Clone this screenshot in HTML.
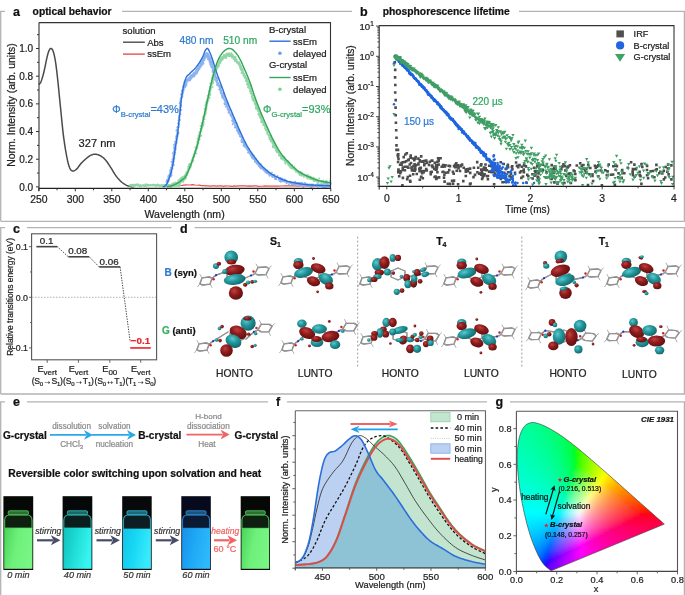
<!DOCTYPE html>
<html><head><meta charset="utf-8"><title>figure</title>
<style>html,body{margin:0;padding:0;background:#fff;overflow:hidden}svg{display:block;will-change:transform;filter:blur(0.35px)}text{font-family:"Liberation Sans",sans-serif}</style>
</head><body>
<svg width="685" height="595" viewBox="0 0 685 595" font-family="Liberation Sans, sans-serif" fill="#222">
<rect width="685" height="595" fill="#fff"/>
<path d="M0.7,221.3 L0.7,11.3 L5,11.3 M122,11.3 L352,11.3 M519,11.3 L684.4,11.3 L684.4,221.3 L0.7,221.3" stroke="#b3b3b3" stroke-width="1.3" fill="none"/>
<path d="M0.7,394 L0.7,227.6 L5,227.6 M27,227.6 L171.5,227.6 M194.5,227.6 L684.4,227.6 L684.4,394 L0.7,394" stroke="#b3b3b3" stroke-width="1.3" fill="none"/>
<path d="M0.7,600 L0.7,401.9 L5,401.9 M27,401.9 L268,401.9 M287,401.9 L487,401.9 M510,401.9 L684.4,401.9 L684.4,600" stroke="#b3b3b3" stroke-width="1.3" fill="none"/>
<text x="13.00" y="15.80" font-size="12.5" font-weight="bold" fill="#111" stroke="#111" stroke-width="0.22">a</text>
<text x="32.60" y="15.40" font-size="10.3" font-weight="bold" fill="#111" stroke="#111" stroke-width="0.22">optical behavior</text>
<path d="M38.80,84.48 L38.96,84.32 L39.18,84.15 L39.43,83.95 L39.71,83.71 L40.02,83.38 L40.34,82.96 L40.67,82.41 L40.99,81.72 L41.32,80.86 L41.67,79.88 L42.03,78.77 L42.40,77.56 L42.78,76.27 L43.16,74.90 L43.54,73.48 L43.91,72.03 L44.28,70.45 L44.66,68.71 L45.04,66.87 L45.42,64.98 L45.79,63.10 L46.15,61.31 L46.50,59.65 L46.83,58.19 L47.14,56.90 L47.43,55.72 L47.70,54.63 L47.97,53.65 L48.23,52.75 L48.49,51.94 L48.75,51.22 L49.02,50.58 L49.29,50.01 L49.57,49.54 L49.84,49.15 L50.11,48.85 L50.39,48.63 L50.66,48.50 L50.94,48.46 L51.21,48.50 L51.48,48.62 L51.76,48.81 L52.03,49.09 L52.30,49.45 L52.58,49.91 L52.85,50.48 L53.13,51.16 L53.40,51.96 L53.67,52.87 L53.95,53.89 L54.22,55.01 L54.49,56.24 L54.77,57.59 L55.04,59.05 L55.32,60.63 L55.59,62.34 L55.86,64.15 L56.12,66.04 L56.38,68.04 L56.64,70.17 L56.91,72.44 L57.18,74.88 L57.47,77.50 L57.78,80.33 L58.11,83.44 L58.46,86.85 L58.82,90.48 L59.19,94.26 L59.57,98.11 L59.95,101.97 L60.33,105.75 L60.70,109.40 L61.06,112.96 L61.41,116.54 L61.76,120.12 L62.11,123.67 L62.47,127.16 L62.84,130.58 L63.22,133.89 L63.62,137.08 L64.05,140.19 L64.50,143.29 L64.97,146.33 L65.44,149.27 L65.92,152.07 L66.39,154.69 L66.84,157.09 L67.27,159.22 L67.67,161.08 L68.05,162.70 L68.42,164.10 L68.78,165.32 L69.13,166.38 L69.48,167.31 L69.83,168.15 L70.19,168.91 L70.55,169.56 L70.90,170.06 L71.25,170.43 L71.60,170.68 L71.96,170.84 L72.33,170.94 L72.71,170.98 L73.11,170.98 L73.53,170.95 L73.95,170.84 L74.39,170.66 L74.84,170.42 L75.31,170.12 L75.78,169.77 L76.26,169.36 L76.76,168.91 L77.27,168.38 L77.79,167.75 L78.32,167.06 L78.86,166.31 L79.41,165.55 L79.98,164.79 L80.55,164.05 L81.14,163.37 L81.75,162.72 L82.38,162.07 L83.03,161.43 L83.69,160.80 L84.36,160.19 L85.01,159.61 L85.64,159.05 L86.25,158.53 L86.83,158.04 L87.40,157.57 L87.95,157.12 L88.49,156.70 L89.02,156.31 L89.55,155.96 L90.09,155.63 L90.63,155.34 L91.17,155.09 L91.71,154.86 L92.24,154.67 L92.77,154.51 L93.31,154.38 L93.86,154.29 L94.43,154.24 L95.01,154.24 L95.61,154.27 L96.24,154.35 L96.87,154.46 L97.52,154.61 L98.17,154.80 L98.83,155.03 L99.48,155.31 L100.12,155.62 L100.76,155.98 L101.40,156.37 L102.04,156.79 L102.67,157.27 L103.31,157.78 L103.95,158.35 L104.59,158.96 L105.23,159.64 L105.87,160.37 L106.51,161.18 L107.15,162.05 L107.78,162.97 L108.42,163.91 L109.06,164.88 L109.70,165.86 L110.34,166.83 L110.98,167.83 L111.62,168.89 L112.26,169.97 L112.89,171.06 L113.53,172.15 L114.17,173.20 L114.81,174.20 L115.45,175.14 L116.09,176.01 L116.73,176.84 L117.37,177.64 L118.00,178.40 L118.64,179.12 L119.28,179.81 L119.92,180.47 L120.56,181.09 L121.20,181.67 L121.84,182.22 L122.48,182.74 L123.11,183.22 L123.75,183.66 L124.39,184.08 L125.03,184.46 L125.67,184.82 L126.32,185.15 L127.00,185.45 L127.68,185.71 L128.36,185.94 L129.02,186.15 L129.66,186.33 L130.25,186.48 L130.78,186.62 L131.27,186.73 L131.73,186.81 L132.16,186.85 L132.56,186.87 L132.92,186.88 L133.23,186.89 L133.49,186.89 L133.70,186.90" fill="none" stroke="#4a4a4a" stroke-width="1.5"/>
<path d="M177.50,185.89 L179.69,185.54 L181.88,185.41 L184.07,185.05 L186.26,184.82 L188.45,184.98 L190.64,184.96 L192.83,184.55 L195.02,185.02 L197.21,185.25 L199.40,185.07 L201.59,185.58 L203.78,185.56 L205.97,185.89 L208.16,185.89 L210.35,186.21 L212.54,185.97 L214.73,185.85 L216.92,186.05 L219.11,185.93 L221.30,185.97 L223.49,186.31 L225.68,185.93 L227.87,186.02 L230.06,186.18 L232.25,186.33 L234.44,185.87 L236.63,186.08 L238.82,185.95 L241.01,185.86 L243.20,185.95 L245.39,185.84 L247.58,186.13 L249.77,185.90 L251.96,186.10 L254.15,185.83 L256.34,185.86 L258.53,186.29 L260.72,186.27 L262.91,186.23 L265.10,185.81 L267.29,186.10 L269.48,186.00 L271.67,186.18 L273.86,186.07 L276.05,186.13 L278.24,186.15 L280.43,186.02 L282.62,186.02 L284.81,185.85 L287.00,185.97 L289.19,185.83 L291.38,185.87 L293.57,185.80 L295.76,185.97 L297.95,186.26 L300.14,185.87 L302.33,185.81 L304.52,185.85 L306.71,186.03 L308.90,185.95 L311.09,186.23 L313.28,185.89 L315.47,186.03 L317.66,186.19 L319.85,186.31 L322.04,185.87 L324.23,185.80 L326.42,186.30 L328.61,185.90 L330.80,186.12" fill="none" stroke="#e8504a" stroke-width="1.2"/>
<path d="M129.32,185.86 L130.05,185.66 L130.78,185.01 L131.51,184.86 L132.24,186.01 L132.97,185.22 L133.70,186.01 L134.43,185.08 L135.16,185.61 L135.89,184.85 L136.62,184.71 L137.35,185.37 L138.08,184.69 L138.81,185.64 L139.54,185.96 L140.27,185.24 L141.00,186.03 L141.73,185.80 L142.46,185.51 L143.19,185.22 L143.92,185.85 L144.65,186.01 L145.38,184.87 L146.11,185.64 L146.84,184.74 L147.57,184.83 L148.30,185.55 L149.03,185.43 L149.76,185.35 L150.49,185.18 L151.22,185.25 L151.95,185.30 L152.68,185.21 L153.41,184.77 L154.14,185.37 L154.87,185.47 L155.60,185.07 L156.33,185.74 L157.06,185.65 L157.79,184.72 L158.52,185.35 L159.25,185.31 L159.98,186.05 L160.71,185.49 L161.44,185.27 L162.17,186.04 L162.90,185.22 L163.63,185.19 L164.36,185.99 L165.09,185.20 L165.82,185.42 L166.55,185.13 L167.28,185.58 L168.01,185.09 L168.74,185.05 L169.47,186.04 L170.20,185.99 L170.93,185.13 L171.66,184.74 L172.39,185.72 L173.12,185.44 L173.85,185.25 L174.58,185.63 L175.31,185.57 L176.04,185.64 L176.77,185.56 L177.50,185.25 L178.23,185.65 L178.96,185.55 L179.69,185.00 L180.42,186.03" fill="none" stroke="#8fd4a4" stroke-width="2.2"/>
<path d="M169.3,185.4h0.01 M170.1,186.6h0.01 M170.6,185.3h0.01 M170.7,186.9h0.01 M170.7,185.5h0.01 M170.5,186.6h0.01 M171.4,185.0h0.01 M171.3,185.4h0.01 M170.9,186.9h0.01 M171.8,185.1h0.01 M171.6,186.1h0.01 M171.2,185.6h0.01 M172.2,184.0h0.01 M172.0,186.2h0.01 M172.4,184.3h0.01 M172.2,184.7h0.01 M172.6,185.9h0.01 M172.4,184.7h0.01 M172.2,186.1h0.01 M172.0,185.8h0.01 M173.1,185.0h0.01 M174.2,185.3h0.01 M174.3,183.3h0.01 M171.7,186.0h0.01 M173.7,184.7h0.01 M173.3,183.3h0.01 M173.2,184.0h0.01 M173.4,185.7h0.01 M173.9,185.1h0.01 M173.4,184.4h0.01 M174.2,184.4h0.01 M174.9,183.9h0.01 M175.5,183.7h0.01 M175.0,183.9h0.01 M175.6,184.6h0.01 M174.8,185.1h0.01 M174.5,183.4h0.01 M173.6,185.4h0.01 M174.7,183.7h0.01 M175.1,186.0h0.01 M174.3,184.3h0.01 M175.1,184.6h0.01 M174.5,183.6h0.01 M176.1,185.4h0.01 M176.8,183.1h0.01 M175.9,183.8h0.01 M175.3,182.4h0.01 M176.6,184.0h0.01 M176.3,184.7h0.01 M175.7,184.1h0.01 M176.6,183.5h0.01 M176.9,183.7h0.01 M177.0,183.6h0.01 M178.0,183.1h0.01 M177.6,183.8h0.01 M176.8,184.0h0.01 M176.7,184.2h0.01 M176.8,182.7h0.01 M177.6,183.8h0.01 M178.0,183.9h0.01 M177.5,182.1h0.01 M178.0,183.2h0.01 M177.3,183.7h0.01 M178.0,182.0h0.01 M178.3,181.5h0.01 M177.5,183.1h0.01 M177.3,182.6h0.01 M177.4,183.3h0.01 M177.9,182.7h0.01 M177.5,182.2h0.01 M179.1,182.8h0.01 M177.4,183.2h0.01 M179.2,182.0h0.01 M179.6,181.4h0.01 M178.8,183.2h0.01 M179.6,183.4h0.01 M178.4,180.5h0.01 M179.2,180.8h0.01 M179.1,180.8h0.01 M179.8,182.7h0.01 M179.6,181.9h0.01 M179.3,181.6h0.01 M179.7,182.0h0.01 M179.7,181.4h0.01 M180.7,181.9h0.01 M180.4,182.9h0.01 M179.2,180.1h0.01 M180.5,181.2h0.01 M179.9,181.3h0.01 M179.9,180.4h0.01 M179.9,181.0h0.01 M180.0,179.3h0.01 M180.6,181.6h0.01 M179.1,180.6h0.01 M180.3,181.7h0.01 M180.3,182.4h0.01 M180.4,180.1h0.01 M180.0,181.7h0.01 M180.2,181.7h0.01 M181.2,181.5h0.01 M181.3,180.7h0.01 M180.7,180.3h0.01 M180.5,179.3h0.01 M180.5,179.7h0.01 M180.1,180.7h0.01 M181.3,180.3h0.01 M182.0,181.3h0.01 M181.8,179.9h0.01 M180.4,180.8h0.01 M181.5,180.9h0.01 M181.7,181.3h0.01 M181.3,180.8h0.01 M181.1,178.0h0.01 M181.4,181.4h0.01 M180.8,180.8h0.01 M181.4,179.6h0.01 M182.0,180.0h0.01 M181.4,179.9h0.01 M182.4,180.4h0.01 M181.6,181.1h0.01 M183.4,181.8h0.01 M181.5,179.7h0.01 M181.3,179.8h0.01 M182.7,178.4h0.01 M181.6,179.5h0.01 M183.0,178.6h0.01 M182.6,177.0h0.01 M182.3,179.4h0.01 M183.0,180.6h0.01 M182.2,177.1h0.01 M183.3,178.5h0.01 M183.2,179.7h0.01 M183.6,180.2h0.01 M184.0,177.4h0.01 M183.4,180.6h0.01 M183.2,179.6h0.01 M183.5,178.2h0.01 M184.5,179.5h0.01 M183.6,179.3h0.01 M182.9,177.8h0.01 M184.4,178.3h0.01 M183.3,178.7h0.01 M184.3,179.3h0.01 M184.7,177.9h0.01 M184.0,177.8h0.01 M184.1,179.2h0.01 M185.4,178.9h0.01 M184.7,177.5h0.01 M185.2,177.1h0.01 M184.8,176.0h0.01 M184.6,178.5h0.01 M184.2,175.9h0.01 M184.9,178.4h0.01 M185.9,176.6h0.01 M184.9,176.5h0.01 M184.6,176.7h0.01 M185.2,175.0h0.01 M185.0,176.1h0.01 M185.1,175.0h0.01 M186.1,177.7h0.01 M185.6,175.2h0.01 M186.1,175.4h0.01 M185.5,176.5h0.01 M185.4,174.6h0.01 M185.8,174.1h0.01 M186.1,175.4h0.01 M187.3,175.1h0.01 M186.4,173.3h0.01 M186.6,173.2h0.01 M186.6,174.9h0.01 M187.0,173.4h0.01 M186.4,173.6h0.01 M187.1,172.3h0.01 M186.8,173.9h0.01 M186.3,172.3h0.01 M186.6,174.1h0.01 M187.9,172.7h0.01 M187.8,172.5h0.01 M187.9,170.3h0.01 M187.9,172.2h0.01 M187.1,171.9h0.01 M188.4,169.8h0.01 M187.9,170.4h0.01 M187.9,171.0h0.01 M187.7,170.0h0.01 M188.6,170.8h0.01 M188.7,169.4h0.01 M189.1,167.8h0.01 M189.5,168.8h0.01 M188.2,168.7h0.01 M188.0,166.7h0.01 M188.9,167.8h0.01 M189.8,167.2h0.01 M188.6,167.1h0.01 M190.6,167.4h0.01 M189.2,166.5h0.01 M189.2,166.7h0.01 M190.1,167.8h0.01 M190.8,166.5h0.01 M189.7,165.5h0.01 M188.9,164.7h0.01 M190.6,165.3h0.01 M190.8,163.8h0.01 M191.1,165.3h0.01 M190.8,164.8h0.01 M189.4,163.9h0.01 M190.5,165.4h0.01 M190.9,163.4h0.01 M191.8,162.2h0.01 M192.1,162.5h0.01 M191.5,161.7h0.01 M192.0,160.6h0.01 M192.2,161.1h0.01 M191.8,160.8h0.01 M192.1,161.3h0.01 M192.4,161.4h0.01 M192.6,161.3h0.01 M192.0,159.4h0.01 M191.8,160.3h0.01 M192.3,160.7h0.01 M192.8,158.1h0.01 M193.3,160.7h0.01 M192.9,157.4h0.01 M192.5,159.1h0.01 M192.9,157.1h0.01 M193.7,157.5h0.01 M193.6,156.3h0.01 M193.2,156.9h0.01 M193.9,156.5h0.01 M193.5,156.3h0.01 M194.4,155.3h0.01 M194.4,156.2h0.01 M194.4,154.6h0.01 M193.7,154.8h0.01 M194.5,153.5h0.01 M194.1,154.2h0.01 M196.4,153.4h0.01 M194.9,153.4h0.01 M194.7,152.3h0.01 M194.7,151.6h0.01 M195.4,151.7h0.01 M195.2,150.8h0.01 M195.7,149.8h0.01 M196.0,150.4h0.01 M195.8,150.7h0.01 M196.1,148.9h0.01 M195.8,149.6h0.01 M195.3,147.1h0.01 M196.2,148.6h0.01 M196.5,148.7h0.01 M196.5,148.1h0.01 M197.2,148.4h0.01 M197.0,146.9h0.01 M197.3,147.1h0.01 M197.3,144.7h0.01 M197.0,146.5h0.01 M196.7,147.1h0.01 M197.2,145.8h0.01 M196.9,147.0h0.01 M197.6,145.9h0.01 M196.9,145.9h0.01 M197.7,144.5h0.01 M197.4,142.7h0.01 M197.9,143.2h0.01 M198.2,143.2h0.01 M197.3,143.9h0.01 M197.9,142.0h0.01 M197.8,143.5h0.01 M197.8,141.2h0.01 M197.8,141.5h0.01 M197.8,141.9h0.01 M198.1,141.6h0.01 M197.3,141.6h0.01 M198.1,140.9h0.01 M198.5,142.4h0.01 M197.6,139.3h0.01 M199.0,139.4h0.01 M199.3,139.3h0.01 M198.4,140.3h0.01 M199.2,140.0h0.01 M199.1,138.9h0.01 M198.5,138.8h0.01 M199.7,139.1h0.01 M198.9,138.7h0.01 M199.6,138.9h0.01 M199.0,137.8h0.01 M199.4,139.6h0.01 M199.3,138.4h0.01 M198.4,137.4h0.01 M198.5,135.7h0.01 M199.1,135.9h0.01 M199.6,136.4h0.01 M199.8,135.0h0.01 M201.2,135.8h0.01 M200.2,136.6h0.01 M200.4,135.3h0.01 M200.1,135.8h0.01 M199.3,133.2h0.01 M200.2,131.6h0.01 M199.6,134.4h0.01 M200.0,132.9h0.01 M200.7,131.7h0.01 M200.6,131.4h0.01 M199.8,131.7h0.01 M200.6,130.9h0.01 M200.2,132.1h0.01 M201.5,131.0h0.01 M200.8,129.5h0.01 M200.5,128.7h0.01 M201.1,130.5h0.01 M201.7,128.9h0.01 M201.0,129.1h0.01 M201.5,128.6h0.01 M202.3,127.5h0.01 M202.8,125.4h0.01 M200.5,125.9h0.01 M201.2,126.2h0.01 M203.0,125.8h0.01 M202.6,125.3h0.01 M202.1,124.7h0.01 M203.5,124.7h0.01 M201.8,126.8h0.01 M202.5,124.3h0.01 M202.3,123.2h0.01 M201.7,122.9h0.01 M203.5,123.4h0.01 M202.7,123.1h0.01 M202.2,123.4h0.01 M203.0,120.6h0.01 M203.4,121.8h0.01 M203.0,120.6h0.01 M203.8,121.7h0.01 M202.9,117.2h0.01 M204.6,119.4h0.01 M203.3,119.1h0.01 M203.3,119.7h0.01 M203.1,117.7h0.01 M203.1,119.2h0.01 M203.8,118.0h0.01 M204.8,116.0h0.01 M204.1,116.8h0.01 M204.2,116.1h0.01 M204.9,116.1h0.01 M204.0,115.2h0.01 M205.0,114.7h0.01 M204.7,113.5h0.01 M205.8,113.5h0.01 M204.9,113.7h0.01 M205.0,113.0h0.01 M204.5,113.2h0.01 M205.8,112.4h0.01 M205.6,112.5h0.01 M205.3,112.9h0.01 M204.9,111.6h0.01 M206.1,110.7h0.01 M204.9,109.5h0.01 M206.6,108.8h0.01 M205.7,110.2h0.01 M205.9,107.3h0.01 M204.7,108.8h0.01 M205.5,107.9h0.01 M206.1,108.2h0.01 M205.4,105.8h0.01 M206.7,106.7h0.01 M205.7,104.7h0.01 M206.7,105.4h0.01 M205.9,106.3h0.01 M206.7,106.2h0.01 M205.9,102.4h0.01 M206.1,104.7h0.01 M206.5,105.0h0.01 M207.1,103.2h0.01 M207.4,103.3h0.01 M206.7,104.4h0.01 M206.2,103.5h0.01 M207.8,100.8h0.01 M207.2,101.7h0.01 M206.7,101.3h0.01 M207.0,101.1h0.01 M207.2,99.1h0.01 M208.4,101.1h0.01 M207.2,101.1h0.01 M209.1,98.2h0.01 M207.6,99.1h0.01 M208.4,98.5h0.01 M207.2,99.9h0.01 M208.0,98.7h0.01 M209.6,97.4h0.01 M208.1,98.1h0.01 M208.3,97.8h0.01 M208.5,99.1h0.01 M208.9,96.9h0.01 M208.8,96.2h0.01 M207.7,95.6h0.01 M209.3,94.0h0.01 M208.9,95.0h0.01 M208.7,96.6h0.01 M209.5,94.7h0.01 M208.7,93.7h0.01 M209.0,93.6h0.01 M209.5,95.2h0.01 M210.2,94.5h0.01 M210.4,94.8h0.01 M209.2,91.1h0.01 M209.9,91.8h0.01 M209.8,91.0h0.01 M210.3,92.4h0.01 M210.0,90.6h0.01 M210.8,89.9h0.01 M209.9,90.4h0.01 M208.9,91.1h0.01 M210.2,89.9h0.01 M210.6,89.1h0.01 M209.6,90.3h0.01 M211.0,88.3h0.01 M212.5,86.9h0.01 M211.2,87.3h0.01 M209.9,89.1h0.01 M210.0,86.8h0.01 M210.9,86.9h0.01 M210.6,87.3h0.01 M211.3,84.9h0.01 M210.6,85.6h0.01 M210.6,85.8h0.01 M211.7,84.2h0.01 M210.3,83.5h0.01 M211.9,83.6h0.01 M212.8,83.7h0.01 M212.1,84.0h0.01 M211.9,83.7h0.01 M212.6,82.7h0.01 M212.2,82.5h0.01 M213.4,82.3h0.01 M212.7,79.5h0.01 M212.1,80.5h0.01 M212.4,81.1h0.01 M211.9,80.7h0.01 M213.0,81.9h0.01 M212.4,81.3h0.01 M212.3,80.9h0.01 M212.3,80.6h0.01 M214.3,79.4h0.01 M213.8,77.8h0.01 M212.7,81.5h0.01 M213.2,79.0h0.01 M212.2,78.5h0.01 M212.9,79.0h0.01 M213.0,80.2h0.01 M212.9,77.7h0.01 M212.3,77.0h0.01 M214.4,76.7h0.01 M212.9,77.3h0.01 M214.4,76.7h0.01 M214.5,75.0h0.01 M215.1,76.3h0.01 M212.8,77.4h0.01 M213.9,75.6h0.01 M213.0,74.6h0.01 M213.2,75.4h0.01 M214.2,73.8h0.01 M214.3,75.1h0.01 M214.0,74.6h0.01 M213.9,72.1h0.01 M214.4,73.3h0.01 M214.9,73.9h0.01 M214.6,72.7h0.01 M215.4,72.9h0.01 M214.9,72.8h0.01 M213.8,71.5h0.01 M214.2,71.7h0.01 M215.8,70.0h0.01 M215.8,71.0h0.01 M215.3,70.6h0.01 M215.9,70.5h0.01 M214.3,70.9h0.01 M215.5,71.1h0.01 M216.1,69.0h0.01 M215.9,70.2h0.01 M215.9,69.7h0.01 M216.1,69.1h0.01 M216.0,70.1h0.01 M215.4,69.1h0.01 M215.6,67.8h0.01 M216.0,68.9h0.01 M217.3,68.1h0.01 M217.0,68.8h0.01 M216.6,65.1h0.01 M216.6,67.9h0.01 M216.1,67.6h0.01 M217.6,66.4h0.01 M216.6,67.8h0.01 M215.8,66.1h0.01 M217.2,67.5h0.01 M217.8,67.3h0.01 M218.6,66.6h0.01 M216.5,66.1h0.01 M217.8,66.2h0.01 M216.3,66.2h0.01 M217.1,65.3h0.01 M218.5,65.3h0.01 M217.4,65.0h0.01 M217.4,66.9h0.01 M218.5,65.6h0.01 M217.5,64.2h0.01 M218.3,62.4h0.01 M218.8,63.2h0.01 M218.4,64.3h0.01 M217.9,64.4h0.01 M218.9,65.4h0.01 M218.8,65.3h0.01 M219.0,63.2h0.01 M219.2,62.9h0.01 M219.0,63.6h0.01 M219.6,63.3h0.01 M218.2,63.9h0.01 M219.2,62.5h0.01 M218.8,63.0h0.01 M219.5,63.1h0.01 M219.4,63.5h0.01 M219.3,62.5h0.01 M219.8,62.8h0.01 M219.2,61.6h0.01 M219.7,61.0h0.01 M219.4,60.5h0.01 M220.5,62.7h0.01 M219.4,62.0h0.01 M219.5,60.3h0.01 M220.0,61.2h0.01 M220.7,59.0h0.01 M219.6,60.9h0.01 M220.4,62.4h0.01 M220.4,59.9h0.01 M221.5,57.9h0.01 M219.6,62.7h0.01 M220.6,60.1h0.01 M220.8,59.2h0.01 M221.0,58.6h0.01 M221.7,60.5h0.01 M221.7,58.8h0.01 M220.1,59.1h0.01 M220.8,59.7h0.01 M220.5,58.5h0.01 M221.7,59.5h0.01 M221.7,58.0h0.01 M221.4,60.7h0.01 M222.3,58.2h0.01 M223.1,58.6h0.01 M221.9,58.0h0.01 M223.0,58.6h0.01 M222.0,57.7h0.01 M221.5,58.5h0.01 M222.3,59.8h0.01 M221.9,57.9h0.01 M223.0,58.9h0.01 M222.2,59.3h0.01 M222.9,58.8h0.01 M222.9,58.8h0.01 M222.5,57.7h0.01 M223.5,58.1h0.01 M223.1,58.8h0.01 M223.2,58.0h0.01 M221.7,57.1h0.01 M223.7,56.7h0.01 M223.0,57.7h0.01 M223.3,58.1h0.01 M223.6,57.2h0.01 M224.1,56.9h0.01 M223.1,57.5h0.01 M224.0,57.0h0.01 M223.0,56.6h0.01 M223.9,57.6h0.01 M224.8,56.8h0.01 M223.8,54.9h0.01 M224.7,57.7h0.01 M224.1,56.1h0.01 M222.5,57.4h0.01 M223.8,58.0h0.01 M224.7,57.8h0.01 M224.3,57.6h0.01 M223.5,57.8h0.01 M224.5,55.4h0.01 M224.3,55.6h0.01 M224.8,55.7h0.01 M223.9,56.0h0.01 M224.7,56.4h0.01 M225.2,57.4h0.01 M225.2,57.6h0.01 M223.5,56.1h0.01 M225.7,54.9h0.01 M225.0,56.2h0.01 M224.3,55.4h0.01 M225.6,55.7h0.01 M226.3,58.0h0.01 M225.3,54.8h0.01 M225.5,55.3h0.01 M224.7,55.4h0.01 M225.4,55.4h0.01 M226.2,56.6h0.01 M226.0,55.3h0.01 M226.0,55.6h0.01 M226.1,54.6h0.01 M224.1,56.3h0.01 M225.7,55.0h0.01 M226.0,55.4h0.01 M226.0,56.7h0.01 M226.3,55.6h0.01 M225.8,55.2h0.01 M226.6,55.2h0.01 M226.6,54.4h0.01 M226.7,54.3h0.01 M226.3,54.5h0.01 M226.7,56.1h0.01 M226.9,54.3h0.01 M226.8,56.0h0.01 M227.3,55.5h0.01 M226.2,54.5h0.01 M226.6,54.6h0.01 M227.1,55.0h0.01 M226.9,55.4h0.01 M226.7,54.6h0.01 M227.3,53.7h0.01 M226.7,53.6h0.01 M226.8,54.7h0.01 M227.3,55.2h0.01 M227.7,53.8h0.01 M228.6,56.0h0.01 M226.9,54.2h0.01 M227.4,55.0h0.01 M228.2,54.8h0.01 M226.3,57.3h0.01 M228.4,55.5h0.01 M227.5,54.8h0.01 M228.6,54.3h0.01 M228.8,54.8h0.01 M229.2,54.8h0.01 M229.1,53.3h0.01 M229.2,55.1h0.01 M228.2,55.7h0.01 M228.4,55.5h0.01 M229.1,55.7h0.01 M230.0,56.0h0.01 M230.2,55.4h0.01 M228.9,55.1h0.01 M228.8,53.6h0.01 M229.1,53.7h0.01 M228.8,54.5h0.01 M228.8,53.8h0.01 M229.2,54.7h0.01 M230.1,55.3h0.01 M229.9,54.3h0.01 M229.3,53.6h0.01 M228.9,55.4h0.01 M229.5,54.6h0.01 M229.3,56.2h0.01 M229.7,55.8h0.01 M229.7,55.6h0.01 M229.3,53.6h0.01 M230.6,54.5h0.01 M230.2,55.6h0.01 M230.5,55.1h0.01 M229.5,54.3h0.01 M230.3,55.5h0.01 M230.7,55.3h0.01 M229.9,54.9h0.01 M231.1,54.2h0.01 M230.2,55.8h0.01 M231.7,55.4h0.01 M230.7,54.2h0.01 M230.8,54.4h0.01 M231.0,55.8h0.01 M231.3,56.4h0.01 M230.5,54.1h0.01 M232.1,56.2h0.01 M230.7,55.4h0.01 M230.8,55.4h0.01 M231.6,56.2h0.01 M231.0,54.4h0.01 M232.0,55.2h0.01 M232.6,54.6h0.01 M231.4,53.2h0.01 M232.7,56.9h0.01 M232.2,55.5h0.01 M231.0,54.7h0.01 M231.9,57.6h0.01 M232.9,55.5h0.01 M232.7,56.5h0.01 M232.9,55.4h0.01 M232.3,57.1h0.01 M233.2,56.1h0.01 M234.3,56.7h0.01 M232.8,57.4h0.01 M233.5,56.5h0.01 M234.3,57.8h0.01 M233.3,57.4h0.01 M233.9,56.8h0.01 M233.9,56.5h0.01 M233.6,57.8h0.01 M233.0,56.9h0.01 M233.4,58.1h0.01 M233.6,59.1h0.01 M235.1,57.1h0.01 M234.3,57.4h0.01 M234.4,58.6h0.01 M235.3,59.9h0.01 M235.8,57.1h0.01 M234.4,58.1h0.01 M234.7,58.6h0.01 M235.3,58.1h0.01 M234.8,60.9h0.01 M235.6,60.7h0.01 M235.1,60.3h0.01 M236.4,60.3h0.01 M235.2,59.8h0.01 M235.2,58.4h0.01 M235.9,60.1h0.01 M235.8,59.6h0.01 M236.5,59.4h0.01 M236.4,60.7h0.01 M236.8,60.8h0.01 M235.8,60.0h0.01 M236.4,61.2h0.01 M235.6,60.7h0.01 M236.0,61.5h0.01 M236.6,61.0h0.01 M237.7,62.8h0.01 M236.6,61.4h0.01 M236.2,61.4h0.01 M237.0,62.2h0.01 M237.6,62.1h0.01 M237.0,61.7h0.01 M237.2,62.3h0.01 M236.9,62.5h0.01 M238.8,65.0h0.01 M239.0,63.8h0.01 M238.8,64.4h0.01 M238.3,63.4h0.01 M237.4,63.0h0.01 M239.2,61.9h0.01 M239.0,63.7h0.01 M238.6,64.1h0.01 M239.0,63.2h0.01 M238.9,62.6h0.01 M240.1,64.5h0.01 M239.7,63.8h0.01 M240.5,65.9h0.01 M239.6,65.2h0.01 M239.9,64.7h0.01 M239.6,65.2h0.01 M240.1,67.2h0.01 M240.6,66.0h0.01 M240.5,66.0h0.01 M239.8,64.8h0.01 M239.5,65.6h0.01 M240.2,66.5h0.01 M240.8,68.1h0.01 M240.9,67.0h0.01 M240.4,67.3h0.01 M241.1,66.7h0.01 M240.0,67.8h0.01 M241.6,69.1h0.01 M241.5,66.7h0.01 M241.1,69.1h0.01 M242.0,70.6h0.01 M240.8,69.2h0.01 M240.6,69.2h0.01 M241.3,70.1h0.01 M241.9,68.3h0.01 M241.7,70.2h0.01 M242.9,69.7h0.01 M241.5,69.8h0.01 M242.8,70.5h0.01 M242.3,71.2h0.01 M242.0,72.3h0.01 M241.5,72.9h0.01 M242.3,71.0h0.01 M242.2,70.7h0.01 M242.4,71.5h0.01 M242.2,72.1h0.01 M243.3,72.2h0.01 M243.2,72.0h0.01 M243.5,72.9h0.01 M242.7,73.3h0.01 M243.5,73.1h0.01 M243.6,74.2h0.01 M243.1,73.8h0.01 M244.2,74.2h0.01 M244.5,76.9h0.01 M243.3,75.1h0.01 M244.1,76.5h0.01 M244.6,74.0h0.01 M245.2,75.8h0.01 M244.4,75.8h0.01 M244.9,75.6h0.01 M244.6,77.5h0.01 M244.4,76.3h0.01 M245.5,76.0h0.01 M245.2,77.7h0.01 M244.7,77.1h0.01 M245.0,77.7h0.01 M245.7,77.9h0.01 M245.9,78.8h0.01 M246.2,77.5h0.01 M246.1,80.5h0.01 M245.9,78.8h0.01 M246.3,78.9h0.01 M246.6,79.6h0.01 M246.4,80.8h0.01 M247.2,78.9h0.01 M246.5,80.5h0.01 M245.9,81.3h0.01 M248.3,82.0h0.01 M247.8,79.5h0.01 M247.0,80.7h0.01 M247.7,81.7h0.01 M247.4,82.9h0.01 M248.0,83.9h0.01 M248.6,83.8h0.01 M246.8,84.1h0.01 M248.1,82.2h0.01 M248.1,83.3h0.01 M248.2,85.0h0.01 M247.4,84.7h0.01 M249.2,83.7h0.01 M249.3,84.1h0.01 M248.3,86.1h0.01 M248.7,83.6h0.01 M248.6,86.5h0.01 M248.6,85.4h0.01 M249.2,86.4h0.01 M248.8,85.6h0.01 M249.7,88.1h0.01 M247.9,87.4h0.01 M250.2,86.8h0.01 M250.5,86.3h0.01 M250.4,89.7h0.01 M250.8,85.8h0.01 M250.1,87.9h0.01 M250.3,90.1h0.01 M250.5,90.9h0.01 M249.3,88.6h0.01 M250.2,90.6h0.01 M251.2,89.2h0.01 M250.2,91.4h0.01 M249.9,91.1h0.01 M250.4,91.1h0.01 M252.2,91.0h0.01 M251.2,91.1h0.01 M251.5,93.2h0.01 M251.7,91.2h0.01 M251.5,93.8h0.01 M251.0,92.9h0.01 M251.0,92.5h0.01 M251.1,92.4h0.01 M252.0,93.6h0.01 M250.6,93.3h0.01 M251.5,93.3h0.01 M252.2,94.7h0.01 M252.4,93.7h0.01 M251.9,95.1h0.01 M252.1,95.2h0.01 M252.1,96.0h0.01 M253.6,95.4h0.01 M251.8,97.0h0.01 M252.2,97.4h0.01 M253.6,98.8h0.01 M253.1,95.8h0.01 M254.2,98.8h0.01 M254.0,98.0h0.01 M253.2,98.6h0.01 M252.3,99.4h0.01 M253.3,98.6h0.01 M253.8,98.4h0.01 M254.3,99.2h0.01 M255.3,100.9h0.01 M254.5,100.7h0.01 M254.1,99.9h0.01 M253.2,100.5h0.01 M253.8,100.5h0.01 M254.6,99.9h0.01 M253.8,101.0h0.01 M254.5,103.0h0.01 M256.4,102.1h0.01 M255.4,102.8h0.01 M255.2,104.4h0.01 M255.3,103.9h0.01 M255.3,102.9h0.01 M256.1,103.9h0.01 M256.3,103.0h0.01 M256.0,106.1h0.01 M255.3,104.9h0.01 M256.8,105.6h0.01 M255.5,104.9h0.01 M256.4,105.3h0.01 M255.9,106.0h0.01 M255.7,108.0h0.01 M256.1,106.4h0.01 M256.7,108.3h0.01 M256.4,108.9h0.01 M258.0,108.3h0.01 M256.1,106.5h0.01 M257.0,108.5h0.01 M257.5,109.4h0.01 M257.7,108.9h0.01 M257.6,107.1h0.01 M258.3,108.1h0.01 M256.5,108.8h0.01 M257.6,109.0h0.01 M257.7,110.2h0.01 M258.5,111.0h0.01 M257.8,110.8h0.01 M259.1,111.1h0.01 M258.3,109.4h0.01 M258.8,113.7h0.01 M259.1,111.7h0.01 M259.6,113.6h0.01 M259.7,111.5h0.01 M258.4,113.8h0.01 M259.4,113.5h0.01 M258.5,114.4h0.01 M260.5,114.8h0.01 M261.2,114.8h0.01 M259.7,116.0h0.01 M260.5,112.9h0.01 M259.0,115.2h0.01 M259.8,117.2h0.01 M261.1,116.7h0.01 M260.2,116.0h0.01 M260.9,115.9h0.01 M261.1,117.0h0.01 M261.1,116.9h0.01 M260.5,114.7h0.01 M260.1,116.0h0.01 M261.6,116.7h0.01 M260.8,118.4h0.01 M261.9,119.5h0.01 M261.7,120.0h0.01 M261.4,120.2h0.01 M260.9,118.8h0.01 M262.2,120.3h0.01 M261.8,119.2h0.01 M261.5,118.3h0.01 M261.1,121.8h0.01 M261.4,119.6h0.01 M261.5,120.7h0.01 M262.6,121.0h0.01 M262.0,121.5h0.01 M262.2,122.5h0.01 M264.0,121.3h0.01 M263.5,122.3h0.01 M263.1,121.6h0.01 M263.6,123.4h0.01 M264.4,125.6h0.01 M263.2,125.0h0.01 M263.4,123.5h0.01 M263.4,125.0h0.01 M264.9,124.5h0.01 M264.6,124.5h0.01 M264.2,124.0h0.01 M264.7,124.0h0.01 M266.1,127.0h0.01 M264.6,126.0h0.01 M264.7,126.5h0.01 M265.4,128.7h0.01 M265.0,125.3h0.01 M265.7,128.0h0.01 M265.1,128.4h0.01 M265.7,127.5h0.01 M265.8,127.1h0.01 M265.9,130.4h0.01 M266.8,129.4h0.01 M266.5,129.7h0.01 M265.7,129.6h0.01 M266.3,129.5h0.01 M267.7,129.4h0.01 M267.0,130.7h0.01 M267.6,130.4h0.01 M267.6,131.6h0.01 M267.2,130.8h0.01 M267.0,132.9h0.01 M267.1,133.0h0.01 M268.9,132.0h0.01 M267.3,131.6h0.01 M267.9,134.4h0.01 M267.7,132.2h0.01 M267.5,133.9h0.01 M268.8,135.2h0.01 M269.0,134.4h0.01 M268.8,137.1h0.01 M270.1,135.9h0.01 M268.9,134.9h0.01 M269.4,135.6h0.01 M269.7,135.1h0.01 M270.9,135.4h0.01 M270.1,137.0h0.01 M270.6,138.2h0.01 M270.2,137.2h0.01 M271.2,138.8h0.01 M270.4,138.4h0.01 M270.0,138.6h0.01 M269.4,139.3h0.01 M270.6,139.7h0.01 M271.3,138.3h0.01 M271.8,141.0h0.01 M270.8,141.2h0.01 M271.9,139.3h0.01 M271.5,140.4h0.01 M272.4,140.0h0.01 M271.7,141.1h0.01 M272.4,143.1h0.01 M272.7,142.1h0.01 M272.0,141.1h0.01 M271.9,141.8h0.01 M273.2,144.0h0.01 M273.4,141.7h0.01 M273.1,145.0h0.01 M273.2,143.5h0.01 M272.6,142.3h0.01 M273.2,143.3h0.01 M274.1,144.0h0.01 M272.7,146.3h0.01 M274.3,143.1h0.01 M275.0,145.4h0.01 M274.2,145.2h0.01 M274.6,143.1h0.01 M275.2,145.9h0.01 M275.0,145.2h0.01 M274.5,147.6h0.01 M272.9,147.3h0.01 M275.9,145.2h0.01 M275.0,146.1h0.01 M275.1,146.0h0.01 M274.6,147.2h0.01 M275.5,148.2h0.01 M276.2,147.1h0.01 M277.2,149.6h0.01 M275.1,148.0h0.01 M276.0,149.0h0.01 M275.7,150.0h0.01 M276.3,150.9h0.01 M276.1,150.8h0.01 M277.0,150.3h0.01 M277.0,149.8h0.01 M276.5,149.7h0.01 M276.6,149.7h0.01 M277.1,151.0h0.01 M277.5,150.1h0.01 M276.5,151.6h0.01 M277.1,150.4h0.01 M278.1,151.2h0.01 M277.9,151.3h0.01 M277.0,152.2h0.01 M278.0,152.3h0.01 M278.4,151.7h0.01 M279.2,152.1h0.01 M279.3,153.0h0.01 M279.1,153.4h0.01 M279.3,152.0h0.01 M278.8,154.1h0.01 M279.1,152.9h0.01 M279.2,154.1h0.01 M279.0,153.6h0.01 M279.2,153.0h0.01 M280.2,153.5h0.01 M279.8,154.4h0.01 M280.3,154.9h0.01 M280.5,153.8h0.01 M278.9,155.6h0.01 M281.3,154.5h0.01 M280.6,156.0h0.01 M280.1,155.2h0.01 M280.6,156.1h0.01 M280.9,157.1h0.01 M280.6,155.3h0.01 M280.3,156.1h0.01 M281.4,156.1h0.01 M281.8,155.5h0.01 M280.9,158.5h0.01 M281.7,155.8h0.01 M282.6,157.1h0.01 M281.5,157.3h0.01 M282.9,158.0h0.01 M282.3,158.9h0.01 M282.1,157.5h0.01 M282.9,156.8h0.01 M283.3,158.4h0.01 M283.5,158.3h0.01 M284.4,157.2h0.01 M283.0,157.9h0.01 M283.5,159.2h0.01 M282.9,159.6h0.01 M284.4,159.1h0.01 M283.0,159.6h0.01 M284.3,158.5h0.01 M283.7,158.8h0.01 M283.5,159.9h0.01 M285.0,159.9h0.01 M284.3,159.9h0.01 M284.7,161.6h0.01 M284.7,160.7h0.01 M284.8,161.3h0.01 M284.8,161.0h0.01 M285.1,161.1h0.01 M284.8,160.8h0.01 M286.2,161.5h0.01 M285.3,163.5h0.01 M286.2,161.0h0.01 M286.0,160.7h0.01 M287.1,162.6h0.01 M287.4,160.9h0.01 M285.4,159.9h0.01 M286.0,161.6h0.01 M286.2,160.6h0.01 M287.5,161.8h0.01 M287.4,163.5h0.01 M287.1,162.3h0.01 M288.3,161.4h0.01 M287.6,162.1h0.01 M287.7,162.6h0.01 M288.3,163.0h0.01 M288.9,162.7h0.01 M288.5,164.4h0.01 M288.0,163.2h0.01 M288.9,163.8h0.01 M289.4,163.5h0.01 M288.4,165.1h0.01 M288.8,163.9h0.01 M289.5,165.9h0.01 M290.2,165.0h0.01 M290.2,164.9h0.01 M291.1,166.2h0.01 M289.9,166.5h0.01 M289.6,164.9h0.01 M290.4,167.4h0.01 M292.0,166.1h0.01 M290.9,167.6h0.01 M290.9,167.8h0.01 M291.1,167.7h0.01 M291.2,168.3h0.01 M292.1,166.6h0.01 M292.1,165.0h0.01 M292.5,168.2h0.01 M293.8,166.6h0.01 M293.6,169.1h0.01 M293.3,167.6h0.01 M293.3,167.6h0.01 M293.4,167.3h0.01 M293.4,168.8h0.01 M293.1,167.5h0.01 M294.0,169.3h0.01 M294.5,169.4h0.01 M295.5,169.4h0.01 M295.3,168.5h0.01 M295.3,170.4h0.01 M296.0,169.2h0.01 M296.4,170.0h0.01 M295.1,168.6h0.01 M296.3,170.0h0.01 M296.2,170.6h0.01 M296.6,170.8h0.01 M295.7,170.4h0.01 M296.5,171.5h0.01 M296.1,171.9h0.01 M295.7,170.2h0.01 M297.4,171.7h0.01 M298.6,172.7h0.01 M296.8,170.7h0.01 M297.8,171.9h0.01 M298.2,171.5h0.01 M297.8,171.6h0.01 M298.2,171.5h0.01 M298.5,173.2h0.01 M298.5,171.5h0.01 M299.3,173.5h0.01 M298.5,172.4h0.01 M298.5,172.1h0.01 M298.7,171.8h0.01 M299.5,175.0h0.01 M300.5,172.9h0.01 M300.5,173.6h0.01 M300.3,171.7h0.01 M300.6,172.7h0.01 M300.4,173.6h0.01 M298.9,171.6h0.01 M301.3,175.2h0.01 M302.0,173.2h0.01 M301.3,174.7h0.01 M301.8,172.4h0.01 M302.4,173.8h0.01 M302.3,173.0h0.01 M301.7,175.7h0.01 M302.5,175.2h0.01 M303.8,174.8h0.01 M303.2,174.8h0.01 M303.7,175.3h0.01 M303.9,176.7h0.01 M304.0,176.4h0.01 M303.6,175.2h0.01 M304.5,174.7h0.01 M303.6,175.5h0.01 M304.2,176.0h0.01 M305.9,175.4h0.01 M304.3,175.5h0.01 M305.0,175.5h0.01 M306.1,176.5h0.01 M306.1,176.0h0.01 M306.4,176.1h0.01 M307.3,176.4h0.01 M306.2,177.0h0.01 M308.0,175.0h0.01 M307.0,175.5h0.01 M306.1,176.4h0.01 M307.6,175.3h0.01 M307.3,178.6h0.01 M308.3,176.6h0.01 M308.4,177.2h0.01 M307.7,176.4h0.01 M309.2,176.7h0.01 M308.4,176.9h0.01 M308.0,177.3h0.01 M310.0,176.6h0.01 M309.3,178.8h0.01 M309.6,177.7h0.01 M310.2,178.2h0.01 M309.7,177.1h0.01 M310.0,176.5h0.01 M310.3,177.9h0.01 M310.3,176.8h0.01 M310.4,176.6h0.01 M311.5,177.3h0.01 M311.7,177.6h0.01 M312.0,179.1h0.01 M312.1,178.3h0.01 M310.9,179.2h0.01 M311.6,177.4h0.01 M311.8,179.2h0.01 M312.9,179.3h0.01 M313.4,180.1h0.01 M312.7,179.1h0.01 M313.2,179.0h0.01 M313.3,179.5h0.01 M313.6,179.6h0.01 M314.4,179.2h0.01 M314.7,178.8h0.01 M313.8,181.2h0.01 M314.7,180.9h0.01 M313.6,177.6h0.01 M315.2,179.7h0.01 M313.8,180.6h0.01 M316.1,179.4h0.01 M316.1,180.6h0.01 M316.2,179.7h0.01 M316.6,179.8h0.01 M316.3,179.1h0.01 M316.7,181.5h0.01 M316.8,180.0h0.01 M316.3,180.3h0.01 M318.1,180.5h0.01 M317.9,181.6h0.01 M317.5,180.2h0.01 M318.4,180.5h0.01 M317.9,180.9h0.01 M318.7,181.9h0.01 M318.5,181.3h0.01 M319.3,178.5h0.01 M319.9,181.1h0.01 M318.5,182.8h0.01 M320.3,181.5h0.01 M321.4,182.2h0.01 M319.9,181.4h0.01 M321.6,182.5h0.01 M322.0,181.5h0.01 M321.8,180.9h0.01 M321.5,182.2h0.01 M321.6,182.1h0.01 M322.1,181.9h0.01 M323.5,182.2h0.01 M323.4,180.5h0.01 M322.4,182.6h0.01 M322.4,181.5h0.01 M323.1,182.9h0.01 M322.8,181.5h0.01 M323.9,182.1h0.01 M323.5,183.2h0.01 M324.9,183.2h0.01 M325.4,182.7h0.01 M324.9,181.9h0.01 M324.8,182.6h0.01 M324.8,183.2h0.01 M326.4,181.8h0.01 M326.2,180.8h0.01 M326.0,181.7h0.01 M325.8,181.8h0.01 M327.0,181.8h0.01 M326.6,181.3h0.01 M326.4,183.0h0.01 M327.3,183.6h0.01 M327.4,182.1h0.01 M328.5,183.8h0.01 M329.1,183.4h0.01 M327.7,183.1h0.01 M330.0,180.7h0.01 M329.1,184.7h0.01 M328.6,183.0h0.01 M330.5,183.2h0.01 M329.7,183.6h0.01 M329.5,183.5h0.01 M329.8,183.6h0.01 M329.4,182.7h0.01 M330.3,180.8h0.01 M330.7,182.6h0.01" stroke="#93d6a6" stroke-width="1.9" stroke-linecap="round" fill="none"/>
<path d="M166.4,181.4h0.01 M166.7,181.9h0.01 M167.3,183.7h0.01 M166.7,181.6h0.01 M167.1,181.6h0.01 M167.4,180.0h0.01 M167.7,181.3h0.01 M167.0,179.9h0.01 M168.1,181.9h0.01 M167.8,181.5h0.01 M168.3,180.6h0.01 M168.3,179.5h0.01 M168.5,177.6h0.01 M168.7,181.3h0.01 M169.0,178.6h0.01 M168.1,179.8h0.01 M168.0,179.1h0.01 M168.5,180.1h0.01 M168.4,177.7h0.01 M169.1,179.2h0.01 M168.8,176.4h0.01 M168.2,176.2h0.01 M169.2,176.1h0.01 M169.2,175.7h0.01 M169.2,176.9h0.01 M168.7,177.4h0.01 M169.7,175.0h0.01 M169.4,175.7h0.01 M169.3,174.6h0.01 M170.0,173.4h0.01 M171.6,175.2h0.01 M170.8,176.5h0.01 M170.7,173.8h0.01 M170.2,174.3h0.01 M171.4,172.3h0.01 M171.6,172.8h0.01 M170.0,173.6h0.01 M170.4,173.1h0.01 M170.1,172.4h0.01 M170.6,172.8h0.01 M170.1,170.4h0.01 M170.5,171.2h0.01 M170.6,170.0h0.01 M171.2,169.9h0.01 M171.5,169.8h0.01 M170.4,170.5h0.01 M170.9,168.0h0.01 M172.6,168.1h0.01 M171.7,168.6h0.01 M171.4,167.8h0.01 M171.7,166.9h0.01 M171.2,168.0h0.01 M172.1,166.8h0.01 M172.1,165.7h0.01 M172.9,164.7h0.01 M172.8,164.7h0.01 M172.0,164.5h0.01 M173.8,165.3h0.01 M172.6,163.9h0.01 M173.3,163.1h0.01 M171.6,161.7h0.01 M172.7,162.0h0.01 M172.7,163.0h0.01 M172.7,161.1h0.01 M173.0,161.9h0.01 M174.0,161.4h0.01 M173.0,159.4h0.01 M172.5,159.3h0.01 M173.9,159.4h0.01 M173.5,158.0h0.01 M173.4,157.3h0.01 M174.4,158.0h0.01 M173.5,157.0h0.01 M173.6,157.1h0.01 M173.4,156.3h0.01 M173.8,156.9h0.01 M174.2,155.8h0.01 M173.6,155.2h0.01 M172.7,153.4h0.01 M173.8,152.1h0.01 M174.9,154.2h0.01 M174.3,155.5h0.01 M173.4,152.5h0.01 M174.4,152.0h0.01 M175.3,152.6h0.01 M174.7,150.7h0.01 M174.7,150.8h0.01 M174.9,149.4h0.01 M174.1,150.9h0.01 M174.8,149.8h0.01 M174.8,146.6h0.01 M175.7,147.7h0.01 M174.2,148.8h0.01 M175.8,149.3h0.01 M174.8,146.8h0.01 M175.5,147.7h0.01 M174.1,148.0h0.01 M174.1,147.1h0.01 M175.5,146.7h0.01 M175.4,146.8h0.01 M175.7,144.6h0.01 M175.1,146.6h0.01 M174.4,145.3h0.01 M175.2,143.1h0.01 M175.2,144.4h0.01 M174.0,144.8h0.01 M176.6,142.9h0.01 M175.6,143.4h0.01 M176.5,141.7h0.01 M175.6,142.9h0.01 M175.1,142.2h0.01 M176.0,142.7h0.01 M175.5,141.2h0.01 M176.4,141.3h0.01 M175.6,141.6h0.01 M176.2,140.7h0.01 M176.4,140.5h0.01 M176.5,139.3h0.01 M177.0,139.1h0.01 M176.6,139.3h0.01 M175.9,138.5h0.01 M176.8,137.1h0.01 M176.6,137.6h0.01 M177.2,137.4h0.01 M176.9,137.4h0.01 M176.1,136.2h0.01 M176.8,136.7h0.01 M177.8,136.1h0.01 M177.1,134.8h0.01 M177.2,136.7h0.01 M177.2,133.8h0.01 M178.2,134.2h0.01 M177.3,132.6h0.01 M178.0,133.2h0.01 M176.4,130.5h0.01 M177.7,131.9h0.01 M177.9,131.8h0.01 M178.6,132.7h0.01 M177.1,130.0h0.01 M177.3,131.1h0.01 M177.0,129.7h0.01 M176.9,130.1h0.01 M178.8,126.5h0.01 M178.1,127.4h0.01 M177.2,127.5h0.01 M177.7,127.6h0.01 M178.6,127.0h0.01 M178.1,126.1h0.01 M178.6,123.7h0.01 M179.1,124.1h0.01 M178.4,122.8h0.01 M177.9,123.6h0.01 M179.8,119.8h0.01 M178.9,120.9h0.01 M178.5,120.5h0.01 M180.0,120.0h0.01 M178.9,119.8h0.01 M178.9,117.7h0.01 M178.9,117.7h0.01 M179.3,117.0h0.01 M179.0,115.7h0.01 M179.4,116.9h0.01 M179.6,113.0h0.01 M180.6,114.1h0.01 M179.7,112.8h0.01 M179.8,110.5h0.01 M179.9,112.1h0.01 M180.4,110.3h0.01 M179.8,110.0h0.01 M181.3,109.9h0.01 M180.4,107.6h0.01 M180.0,107.7h0.01 M180.4,105.9h0.01 M180.1,105.7h0.01 M181.2,106.0h0.01 M180.4,105.2h0.01 M181.1,104.4h0.01 M180.4,101.8h0.01 M179.7,103.5h0.01 M180.7,102.3h0.01 M179.9,102.4h0.01 M180.3,101.9h0.01 M181.1,100.2h0.01 M180.4,101.0h0.01 M180.5,99.1h0.01 M181.2,100.7h0.01 M181.2,98.8h0.01 M181.8,96.5h0.01 M181.0,97.4h0.01 M181.1,98.5h0.01 M181.4,97.4h0.01 M182.3,96.6h0.01 M182.1,97.3h0.01 M182.5,96.0h0.01 M181.0,94.5h0.01 M182.0,95.4h0.01 M182.3,94.3h0.01 M181.6,94.9h0.01 M182.9,93.5h0.01 M182.4,94.3h0.01 M182.2,93.2h0.01 M183.1,92.2h0.01 M182.6,91.4h0.01 M182.0,90.4h0.01 M183.0,93.6h0.01 M182.6,92.8h0.01 M183.6,90.4h0.01 M183.5,90.4h0.01 M181.8,90.9h0.01 M182.9,89.9h0.01 M183.7,90.4h0.01 M183.1,89.7h0.01 M183.6,88.1h0.01 M183.8,88.4h0.01 M183.8,89.1h0.01 M184.1,86.6h0.01 M183.3,87.5h0.01 M183.2,87.6h0.01 M183.8,87.3h0.01 M185.2,87.4h0.01 M184.0,86.0h0.01 M183.9,86.5h0.01 M184.5,85.1h0.01 M184.0,85.2h0.01 M183.3,86.3h0.01 M184.2,86.0h0.01 M185.5,86.5h0.01 M184.4,85.5h0.01 M184.3,84.5h0.01 M183.7,85.4h0.01 M184.8,85.2h0.01 M185.9,83.5h0.01 M185.1,83.6h0.01 M185.7,83.6h0.01 M186.1,85.5h0.01 M186.4,85.2h0.01 M185.5,83.1h0.01 M184.5,83.2h0.01 M184.5,81.8h0.01 M186.2,83.5h0.01 M185.0,84.3h0.01 M185.0,81.3h0.01 M186.7,83.5h0.01 M185.7,82.6h0.01 M185.1,82.5h0.01 M185.7,82.6h0.01 M185.8,81.0h0.01 M186.6,82.1h0.01 M186.1,79.9h0.01 M186.6,82.5h0.01 M187.0,79.8h0.01 M186.6,81.2h0.01 M187.7,80.7h0.01 M186.6,82.3h0.01 M186.2,80.0h0.01 M186.3,81.6h0.01 M186.7,81.0h0.01 M186.6,81.7h0.01 M187.6,79.7h0.01 M187.7,80.6h0.01 M187.5,79.2h0.01 M188.6,80.2h0.01 M187.4,80.1h0.01 M187.6,78.9h0.01 M188.5,78.4h0.01 M188.4,78.1h0.01 M187.2,80.7h0.01 M187.2,79.7h0.01 M188.4,80.7h0.01 M189.3,80.3h0.01 M188.7,80.4h0.01 M189.0,77.9h0.01 M189.0,78.5h0.01 M190.2,80.3h0.01 M188.4,80.7h0.01 M188.2,79.6h0.01 M188.2,78.6h0.01 M189.1,77.7h0.01 M189.5,79.7h0.01 M190.1,79.7h0.01 M189.6,79.3h0.01 M188.9,78.1h0.01 M190.3,77.3h0.01 M189.2,79.2h0.01 M189.6,77.1h0.01 M189.3,77.5h0.01 M189.1,77.5h0.01 M190.3,77.5h0.01 M190.2,77.2h0.01 M189.9,78.4h0.01 M190.5,77.5h0.01 M190.1,78.6h0.01 M190.2,76.2h0.01 M190.9,78.1h0.01 M190.5,76.8h0.01 M191.4,78.5h0.01 M191.0,77.1h0.01 M191.2,78.7h0.01 M190.6,77.8h0.01 M189.7,76.5h0.01 M191.5,77.0h0.01 M190.4,77.6h0.01 M191.8,77.4h0.01 M191.1,76.5h0.01 M191.4,76.8h0.01 M191.6,76.5h0.01 M192.1,77.4h0.01 M191.8,77.6h0.01 M190.9,78.5h0.01 M191.4,75.9h0.01 M192.4,77.0h0.01 M192.2,74.7h0.01 M192.0,74.9h0.01 M192.8,75.6h0.01 M191.0,75.1h0.01 M192.6,74.8h0.01 M192.9,74.1h0.01 M192.4,76.5h0.01 M192.8,74.6h0.01 M192.4,76.3h0.01 M193.4,75.6h0.01 M193.4,75.2h0.01 M193.2,75.0h0.01 M192.9,76.1h0.01 M192.8,76.9h0.01 M193.8,74.7h0.01 M194.4,76.3h0.01 M193.7,73.7h0.01 M193.8,74.6h0.01 M193.4,73.3h0.01 M193.4,74.5h0.01 M193.8,75.2h0.01 M193.4,74.8h0.01 M193.6,74.6h0.01 M194.4,75.3h0.01 M194.6,73.7h0.01 M194.6,72.5h0.01 M194.5,74.2h0.01 M194.8,73.1h0.01 M194.8,73.8h0.01 M195.0,72.5h0.01 M195.3,73.4h0.01 M194.3,73.0h0.01 M195.7,74.5h0.01 M195.0,72.3h0.01 M195.0,73.6h0.01 M196.2,72.9h0.01 M195.2,74.0h0.01 M195.8,71.8h0.01 M195.4,73.3h0.01 M195.6,72.3h0.01 M195.3,72.8h0.01 M196.8,73.2h0.01 M195.7,71.1h0.01 M197.0,72.5h0.01 M195.2,73.1h0.01 M196.0,71.1h0.01 M196.3,70.4h0.01 M195.8,72.7h0.01 M196.3,71.8h0.01 M197.4,71.5h0.01 M196.6,71.7h0.01 M197.8,71.4h0.01 M196.6,72.7h0.01 M197.9,69.7h0.01 M197.2,72.8h0.01 M196.4,69.3h0.01 M197.6,70.0h0.01 M196.5,71.6h0.01 M197.3,70.6h0.01 M198.3,70.3h0.01 M197.0,72.0h0.01 M198.3,69.8h0.01 M197.5,68.6h0.01 M198.3,68.4h0.01 M199.0,67.8h0.01 M198.6,68.3h0.01 M197.5,69.9h0.01 M198.3,69.7h0.01 M197.6,68.9h0.01 M198.2,69.0h0.01 M199.0,68.7h0.01 M198.1,68.6h0.01 M197.6,68.0h0.01 M199.5,67.8h0.01 M199.3,67.9h0.01 M198.4,68.1h0.01 M199.3,67.9h0.01 M199.3,69.2h0.01 M199.2,68.0h0.01 M198.9,68.2h0.01 M198.9,67.6h0.01 M199.2,67.7h0.01 M199.8,68.1h0.01 M199.7,67.4h0.01 M200.8,66.0h0.01 M199.3,67.3h0.01 M200.0,66.7h0.01 M198.6,66.1h0.01 M200.6,66.8h0.01 M200.2,65.9h0.01 M199.8,65.6h0.01 M200.4,64.0h0.01 M201.2,64.7h0.01 M201.3,66.1h0.01 M200.1,65.2h0.01 M200.9,66.1h0.01 M200.2,65.6h0.01 M201.3,64.7h0.01 M201.1,64.5h0.01 M200.8,63.7h0.01 M200.5,65.2h0.01 M201.5,64.8h0.01 M200.9,64.6h0.01 M201.9,62.9h0.01 M200.7,63.0h0.01 M201.6,63.8h0.01 M202.6,64.6h0.01 M200.1,63.7h0.01 M201.4,64.3h0.01 M201.1,61.8h0.01 M201.2,63.6h0.01 M201.7,63.4h0.01 M203.0,61.8h0.01 M201.8,62.8h0.01 M202.6,61.9h0.01 M202.2,61.5h0.01 M203.1,63.1h0.01 M203.5,63.4h0.01 M202.6,62.8h0.01 M202.9,61.9h0.01 M202.3,61.5h0.01 M202.8,61.8h0.01 M203.3,61.7h0.01 M202.9,62.8h0.01 M202.4,60.3h0.01 M204.3,60.0h0.01 M202.5,62.5h0.01 M202.8,60.2h0.01 M203.0,60.5h0.01 M202.5,58.7h0.01 M202.5,59.3h0.01 M202.8,59.4h0.01 M203.6,60.8h0.01 M202.9,61.5h0.01 M204.4,58.3h0.01 M202.8,61.3h0.01 M203.5,59.6h0.01 M203.2,59.3h0.01 M204.1,59.9h0.01 M203.5,58.6h0.01 M203.3,60.1h0.01 M203.4,58.7h0.01 M203.7,59.0h0.01 M203.0,61.0h0.01 M204.2,60.0h0.01 M203.2,56.9h0.01 M204.0,58.1h0.01 M203.4,59.6h0.01 M203.3,56.7h0.01 M205.2,58.2h0.01 M203.2,58.9h0.01 M203.7,57.3h0.01 M204.0,57.6h0.01 M205.4,56.7h0.01 M203.8,56.4h0.01 M204.3,56.3h0.01 M204.4,58.6h0.01 M205.7,56.9h0.01 M204.6,56.5h0.01 M204.4,57.6h0.01 M203.4,56.1h0.01 M204.1,55.9h0.01 M204.3,57.0h0.01 M204.6,59.1h0.01 M205.5,55.8h0.01 M204.7,55.8h0.01 M205.0,56.4h0.01 M205.3,56.3h0.01 M205.7,56.1h0.01 M205.1,56.5h0.01 M205.1,56.1h0.01 M205.5,56.6h0.01 M205.4,56.5h0.01 M205.0,55.5h0.01 M205.9,57.0h0.01 M205.2,56.9h0.01 M205.1,57.0h0.01 M205.9,55.6h0.01 M205.7,55.0h0.01 M205.2,55.0h0.01 M206.0,56.0h0.01 M205.4,55.4h0.01 M205.0,55.2h0.01 M205.0,56.4h0.01 M206.2,54.6h0.01 M205.4,56.6h0.01 M205.8,54.1h0.01 M205.4,54.5h0.01 M205.7,53.9h0.01 M206.3,54.4h0.01 M207.1,55.7h0.01 M205.1,54.1h0.01 M206.0,53.4h0.01 M205.4,56.2h0.01 M205.7,54.2h0.01 M206.4,55.2h0.01 M206.3,55.6h0.01 M205.9,55.9h0.01 M207.1,54.5h0.01 M206.4,54.6h0.01 M206.1,53.7h0.01 M206.6,53.9h0.01 M206.0,53.9h0.01 M206.7,53.8h0.01 M207.1,53.1h0.01 M206.0,54.5h0.01 M206.5,53.6h0.01 M208.1,54.3h0.01 M205.8,54.7h0.01 M207.9,55.9h0.01 M206.7,54.6h0.01 M208.1,54.9h0.01 M207.1,53.5h0.01 M206.7,55.2h0.01 M205.7,55.0h0.01 M207.0,54.7h0.01 M207.2,55.2h0.01 M208.0,53.6h0.01 M207.8,54.5h0.01 M207.2,55.3h0.01 M207.3,55.8h0.01 M207.0,55.6h0.01 M207.2,53.3h0.01 M206.7,56.3h0.01 M207.3,55.9h0.01 M207.6,54.9h0.01 M209.2,56.6h0.01 M207.0,55.6h0.01 M207.8,53.5h0.01 M207.0,56.7h0.01 M208.6,56.9h0.01 M207.3,56.1h0.01 M208.0,55.7h0.01 M207.7,56.1h0.01 M206.8,53.2h0.01 M207.7,57.4h0.01 M207.3,55.3h0.01 M208.2,55.1h0.01 M208.2,55.6h0.01 M207.9,55.3h0.01 M208.3,56.9h0.01 M209.1,56.0h0.01 M207.5,56.5h0.01 M208.8,55.6h0.01 M208.6,58.7h0.01 M209.0,55.5h0.01 M208.2,55.5h0.01 M207.8,59.2h0.01 M208.4,56.5h0.01 M208.9,56.3h0.01 M209.8,57.9h0.01 M208.8,58.3h0.01 M209.3,58.0h0.01 M207.7,57.2h0.01 M210.0,57.1h0.01 M208.6,57.0h0.01 M209.3,57.6h0.01 M208.7,59.1h0.01 M208.5,58.9h0.01 M209.5,58.7h0.01 M209.8,58.4h0.01 M209.3,60.1h0.01 M209.2,59.1h0.01 M209.3,58.1h0.01 M209.7,57.8h0.01 M210.0,60.0h0.01 M210.0,58.9h0.01 M208.9,58.8h0.01 M211.3,58.4h0.01 M210.2,59.8h0.01 M209.9,58.6h0.01 M209.0,59.6h0.01 M210.0,59.7h0.01 M210.4,59.4h0.01 M209.2,60.3h0.01 M210.0,58.3h0.01 M210.7,60.8h0.01 M210.9,60.5h0.01 M210.4,59.5h0.01 M209.4,62.1h0.01 M209.8,58.9h0.01 M209.9,60.8h0.01 M210.1,60.1h0.01 M210.8,61.3h0.01 M211.3,61.0h0.01 M211.6,62.0h0.01 M210.6,61.4h0.01 M211.1,61.9h0.01 M209.8,61.9h0.01 M210.3,62.4h0.01 M210.0,62.5h0.01 M212.2,62.1h0.01 M212.1,62.5h0.01 M210.6,63.1h0.01 M212.2,61.9h0.01 M210.9,64.8h0.01 M211.1,63.6h0.01 M210.1,64.0h0.01 M210.3,63.4h0.01 M212.1,62.7h0.01 M211.1,66.0h0.01 M212.3,65.0h0.01 M212.2,64.9h0.01 M212.6,63.8h0.01 M212.6,64.8h0.01 M211.6,65.2h0.01 M210.7,65.5h0.01 M211.5,67.2h0.01 M211.8,67.3h0.01 M212.8,68.4h0.01 M212.4,66.4h0.01 M211.5,66.0h0.01 M212.3,65.8h0.01 M212.5,66.6h0.01 M212.4,67.8h0.01 M212.8,67.9h0.01 M212.9,68.8h0.01 M212.5,67.7h0.01 M212.5,67.7h0.01 M213.1,68.6h0.01 M213.3,66.8h0.01 M212.5,68.7h0.01 M213.6,69.2h0.01 M214.0,70.4h0.01 M213.3,68.7h0.01 M213.0,70.5h0.01 M212.5,70.8h0.01 M214.6,71.5h0.01 M214.8,71.9h0.01 M213.9,73.1h0.01 M213.6,72.7h0.01 M212.7,72.0h0.01 M213.5,72.3h0.01 M213.9,72.7h0.01 M214.9,72.4h0.01 M214.8,73.8h0.01 M214.3,71.4h0.01 M213.5,72.7h0.01 M215.0,75.7h0.01 M215.0,73.9h0.01 M215.5,75.0h0.01 M214.5,75.6h0.01 M215.1,74.4h0.01 M215.3,76.5h0.01 M215.7,76.5h0.01 M215.2,75.8h0.01 M216.2,77.3h0.01 M216.8,77.7h0.01 M215.4,76.4h0.01 M217.1,77.5h0.01 M216.9,77.6h0.01 M215.2,77.7h0.01 M216.4,79.4h0.01 M216.3,79.7h0.01 M217.1,78.3h0.01 M216.8,79.6h0.01 M215.6,80.0h0.01 M216.9,78.8h0.01 M216.3,79.2h0.01 M216.4,80.2h0.01 M217.5,79.9h0.01 M216.8,81.9h0.01 M217.2,81.2h0.01 M216.3,81.8h0.01 M217.0,81.8h0.01 M217.4,83.0h0.01 M217.5,82.9h0.01 M217.6,82.4h0.01 M217.3,83.9h0.01 M218.2,84.4h0.01 M218.6,83.4h0.01 M217.4,84.1h0.01 M218.5,83.5h0.01 M217.3,85.2h0.01 M217.2,84.0h0.01 M216.9,84.1h0.01 M219.7,85.4h0.01 M218.8,85.8h0.01 M218.2,85.0h0.01 M220.5,85.6h0.01 M219.0,85.0h0.01 M219.3,87.2h0.01 M219.1,86.8h0.01 M219.6,87.5h0.01 M219.4,87.2h0.01 M219.2,89.4h0.01 M220.1,86.3h0.01 M221.3,87.3h0.01 M220.1,88.0h0.01 M219.8,89.4h0.01 M220.3,88.4h0.01 M220.0,87.5h0.01 M220.3,90.5h0.01 M220.8,89.2h0.01 M220.2,88.7h0.01 M220.8,89.6h0.01 M220.8,90.0h0.01 M221.6,90.8h0.01 M220.7,91.4h0.01 M221.7,94.0h0.01 M220.6,91.7h0.01 M220.7,93.2h0.01 M222.1,93.5h0.01 M222.1,94.0h0.01 M220.9,92.8h0.01 M222.0,94.5h0.01 M222.1,94.4h0.01 M221.4,91.8h0.01 M223.2,93.3h0.01 M222.8,95.4h0.01 M223.2,94.9h0.01 M222.8,94.3h0.01 M223.6,94.9h0.01 M222.2,96.1h0.01 M223.3,93.1h0.01 M221.8,95.4h0.01 M223.8,94.8h0.01 M222.2,97.6h0.01 M222.0,97.1h0.01 M222.8,97.4h0.01 M223.6,96.8h0.01 M224.1,96.8h0.01 M223.5,96.2h0.01 M223.6,96.7h0.01 M224.1,98.4h0.01 M223.7,98.0h0.01 M224.2,98.2h0.01 M223.0,98.2h0.01 M224.1,98.4h0.01 M225.1,100.3h0.01 M224.1,99.7h0.01 M225.2,100.9h0.01 M225.1,100.1h0.01 M225.2,100.3h0.01 M224.9,100.4h0.01 M225.1,101.4h0.01 M224.9,99.9h0.01 M225.3,100.0h0.01 M225.2,101.2h0.01 M225.3,102.3h0.01 M225.6,101.4h0.01 M224.4,103.2h0.01 M226.5,102.7h0.01 M225.0,104.5h0.01 M226.1,102.8h0.01 M224.7,104.5h0.01 M227.4,103.7h0.01 M226.0,104.4h0.01 M226.6,104.0h0.01 M226.1,104.4h0.01 M226.9,104.2h0.01 M225.9,106.7h0.01 M226.5,102.3h0.01 M227.2,106.4h0.01 M226.7,105.1h0.01 M227.8,106.0h0.01 M227.9,106.9h0.01 M227.5,108.8h0.01 M227.9,105.5h0.01 M228.3,108.4h0.01 M228.2,110.0h0.01 M228.5,109.3h0.01 M227.9,107.6h0.01 M227.9,108.5h0.01 M228.6,109.0h0.01 M229.0,109.8h0.01 M227.8,107.5h0.01 M228.6,110.9h0.01 M228.5,109.1h0.01 M228.7,111.2h0.01 M229.2,109.7h0.01 M229.2,110.4h0.01 M229.0,111.6h0.01 M229.4,112.0h0.01 M228.5,112.5h0.01 M228.6,109.6h0.01 M229.4,112.7h0.01 M229.9,113.6h0.01 M230.6,113.7h0.01 M230.0,113.2h0.01 M229.5,113.1h0.01 M230.5,114.4h0.01 M229.3,110.8h0.01 M230.2,113.8h0.01 M231.1,114.4h0.01 M230.9,115.7h0.01 M230.4,115.0h0.01 M231.8,117.1h0.01 M232.0,114.9h0.01 M232.1,115.4h0.01 M231.3,114.9h0.01 M231.0,115.0h0.01 M231.3,114.9h0.01 M231.5,116.5h0.01 M232.3,115.2h0.01 M232.2,118.1h0.01 M232.6,117.6h0.01 M232.6,118.7h0.01 M232.7,118.8h0.01 M233.4,120.8h0.01 M232.7,118.8h0.01 M233.4,118.9h0.01 M232.9,118.5h0.01 M233.3,119.9h0.01 M233.3,119.8h0.01 M233.0,120.8h0.01 M233.1,119.8h0.01 M233.9,120.5h0.01 M232.1,120.5h0.01 M232.5,121.3h0.01 M235.1,122.3h0.01 M232.7,124.3h0.01 M234.1,121.7h0.01 M234.5,122.4h0.01 M233.5,122.7h0.01 M234.9,123.8h0.01 M235.0,123.0h0.01 M235.1,123.1h0.01 M235.5,125.8h0.01 M235.0,125.3h0.01 M236.8,123.1h0.01 M234.8,127.5h0.01 M236.4,126.4h0.01 M235.5,125.6h0.01 M235.4,126.4h0.01 M235.9,125.7h0.01 M235.3,127.2h0.01 M236.3,127.5h0.01 M235.2,127.3h0.01 M236.7,128.5h0.01 M237.0,127.5h0.01 M237.5,128.2h0.01 M237.2,129.8h0.01 M237.8,128.4h0.01 M237.2,129.5h0.01 M238.5,129.7h0.01 M237.5,128.9h0.01 M236.8,130.5h0.01 M237.5,129.0h0.01 M238.5,130.6h0.01 M238.9,130.7h0.01 M238.0,132.7h0.01 M238.2,132.4h0.01 M239.2,130.6h0.01 M237.8,131.2h0.01 M239.4,132.0h0.01 M240.2,133.7h0.01 M239.9,133.7h0.01 M239.9,134.0h0.01 M239.6,133.7h0.01 M238.9,134.0h0.01 M239.2,132.9h0.01 M239.7,134.3h0.01 M239.7,136.0h0.01 M240.8,136.7h0.01 M240.1,136.5h0.01 M240.6,136.9h0.01 M240.8,136.0h0.01 M240.2,136.4h0.01 M241.6,137.4h0.01 M240.5,136.1h0.01 M242.3,137.7h0.01 M242.2,137.1h0.01 M241.1,136.6h0.01 M242.3,137.2h0.01 M241.7,139.6h0.01 M242.0,138.8h0.01 M241.4,140.7h0.01 M242.1,140.6h0.01 M242.1,141.3h0.01 M242.7,139.9h0.01 M241.9,141.8h0.01 M241.5,142.1h0.01 M243.1,142.5h0.01 M243.7,143.1h0.01 M242.4,142.3h0.01 M243.3,141.4h0.01 M243.9,142.4h0.01 M244.7,142.0h0.01 M244.1,144.5h0.01 M243.7,144.1h0.01 M245.0,143.6h0.01 M244.3,143.8h0.01 M245.4,144.8h0.01 M243.5,145.5h0.01 M243.9,144.2h0.01 M243.8,144.1h0.01 M245.3,145.8h0.01 M245.4,144.3h0.01 M245.8,146.8h0.01 M244.4,146.5h0.01 M245.7,145.9h0.01 M245.5,146.4h0.01 M246.0,147.6h0.01 M246.2,147.1h0.01 M246.3,147.7h0.01 M247.2,149.0h0.01 M247.3,147.5h0.01 M247.8,147.9h0.01 M246.4,148.5h0.01 M247.5,148.8h0.01 M247.5,148.4h0.01 M247.9,149.1h0.01 M247.7,150.4h0.01 M248.5,149.3h0.01 M248.1,150.6h0.01 M248.0,150.2h0.01 M248.6,150.3h0.01 M248.5,148.9h0.01 M248.5,152.3h0.01 M248.5,150.2h0.01 M248.0,152.6h0.01 M249.0,152.8h0.01 M250.1,152.1h0.01 M249.9,151.9h0.01 M249.6,151.7h0.01 M249.2,153.1h0.01 M250.4,152.4h0.01 M250.7,153.3h0.01 M249.6,152.8h0.01 M249.8,153.5h0.01 M250.5,153.1h0.01 M250.5,154.4h0.01 M251.3,154.4h0.01 M250.6,153.4h0.01 M250.8,154.8h0.01 M251.1,156.0h0.01 M251.8,154.9h0.01 M250.9,152.9h0.01 M250.6,154.9h0.01 M252.2,156.9h0.01 M252.4,156.3h0.01 M252.1,155.9h0.01 M252.4,155.4h0.01 M251.8,157.4h0.01 M252.7,158.4h0.01 M253.3,158.9h0.01 M253.5,156.3h0.01 M254.0,156.4h0.01 M253.8,157.2h0.01 M252.8,157.8h0.01 M252.8,158.2h0.01 M253.9,157.2h0.01 M253.4,158.0h0.01 M253.7,158.3h0.01 M253.3,158.3h0.01 M253.1,157.6h0.01 M253.9,158.9h0.01 M255.0,158.7h0.01 M254.9,160.3h0.01 M254.6,158.6h0.01 M255.0,160.1h0.01 M254.4,159.4h0.01 M255.4,159.5h0.01 M255.0,159.7h0.01 M255.6,160.8h0.01 M254.9,159.2h0.01 M254.8,161.4h0.01 M256.2,159.0h0.01 M255.7,160.3h0.01 M255.2,161.9h0.01 M256.2,162.1h0.01 M257.8,161.4h0.01 M256.0,160.3h0.01 M257.6,162.3h0.01 M256.5,161.7h0.01 M256.7,163.4h0.01 M258.0,161.6h0.01 M257.9,162.7h0.01 M257.2,163.3h0.01 M258.2,163.1h0.01 M257.6,163.8h0.01 M256.4,163.0h0.01 M257.8,164.5h0.01 M257.4,162.2h0.01 M258.5,163.1h0.01 M258.4,163.4h0.01 M257.6,164.3h0.01 M259.0,163.5h0.01 M258.4,163.0h0.01 M259.7,164.7h0.01 M259.2,164.2h0.01 M258.8,165.4h0.01 M260.7,164.0h0.01 M259.6,165.7h0.01 M259.7,165.4h0.01 M259.9,167.2h0.01 M260.2,165.1h0.01 M259.3,164.6h0.01 M259.0,166.3h0.01 M260.5,166.1h0.01 M261.4,167.3h0.01 M260.6,165.1h0.01 M261.7,167.3h0.01 M260.9,164.5h0.01 M261.8,166.1h0.01 M259.9,166.7h0.01 M262.0,168.2h0.01 M261.0,167.8h0.01 M261.5,167.1h0.01 M260.9,168.6h0.01 M260.7,168.5h0.01 M261.7,166.8h0.01 M261.5,167.7h0.01 M261.5,166.5h0.01 M262.1,167.9h0.01 M262.5,167.5h0.01 M261.8,166.9h0.01 M262.4,168.3h0.01 M262.6,168.3h0.01 M263.0,169.0h0.01 M263.5,169.7h0.01 M263.1,167.7h0.01 M263.6,168.8h0.01 M263.1,169.6h0.01 M262.8,168.9h0.01 M263.5,170.1h0.01 M263.5,170.0h0.01 M264.9,169.9h0.01 M264.8,169.8h0.01 M264.3,170.6h0.01 M264.2,168.3h0.01 M265.0,169.0h0.01 M264.7,170.2h0.01 M265.5,171.6h0.01 M264.6,171.0h0.01 M264.7,171.0h0.01 M265.5,171.3h0.01 M264.6,170.8h0.01 M265.8,171.0h0.01 M266.2,171.0h0.01 M265.1,169.6h0.01 M265.2,171.8h0.01 M266.3,170.2h0.01 M265.8,171.1h0.01 M266.0,170.2h0.01 M266.1,172.7h0.01 M266.8,172.1h0.01 M266.3,172.7h0.01 M266.6,172.4h0.01 M267.9,171.6h0.01 M267.2,172.5h0.01 M267.0,170.1h0.01 M267.4,171.0h0.01 M268.5,172.1h0.01 M268.3,173.3h0.01 M267.2,173.3h0.01 M268.6,173.8h0.01 M268.0,172.1h0.01 M268.0,172.4h0.01 M268.0,172.0h0.01 M269.3,172.9h0.01 M268.8,173.2h0.01 M268.8,173.0h0.01 M269.0,172.3h0.01 M268.8,174.3h0.01 M269.6,172.6h0.01 M268.8,174.2h0.01 M268.9,173.2h0.01 M269.6,173.0h0.01 M269.6,174.3h0.01 M269.6,174.2h0.01 M270.1,174.6h0.01 M269.5,175.8h0.01 M269.8,174.2h0.01 M269.9,174.6h0.01 M271.6,175.0h0.01 M269.0,174.5h0.01 M270.6,174.1h0.01 M271.5,174.8h0.01 M271.3,175.2h0.01 M271.7,175.4h0.01 M271.8,174.7h0.01 M271.5,175.2h0.01 M271.7,175.5h0.01 M271.8,175.9h0.01 M271.9,172.6h0.01 M272.7,176.5h0.01 M271.2,173.8h0.01 M273.6,176.3h0.01 M272.3,176.3h0.01 M272.9,174.6h0.01 M272.4,177.0h0.01 M273.2,175.8h0.01 M273.7,176.7h0.01 M274.5,174.7h0.01 M274.4,177.4h0.01 M274.6,176.7h0.01 M274.1,175.5h0.01 M274.3,177.1h0.01 M274.3,177.0h0.01 M275.0,179.0h0.01 M276.0,177.5h0.01 M276.0,177.9h0.01 M276.1,177.3h0.01 M276.1,177.2h0.01 M275.5,178.0h0.01 M276.4,177.4h0.01 M276.2,178.0h0.01 M277.6,176.1h0.01 M276.3,177.0h0.01 M276.2,179.3h0.01 M277.4,176.2h0.01 M278.6,179.5h0.01 M277.7,177.1h0.01 M279.0,178.1h0.01 M279.2,179.3h0.01 M279.5,181.1h0.01 M279.8,178.2h0.01 M280.0,177.8h0.01 M280.4,178.4h0.01 M280.8,181.8h0.01 M280.2,179.6h0.01 M280.9,178.1h0.01 M281.1,178.9h0.01 M282.3,178.8h0.01 M281.3,179.5h0.01 M281.9,179.0h0.01 M282.2,180.4h0.01 M282.9,179.8h0.01 M281.2,180.5h0.01 M282.8,179.4h0.01 M282.6,181.2h0.01 M282.6,180.1h0.01 M283.3,180.0h0.01 M284.9,179.5h0.01 M283.8,180.6h0.01 M283.5,181.3h0.01 M284.6,181.6h0.01 M284.9,179.6h0.01 M285.6,180.2h0.01 M285.8,180.5h0.01 M286.7,181.6h0.01 M286.5,183.2h0.01 M286.2,182.1h0.01 M287.1,181.3h0.01 M287.5,181.4h0.01 M288.1,181.9h0.01 M287.9,182.2h0.01 M287.4,181.8h0.01 M289.0,184.8h0.01 M289.0,182.3h0.01 M288.8,182.0h0.01 M289.7,181.8h0.01 M290.3,182.3h0.01 M289.9,182.7h0.01 M289.7,182.4h0.01 M291.3,182.9h0.01 M290.8,183.2h0.01 M289.5,182.7h0.01 M290.8,181.8h0.01 M291.8,183.6h0.01 M291.9,184.4h0.01 M293.7,182.1h0.01 M291.9,183.6h0.01 M293.0,184.5h0.01 M293.7,182.8h0.01 M295.6,184.5h0.01 M293.0,182.4h0.01 M295.3,181.8h0.01 M295.0,183.6h0.01 M294.5,184.6h0.01 M295.3,182.7h0.01 M296.7,184.6h0.01 M296.1,183.3h0.01 M296.5,183.9h0.01 M296.5,183.6h0.01 M297.0,184.0h0.01 M298.8,184.4h0.01 M298.7,185.4h0.01 M297.9,182.9h0.01 M298.2,184.4h0.01 M298.5,185.0h0.01 M299.8,184.8h0.01 M298.9,183.9h0.01 M300.4,183.8h0.01 M299.2,183.0h0.01 M300.5,182.9h0.01 M299.9,184.3h0.01 M301.1,183.8h0.01 M300.1,183.5h0.01 M301.1,184.6h0.01 M301.4,182.8h0.01 M302.0,185.4h0.01 M302.7,183.2h0.01 M303.4,187.3h0.01 M302.5,185.5h0.01 M304.4,184.9h0.01 M302.3,183.8h0.01 M304.1,184.7h0.01 M303.8,185.4h0.01 M304.5,183.9h0.01 M304.9,182.9h0.01 M307.0,185.2h0.01 M305.7,184.9h0.01 M306.8,185.5h0.01 M306.3,184.5h0.01 M305.0,183.8h0.01 M306.5,184.1h0.01 M305.7,185.3h0.01 M307.5,184.1h0.01 M307.4,184.7h0.01 M306.7,185.8h0.01 M308.5,185.0h0.01 M308.1,184.8h0.01 M309.2,186.3h0.01 M309.0,185.9h0.01 M310.0,184.5h0.01 M309.2,184.7h0.01 M309.1,184.8h0.01 M309.2,185.1h0.01 M311.2,185.5h0.01 M309.9,186.2h0.01 M310.9,187.1h0.01 M309.9,185.5h0.01 M311.1,185.0h0.01 M311.1,185.4h0.01 M311.6,185.0h0.01 M311.9,188.3h0.01 M313.4,185.0h0.01 M311.7,184.5h0.01 M312.9,184.5h0.01 M312.2,185.2h0.01 M314.4,185.6h0.01 M314.5,185.8h0.01 M315.1,185.4h0.01 M314.8,185.9h0.01 M315.5,185.2h0.01 M314.3,186.4h0.01 M315.7,185.9h0.01 M314.9,185.9h0.01 M316.3,186.0h0.01 M316.7,185.6h0.01 M316.2,186.1h0.01 M316.6,186.4h0.01 M317.6,184.7h0.01 M317.3,183.9h0.01 M319.1,184.8h0.01 M317.6,184.5h0.01 M317.9,186.8h0.01 M319.1,186.3h0.01 M320.1,186.3h0.01 M320.3,184.8h0.01 M321.5,185.7h0.01 M320.6,185.7h0.01 M320.8,185.6h0.01 M321.2,184.2h0.01 M322.5,185.3h0.01 M321.3,185.9h0.01 M322.0,186.8h0.01 M322.6,185.1h0.01 M322.2,185.4h0.01 M323.2,187.0h0.01 M323.7,186.5h0.01 M324.2,187.8h0.01 M325.0,185.9h0.01 M323.9,185.0h0.01 M325.3,186.7h0.01 M324.4,185.9h0.01 M325.4,185.9h0.01 M325.6,184.9h0.01 M326.6,185.0h0.01 M326.7,185.2h0.01 M326.0,183.8h0.01 M326.7,187.3h0.01 M327.5,185.7h0.01 M327.1,185.3h0.01 M329.1,186.5h0.01 M327.7,183.8h0.01 M329.0,186.4h0.01 M328.1,185.4h0.01 M329.5,186.4h0.01 M328.4,186.2h0.01 M328.9,186.2h0.01 M328.6,185.8h0.01 M329.9,186.9h0.01 M330.5,184.5h0.01 M330.5,183.8h0.01 M329.1,186.0h0.01" stroke="#8db3ee" stroke-width="1.9" stroke-linecap="round" fill="none"/>
<path d="M162.90,186.90 L163.17,186.76 L163.52,186.66 L163.94,186.55 L164.41,186.38 L164.91,186.10 L165.45,185.67 L166.00,185.03 L166.55,184.13 L167.13,182.99 L167.76,181.65 L168.42,180.12 L169.11,178.42 L169.79,176.58 L170.45,174.60 L171.08,172.50 L171.66,170.29 L172.19,167.90 L172.69,165.28 L173.17,162.47 L173.62,159.57 L174.06,156.61 L174.48,153.68 L174.90,150.84 L175.31,148.15 L175.70,145.69 L176.07,143.43 L176.43,141.29 L176.77,139.15 L177.11,136.93 L177.47,134.52 L177.84,131.84 L178.23,128.77 L178.65,125.17 L179.09,121.05 L179.55,116.60 L180.01,111.99 L180.48,107.40 L180.95,103.02 L181.42,99.01 L181.88,95.56 L182.33,92.61 L182.78,89.98 L183.22,87.63 L183.66,85.52 L184.11,83.64 L184.57,81.93 L185.04,80.38 L185.53,78.95 L186.04,77.72 L186.57,76.75 L187.12,76.00 L187.67,75.40 L188.24,74.90 L188.80,74.44 L189.36,73.96 L189.91,73.41 L190.46,72.84 L191.00,72.31 L191.55,71.81 L192.10,71.34 L192.65,70.86 L193.20,70.36 L193.74,69.84 L194.29,69.26 L194.84,68.64 L195.39,68.01 L195.95,67.35 L196.50,66.67 L197.05,65.96 L197.60,65.24 L198.14,64.49 L198.67,63.72 L199.20,62.92 L199.73,62.08 L200.27,61.20 L200.79,60.31 L201.30,59.41 L201.79,58.52 L202.26,57.65 L202.69,56.80 L203.08,55.96 L203.43,55.10 L203.77,54.24 L204.08,53.39 L204.37,52.58 L204.66,51.82 L204.95,51.15 L205.24,50.58 L205.53,50.08 L205.81,49.64 L206.09,49.25 L206.36,48.93 L206.62,48.69 L206.89,48.53 L207.16,48.47 L207.43,48.50 L207.70,48.64 L207.96,48.88 L208.22,49.21 L208.48,49.62 L208.75,50.12 L209.02,50.67 L209.31,51.29 L209.62,51.96 L209.94,52.67 L210.26,53.43 L210.60,54.24 L210.94,55.12 L211.31,56.08 L211.69,57.13 L212.10,58.29 L212.54,59.57 L213.01,61.00 L213.52,62.59 L214.04,64.31 L214.59,66.10 L215.16,67.95 L215.74,69.81 L216.33,71.64 L216.92,73.41 L217.52,75.14 L218.15,76.87 L218.78,78.60 L219.43,80.33 L220.08,82.06 L220.74,83.79 L221.39,85.52 L222.03,87.25 L222.66,88.98 L223.29,90.71 L223.91,92.44 L224.54,94.17 L225.17,95.90 L225.81,97.63 L226.47,99.36 L227.14,101.09 L227.83,102.81 L228.53,104.52 L229.24,106.22 L229.97,107.93 L230.70,109.64 L231.45,111.37 L232.21,113.14 L232.98,114.93 L233.76,116.77 L234.55,118.64 L235.36,120.54 L236.17,122.46 L237.00,124.39 L237.84,126.32 L238.69,128.24 L239.55,130.16 L240.43,132.09 L241.32,134.06 L242.23,136.05 L243.15,138.03 L244.08,139.98 L245.01,141.87 L245.93,143.68 L246.85,145.38 L247.77,146.98 L248.69,148.50 L249.62,149.96 L250.55,151.35 L251.47,152.69 L252.38,153.98 L253.27,155.23 L254.15,156.45 L255.01,157.64 L255.84,158.77 L256.67,159.86 L257.48,160.91 L258.29,161.92 L259.09,162.89 L259.90,163.84 L260.72,164.76 L261.54,165.64 L262.35,166.49 L263.15,167.30 L263.96,168.09 L264.77,168.84 L265.60,169.57 L266.43,170.29 L267.29,170.98 L268.13,171.65 L268.94,172.28 L269.75,172.88 L270.57,173.47 L271.45,174.04 L272.39,174.62 L273.43,175.21 L274.59,175.83 L275.88,176.48 L277.26,177.17 L278.74,177.87 L280.29,178.57 L281.91,179.26 L283.57,179.92 L285.27,180.53 L287.00,181.09 L288.79,181.59 L290.66,182.05 L292.60,182.48 L294.57,182.87 L296.56,183.23 L298.53,183.56 L300.46,183.86 L302.33,184.13 L304.13,184.37 L305.88,184.56 L307.61,184.71 L309.31,184.84 L311.01,184.95 L312.72,185.05 L314.44,185.14 L316.20,185.24 L318.09,185.34 L320.14,185.43 L322.26,185.51 L324.37,185.59 L326.36,185.65 L328.16,185.71 L329.67,185.75 L330.80,185.79" fill="none" stroke="#2b6fdc" stroke-width="1.4"/>
<path d="M166.55,186.90 L167.00,186.80 L167.60,186.68 L168.31,186.54 L169.10,186.38 L169.94,186.20 L170.79,185.99 L171.62,185.76 L172.39,185.52 L173.13,185.24 L173.90,184.92 L174.68,184.58 L175.45,184.22 L176.20,183.85 L176.92,183.47 L177.60,183.10 L178.23,182.75 L178.79,182.41 L179.29,182.09 L179.74,181.77 L180.16,181.45 L180.58,181.12 L180.99,180.77 L181.42,180.39 L181.88,179.98 L182.36,179.58 L182.84,179.23 L183.32,178.89 L183.81,178.51 L184.32,178.05 L184.84,177.48 L185.39,176.75 L185.97,175.83 L186.58,174.71 L187.22,173.43 L187.88,172.01 L188.56,170.47 L189.25,168.81 L189.96,167.07 L190.66,165.25 L191.37,163.37 L192.09,161.37 L192.85,159.20 L193.62,156.91 L194.40,154.55 L195.16,152.17 L195.89,149.81 L196.58,147.53 L197.21,145.38 L197.76,143.38 L198.25,141.51 L198.69,139.71 L199.11,137.94 L199.51,136.15 L199.93,134.29 L200.37,132.30 L200.86,130.16 L201.40,127.82 L201.97,125.32 L202.56,122.72 L203.17,120.04 L203.78,117.32 L204.38,114.62 L204.97,111.96 L205.53,109.40 L206.07,106.89 L206.59,104.39 L207.10,101.91 L207.61,99.45 L208.11,97.02 L208.61,94.64 L209.11,92.30 L209.62,90.02 L210.14,87.78 L210.66,85.58 L211.19,83.41 L211.71,81.28 L212.24,79.21 L212.76,77.21 L213.27,75.27 L213.78,73.41 L214.28,71.62 L214.76,69.89 L215.23,68.22 L215.70,66.62 L216.17,65.09 L216.65,63.63 L217.14,62.25 L217.65,60.96 L218.18,59.74 L218.73,58.62 L219.29,57.56 L219.85,56.59 L220.42,55.68 L220.97,54.84 L221.51,54.06 L222.03,53.34 L222.52,52.70 L223.00,52.14 L223.47,51.65 L223.92,51.22 L224.37,50.85 L224.81,50.51 L225.25,50.19 L225.68,49.88 L226.10,49.59 L226.51,49.33 L226.91,49.09 L227.30,48.89 L227.70,48.73 L228.10,48.60 L228.52,48.53 L228.96,48.50 L229.42,48.50 L229.88,48.52 L230.34,48.57 L230.82,48.67 L231.32,48.84 L231.84,49.08 L232.39,49.43 L232.98,49.88 L233.61,50.46 L234.30,51.13 L235.01,51.89 L235.75,52.74 L236.50,53.66 L237.24,54.65 L237.97,55.70 L238.67,56.80 L239.35,57.97 L240.01,59.22 L240.65,60.53 L241.29,61.91 L241.94,63.34 L242.59,64.82 L243.25,66.33 L243.93,67.88 L244.64,69.46 L245.37,71.11 L246.11,72.80 L246.86,74.54 L247.61,76.30 L248.35,78.09 L249.07,79.90 L249.77,81.72 L250.44,83.55 L251.08,85.42 L251.71,87.32 L252.33,89.24 L252.94,91.17 L253.57,93.10 L254.21,95.03 L254.88,96.94 L255.57,98.84 L256.27,100.75 L256.98,102.65 L257.71,104.55 L258.44,106.45 L259.19,108.36 L259.95,110.26 L260.72,112.16 L261.50,114.07 L262.29,115.97 L263.10,117.87 L263.91,119.78 L264.74,121.68 L265.58,123.58 L266.43,125.48 L267.29,127.39 L268.17,129.32 L269.08,131.29 L270.01,133.28 L270.94,135.26 L271.87,137.21 L272.80,139.10 L273.71,140.91 L274.59,142.61 L275.44,144.21 L276.27,145.74 L277.08,147.19 L277.88,148.58 L278.67,149.92 L279.48,151.21 L280.31,152.46 L281.16,153.68 L282.02,154.85 L282.88,155.94 L283.75,156.97 L284.63,157.97 L285.53,158.94 L286.46,159.93 L287.44,160.94 L288.46,161.99 L289.54,163.10 L290.66,164.27 L291.83,165.46 L293.02,166.66 L294.24,167.83 L295.47,168.96 L296.71,170.02 L297.95,170.98 L299.19,171.85 L300.44,172.64 L301.70,173.37 L302.97,174.05 L304.25,174.70 L305.55,175.31 L306.85,175.92 L308.17,176.52 L309.50,177.12 L310.84,177.70 L312.19,178.27 L313.55,178.81 L314.93,179.33 L316.31,179.81 L317.71,180.26 L319.12,180.67 L320.62,181.05 L322.26,181.39 L323.96,181.69 L325.64,181.97 L327.24,182.21 L328.68,182.42 L329.89,182.60 L330.80,182.75" fill="none" stroke="#33a55a" stroke-width="1.4"/>
<path d="M39,22.6 L330.5,22.6 L330.5,188.3 M39,22.6 L39,191" fill="none" stroke="#333" stroke-width="1.1"/>
<path d="M38.5,188.3 L331,188.3" stroke="#222" stroke-width="1.2"/>
<path d="M38.80,188.3 L38.80,191.3 M75.30,188.3 L75.30,191.3 M111.80,188.3 L111.80,191.3 M148.30,188.3 L148.30,191.3 M184.80,188.3 L184.80,191.3 M221.30,188.3 L221.30,191.3 M257.80,188.3 L257.80,191.3 M294.30,188.3 L294.30,191.3 M330.80,188.3 L330.80,191.3 M57.05,188.3 L57.05,190.3 M93.55,188.3 L93.55,190.3 M130.05,188.3 L130.05,190.3 M166.55,188.3 L166.55,190.3 M203.05,188.3 L203.05,190.3 M239.55,188.3 L239.55,190.3 M276.05,188.3 L276.05,190.3 M312.55,188.3 L312.55,190.3 M39,186.90 L36,186.90 M39,173.06 L37,173.06 M39,159.22 L36,159.22 M39,145.38 L37,145.38 M39,131.54 L36,131.54 M39,117.70 L37,117.70 M39,103.86 L36,103.86 M39,90.02 L37,90.02 M39,76.18 L36,76.18 M39,62.34 L37,62.34 M39,48.50 L36,48.50 M39,34.66 L37,34.66" stroke="#333" stroke-width="1"/>
<text x="38.80" y="202.60" font-size="10.4" text-anchor="middle" stroke="#222" stroke-width="0.22">250</text>
<text x="75.30" y="202.60" font-size="10.4" text-anchor="middle" stroke="#222" stroke-width="0.22">300</text>
<text x="111.80" y="202.60" font-size="10.4" text-anchor="middle" stroke="#222" stroke-width="0.22">350</text>
<text x="148.30" y="202.60" font-size="10.4" text-anchor="middle" stroke="#222" stroke-width="0.22">400</text>
<text x="184.80" y="202.60" font-size="10.4" text-anchor="middle" stroke="#222" stroke-width="0.22">450</text>
<text x="221.30" y="202.60" font-size="10.4" text-anchor="middle" stroke="#222" stroke-width="0.22">500</text>
<text x="257.80" y="202.60" font-size="10.4" text-anchor="middle" stroke="#222" stroke-width="0.22">550</text>
<text x="294.30" y="202.60" font-size="10.4" text-anchor="middle" stroke="#222" stroke-width="0.22">600</text>
<text x="330.80" y="202.60" font-size="10.4" text-anchor="middle" stroke="#222" stroke-width="0.22">650</text>
<text x="33.20" y="190.50" font-size="10.0" text-anchor="end" stroke="#222" stroke-width="0.22">0.0</text>
<text x="33.20" y="162.82" font-size="10.0" text-anchor="end" stroke="#222" stroke-width="0.22">0.2</text>
<text x="33.20" y="135.14" font-size="10.0" text-anchor="end" stroke="#222" stroke-width="0.22">0.4</text>
<text x="33.20" y="107.46" font-size="10.0" text-anchor="end" stroke="#222" stroke-width="0.22">0.6</text>
<text x="33.20" y="79.78" font-size="10.0" text-anchor="end" stroke="#222" stroke-width="0.22">0.8</text>
<text x="33.20" y="52.10" font-size="10.0" text-anchor="end" stroke="#222" stroke-width="0.22">1.0</text>
<text x="184.60" y="218.40" font-size="10.6" text-anchor="middle" stroke="#222" stroke-width="0.22">Wavelength (nm)</text>
<text transform="translate(14.5,105.0) rotate(-90)" font-size="10.5" text-anchor="middle" fill="#222" stroke="#222" stroke-width="0.22">Norm. Intensity (arb. units)</text>
<text x="122.60" y="33.80" font-size="9.55" stroke="#222" stroke-width="0.22">solution</text>
<path d="M123,42.2 L144.8,42.2" stroke="#4a4a4a" stroke-width="1.4"/>
<text x="147.20" y="45.50" font-size="9.55" stroke="#222" stroke-width="0.22">Abs</text>
<path d="M123,54.1 L144.8,54.1" stroke="#e8504a" stroke-width="1.4"/>
<text x="147.20" y="57.40" font-size="9.55" stroke="#222" stroke-width="0.22">ssEm</text>
<text x="268.90" y="32.80" font-size="9.55" stroke="#222" stroke-width="0.22">B-crystal</text>
<path d="M269.4,41.2 L290.6,41.2" stroke="#2b6fdc" stroke-width="1.4"/>
<text x="293.10" y="44.90" font-size="9.55" stroke="#222" stroke-width="0.22">ssEm</text>
<circle cx="279.9" cy="53.3" r="1.8" fill="#6f9ff0"/>
<text x="293.10" y="56.60" font-size="9.55" stroke="#222" stroke-width="0.22">delayed</text>
<text x="268.90" y="68.40" font-size="9.55" stroke="#222" stroke-width="0.22">G-crystal</text>
<path d="M269.4,77.5 L290.6,77.5" stroke="#33a55a" stroke-width="1.4"/>
<text x="293.10" y="81.00" font-size="9.55" stroke="#222" stroke-width="0.22">ssEm</text>
<circle cx="279.9" cy="89.2" r="1.8" fill="#7fcf97"/>
<text x="293.10" y="92.60" font-size="9.55" stroke="#222" stroke-width="0.22">delayed</text>
<text x="179.50" y="43.80" font-size="10.2" fill="#2f7bd0" stroke="#2f7bd0" stroke-width="0.22">480 nm</text>
<text x="223.20" y="43.80" font-size="10.2" fill="#2ea860" stroke="#2ea860" stroke-width="0.22">510 nm</text>
<text x="78.60" y="147.10" font-size="11.1" stroke="#222" stroke-width="0.22">327 nm</text>
<text x="112.30" y="113.40" font-size="10.5" fill="#2f7bd0" stroke="#2f7bd0" stroke-width="0.22">Φ<tspan font-size="7.65" dy="3.3">B-crystal</tspan><tspan dy="-3.3" font-size="11">=43%</tspan></text>
<text x="263.00" y="113.40" font-size="10.5" fill="#2ea860" stroke="#2ea860" stroke-width="0.22">Φ<tspan font-size="7.65" dy="3.3">G-crystal</tspan><tspan dy="-3.3" font-size="11">=93%</tspan></text>
<text x="360.00" y="15.60" font-size="12.5" font-weight="bold" fill="#111" stroke="#111" stroke-width="0.22">b</text>
<text x="382.70" y="15.40" font-size="10.3" font-weight="bold" fill="#111" stroke="#111" stroke-width="0.22">phosphorescence lifetime</text>
<path d="M393.7,55.0h2.6v2.6h-2.6z M393.5,61.0h2.6v2.6h-2.6z M393.9,68.6h2.6v2.6h-2.6z M393.8,76.1h2.6v2.6h-2.6z M394.0,83.7h2.6v2.6h-2.6z M393.9,91.2h2.6v2.6h-2.6z M394.4,98.8h2.6v2.6h-2.6z M394.3,106.3h2.6v2.6h-2.6z M394.4,113.9h2.6v2.6h-2.6z M394.6,121.4h2.6v2.6h-2.6z M394.9,129.0h2.6v2.6h-2.6z M395.2,136.5h2.6v2.6h-2.6z M395.2,144.1h2.6v2.6h-2.6z M395.2,148.6h2.6v2.6h-2.6z M396.7,148.6h2.6v2.6h-2.6z M397.0,153.1h2.6v2.6h-2.6z M397.2,157.7h2.6v2.6h-2.6z M396.8,160.7h2.6v2.6h-2.6z M455.0,162.1h2.6v2.6h-2.6z M420.3,160.3h2.6v2.6h-2.6z M649.4,169.9h2.6v2.6h-2.6z M633.1,167.8h2.6v2.6h-2.6z M491.5,170.6h2.6v2.6h-2.6z M418.3,169.8h2.6v2.6h-2.6z M506.8,170.9h2.6v2.6h-2.6z M536.6,176.1h2.6v2.6h-2.6z M488.3,170.3h2.6v2.6h-2.6z M645.8,164.6h2.6v2.6h-2.6z M498.2,166.3h2.6v2.6h-2.6z M518.2,163.8h2.6v2.6h-2.6z M415.5,172.7h2.6v2.6h-2.6z M586.9,163.5h2.6v2.6h-2.6z M411.3,169.2h2.6v2.6h-2.6z M425.5,169.2h2.6v2.6h-2.6z M434.6,165.9h2.6v2.6h-2.6z M468.8,167.3h2.6v2.6h-2.6z M568.6,164.0h2.6v2.6h-2.6z M545.2,171.1h2.6v2.6h-2.6z M435.3,168.1h2.6v2.6h-2.6z M434.5,168.3h2.6v2.6h-2.6z M563.8,164.8h2.6v2.6h-2.6z M537.2,172.1h2.6v2.6h-2.6z M629.8,161.0h2.6v2.6h-2.6z M473.7,173.6h2.6v2.6h-2.6z M534.2,172.1h2.6v2.6h-2.6z M435.8,165.8h2.6v2.6h-2.6z M401.1,184.1h2.6v2.6h-2.6z M519.8,170.0h2.6v2.6h-2.6z M468.7,182.8h2.6v2.6h-2.6z M434.1,167.6h2.6v2.6h-2.6z M613.6,183.6h2.6v2.6h-2.6z M486.6,178.0h2.6v2.6h-2.6z M516.9,166.0h2.6v2.6h-2.6z M397.1,169.2h2.6v2.6h-2.6z M495.5,168.1h2.6v2.6h-2.6z M638.5,174.0h2.6v2.6h-2.6z M514.8,161.2h2.6v2.6h-2.6z M538.7,168.4h2.6v2.6h-2.6z M437.3,163.3h2.6v2.6h-2.6z M490.1,165.0h2.6v2.6h-2.6z M405.5,152.0h2.6v2.6h-2.6z M615.6,164.8h2.6v2.6h-2.6z M436.1,160.5h2.6v2.6h-2.6z M518.7,171.2h2.6v2.6h-2.6z M433.0,167.4h2.6v2.6h-2.6z M399.0,171.8h2.6v2.6h-2.6z M442.7,176.3h2.6v2.6h-2.6z M617.2,172.0h2.6v2.6h-2.6z M497.4,171.3h2.6v2.6h-2.6z M583.8,169.1h2.6v2.6h-2.6z M411.7,157.2h2.6v2.6h-2.6z M476.1,171.0h2.6v2.6h-2.6z M487.9,164.5h2.6v2.6h-2.6z M614.3,168.4h2.6v2.6h-2.6z M503.7,180.7h2.6v2.6h-2.6z M480.9,171.9h2.6v2.6h-2.6z M499.4,161.0h2.6v2.6h-2.6z M459.6,164.8h2.6v2.6h-2.6z M497.1,169.6h2.6v2.6h-2.6z M487.9,170.5h2.6v2.6h-2.6z M569.6,181.7h2.6v2.6h-2.6z M607.4,163.3h2.6v2.6h-2.6z M597.0,164.1h2.6v2.6h-2.6z M535.9,164.4h2.6v2.6h-2.6z M420.8,171.3h2.6v2.6h-2.6z M515.7,164.6h2.6v2.6h-2.6z M417.1,157.3h2.6v2.6h-2.6z M609.9,173.4h2.6v2.6h-2.6z M457.3,166.9h2.6v2.6h-2.6z M563.1,181.7h2.6v2.6h-2.6z M494.0,172.3h2.6v2.6h-2.6z M552.4,171.6h2.6v2.6h-2.6z M585.0,167.4h2.6v2.6h-2.6z M399.6,170.1h2.6v2.6h-2.6z M446.5,182.4h2.6v2.6h-2.6z M588.1,172.9h2.6v2.6h-2.6z M405.9,178.0h2.6v2.6h-2.6z M666.5,167.1h2.6v2.6h-2.6z M522.7,164.1h2.6v2.6h-2.6z M435.6,176.8h2.6v2.6h-2.6z M521.7,175.2h2.6v2.6h-2.6z M484.2,163.2h2.6v2.6h-2.6z M408.7,174.5h2.6v2.6h-2.6z M538.1,163.4h2.6v2.6h-2.6z M664.3,165.7h2.6v2.6h-2.6z M513.7,171.5h2.6v2.6h-2.6z M495.6,169.2h2.6v2.6h-2.6z M483.3,173.0h2.6v2.6h-2.6z M447.9,168.7h2.6v2.6h-2.6z M568.5,172.1h2.6v2.6h-2.6z M425.0,159.2h2.6v2.6h-2.6z M483.6,166.5h2.6v2.6h-2.6z M418.0,167.4h2.6v2.6h-2.6z M638.3,170.5h2.6v2.6h-2.6z M486.7,174.7h2.6v2.6h-2.6z M585.0,171.5h2.6v2.6h-2.6z M418.8,166.8h2.6v2.6h-2.6z M653.1,175.9h2.6v2.6h-2.6z M582.1,163.7h2.6v2.6h-2.6z M430.4,159.3h2.6v2.6h-2.6z M434.8,163.7h2.6v2.6h-2.6z M462.0,179.8h2.6v2.6h-2.6z M464.5,170.5h2.6v2.6h-2.6z M605.5,174.0h2.6v2.6h-2.6z M422.4,171.0h2.6v2.6h-2.6z M552.0,168.1h2.6v2.6h-2.6z M450.8,179.4h2.6v2.6h-2.6z M480.7,170.7h2.6v2.6h-2.6z M597.1,174.9h2.6v2.6h-2.6z M439.3,157.0h2.6v2.6h-2.6z M481.8,174.9h2.6v2.6h-2.6z M431.1,164.2h2.6v2.6h-2.6z M476.9,166.5h2.6v2.6h-2.6z M434.3,175.3h2.6v2.6h-2.6z M431.0,159.3h2.6v2.6h-2.6z M593.6,164.4h2.6v2.6h-2.6z M453.8,163.6h2.6v2.6h-2.6z M511.3,177.5h2.6v2.6h-2.6z M414.1,157.3h2.6v2.6h-2.6z M666.8,163.3h2.6v2.6h-2.6z M566.4,166.2h2.6v2.6h-2.6z M406.8,159.0h2.6v2.6h-2.6z M419.9,155.1h2.6v2.6h-2.6z M661.0,172.2h2.6v2.6h-2.6z M631.6,173.9h2.6v2.6h-2.6z M436.8,156.9h2.6v2.6h-2.6z M414.4,155.7h2.6v2.6h-2.6z M662.6,178.1h2.6v2.6h-2.6z M429.4,172.8h2.6v2.6h-2.6z M499.6,177.6h2.6v2.6h-2.6z M425.6,161.6h2.6v2.6h-2.6z M561.1,165.2h2.6v2.6h-2.6z M638.4,173.6h2.6v2.6h-2.6z M460.8,163.3h2.6v2.6h-2.6z M400.3,163.3h2.6v2.6h-2.6z M511.1,168.0h2.6v2.6h-2.6z M599.4,169.2h2.6v2.6h-2.6z M420.1,175.6h2.6v2.6h-2.6z M670.1,164.1h2.6v2.6h-2.6z M419.5,166.6h2.6v2.6h-2.6z M510.5,165.7h2.6v2.6h-2.6z M422.1,160.1h2.6v2.6h-2.6z M509.6,175.8h2.6v2.6h-2.6z M469.3,182.2h2.6v2.6h-2.6z M396.4,153.8h2.6v2.6h-2.6z M591.8,179.7h2.6v2.6h-2.6z M413.3,163.1h2.6v2.6h-2.6z M522.9,163.2h2.6v2.6h-2.6z M612.0,165.0h2.6v2.6h-2.6z M651.6,169.7h2.6v2.6h-2.6z M397.9,175.0h2.6v2.6h-2.6z M430.4,170.6h2.6v2.6h-2.6z M479.3,171.7h2.6v2.6h-2.6z M527.0,175.0h2.6v2.6h-2.6z M550.3,177.7h2.6v2.6h-2.6z M448.7,182.6h2.6v2.6h-2.6z M480.0,168.3h2.6v2.6h-2.6z M409.1,180.5h2.6v2.6h-2.6z M424.9,167.8h2.6v2.6h-2.6z M520.1,176.6h2.6v2.6h-2.6z M494.7,168.6h2.6v2.6h-2.6z M468.9,171.6h2.6v2.6h-2.6z M443.3,180.3h2.6v2.6h-2.6z M633.1,163.3h2.6v2.6h-2.6z M506.6,163.4h2.6v2.6h-2.6z M564.0,169.2h2.6v2.6h-2.6z M446.8,171.1h2.6v2.6h-2.6z M462.5,166.4h2.6v2.6h-2.6z M631.4,171.3h2.6v2.6h-2.6z M410.6,168.9h2.6v2.6h-2.6z M447.3,164.5h2.6v2.6h-2.6z M434.8,176.2h2.6v2.6h-2.6z M620.4,176.6h2.6v2.6h-2.6z M640.1,182.6h2.6v2.6h-2.6z M541.7,163.4h2.6v2.6h-2.6z M611.8,173.2h2.6v2.6h-2.6z M433.3,175.7h2.6v2.6h-2.6z M467.0,167.7h2.6v2.6h-2.6z M502.4,162.7h2.6v2.6h-2.6z M481.4,175.8h2.6v2.6h-2.6z M423.5,159.5h2.6v2.6h-2.6z M574.0,172.7h2.6v2.6h-2.6z M499.2,175.4h2.6v2.6h-2.6z M401.4,168.7h2.6v2.6h-2.6z M421.5,176.9h2.6v2.6h-2.6z M537.3,170.2h2.6v2.6h-2.6z M484.6,169.0h2.6v2.6h-2.6z M572.4,169.2h2.6v2.6h-2.6z M401.5,166.3h2.6v2.6h-2.6z M556.2,182.4h2.6v2.6h-2.6z M480.8,177.7h2.6v2.6h-2.6z M666.0,170.5h2.6v2.6h-2.6z M442.0,170.5h2.6v2.6h-2.6z M482.6,166.2h2.6v2.6h-2.6z M410.2,166.9h2.6v2.6h-2.6z M397.0,170.9h2.6v2.6h-2.6z M407.4,158.3h2.6v2.6h-2.6z M560.1,167.8h2.6v2.6h-2.6z M455.4,169.5h2.6v2.6h-2.6z M549.3,174.1h2.6v2.6h-2.6z M493.6,163.1h2.6v2.6h-2.6z M492.8,183.0h2.6v2.6h-2.6z M533.1,173.1h2.6v2.6h-2.6z M413.0,159.0h2.6v2.6h-2.6z M409.7,161.7h2.6v2.6h-2.6z M504.4,167.6h2.6v2.6h-2.6z M508.2,174.8h2.6v2.6h-2.6z M492.2,170.6h2.6v2.6h-2.6z M454.5,165.9h2.6v2.6h-2.6z M472.6,166.5h2.6v2.6h-2.6z M423.0,163.9h2.6v2.6h-2.6z M428.6,160.4h2.6v2.6h-2.6z M413.9,166.5h2.6v2.6h-2.6z M458.7,169.7h2.6v2.6h-2.6z M404.9,159.9h2.6v2.6h-2.6z M640.2,162.7h2.6v2.6h-2.6z M423.1,162.8h2.6v2.6h-2.6z M436.1,171.0h2.6v2.6h-2.6z M536.3,175.6h2.6v2.6h-2.6z M522.4,168.3h2.6v2.6h-2.6z M427.8,163.6h2.6v2.6h-2.6z M574.1,178.8h2.6v2.6h-2.6z M589.0,166.7h2.6v2.6h-2.6z M537.3,178.8h2.6v2.6h-2.6z M441.3,170.7h2.6v2.6h-2.6z M453.9,165.9h2.6v2.6h-2.6z M403.4,160.7h2.6v2.6h-2.6z M531.4,177.2h2.6v2.6h-2.6z M621.3,171.8h2.6v2.6h-2.6z M475.9,160.8h2.6v2.6h-2.6z M414.7,163.8h2.6v2.6h-2.6z M411.9,173.0h2.6v2.6h-2.6z M444.2,164.0h2.6v2.6h-2.6z M481.7,174.4h2.6v2.6h-2.6z M533.6,169.7h2.6v2.6h-2.6z M509.7,172.6h2.6v2.6h-2.6z M541.4,168.4h2.6v2.6h-2.6z M575.5,164.2h2.6v2.6h-2.6z M466.6,169.8h2.6v2.6h-2.6z M480.1,162.9h2.6v2.6h-2.6z M401.6,176.6h2.6v2.6h-2.6z M616.9,176.0h2.6v2.6h-2.6z M537.6,177.5h2.6v2.6h-2.6z M484.4,167.1h2.6v2.6h-2.6z M465.6,168.0h2.6v2.6h-2.6z M520.6,165.5h2.6v2.6h-2.6z M533.3,174.5h2.6v2.6h-2.6z M586.7,183.7h2.6v2.6h-2.6z M418.5,178.4h2.6v2.6h-2.6z M418.5,159.1h2.6v2.6h-2.6z M633.3,175.5h2.6v2.6h-2.6z M531.2,172.9h2.6v2.6h-2.6z M552.8,166.6h2.6v2.6h-2.6z M659.0,170.4h2.6v2.6h-2.6z M594.2,170.3h2.6v2.6h-2.6z M594.4,166.7h2.6v2.6h-2.6z M511.0,165.0h2.6v2.6h-2.6z M452.4,172.4h2.6v2.6h-2.6z M397.2,168.3h2.6v2.6h-2.6z M464.5,174.7h2.6v2.6h-2.6z M422.7,169.7h2.6v2.6h-2.6z M406.1,165.6h2.6v2.6h-2.6z M421.5,170.0h2.6v2.6h-2.6z M456.4,163.9h2.6v2.6h-2.6z M578.9,161.9h2.6v2.6h-2.6z M567.1,165.2h2.6v2.6h-2.6z M412.2,164.7h2.6v2.6h-2.6z M580.5,164.4h2.6v2.6h-2.6z M419.7,170.0h2.6v2.6h-2.6z M441.7,165.5h2.6v2.6h-2.6z M437.8,176.1h2.6v2.6h-2.6z M464.4,168.4h2.6v2.6h-2.6z M662.5,169.6h2.6v2.6h-2.6z M620.9,168.8h2.6v2.6h-2.6z M408.5,163.2h2.6v2.6h-2.6z M420.9,171.8h2.6v2.6h-2.6z M443.1,173.4h2.6v2.6h-2.6z M409.4,154.2h2.6v2.6h-2.6z M456.8,183.0h2.6v2.6h-2.6z M472.2,175.8h2.6v2.6h-2.6z M444.4,171.5h2.6v2.6h-2.6z M482.7,174.2h2.6v2.6h-2.6z M457.2,166.6h2.6v2.6h-2.6z M459.4,164.3h2.6v2.6h-2.6z M536.8,175.8h2.6v2.6h-2.6z M430.8,164.9h2.6v2.6h-2.6z M409.2,156.2h2.6v2.6h-2.6z M658.0,172.0h2.6v2.6h-2.6z M655.1,163.6h2.6v2.6h-2.6z M550.4,163.8h2.6v2.6h-2.6z M663.9,176.2h2.6v2.6h-2.6z M413.2,167.4h2.6v2.6h-2.6z M403.6,168.9h2.6v2.6h-2.6z M482.4,168.4h2.6v2.6h-2.6z M553.1,181.1h2.6v2.6h-2.6z M402.4,155.8h2.6v2.6h-2.6z M417.1,163.2h2.6v2.6h-2.6z M502.4,176.5h2.6v2.6h-2.6z M535.2,169.9h2.6v2.6h-2.6z M419.8,175.7h2.6v2.6h-2.6z M414.1,168.2h2.6v2.6h-2.6z M433.5,167.7h2.6v2.6h-2.6z M639.2,174.8h2.6v2.6h-2.6z M631.3,170.6h2.6v2.6h-2.6z M525.1,181.2h2.6v2.6h-2.6z M451.6,170.6h2.6v2.6h-2.6z M434.9,177.7h2.6v2.6h-2.6z M565.0,174.7h2.6v2.6h-2.6z M448.7,164.8h2.6v2.6h-2.6z M456.7,164.2h2.6v2.6h-2.6z M417.2,162.3h2.6v2.6h-2.6z M545.1,176.2h2.6v2.6h-2.6z M441.8,163.7h2.6v2.6h-2.6z M410.4,165.9h2.6v2.6h-2.6z M526.0,173.6h2.6v2.6h-2.6z M437.4,159.6h2.6v2.6h-2.6z M412.6,169.4h2.6v2.6h-2.6z M554.2,167.9h2.6v2.6h-2.6z M670.1,178.1h2.6v2.6h-2.6z M401.4,160.9h2.6v2.6h-2.6z M497.3,173.1h2.6v2.6h-2.6z M477.8,172.5h2.6v2.6h-2.6z M435.6,165.4h2.6v2.6h-2.6z M396.8,155.1h2.6v2.6h-2.6z M641.0,165.6h2.6v2.6h-2.6z M455.2,164.2h2.6v2.6h-2.6z M631.6,167.8h2.6v2.6h-2.6z M646.8,177.0h2.6v2.6h-2.6z M425.0,168.8h2.6v2.6h-2.6z M667.3,173.1h2.6v2.6h-2.6z M433.5,161.5h2.6v2.6h-2.6z M490.3,170.9h2.6v2.6h-2.6z M403.5,165.5h2.6v2.6h-2.6z M654.4,168.7h2.6v2.6h-2.6z M604.0,169.0h2.6v2.6h-2.6z M581.6,167.3h2.6v2.6h-2.6z M429.4,171.1h2.6v2.6h-2.6z M400.2,161.7h2.6v2.6h-2.6z M503.1,171.4h2.6v2.6h-2.6z M413.4,169.3h2.6v2.6h-2.6z M600.6,184.0h2.6v2.6h-2.6z M401.9,160.9h2.6v2.6h-2.6z M485.6,169.0h2.6v2.6h-2.6z M404.1,153.2h2.6v2.6h-2.6z M406.5,175.7h2.6v2.6h-2.6z M440.4,165.4h2.6v2.6h-2.6z M505.9,165.3h2.6v2.6h-2.6z M562.2,163.0h2.6v2.6h-2.6z M479.5,164.1h2.6v2.6h-2.6z M534.1,172.8h2.6v2.6h-2.6z M493.5,172.4h2.6v2.6h-2.6z M398.8,163.5h2.6v2.6h-2.6z M532.8,166.5h2.6v2.6h-2.6z M573.3,169.9h2.6v2.6h-2.6z M614.3,164.3h2.6v2.6h-2.6z M456.4,164.9h2.6v2.6h-2.6z M479.9,173.3h2.6v2.6h-2.6z M501.3,180.9h2.6v2.6h-2.6z M491.8,161.5h2.6v2.6h-2.6z M591.2,174.6h2.6v2.6h-2.6z M443.6,165.2h2.6v2.6h-2.6z M626.5,166.5h2.6v2.6h-2.6z M409.4,156.3h2.6v2.6h-2.6z M623.0,171.9h2.6v2.6h-2.6z M522.6,170.9h2.6v2.6h-2.6z M418.5,159.6h2.6v2.6h-2.6z M634.7,167.8h2.6v2.6h-2.6z M645.8,173.9h2.6v2.6h-2.6z M550.6,167.9h2.6v2.6h-2.6z M452.7,179.3h2.6v2.6h-2.6z M591.1,173.1h2.6v2.6h-2.6z M506.8,165.9h2.6v2.6h-2.6z M553.7,165.1h2.6v2.6h-2.6z M431.5,165.9h2.6v2.6h-2.6z M451.8,182.3h2.6v2.6h-2.6z M567.3,172.5h2.6v2.6h-2.6z M485.7,174.8h2.6v2.6h-2.6z M595.8,165.3h2.6v2.6h-2.6z M655.5,168.0h2.6v2.6h-2.6z M408.8,179.6h2.6v2.6h-2.6z M419.5,169.7h2.6v2.6h-2.6z M452.8,164.8h2.6v2.6h-2.6z M524.6,165.1h2.6v2.6h-2.6z M645.7,168.7h2.6v2.6h-2.6z M606.3,170.1h2.6v2.6h-2.6z M407.1,166.4h2.6v2.6h-2.6z" fill="#4d4d4d"/>
<g fill="#1f66e0"><circle cx="394.0" cy="63.2" r="1.25"/><circle cx="394.0" cy="104.3" r="1.25"/><circle cx="395.3" cy="56.4" r="1.25"/><circle cx="394.9" cy="56.6" r="1.25"/><circle cx="395.8" cy="56.5" r="1.25"/><circle cx="395.9" cy="56.8" r="1.25"/><circle cx="396.2" cy="57.7" r="1.25"/><circle cx="396.5" cy="57.4" r="1.25"/><circle cx="396.9" cy="59.5" r="1.25"/><circle cx="396.8" cy="58.4" r="1.25"/><circle cx="397.4" cy="59.1" r="1.25"/><circle cx="397.5" cy="58.8" r="1.25"/><circle cx="398.3" cy="59.2" r="1.25"/><circle cx="398.1" cy="59.5" r="1.25"/><circle cx="398.7" cy="61.0" r="1.25"/><circle cx="398.8" cy="61.5" r="1.25"/><circle cx="399.3" cy="61.7" r="1.25"/><circle cx="399.3" cy="61.0" r="1.25"/><circle cx="400.2" cy="63.8" r="1.25"/><circle cx="399.8" cy="61.9" r="1.25"/><circle cx="400.5" cy="62.4" r="1.25"/><circle cx="400.5" cy="62.4" r="1.25"/><circle cx="401.1" cy="62.8" r="1.25"/><circle cx="401.4" cy="63.5" r="1.25"/><circle cx="401.7" cy="64.6" r="1.25"/><circle cx="401.8" cy="63.0" r="1.25"/><circle cx="402.4" cy="65.5" r="1.25"/><circle cx="402.3" cy="65.3" r="1.25"/><circle cx="403.2" cy="65.1" r="1.25"/><circle cx="403.2" cy="64.8" r="1.25"/><circle cx="403.9" cy="65.8" r="1.25"/><circle cx="403.7" cy="66.5" r="1.25"/><circle cx="404.3" cy="66.8" r="1.25"/><circle cx="404.3" cy="66.2" r="1.25"/><circle cx="404.8" cy="67.7" r="1.25"/><circle cx="404.8" cy="67.3" r="1.25"/><circle cx="405.7" cy="67.3" r="1.25"/><circle cx="405.5" cy="68.1" r="1.25"/><circle cx="406.2" cy="67.9" r="1.25"/><circle cx="406.1" cy="69.0" r="1.25"/><circle cx="406.8" cy="68.4" r="1.25"/><circle cx="406.8" cy="69.2" r="1.25"/><circle cx="407.2" cy="70.5" r="1.25"/><circle cx="407.4" cy="69.1" r="1.25"/><circle cx="408.1" cy="69.9" r="1.25"/><circle cx="408.0" cy="69.8" r="1.25"/><circle cx="408.5" cy="70.6" r="1.25"/><circle cx="408.4" cy="70.6" r="1.25"/><circle cx="409.0" cy="72.1" r="1.25"/><circle cx="409.1" cy="72.9" r="1.25"/><circle cx="409.6" cy="73.7" r="1.25"/><circle cx="409.9" cy="72.4" r="1.25"/><circle cx="410.2" cy="73.0" r="1.25"/><circle cx="410.5" cy="73.2" r="1.25"/><circle cx="410.9" cy="74.9" r="1.25"/><circle cx="411.1" cy="74.5" r="1.25"/><circle cx="411.6" cy="74.5" r="1.25"/><circle cx="411.8" cy="74.5" r="1.25"/><circle cx="412.1" cy="74.8" r="1.25"/><circle cx="412.3" cy="74.5" r="1.25"/><circle cx="412.9" cy="75.8" r="1.25"/><circle cx="412.8" cy="75.4" r="1.25"/><circle cx="413.5" cy="76.4" r="1.25"/><circle cx="413.5" cy="76.6" r="1.25"/><circle cx="414.3" cy="77.9" r="1.25"/><circle cx="413.8" cy="77.8" r="1.25"/><circle cx="414.5" cy="78.2" r="1.25"/><circle cx="414.7" cy="78.2" r="1.25"/><circle cx="415.4" cy="79.0" r="1.25"/><circle cx="415.3" cy="78.7" r="1.25"/><circle cx="415.9" cy="78.8" r="1.25"/><circle cx="416.0" cy="78.9" r="1.25"/><circle cx="416.5" cy="79.9" r="1.25"/><circle cx="416.7" cy="80.6" r="1.25"/><circle cx="417.1" cy="80.9" r="1.25"/><circle cx="417.1" cy="80.7" r="1.25"/><circle cx="417.5" cy="81.0" r="1.25"/><circle cx="417.9" cy="81.3" r="1.25"/><circle cx="418.4" cy="81.3" r="1.25"/><circle cx="418.2" cy="82.0" r="1.25"/><circle cx="418.9" cy="82.5" r="1.25"/><circle cx="418.8" cy="83.1" r="1.25"/><circle cx="419.3" cy="84.8" r="1.25"/><circle cx="419.7" cy="83.4" r="1.25"/><circle cx="420.2" cy="84.4" r="1.25"/><circle cx="420.1" cy="84.2" r="1.25"/><circle cx="421.0" cy="84.2" r="1.25"/><circle cx="420.7" cy="85.1" r="1.25"/><circle cx="421.5" cy="85.3" r="1.25"/><circle cx="421.3" cy="85.5" r="1.25"/><circle cx="422.1" cy="85.7" r="1.25"/><circle cx="421.8" cy="86.7" r="1.25"/><circle cx="422.5" cy="86.2" r="1.25"/><circle cx="422.7" cy="86.5" r="1.25"/><circle cx="423.4" cy="87.6" r="1.25"/><circle cx="423.2" cy="87.2" r="1.25"/><circle cx="423.6" cy="88.4" r="1.25"/><circle cx="424.0" cy="87.9" r="1.25"/><circle cx="424.3" cy="87.6" r="1.25"/><circle cx="424.6" cy="88.6" r="1.25"/><circle cx="425.2" cy="89.8" r="1.25"/><circle cx="425.1" cy="89.4" r="1.25"/><circle cx="425.7" cy="90.6" r="1.25"/><circle cx="425.6" cy="90.0" r="1.25"/><circle cx="426.5" cy="90.4" r="1.25"/><circle cx="426.2" cy="90.3" r="1.25"/><circle cx="426.8" cy="91.7" r="1.25"/><circle cx="426.9" cy="91.9" r="1.25"/><circle cx="427.4" cy="92.7" r="1.25"/><circle cx="427.5" cy="91.9" r="1.25"/><circle cx="428.3" cy="92.5" r="1.25"/><circle cx="428.0" cy="94.4" r="1.25"/><circle cx="428.6" cy="93.9" r="1.25"/><circle cx="428.5" cy="94.2" r="1.25"/><circle cx="429.4" cy="94.9" r="1.25"/><circle cx="429.5" cy="95.1" r="1.25"/><circle cx="430.0" cy="95.3" r="1.25"/><circle cx="429.7" cy="94.6" r="1.25"/><circle cx="430.4" cy="95.7" r="1.25"/><circle cx="430.4" cy="94.9" r="1.25"/><circle cx="431.2" cy="97.6" r="1.25"/><circle cx="431.0" cy="96.0" r="1.25"/><circle cx="431.6" cy="96.8" r="1.25"/><circle cx="431.6" cy="96.3" r="1.25"/><circle cx="432.2" cy="97.9" r="1.25"/><circle cx="432.6" cy="97.8" r="1.25"/><circle cx="432.8" cy="98.1" r="1.25"/><circle cx="432.9" cy="99.0" r="1.25"/><circle cx="433.6" cy="99.7" r="1.25"/><circle cx="433.8" cy="99.4" r="1.25"/><circle cx="434.2" cy="100.9" r="1.25"/><circle cx="434.1" cy="99.3" r="1.25"/><circle cx="434.6" cy="99.4" r="1.25"/><circle cx="434.7" cy="100.8" r="1.25"/><circle cx="435.5" cy="100.7" r="1.25"/><circle cx="435.4" cy="100.6" r="1.25"/><circle cx="435.8" cy="101.4" r="1.25"/><circle cx="436.0" cy="101.3" r="1.25"/><circle cx="436.6" cy="102.1" r="1.25"/><circle cx="436.4" cy="102.1" r="1.25"/><circle cx="437.2" cy="102.5" r="1.25"/><circle cx="437.3" cy="103.9" r="1.25"/><circle cx="437.7" cy="103.6" r="1.25"/><circle cx="437.9" cy="102.5" r="1.25"/><circle cx="438.3" cy="103.7" r="1.25"/><circle cx="438.3" cy="103.7" r="1.25"/><circle cx="438.9" cy="105.3" r="1.25"/><circle cx="438.9" cy="104.6" r="1.25"/><circle cx="439.6" cy="105.1" r="1.25"/><circle cx="439.7" cy="104.8" r="1.25"/><circle cx="440.2" cy="107.0" r="1.25"/><circle cx="440.3" cy="106.9" r="1.25"/><circle cx="441.0" cy="108.3" r="1.25"/><circle cx="441.1" cy="106.3" r="1.25"/><circle cx="441.5" cy="108.2" r="1.25"/><circle cx="441.7" cy="107.5" r="1.25"/><circle cx="442.2" cy="109.0" r="1.25"/><circle cx="442.3" cy="109.0" r="1.25"/><circle cx="442.6" cy="109.4" r="1.25"/><circle cx="442.8" cy="109.2" r="1.25"/><circle cx="443.2" cy="109.4" r="1.25"/><circle cx="443.5" cy="109.7" r="1.25"/><circle cx="443.9" cy="110.9" r="1.25"/><circle cx="443.9" cy="110.7" r="1.25"/><circle cx="444.4" cy="111.3" r="1.25"/><circle cx="444.7" cy="111.0" r="1.25"/><circle cx="445.2" cy="111.9" r="1.25"/><circle cx="445.2" cy="112.5" r="1.25"/><circle cx="445.6" cy="111.6" r="1.25"/><circle cx="445.9" cy="112.7" r="1.25"/><circle cx="446.5" cy="112.3" r="1.25"/><circle cx="446.6" cy="113.3" r="1.25"/><circle cx="446.8" cy="114.4" r="1.25"/><circle cx="447.1" cy="113.5" r="1.25"/><circle cx="447.6" cy="115.2" r="1.25"/><circle cx="447.6" cy="115.0" r="1.25"/><circle cx="448.3" cy="114.0" r="1.25"/><circle cx="448.1" cy="114.9" r="1.25"/><circle cx="448.8" cy="115.8" r="1.25"/><circle cx="448.9" cy="115.8" r="1.25"/><circle cx="449.4" cy="117.5" r="1.25"/><circle cx="449.4" cy="116.5" r="1.25"/><circle cx="449.9" cy="118.3" r="1.25"/><circle cx="450.3" cy="117.7" r="1.25"/><circle cx="450.5" cy="117.7" r="1.25"/><circle cx="450.7" cy="119.0" r="1.25"/><circle cx="451.1" cy="119.5" r="1.25"/><circle cx="451.3" cy="118.6" r="1.25"/><circle cx="452.0" cy="119.8" r="1.25"/><circle cx="452.1" cy="118.8" r="1.25"/><circle cx="452.7" cy="119.2" r="1.25"/><circle cx="452.5" cy="120.1" r="1.25"/><circle cx="453.2" cy="121.1" r="1.25"/><circle cx="453.0" cy="119.3" r="1.25"/><circle cx="453.8" cy="121.3" r="1.25"/><circle cx="453.9" cy="121.0" r="1.25"/><circle cx="454.5" cy="121.4" r="1.25"/><circle cx="454.3" cy="122.6" r="1.25"/><circle cx="455.1" cy="123.5" r="1.25"/><circle cx="455.1" cy="122.3" r="1.25"/><circle cx="455.6" cy="123.1" r="1.25"/><circle cx="455.6" cy="123.9" r="1.25"/><circle cx="456.3" cy="125.2" r="1.25"/><circle cx="456.2" cy="124.4" r="1.25"/><circle cx="456.8" cy="124.3" r="1.25"/><circle cx="456.7" cy="124.9" r="1.25"/><circle cx="457.4" cy="125.7" r="1.25"/><circle cx="457.3" cy="125.4" r="1.25"/><circle cx="457.8" cy="127.1" r="1.25"/><circle cx="458.1" cy="125.4" r="1.25"/><circle cx="458.6" cy="129.0" r="1.25"/><circle cx="458.7" cy="126.8" r="1.25"/><circle cx="459.1" cy="127.1" r="1.25"/><circle cx="459.4" cy="127.3" r="1.25"/><circle cx="459.8" cy="128.5" r="1.25"/><circle cx="459.7" cy="127.9" r="1.25"/><circle cx="460.4" cy="128.0" r="1.25"/><circle cx="460.6" cy="128.7" r="1.25"/><circle cx="461.1" cy="129.5" r="1.25"/><circle cx="461.1" cy="130.1" r="1.25"/><circle cx="461.8" cy="129.3" r="1.25"/><circle cx="461.9" cy="129.9" r="1.25"/><circle cx="462.1" cy="130.8" r="1.25"/><circle cx="462.1" cy="132.4" r="1.25"/><circle cx="463.1" cy="132.3" r="1.25"/><circle cx="463.1" cy="131.3" r="1.25"/><circle cx="463.5" cy="132.1" r="1.25"/><circle cx="463.6" cy="131.4" r="1.25"/><circle cx="464.2" cy="133.8" r="1.25"/><circle cx="464.1" cy="132.1" r="1.25"/><circle cx="464.7" cy="133.8" r="1.25"/><circle cx="464.7" cy="133.8" r="1.25"/><circle cx="465.5" cy="134.1" r="1.25"/><circle cx="465.4" cy="134.3" r="1.25"/><circle cx="465.7" cy="134.2" r="1.25"/><circle cx="465.9" cy="134.6" r="1.25"/><circle cx="466.5" cy="135.7" r="1.25"/><circle cx="466.4" cy="135.6" r="1.25"/><circle cx="467.2" cy="136.5" r="1.25"/><circle cx="467.2" cy="136.7" r="1.25"/><circle cx="467.9" cy="136.0" r="1.25"/><circle cx="467.6" cy="137.5" r="1.25"/><circle cx="468.5" cy="138.5" r="1.25"/><circle cx="468.5" cy="137.3" r="1.25"/><circle cx="469.1" cy="138.6" r="1.25"/><circle cx="468.9" cy="138.7" r="1.25"/><circle cx="469.5" cy="138.0" r="1.25"/><circle cx="469.7" cy="139.9" r="1.25"/><circle cx="470.0" cy="140.6" r="1.25"/><circle cx="470.4" cy="139.7" r="1.25"/><circle cx="470.8" cy="140.5" r="1.25"/><circle cx="470.7" cy="140.2" r="1.25"/><circle cx="471.6" cy="140.6" r="1.25"/><circle cx="471.4" cy="140.9" r="1.25"/><circle cx="472.1" cy="141.7" r="1.25"/><circle cx="472.2" cy="142.9" r="1.25"/><circle cx="472.5" cy="142.0" r="1.25"/><circle cx="472.5" cy="141.6" r="1.25"/><circle cx="473.4" cy="143.1" r="1.25"/><circle cx="473.4" cy="142.3" r="1.25"/><circle cx="473.8" cy="144.3" r="1.25"/><circle cx="473.7" cy="144.1" r="1.25"/><circle cx="474.4" cy="143.0" r="1.25"/><circle cx="474.5" cy="145.0" r="1.25"/><circle cx="475.3" cy="144.7" r="1.25"/><circle cx="475.3" cy="142.9" r="1.25"/><circle cx="475.7" cy="144.9" r="1.25"/><circle cx="475.7" cy="146.5" r="1.25"/><circle cx="476.3" cy="146.0" r="1.25"/><circle cx="476.3" cy="147.7" r="1.25"/><circle cx="477.0" cy="146.6" r="1.25"/><circle cx="477.1" cy="147.3" r="1.25"/><circle cx="477.6" cy="147.3" r="1.25"/><circle cx="477.6" cy="147.3" r="1.25"/><circle cx="478.3" cy="147.4" r="1.25"/><circle cx="478.0" cy="147.0" r="1.25"/><circle cx="478.8" cy="149.0" r="1.25"/><circle cx="478.9" cy="149.7" r="1.25"/><circle cx="479.5" cy="150.1" r="1.25"/><circle cx="479.6" cy="148.6" r="1.25"/><circle cx="480.1" cy="150.6" r="1.25"/><circle cx="479.8" cy="150.3" r="1.25"/><circle cx="480.4" cy="150.0" r="1.25"/><circle cx="480.7" cy="152.2" r="1.25"/><circle cx="481.4" cy="151.6" r="1.25"/><circle cx="481.2" cy="153.0" r="1.25"/><circle cx="481.7" cy="151.7" r="1.25"/><circle cx="481.9" cy="151.5" r="1.25"/><circle cx="482.3" cy="152.4" r="1.25"/><circle cx="482.5" cy="152.3" r="1.25"/><circle cx="483.1" cy="153.8" r="1.25"/><circle cx="483.0" cy="153.0" r="1.25"/><circle cx="483.8" cy="152.5" r="1.25"/><circle cx="483.4" cy="155.5" r="1.25"/><circle cx="484.4" cy="155.6" r="1.25"/><circle cx="484.2" cy="153.7" r="1.25"/><circle cx="484.7" cy="156.5" r="1.25"/><circle cx="485.0" cy="155.1" r="1.25"/><circle cx="485.6" cy="155.3" r="1.25"/><circle cx="485.7" cy="155.7" r="1.25"/><circle cx="486.1" cy="156.7" r="1.25"/><circle cx="485.9" cy="154.2" r="1.25"/><circle cx="486.5" cy="158.3" r="1.25"/><circle cx="486.6" cy="159.8" r="1.25"/><circle cx="487.1" cy="158.7" r="1.25"/><circle cx="487.4" cy="159.9" r="1.25"/><circle cx="488.0" cy="159.2" r="1.25"/><circle cx="487.8" cy="160.0" r="1.25"/><circle cx="488.7" cy="160.0" r="1.25"/><circle cx="488.4" cy="159.1" r="1.25"/><circle cx="489.1" cy="158.9" r="1.25"/><circle cx="489.3" cy="159.9" r="1.25"/><circle cx="489.7" cy="159.7" r="1.25"/><circle cx="489.6" cy="161.7" r="1.25"/><circle cx="490.5" cy="162.0" r="1.25"/><circle cx="490.4" cy="161.2" r="1.25"/><circle cx="491.0" cy="161.6" r="1.25"/><circle cx="491.0" cy="161.8" r="1.25"/><circle cx="491.8" cy="162.3" r="1.25"/><circle cx="491.7" cy="163.8" r="1.25"/><circle cx="492.1" cy="163.6" r="1.25"/><circle cx="492.3" cy="163.4" r="1.25"/><circle cx="492.6" cy="164.2" r="1.25"/><circle cx="492.7" cy="163.2" r="1.25"/><circle cx="493.3" cy="166.0" r="1.25"/><circle cx="493.2" cy="164.1" r="1.25"/><circle cx="494.0" cy="166.2" r="1.25"/><circle cx="493.9" cy="168.3" r="1.25"/><circle cx="500.2" cy="172.6" r="1.25"/><circle cx="502.9" cy="177.6" r="1.25"/><circle cx="512.6" cy="182.2" r="1.25"/><circle cx="507.2" cy="181.3" r="1.25"/><circle cx="497.4" cy="177.8" r="1.25"/><circle cx="505.4" cy="174.3" r="1.25"/><circle cx="501.0" cy="178.0" r="1.25"/><circle cx="513.2" cy="185.2" r="1.25"/><circle cx="501.8" cy="172.4" r="1.25"/><circle cx="498.4" cy="173.2" r="1.25"/><circle cx="502.5" cy="173.4" r="1.25"/><circle cx="506.6" cy="181.2" r="1.25"/><circle cx="515.5" cy="182.5" r="1.25"/><circle cx="499.3" cy="169.2" r="1.25"/><circle cx="499.6" cy="171.7" r="1.25"/><circle cx="499.4" cy="171.0" r="1.25"/><circle cx="502.4" cy="172.3" r="1.25"/><circle cx="499.1" cy="175.6" r="1.25"/><circle cx="497.1" cy="171.5" r="1.25"/><circle cx="507.3" cy="179.3" r="1.25"/><circle cx="498.2" cy="177.4" r="1.25"/><circle cx="494.9" cy="163.1" r="1.25"/><circle cx="494.7" cy="159.4" r="1.25"/><circle cx="506.8" cy="174.2" r="1.25"/><circle cx="501.8" cy="168.8" r="1.25"/><circle cx="493.3" cy="167.8" r="1.25"/><circle cx="512.0" cy="179.0" r="1.25"/><circle cx="499.5" cy="174.5" r="1.25"/><circle cx="495.1" cy="167.5" r="1.25"/><circle cx="502.0" cy="177.8" r="1.25"/><circle cx="493.9" cy="170.4" r="1.25"/><circle cx="502.7" cy="163.7" r="1.25"/><circle cx="493.7" cy="168.0" r="1.25"/><circle cx="504.0" cy="175.7" r="1.25"/><circle cx="508.5" cy="181.1" r="1.25"/><circle cx="496.6" cy="169.1" r="1.25"/><circle cx="515.7" cy="185.2" r="1.25"/><circle cx="493.6" cy="174.9" r="1.25"/><circle cx="497.2" cy="166.9" r="1.25"/><circle cx="492.5" cy="167.8" r="1.25"/><circle cx="506.4" cy="180.4" r="1.25"/><circle cx="499.8" cy="178.1" r="1.25"/><circle cx="496.3" cy="175.4" r="1.25"/><circle cx="493.5" cy="156.5" r="1.25"/><circle cx="493.6" cy="159.9" r="1.25"/><circle cx="492.4" cy="170.8" r="1.25"/><circle cx="505.2" cy="178.7" r="1.25"/><circle cx="501.4" cy="175.6" r="1.25"/><circle cx="505.5" cy="178.4" r="1.25"/><circle cx="490.9" cy="163.7" r="1.25"/><circle cx="491.7" cy="170.3" r="1.25"/><circle cx="507.0" cy="167.8" r="1.25"/><circle cx="506.1" cy="176.7" r="1.25"/><circle cx="509.6" cy="180.0" r="1.25"/><circle cx="511.5" cy="170.2" r="1.25"/><circle cx="506.1" cy="176.9" r="1.25"/><circle cx="497.8" cy="164.8" r="1.25"/><circle cx="508.6" cy="182.2" r="1.25"/><circle cx="506.3" cy="182.6" r="1.25"/><circle cx="510.1" cy="172.1" r="1.25"/><circle cx="494.2" cy="176.1" r="1.25"/><circle cx="510.1" cy="179.7" r="1.25"/><circle cx="513.0" cy="181.0" r="1.25"/><circle cx="493.3" cy="170.5" r="1.25"/><circle cx="499.6" cy="165.7" r="1.25"/><circle cx="497.5" cy="162.9" r="1.25"/><circle cx="500.7" cy="177.6" r="1.25"/><circle cx="501.0" cy="171.8" r="1.25"/><circle cx="493.9" cy="155.3" r="1.25"/><circle cx="514.8" cy="183.2" r="1.25"/><circle cx="496.7" cy="175.5" r="1.25"/><circle cx="497.7" cy="166.9" r="1.25"/><circle cx="506.7" cy="168.9" r="1.25"/><circle cx="512.7" cy="178.4" r="1.25"/><circle cx="498.9" cy="172.7" r="1.25"/><circle cx="515.1" cy="174.2" r="1.25"/><circle cx="494.3" cy="165.4" r="1.25"/><circle cx="505.6" cy="175.4" r="1.25"/><circle cx="512.3" cy="178.6" r="1.25"/><circle cx="491.4" cy="165.0" r="1.25"/><circle cx="502.0" cy="175.6" r="1.25"/><circle cx="493.5" cy="169.5" r="1.25"/><circle cx="498.7" cy="168.0" r="1.25"/><circle cx="497.8" cy="170.8" r="1.25"/><circle cx="496.1" cy="166.2" r="1.25"/><circle cx="497.1" cy="171.2" r="1.25"/><circle cx="502.7" cy="167.2" r="1.25"/><circle cx="510.8" cy="172.2" r="1.25"/><circle cx="499.8" cy="176.6" r="1.25"/><circle cx="512.1" cy="182.4" r="1.25"/><circle cx="500.5" cy="177.1" r="1.25"/><circle cx="497.5" cy="177.4" r="1.25"/><circle cx="501.1" cy="171.8" r="1.25"/><circle cx="492.5" cy="168.9" r="1.25"/><circle cx="491.0" cy="162.5" r="1.25"/><circle cx="507.7" cy="179.7" r="1.25"/><circle cx="511.7" cy="178.5" r="1.25"/><circle cx="505.5" cy="178.8" r="1.25"/><circle cx="498.4" cy="167.7" r="1.25"/><circle cx="499.2" cy="174.0" r="1.25"/><circle cx="512.8" cy="175.9" r="1.25"/><circle cx="496.6" cy="176.2" r="1.25"/><circle cx="500.3" cy="171.3" r="1.25"/><circle cx="502.6" cy="175.3" r="1.25"/><circle cx="517.5" cy="183.1" r="1.25"/><circle cx="523.2" cy="183.1" r="1.25"/><circle cx="526.8" cy="183.1" r="1.25"/><circle cx="534.0" cy="183.1" r="1.25"/></g>
<g fill="#3f9e64"><path d="M385.8,181.9h3.4l-1.7,2.9z M386.5,177.4h3.4l-1.7,2.9z M387.3,166.8h3.4l-1.7,2.9z M388.3,165.3h3.4l-1.7,2.9z M389.4,180.4h3.4l-1.7,2.9z M390.5,175.9h3.4l-1.7,2.9z M392.3,64.2h3.4l-1.7,2.9z M392.3,113.1h3.4l-1.7,2.9z M393.3,56.9h3.4l-1.7,2.9z M393.3,55.9h3.4l-1.7,2.9z M393.4,55.7h3.4l-1.7,2.9z M394.1,54.2h3.4l-1.7,2.9z M394.6,57.5h3.4l-1.7,2.9z M394.2,58.3h3.4l-1.7,2.9z M395.1,56.4h3.4l-1.7,2.9z M395.0,54.9h3.4l-1.7,2.9z M395.0,55.5h3.4l-1.7,2.9z M396.3,58.5h3.4l-1.7,2.9z M396.2,57.1h3.4l-1.7,2.9z M396.3,56.4h3.4l-1.7,2.9z M396.8,57.5h3.4l-1.7,2.9z M397.2,56.2h3.4l-1.7,2.9z M396.9,57.2h3.4l-1.7,2.9z M397.8,56.1h3.4l-1.7,2.9z M398.0,58.1h3.4l-1.7,2.9z M397.7,58.6h3.4l-1.7,2.9z M398.8,58.3h3.4l-1.7,2.9z M398.8,56.5h3.4l-1.7,2.9z M399.1,59.4h3.4l-1.7,2.9z M399.6,60.5h3.4l-1.7,2.9z M399.7,61.9h3.4l-1.7,2.9z M399.6,59.2h3.4l-1.7,2.9z M400.5,61.2h3.4l-1.7,2.9z M400.7,59.1h3.4l-1.7,2.9z M400.7,60.0h3.4l-1.7,2.9z M401.5,60.0h3.4l-1.7,2.9z M401.7,61.6h3.4l-1.7,2.9z M401.7,60.5h3.4l-1.7,2.9z M402.1,60.4h3.4l-1.7,2.9z M402.6,62.6h3.4l-1.7,2.9z M402.4,62.0h3.4l-1.7,2.9z M403.4,61.7h3.4l-1.7,2.9z M403.1,60.8h3.4l-1.7,2.9z M403.2,63.3h3.4l-1.7,2.9z M404.4,62.0h3.4l-1.7,2.9z M404.5,64.6h3.4l-1.7,2.9z M403.9,62.3h3.4l-1.7,2.9z M405.4,65.4h3.4l-1.7,2.9z M405.2,63.3h3.4l-1.7,2.9z M405.1,62.7h3.4l-1.7,2.9z M405.8,63.7h3.4l-1.7,2.9z M406.1,63.1h3.4l-1.7,2.9z M405.8,65.2h3.4l-1.7,2.9z M407.2,64.8h3.4l-1.7,2.9z M407.0,65.3h3.4l-1.7,2.9z M407.1,64.5h3.4l-1.7,2.9z M407.8,66.9h3.4l-1.7,2.9z M407.6,66.3h3.4l-1.7,2.9z M407.5,66.5h3.4l-1.7,2.9z M408.9,66.6h3.4l-1.7,2.9z M408.7,67.8h3.4l-1.7,2.9z M408.8,64.9h3.4l-1.7,2.9z M409.8,67.1h3.4l-1.7,2.9z M409.8,68.6h3.4l-1.7,2.9z M409.5,67.9h3.4l-1.7,2.9z M410.7,68.0h3.4l-1.7,2.9z M410.4,68.9h3.4l-1.7,2.9z M410.2,67.0h3.4l-1.7,2.9z M411.1,68.1h3.4l-1.7,2.9z M411.4,68.9h3.4l-1.7,2.9z M411.3,69.2h3.4l-1.7,2.9z M412.4,69.1h3.4l-1.7,2.9z M412.0,69.1h3.4l-1.7,2.9z M412.4,67.6h3.4l-1.7,2.9z M413.2,69.9h3.4l-1.7,2.9z M413.0,69.8h3.4l-1.7,2.9z M413.4,69.0h3.4l-1.7,2.9z M414.2,70.7h3.4l-1.7,2.9z M414.0,70.1h3.4l-1.7,2.9z M414.3,71.4h3.4l-1.7,2.9z M414.7,71.0h3.4l-1.7,2.9z M415.2,72.1h3.4l-1.7,2.9z M414.8,70.4h3.4l-1.7,2.9z M415.9,71.0h3.4l-1.7,2.9z M415.7,71.4h3.4l-1.7,2.9z M416.0,71.2h3.4l-1.7,2.9z M416.8,72.8h3.4l-1.7,2.9z M416.8,73.1h3.4l-1.7,2.9z M416.5,72.3h3.4l-1.7,2.9z M417.4,73.2h3.4l-1.7,2.9z M417.9,72.2h3.4l-1.7,2.9z M417.6,73.7h3.4l-1.7,2.9z M418.5,73.7h3.4l-1.7,2.9z M418.5,75.1h3.4l-1.7,2.9z M418.6,76.1h3.4l-1.7,2.9z M419.3,74.9h3.4l-1.7,2.9z M419.6,72.7h3.4l-1.7,2.9z M419.6,73.8h3.4l-1.7,2.9z M420.6,74.6h3.4l-1.7,2.9z M420.2,74.0h3.4l-1.7,2.9z M420.3,75.6h3.4l-1.7,2.9z M421.5,76.8h3.4l-1.7,2.9z M421.0,76.3h3.4l-1.7,2.9z M421.5,75.6h3.4l-1.7,2.9z M422.2,77.3h3.4l-1.7,2.9z M422.0,77.4h3.4l-1.7,2.9z M421.9,77.3h3.4l-1.7,2.9z M423.0,76.8h3.4l-1.7,2.9z M423.1,77.2h3.4l-1.7,2.9z M422.8,76.7h3.4l-1.7,2.9z M424.1,77.4h3.4l-1.7,2.9z M423.8,78.0h3.4l-1.7,2.9z M423.8,78.8h3.4l-1.7,2.9z M425.1,77.9h3.4l-1.7,2.9z M424.7,79.0h3.4l-1.7,2.9z M424.6,76.7h3.4l-1.7,2.9z M426.0,77.7h3.4l-1.7,2.9z M425.6,79.7h3.4l-1.7,2.9z M425.8,79.1h3.4l-1.7,2.9z M426.5,81.0h3.4l-1.7,2.9z M426.7,80.0h3.4l-1.7,2.9z M426.5,81.3h3.4l-1.7,2.9z M427.3,81.2h3.4l-1.7,2.9z M427.5,79.3h3.4l-1.7,2.9z M427.8,80.9h3.4l-1.7,2.9z M428.2,79.6h3.4l-1.7,2.9z M428.3,80.0h3.4l-1.7,2.9z M428.7,80.8h3.4l-1.7,2.9z M429.2,82.1h3.4l-1.7,2.9z M429.2,81.5h3.4l-1.7,2.9z M429.2,81.2h3.4l-1.7,2.9z M430.2,81.7h3.4l-1.7,2.9z M430.0,82.9h3.4l-1.7,2.9z M430.2,83.6h3.4l-1.7,2.9z M431.3,83.9h3.4l-1.7,2.9z M430.9,81.8h3.4l-1.7,2.9z M431.4,81.8h3.4l-1.7,2.9z M432.3,82.9h3.4l-1.7,2.9z M431.9,85.2h3.4l-1.7,2.9z M432.2,84.6h3.4l-1.7,2.9z M432.8,85.0h3.4l-1.7,2.9z M432.6,85.6h3.4l-1.7,2.9z M433.0,83.8h3.4l-1.7,2.9z M433.8,85.9h3.4l-1.7,2.9z M433.8,84.1h3.4l-1.7,2.9z M434.0,85.6h3.4l-1.7,2.9z M434.9,84.7h3.4l-1.7,2.9z M435.0,85.8h3.4l-1.7,2.9z M434.8,85.7h3.4l-1.7,2.9z M435.9,85.5h3.4l-1.7,2.9z M435.6,87.0h3.4l-1.7,2.9z M435.7,84.5h3.4l-1.7,2.9z M436.4,87.6h3.4l-1.7,2.9z M436.3,87.2h3.4l-1.7,2.9z M436.7,87.2h3.4l-1.7,2.9z M437.7,89.4h3.4l-1.7,2.9z M437.3,86.7h3.4l-1.7,2.9z M437.1,88.4h3.4l-1.7,2.9z M438.3,88.7h3.4l-1.7,2.9z M438.2,89.8h3.4l-1.7,2.9z M438.6,89.5h3.4l-1.7,2.9z M439.2,89.1h3.4l-1.7,2.9z M439.1,90.1h3.4l-1.7,2.9z M438.9,88.2h3.4l-1.7,2.9z M439.9,89.7h3.4l-1.7,2.9z M440.1,89.3h3.4l-1.7,2.9z M439.9,89.7h3.4l-1.7,2.9z M440.8,91.0h3.4l-1.7,2.9z M441.1,91.1h3.4l-1.7,2.9z M441.0,90.2h3.4l-1.7,2.9z M441.6,91.3h3.4l-1.7,2.9z M442.2,90.3h3.4l-1.7,2.9z M441.8,91.5h3.4l-1.7,2.9z M442.5,93.3h3.4l-1.7,2.9z M442.9,91.4h3.4l-1.7,2.9z M442.8,94.0h3.4l-1.7,2.9z M443.7,93.9h3.4l-1.7,2.9z M443.9,94.1h3.4l-1.7,2.9z M443.9,91.8h3.4l-1.7,2.9z M444.8,93.5h3.4l-1.7,2.9z M444.7,92.1h3.4l-1.7,2.9z M444.7,94.0h3.4l-1.7,2.9z M445.6,95.5h3.4l-1.7,2.9z M445.7,93.9h3.4l-1.7,2.9z M445.3,95.0h3.4l-1.7,2.9z M446.5,95.5h3.4l-1.7,2.9z M446.6,95.0h3.4l-1.7,2.9z M446.3,94.5h3.4l-1.7,2.9z M447.5,95.3h3.4l-1.7,2.9z M447.3,97.7h3.4l-1.7,2.9z M447.5,96.3h3.4l-1.7,2.9z M448.3,95.3h3.4l-1.7,2.9z M448.1,95.8h3.4l-1.7,2.9z M448.2,95.7h3.4l-1.7,2.9z M448.9,98.2h3.4l-1.7,2.9z M449.2,95.6h3.4l-1.7,2.9z M448.8,97.8h3.4l-1.7,2.9z M449.8,97.8h3.4l-1.7,2.9z M449.8,96.5h3.4l-1.7,2.9z M450.2,96.2h3.4l-1.7,2.9z M450.8,97.5h3.4l-1.7,2.9z M450.6,98.8h3.4l-1.7,2.9z M451.1,98.8h3.4l-1.7,2.9z M451.7,98.2h3.4l-1.7,2.9z M452.0,98.6h3.4l-1.7,2.9z M451.8,98.4h3.4l-1.7,2.9z M452.8,98.2h3.4l-1.7,2.9z M452.9,99.3h3.4l-1.7,2.9z M452.7,99.0h3.4l-1.7,2.9z M453.7,99.2h3.4l-1.7,2.9z M453.5,101.0h3.4l-1.7,2.9z M453.8,100.3h3.4l-1.7,2.9z M454.5,100.9h3.4l-1.7,2.9z M454.5,101.8h3.4l-1.7,2.9z M454.2,102.0h3.4l-1.7,2.9z M455.2,102.1h3.4l-1.7,2.9z M455.2,102.6h3.4l-1.7,2.9z M455.6,103.0h3.4l-1.7,2.9z M456.4,100.9h3.4l-1.7,2.9z M456.0,102.4h3.4l-1.7,2.9z M456.3,103.0h3.4l-1.7,2.9z M457.2,101.2h3.4l-1.7,2.9z M457.4,100.6h3.4l-1.7,2.9z M457.1,102.9h3.4l-1.7,2.9z M458.0,103.4h3.4l-1.7,2.9z M458.0,102.6h3.4l-1.7,2.9z M458.2,105.1h3.4l-1.7,2.9z M458.9,103.7h3.4l-1.7,2.9z M458.9,102.9h3.4l-1.7,2.9z M458.7,104.9h3.4l-1.7,2.9z M459.9,105.4h3.4l-1.7,2.9z M459.9,105.1h3.4l-1.7,2.9z M460.0,105.0h3.4l-1.7,2.9z M460.8,104.0h3.4l-1.7,2.9z M460.8,104.5h3.4l-1.7,2.9z M460.7,106.2h3.4l-1.7,2.9z M461.5,104.6h3.4l-1.7,2.9z M461.8,106.2h3.4l-1.7,2.9z M461.7,103.2h3.4l-1.7,2.9z M462.4,104.8h3.4l-1.7,2.9z M462.3,105.6h3.4l-1.7,2.9z M462.3,107.4h3.4l-1.7,2.9z M463.2,108.8h3.4l-1.7,2.9z M463.4,110.0h3.4l-1.7,2.9z M463.4,108.1h3.4l-1.7,2.9z M464.1,104.3h3.4l-1.7,2.9z M464.1,106.1h3.4l-1.7,2.9z M464.5,111.3h3.4l-1.7,2.9z M465.5,107.4h3.4l-1.7,2.9z M465.0,109.8h3.4l-1.7,2.9z M465.3,106.9h3.4l-1.7,2.9z M465.9,108.8h3.4l-1.7,2.9z M466.3,106.1h3.4l-1.7,2.9z M466.4,108.8h3.4l-1.7,2.9z M466.8,111.0h3.4l-1.7,2.9z M466.9,110.1h3.4l-1.7,2.9z M466.8,111.2h3.4l-1.7,2.9z M467.9,110.3h3.4l-1.7,2.9z M468.1,116.4h3.4l-1.7,2.9z M468.1,112.8h3.4l-1.7,2.9z M469.1,112.8h3.4l-1.7,2.9z M469.0,108.4h3.4l-1.7,2.9z M469.1,110.0h3.4l-1.7,2.9z M470.0,113.7h3.4l-1.7,2.9z M469.7,111.8h3.4l-1.7,2.9z M469.8,112.8h3.4l-1.7,2.9z M470.7,109.6h3.4l-1.7,2.9z M470.5,114.2h3.4l-1.7,2.9z M470.6,113.7h3.4l-1.7,2.9z M471.4,114.4h3.4l-1.7,2.9z M471.8,113.2h3.4l-1.7,2.9z M471.3,109.9h3.4l-1.7,2.9z M472.3,112.2h3.4l-1.7,2.9z M472.2,113.0h3.4l-1.7,2.9z M472.1,112.2h3.4l-1.7,2.9z M473.1,115.7h3.4l-1.7,2.9z M473.1,113.6h3.4l-1.7,2.9z M473.3,113.2h3.4l-1.7,2.9z M474.0,116.5h3.4l-1.7,2.9z M474.3,116.5h3.4l-1.7,2.9z M474.0,118.7h3.4l-1.7,2.9z M474.9,118.4h3.4l-1.7,2.9z M475.3,117.6h3.4l-1.7,2.9z M475.0,118.0h3.4l-1.7,2.9z M476.0,112.4h3.4l-1.7,2.9z M475.7,117.1h3.4l-1.7,2.9z M476.2,121.5h3.4l-1.7,2.9z M476.7,118.7h3.4l-1.7,2.9z M476.8,112.5h3.4l-1.7,2.9z M477.0,118.9h3.4l-1.7,2.9z M477.8,118.2h3.4l-1.7,2.9z M477.8,115.7h3.4l-1.7,2.9z M477.8,122.3h3.4l-1.7,2.9z M478.9,118.7h3.4l-1.7,2.9z M478.8,118.4h3.4l-1.7,2.9z M478.7,120.3h3.4l-1.7,2.9z M479.5,118.0h3.4l-1.7,2.9z M479.8,118.0h3.4l-1.7,2.9z M479.9,120.7h3.4l-1.7,2.9z M480.5,119.8h3.4l-1.7,2.9z M480.3,121.5h3.4l-1.7,2.9z M480.5,119.7h3.4l-1.7,2.9z M481.3,121.6h3.4l-1.7,2.9z M481.2,119.0h3.4l-1.7,2.9z M481.5,119.7h3.4l-1.7,2.9z M482.1,123.2h3.4l-1.7,2.9z M482.3,122.1h3.4l-1.7,2.9z M482.4,120.2h3.4l-1.7,2.9z M483.2,127.1h3.4l-1.7,2.9z M483.2,117.6h3.4l-1.7,2.9z M483.2,127.4h3.4l-1.7,2.9z M484.3,124.4h3.4l-1.7,2.9z M483.9,127.6h3.4l-1.7,2.9z M484.3,123.9h3.4l-1.7,2.9z M485.2,122.0h3.4l-1.7,2.9z M485.2,123.1h3.4l-1.7,2.9z M484.9,120.5h3.4l-1.7,2.9z M485.9,126.5h3.4l-1.7,2.9z M485.8,121.1h3.4l-1.7,2.9z M485.9,123.6h3.4l-1.7,2.9z M486.6,125.0h3.4l-1.7,2.9z M486.8,120.8h3.4l-1.7,2.9z M486.8,121.3h3.4l-1.7,2.9z M487.6,121.2h3.4l-1.7,2.9z M487.9,125.0h3.4l-1.7,2.9z M487.9,124.8h3.4l-1.7,2.9z M488.8,126.5h3.4l-1.7,2.9z M488.6,122.8h3.4l-1.7,2.9z M488.6,131.8h3.4l-1.7,2.9z M489.7,135.6h3.4l-1.7,2.9z M489.2,123.5h3.4l-1.7,2.9z M489.4,124.7h3.4l-1.7,2.9z M490.2,130.9h3.4l-1.7,2.9z M490.6,128.3h3.4l-1.7,2.9z M490.6,124.7h3.4l-1.7,2.9z M491.5,130.1h3.4l-1.7,2.9z M491.3,122.9h3.4l-1.7,2.9z M491.4,127.3h3.4l-1.7,2.9z M492.0,132.6h3.4l-1.7,2.9z M492.0,134.0h3.4l-1.7,2.9z M492.1,124.7h3.4l-1.7,2.9z M492.9,137.0h3.4l-1.7,2.9z M493.0,133.1h3.4l-1.7,2.9z M494.1,124.1h3.4l-1.7,2.9z M493.8,134.0h3.4l-1.7,2.9z M494.8,131.6h3.4l-1.7,2.9z M495.0,129.0h3.4l-1.7,2.9z M495.9,130.0h3.4l-1.7,2.9z M495.7,134.4h3.4l-1.7,2.9z M496.6,131.6h3.4l-1.7,2.9z M496.6,126.2h3.4l-1.7,2.9z M497.7,138.0h3.4l-1.7,2.9z M497.6,135.6h3.4l-1.7,2.9z M498.7,138.4h3.4l-1.7,2.9z M498.6,130.3h3.4l-1.7,2.9z M499.4,140.3h3.4l-1.7,2.9z M499.3,142.8h3.4l-1.7,2.9z M500.4,132.2h3.4l-1.7,2.9z M500.0,133.2h3.4l-1.7,2.9z M501.1,136.7h3.4l-1.7,2.9z M500.9,131.2h3.4l-1.7,2.9z M502.2,135.7h3.4l-1.7,2.9z M501.9,132.2h3.4l-1.7,2.9z M503.1,130.8h3.4l-1.7,2.9z M503.2,135.5h3.4l-1.7,2.9z M503.7,140.7h3.4l-1.7,2.9z M503.7,137.5h3.4l-1.7,2.9z M504.7,147.7h3.4l-1.7,2.9z M505.0,137.2h3.4l-1.7,2.9z M505.8,142.8h3.4l-1.7,2.9z M505.5,134.2h3.4l-1.7,2.9z M506.6,144.0h3.4l-1.7,2.9z M506.6,144.3h3.4l-1.7,2.9z M507.6,136.0h3.4l-1.7,2.9z M507.2,141.8h3.4l-1.7,2.9z M508.3,148.0h3.4l-1.7,2.9z M508.2,144.0h3.4l-1.7,2.9z M509.5,139.3h3.4l-1.7,2.9z M509.0,137.3h3.4l-1.7,2.9z M510.3,136.9h3.4l-1.7,2.9z M509.8,145.9h3.4l-1.7,2.9z M511.3,133.9h3.4l-1.7,2.9z M511.1,148.5h3.4l-1.7,2.9z M512.1,143.0h3.4l-1.7,2.9z M512.2,151.0h3.4l-1.7,2.9z M513.0,146.0h3.4l-1.7,2.9z M513.0,145.9h3.4l-1.7,2.9z M514.0,144.7h3.4l-1.7,2.9z M513.7,147.9h3.4l-1.7,2.9z M514.4,152.2h3.4l-1.7,2.9z M514.3,157.1h3.4l-1.7,2.9z M515.5,145.3h3.4l-1.7,2.9z M515.7,149.6h3.4l-1.7,2.9z M516.6,141.5h3.4l-1.7,2.9z M516.3,156.2h3.4l-1.7,2.9z M517.1,140.6h3.4l-1.7,2.9z M517.1,151.9h3.4l-1.7,2.9z M518.3,146.5h3.4l-1.7,2.9z M518.1,150.5h3.4l-1.7,2.9z M519.2,152.1h3.4l-1.7,2.9z M519.3,150.5h3.4l-1.7,2.9z M520.2,143.7h3.4l-1.7,2.9z M519.7,146.8h3.4l-1.7,2.9z M520.8,147.2h3.4l-1.7,2.9z M520.8,146.0h3.4l-1.7,2.9z M521.5,150.9h3.4l-1.7,2.9z M521.7,153.5h3.4l-1.7,2.9z M522.7,146.7h3.4l-1.7,2.9z M522.4,152.6h3.4l-1.7,2.9z M523.3,160.1h3.4l-1.7,2.9z M523.6,139.5h3.4l-1.7,2.9z M524.7,157.3h3.4l-1.7,2.9z M524.3,150.1h3.4l-1.7,2.9z M525.5,160.2h3.4l-1.7,2.9z M525.5,152.8h3.4l-1.7,2.9z M526.1,160.9h3.4l-1.7,2.9z M526.4,150.2h3.4l-1.7,2.9z M527.3,153.2h3.4l-1.7,2.9z M527.1,169.1h3.4l-1.7,2.9z M528.2,152.9h3.4l-1.7,2.9z M528.1,156.6h3.4l-1.7,2.9z M529.0,161.7h3.4l-1.7,2.9z M529.2,153.4h3.4l-1.7,2.9z M529.9,152.3h3.4l-1.7,2.9z M529.7,146.8h3.4l-1.7,2.9z M530.5,163.0h3.4l-1.7,2.9z M530.7,159.0h3.4l-1.7,2.9z M531.8,158.6h3.4l-1.7,2.9z M531.6,157.8h3.4l-1.7,2.9z M532.3,154.0h3.4l-1.7,2.9z M532.6,152.5h3.4l-1.7,2.9z M533.2,160.6h3.4l-1.7,2.9z M533.6,157.7h3.4l-1.7,2.9z M534.4,167.0h3.4l-1.7,2.9z M534.2,154.2h3.4l-1.7,2.9z M535.1,179.2h3.4l-1.7,2.9z M535.2,162.8h3.4l-1.7,2.9z M535.9,159.1h3.4l-1.7,2.9z M536.0,153.7h3.4l-1.7,2.9z M536.9,162.1h3.4l-1.7,2.9z M537.0,152.4h3.4l-1.7,2.9z M537.8,168.1h3.4l-1.7,2.9z M537.7,163.9h3.4l-1.7,2.9z M538.8,164.7h3.4l-1.7,2.9z M538.6,170.0h3.4l-1.7,2.9z M539.7,168.8h3.4l-1.7,2.9z M539.8,168.4h3.4l-1.7,2.9z M540.5,160.3h3.4l-1.7,2.9z M540.4,163.4h3.4l-1.7,2.9z M541.5,161.4h3.4l-1.7,2.9z M541.2,158.0h3.4l-1.7,2.9z M542.7,175.9h3.4l-1.7,2.9z M542.6,156.1h3.4l-1.7,2.9z M543.5,166.0h3.4l-1.7,2.9z M543.5,164.7h3.4l-1.7,2.9z M544.3,183.1h3.4l-1.7,2.9z M544.1,176.7h3.4l-1.7,2.9z M545.2,163.5h3.4l-1.7,2.9z M545.2,162.8h3.4l-1.7,2.9z M546.2,166.7h3.4l-1.7,2.9z M546.1,176.5h3.4l-1.7,2.9z M546.7,165.8h3.4l-1.7,2.9z M547.0,169.2h3.4l-1.7,2.9z M547.7,176.1h3.4l-1.7,2.9z M547.7,170.6h3.4l-1.7,2.9z M548.9,172.9h3.4l-1.7,2.9z M549.0,167.7h3.4l-1.7,2.9z M549.5,181.5h3.4l-1.7,2.9z M549.8,168.5h3.4l-1.7,2.9z M550.6,172.4h3.4l-1.7,2.9z M550.3,172.4h3.4l-1.7,2.9z M551.5,170.3h3.4l-1.7,2.9z M551.6,175.4h3.4l-1.7,2.9z M552.4,174.8h3.4l-1.7,2.9z M552.4,176.7h3.4l-1.7,2.9z M553.1,171.0h3.4l-1.7,2.9z M553.1,164.9h3.4l-1.7,2.9z M554.2,159.7h3.4l-1.7,2.9z M554.1,177.1h3.4l-1.7,2.9z M555.0,172.7h3.4l-1.7,2.9z M554.9,176.1h3.4l-1.7,2.9z M555.8,181.0h3.4l-1.7,2.9z M555.9,182.1h3.4l-1.7,2.9z M556.7,181.2h3.4l-1.7,2.9z M556.9,181.3h3.4l-1.7,2.9z M557.5,174.9h3.4l-1.7,2.9z M558.6,179.2h3.4l-1.7,2.9z M558.3,165.7h3.4l-1.7,2.9z M559.5,176.5h3.4l-1.7,2.9z M559.4,178.7h3.4l-1.7,2.9z M560.3,181.8h3.4l-1.7,2.9z M560.6,176.5h3.4l-1.7,2.9z M561.5,183.3h3.4l-1.7,2.9z M562.3,179.1h3.4l-1.7,2.9z M562.2,173.0h3.4l-1.7,2.9z M564.6,173.4h3.4l-1.7,2.9z M566.0,180.5h3.4l-1.7,2.9z M565.8,177.4h3.4l-1.7,2.9z M566.9,175.4h3.4l-1.7,2.9z M567.8,179.0h3.4l-1.7,2.9z M568.3,181.8h3.4l-1.7,2.9z M568.2,174.7h3.4l-1.7,2.9z M570.5,176.8h3.4l-1.7,2.9z M570.4,175.7h3.4l-1.7,2.9z M549.7,174.4h3.4l-1.7,2.9z M557.5,161.9h3.4l-1.7,2.9z M537.3,182.7h3.4l-1.7,2.9z M549.9,176.1h3.4l-1.7,2.9z M650.5,176.1h3.4l-1.7,2.9z M612.1,161.1h3.4l-1.7,2.9z M562.4,173.4h3.4l-1.7,2.9z M571.7,177.9h3.4l-1.7,2.9z M636.2,171.8h3.4l-1.7,2.9z M618.2,180.5h3.4l-1.7,2.9z M644.4,163.6h3.4l-1.7,2.9z M558.4,168.5h3.4l-1.7,2.9z M671.1,175.7h3.4l-1.7,2.9z M548.0,174.4h3.4l-1.7,2.9z M553.6,178.3h3.4l-1.7,2.9z M580.3,167.5h3.4l-1.7,2.9z M655.8,174.3h3.4l-1.7,2.9z M551.8,176.4h3.4l-1.7,2.9z M578.2,171.3h3.4l-1.7,2.9z M537.5,177.9h3.4l-1.7,2.9z M543.9,169.5h3.4l-1.7,2.9z M661.9,166.3h3.4l-1.7,2.9z M605.0,177.2h3.4l-1.7,2.9z M618.4,159.2h3.4l-1.7,2.9z M548.4,177.9h3.4l-1.7,2.9z M653.2,179.6h3.4l-1.7,2.9z M588.8,175.2h3.4l-1.7,2.9z M650.7,174.9h3.4l-1.7,2.9z M559.1,172.7h3.4l-1.7,2.9z M563.7,161.3h3.4l-1.7,2.9z M538.8,173.7h3.4l-1.7,2.9z M586.2,166.7h3.4l-1.7,2.9z M596.6,169.4h3.4l-1.7,2.9z M553.9,165.5h3.4l-1.7,2.9z M606.5,165.2h3.4l-1.7,2.9z M579.9,171.5h3.4l-1.7,2.9z M599.7,166.7h3.4l-1.7,2.9z M544.0,154.4h3.4l-1.7,2.9z M589.5,172.9h3.4l-1.7,2.9z M554.9,153.7h3.4l-1.7,2.9z M606.5,174.6h3.4l-1.7,2.9z M567.5,177.3h3.4l-1.7,2.9z M585.0,158.0h3.4l-1.7,2.9z M533.2,173.0h3.4l-1.7,2.9z M532.3,174.1h3.4l-1.7,2.9z M647.6,172.0h3.4l-1.7,2.9z M564.8,170.3h3.4l-1.7,2.9z M540.8,171.1h3.4l-1.7,2.9z M536.7,166.7h3.4l-1.7,2.9z M594.3,171.9h3.4l-1.7,2.9z M587.0,165.2h3.4l-1.7,2.9z M620.4,171.5h3.4l-1.7,2.9z M619.1,177.3h3.4l-1.7,2.9z M553.5,157.2h3.4l-1.7,2.9z M565.2,168.1h3.4l-1.7,2.9z M531.0,183.6h3.4l-1.7,2.9z M631.3,178.5h3.4l-1.7,2.9z M616.7,176.8h3.4l-1.7,2.9z M536.6,180.2h3.4l-1.7,2.9z M529.7,167.7h3.4l-1.7,2.9z M628.6,173.2h3.4l-1.7,2.9z M667.5,176.1h3.4l-1.7,2.9z M667.3,167.8h3.4l-1.7,2.9z M585.2,170.5h3.4l-1.7,2.9z M659.2,179.9h3.4l-1.7,2.9z M626.6,167.6h3.4l-1.7,2.9z M667.0,166.9h3.4l-1.7,2.9z M659.8,172.3h3.4l-1.7,2.9z M612.9,180.8h3.4l-1.7,2.9z M613.4,176.9h3.4l-1.7,2.9z M627.0,163.0h3.4l-1.7,2.9z M600.2,171.4h3.4l-1.7,2.9z M537.8,165.6h3.4l-1.7,2.9z M524.9,158.5h3.4l-1.7,2.9z M570.8,178.6h3.4l-1.7,2.9z M619.3,162.2h3.4l-1.7,2.9z M581.7,175.3h3.4l-1.7,2.9z M621.4,180.9h3.4l-1.7,2.9z M637.9,165.3h3.4l-1.7,2.9z M618.3,173.9h3.4l-1.7,2.9z M580.4,174.3h3.4l-1.7,2.9z M642.0,176.8h3.4l-1.7,2.9z M598.1,177.8h3.4l-1.7,2.9z M570.7,179.0h3.4l-1.7,2.9z M582.1,167.1h3.4l-1.7,2.9z M582.7,172.5h3.4l-1.7,2.9z M595.1,169.9h3.4l-1.7,2.9z M590.3,182.6h3.4l-1.7,2.9z M600.1,169.8h3.4l-1.7,2.9z M549.1,174.7h3.4l-1.7,2.9z M611.7,181.7h3.4l-1.7,2.9z M583.7,167.7h3.4l-1.7,2.9z M606.2,173.5h3.4l-1.7,2.9z M586.5,161.3h3.4l-1.7,2.9z M598.6,165.5h3.4l-1.7,2.9z M570.7,173.7h3.4l-1.7,2.9z M634.6,174.0h3.4l-1.7,2.9z M577.5,166.6h3.4l-1.7,2.9z M659.8,182.1h3.4l-1.7,2.9z M556.5,171.0h3.4l-1.7,2.9z M666.1,170.8h3.4l-1.7,2.9z M559.7,175.5h3.4l-1.7,2.9z M522.4,162.1h3.4l-1.7,2.9z M526.6,167.0h3.4l-1.7,2.9z M536.0,170.6h3.4l-1.7,2.9z M646.3,172.0h3.4l-1.7,2.9z M547.7,158.2h3.4l-1.7,2.9z M670.4,160.8h3.4l-1.7,2.9z M596.8,161.0h3.4l-1.7,2.9z M560.0,178.2h3.4l-1.7,2.9z M558.8,170.5h3.4l-1.7,2.9z M554.1,166.7h3.4l-1.7,2.9z M666.6,163.6h3.4l-1.7,2.9z M569.5,172.3h3.4l-1.7,2.9z M618.1,177.4h3.4l-1.7,2.9z M620.0,170.7h3.4l-1.7,2.9z M556.7,172.3h3.4l-1.7,2.9z M580.2,168.6h3.4l-1.7,2.9z M555.4,169.8h3.4l-1.7,2.9z M642.7,162.4h3.4l-1.7,2.9z M580.3,170.7h3.4l-1.7,2.9z M580.9,184.1h3.4l-1.7,2.9z M548.3,172.2h3.4l-1.7,2.9z M614.6,169.4h3.4l-1.7,2.9z M529.6,176.9h3.4l-1.7,2.9z M544.6,172.2h3.4l-1.7,2.9z M641.9,169.5h3.4l-1.7,2.9z M533.2,173.1h3.4l-1.7,2.9z M622.0,179.3h3.4l-1.7,2.9z M584.6,176.7h3.4l-1.7,2.9z M585.3,172.4h3.4l-1.7,2.9z M658.1,166.4h3.4l-1.7,2.9z M659.9,171.0h3.4l-1.7,2.9z M613.6,163.3h3.4l-1.7,2.9z M579.2,167.8h3.4l-1.7,2.9z M596.0,175.4h3.4l-1.7,2.9z M601.6,171.6h3.4l-1.7,2.9z M670.8,182.9h3.4l-1.7,2.9z M646.7,173.6h3.4l-1.7,2.9z M654.6,170.0h3.4l-1.7,2.9z M638.8,178.8h3.4l-1.7,2.9z M526.7,178.2h3.4l-1.7,2.9z M635.1,166.7h3.4l-1.7,2.9z M550.3,171.3h3.4l-1.7,2.9z M537.8,181.4h3.4l-1.7,2.9z M632.9,176.0h3.4l-1.7,2.9z M573.7,176.8h3.4l-1.7,2.9z M598.1,163.6h3.4l-1.7,2.9z M614.9,154.8h3.4l-1.7,2.9z"/></g>
<path d="M379.2,25.6 L674,25.6 L674,186.4 M379.2,25.6 L379.2,189.4" fill="none" stroke="#333" stroke-width="1.1"/>
<path d="M378.7,186.4 L674.5,186.4" stroke="#222" stroke-width="1.2"/>
<path d="M386.80,186.4 L386.80,189.4 M458.60,186.4 L458.60,189.4 M530.40,186.4 L530.40,189.4 M602.20,186.4 L602.20,189.4 M674.00,186.4 L674.00,189.4 M422.70,186.4 L422.70,188.4 M494.50,186.4 L494.50,188.4 M566.30,186.4 L566.30,188.4 M638.10,186.4 L638.10,188.4 M379.2,26.10 L376,26.10 M379.2,56.30 L376,56.30 M379.2,86.50 L376,86.50 M379.2,116.70 L376,116.70 M379.2,146.90 L376,146.90 M379.2,177.10 L376,177.10 M379.2,47.21 L377.4,47.21 M379.2,41.89 L377.4,41.89 M379.2,38.12 L377.4,38.12 M379.2,35.19 L377.4,35.19 M379.2,32.80 L377.4,32.80 M379.2,30.78 L377.4,30.78 M379.2,29.03 L377.4,29.03 M379.2,27.48 L377.4,27.48 M379.2,77.41 L377.4,77.41 M379.2,72.09 L377.4,72.09 M379.2,68.32 L377.4,68.32 M379.2,65.39 L377.4,65.39 M379.2,63.00 L377.4,63.00 M379.2,60.98 L377.4,60.98 M379.2,59.23 L377.4,59.23 M379.2,57.68 L377.4,57.68 M379.2,107.61 L377.4,107.61 M379.2,102.29 L377.4,102.29 M379.2,98.52 L377.4,98.52 M379.2,95.59 L377.4,95.59 M379.2,93.20 L377.4,93.20 M379.2,91.18 L377.4,91.18 M379.2,89.43 L377.4,89.43 M379.2,87.88 L377.4,87.88 M379.2,137.81 L377.4,137.81 M379.2,132.49 L377.4,132.49 M379.2,128.72 L377.4,128.72 M379.2,125.79 L377.4,125.79 M379.2,123.40 L377.4,123.40 M379.2,121.38 L377.4,121.38 M379.2,119.63 L377.4,119.63 M379.2,118.08 L377.4,118.08 M379.2,168.01 L377.4,168.01 M379.2,162.69 L377.4,162.69 M379.2,158.92 L377.4,158.92 M379.2,155.99 L377.4,155.99 M379.2,153.60 L377.4,153.60 M379.2,151.58 L377.4,151.58 M379.2,149.83 L377.4,149.83 M379.2,148.28 L377.4,148.28 M379.2,186.19 L377.4,186.19 M379.2,183.80 L377.4,183.80 M379.2,181.78 L377.4,181.78 M379.2,180.03 L377.4,180.03 M379.2,178.48 L377.4,178.48" stroke="#333" stroke-width="0.9"/>
<text x="386.80" y="201.60" font-size="10.4" text-anchor="middle" stroke="#222" stroke-width="0.22">0</text>
<text x="458.60" y="201.60" font-size="10.4" text-anchor="middle" stroke="#222" stroke-width="0.22">1</text>
<text x="530.40" y="201.60" font-size="10.4" text-anchor="middle" stroke="#222" stroke-width="0.22">2</text>
<text x="602.20" y="201.60" font-size="10.4" text-anchor="middle" stroke="#222" stroke-width="0.22">3</text>
<text x="674.00" y="201.60" font-size="10.4" text-anchor="middle" stroke="#222" stroke-width="0.22">4</text>
<text x="373.8" y="29.60" font-size="9.6" text-anchor="end" fill="#222" stroke="#222" stroke-width="0.22">10<tspan font-size="6.5" dy="-3.6">1</tspan></text>
<text x="373.8" y="59.80" font-size="9.6" text-anchor="end" fill="#222" stroke="#222" stroke-width="0.22">10<tspan font-size="6.5" dy="-3.6">0</tspan></text>
<text x="373.8" y="90.00" font-size="9.6" text-anchor="end" fill="#222" stroke="#222" stroke-width="0.22">10<tspan font-size="6.5" dy="-3.6">-1</tspan></text>
<text x="373.8" y="120.20" font-size="9.6" text-anchor="end" fill="#222" stroke="#222" stroke-width="0.22">10<tspan font-size="6.5" dy="-3.6">-2</tspan></text>
<text x="373.8" y="150.40" font-size="9.6" text-anchor="end" fill="#222" stroke="#222" stroke-width="0.22">10<tspan font-size="6.5" dy="-3.6">-3</tspan></text>
<text x="373.8" y="180.60" font-size="9.6" text-anchor="end" fill="#222" stroke="#222" stroke-width="0.22">10<tspan font-size="6.5" dy="-3.6">-4</tspan></text>
<text x="527.50" y="212.60" font-size="10" text-anchor="middle" stroke="#222" stroke-width="0.22">Time (ms)</text>
<text transform="translate(354.2,105.6) rotate(-90)" font-size="10.25" text-anchor="middle" fill="#222" stroke="#222" stroke-width="0.22">Norm. Intensity (arb. units)</text>
<text x="472.50" y="105.10" font-size="10" fill="#2ea860" stroke="#2ea860" stroke-width="0.22">220 µs</text>
<text x="403.90" y="125.30" font-size="10" fill="#2f7bd0" stroke="#2f7bd0" stroke-width="0.22">150 µs</text>
<rect x="616.4" y="30.4" width="7.5" height="7" fill="#505050"/>
<text x="633.60" y="37.20" font-size="9.2" stroke="#222" stroke-width="0.22">IRF</text>
<circle cx="620.1" cy="45.4" r="4.1" fill="#1f66e0"/>
<text x="633.60" y="48.70" font-size="9.2" stroke="#222" stroke-width="0.22">B-crystal</text>
<path d="M615,54.1 L625.1,54.1 L620.05,61.7 Z" fill="#3aa565"/>
<text x="633.60" y="60.20" font-size="9.2" stroke="#222" stroke-width="0.22">G-crystal</text>
<text x="13.00" y="233.10" font-size="12.5" font-weight="bold" fill="#111" stroke="#111" stroke-width="0.22">c</text>
<rect x="31.6" y="233.8" width="125" height="126" fill="none" stroke="#555" stroke-width="1.1"/>
<path d="M32,297.30 L156,297.30" stroke="#aaa" stroke-width="0.9" stroke-dasharray="1.5,1.5"/>
<path d="M36.4,246.65 L57.3,246.65" stroke="#444" stroke-width="1.6"/>
<path d="M68.3,256.78 L89.2,256.78" stroke="#444" stroke-width="1.6"/>
<path d="M99.2,266.91 L120.1,266.91" stroke="#444" stroke-width="1.6"/>
<path d="M57.3,246.65 L68.3,256.78 M89.2,256.78 L99.2,266.91 M120.1,266.91 L130.2,341.87" stroke="#333" stroke-width="0.9" stroke-dasharray="1.4,1.2" fill="none"/>
<path d="M130.2,347.95 L150.8,347.95" stroke="#e8232a" stroke-width="1.6"/>
<text x="39.80" y="244.20" font-size="9.8" stroke="#222" stroke-width="0.22">0.1</text>
<text x="68.20" y="254.40" font-size="9.8" stroke="#222" stroke-width="0.22">0.08</text>
<text x="99.60" y="264.60" font-size="9.8" stroke="#222" stroke-width="0.22">0.06</text>
<text x="130.80" y="344.20" font-size="9.8" font-weight="bold" fill="#e8232a" stroke="#e8232a" stroke-width="0.22">−0.1</text>
<path d="M31.6,246.65 L29,246.65 M31.6,297.30 L29,297.30 M31.6,347.95 L29,347.95 M31.6,271.98 L30,271.98 M31.6,322.62 L30,322.62 M47.2,359.8 L47.2,362.8 M78.4,359.8 L78.4,362.8 M109.8,359.8 L109.8,362.8 M140.7,359.8 L140.7,362.8" stroke="#555" stroke-width="0.9"/>
<text x="28.00" y="249.85" font-size="8.8" text-anchor="end" stroke="#222" stroke-width="0.22">0.1</text>
<text x="28.00" y="300.50" font-size="8.8" text-anchor="end" stroke="#222" stroke-width="0.22">0.0</text>
<text x="28.00" y="351.15" font-size="8.8" text-anchor="end" stroke="#222" stroke-width="0.22">-0.1</text>
<text transform="translate(13.0,296.9) rotate(-90)" font-size="8.45" text-anchor="middle" fill="#222" stroke="#222" stroke-width="0.22">Relative transitions energy (eV)</text>
<text x="47.2" y="372.4" font-size="9.2" text-anchor="middle" fill="#222" stroke="#222" stroke-width="0.22">E<tspan font-size="8" dy="2.5">vert</tspan></text>
<text x="78.4" y="372.4" font-size="9.2" text-anchor="middle" fill="#222" stroke="#222" stroke-width="0.22">E<tspan font-size="8" dy="2.5">vert</tspan></text>
<text x="109.8" y="372.4" font-size="9.2" text-anchor="middle" fill="#222" stroke="#222" stroke-width="0.22">E<tspan font-size="8" dy="2.5">00</tspan></text>
<text x="140.7" y="372.4" font-size="9.2" text-anchor="middle" fill="#222" stroke="#222" stroke-width="0.22">E<tspan font-size="8" dy="2.5">vert</tspan></text>
<text x="47.2" y="383.9" font-size="8.6" text-anchor="middle" fill="#222" letter-spacing="-0.2" stroke="#222" stroke-width="0.22">(S<tspan font-size="6" dy="2">0</tspan><tspan dy="-2">→S</tspan><tspan font-size="6" dy="2">1</tspan><tspan dy="-2">)</tspan></text>
<text x="78.4" y="383.9" font-size="8.6" text-anchor="middle" fill="#222" letter-spacing="-0.2" stroke="#222" stroke-width="0.22">(S<tspan font-size="6" dy="2">0</tspan><tspan dy="-2">→T</tspan><tspan font-size="6" dy="2">1</tspan><tspan dy="-2">)</tspan></text>
<text x="109.8" y="383.9" font-size="8.6" text-anchor="middle" fill="#222" letter-spacing="-0.2" stroke="#222" stroke-width="0.22">(S<tspan font-size="6" dy="2">0</tspan><tspan dy="-2">↔T</tspan><tspan font-size="6" dy="2">1</tspan><tspan dy="-2">)</tspan></text>
<text x="140.7" y="383.9" font-size="8.6" text-anchor="middle" fill="#222" letter-spacing="-0.2" stroke="#222" stroke-width="0.22">(T<tspan font-size="6" dy="2">1</tspan><tspan dy="-2">→S</tspan><tspan font-size="6" dy="2">0</tspan><tspan dy="-2">)</tspan></text>
<defs><radialGradient id="gr" cx="0.38" cy="0.35" r="0.7"><stop offset="0" stop-color="#c04040"/><stop offset="0.45" stop-color="#8e1c1c"/><stop offset="1" stop-color="#5e0e0e"/></radialGradient><radialGradient id="gt" cx="0.38" cy="0.35" r="0.7"><stop offset="0" stop-color="#5cc8cc"/><stop offset="0.45" stop-color="#23979c"/><stop offset="1" stop-color="#136468"/></radialGradient></defs>
<text x="180.00" y="232.60" font-size="12.5" font-weight="bold" fill="#111" stroke="#111" stroke-width="0.22">d</text>
<text x="270" y="244.6" font-size="10.5" font-weight="bold" fill="#111" stroke="#111" stroke-width="0.22">S<tspan font-size="7" dy="2">1</tspan></text>
<text x="436.2" y="244.6" font-size="10.5" font-weight="bold" fill="#111" stroke="#111" stroke-width="0.22">T<tspan font-size="7" dy="2">4</tspan></text>
<text x="598.7" y="244.6" font-size="10.5" font-weight="bold" fill="#111" stroke="#111" stroke-width="0.22">T<tspan font-size="7" dy="2">1</tspan></text>
<text x="164.4" y="275.8" font-size="9.5" font-weight="bold" fill="#111" stroke="#111" stroke-width="0.22"><tspan fill="#2f7bd0" font-size="10" stroke="#2f7bd0" stroke-width="0.22">B</tspan> (syn)</text>
<text x="162" y="333.8" font-size="9.5" font-weight="bold" fill="#111" stroke="#111" stroke-width="0.22"><tspan fill="#33b060" font-size="10" stroke="#33b060" stroke-width="0.22">G</tspan> (anti)</text>
<text x="234.60" y="377.00" font-size="10.3" text-anchor="middle" stroke="#222" stroke-width="0.22">HONTO</text>
<text x="315.05" y="377.00" font-size="10.3" text-anchor="middle" stroke="#222" stroke-width="0.22">LUNTO</text>
<text x="400.25" y="377.00" font-size="10.3" text-anchor="middle" stroke="#222" stroke-width="0.22">HONTO</text>
<text x="481.30" y="377.00" font-size="10.3" text-anchor="middle" stroke="#222" stroke-width="0.22">LUNTO</text>
<text x="567.95" y="377.00" font-size="10.3" text-anchor="middle" stroke="#222" stroke-width="0.22">HONTO</text>
<text x="639.35" y="377.80" font-size="10.3" text-anchor="middle" stroke="#222" stroke-width="0.22">LUNTO</text>
<path d="M357.7,236.6 L357.7,368 M521.8,236.6 L521.8,368" stroke="#888" stroke-width="0.8" stroke-dasharray="2,2"/>
<path d="M212.1,278.2 L210.0,284.1 M210.0,284.1 L203.0,285.0 M203.0,285.0 L199.9,283.8 M199.9,283.8 L202.0,277.9 M202.0,277.9 L209.0,277.0 M209.0,277.0 L212.1,278.2 M269.0,268.5 L266.0,274.5 M266.0,274.5 L258.3,275.0 M258.3,275.0 L255.0,273.5 M255.0,273.5 L258.0,267.5 M258.0,267.5 L265.7,267.0 M265.7,267.0 L269.0,268.5 M212.1,278.2 L216.1,275.2 M216.1,275.2 L225.0,272.0 M243.0,279.0 L251.0,275.5 M251.0,275.5 L255.0,273.5 M240.9,279.0 L234.0,282.0 M234.0,282.0 L227.1,279.0 M227.1,279.0 L227.1,273.0 M227.1,273.0 L234.0,270.0 M234.0,270.0 L240.9,273.0 M240.9,273.0 L240.9,279.0" stroke="#666" stroke-width="1.35" fill="none" stroke-linecap="round"/><path d="M212.1,278.2 L210.0,284.1 M210.0,284.1 L203.0,285.0 M203.0,285.0 L199.9,283.8 M199.9,283.8 L202.0,277.9 M202.0,277.9 L209.0,277.0 M209.0,277.0 L212.1,278.2 M269.0,268.5 L266.0,274.5 M266.0,274.5 L258.3,275.0 M258.3,275.0 L255.0,273.5 M255.0,273.5 L258.0,267.5 M258.0,267.5 L265.7,267.0 M265.7,267.0 L269.0,268.5 M212.1,278.2 L216.1,275.2 M216.1,275.2 L225.0,272.0 M243.0,279.0 L251.0,275.5 M251.0,275.5 L255.0,273.5 M240.9,279.0 L234.0,282.0 M234.0,282.0 L227.1,279.0 M227.1,279.0 L227.1,273.0 M227.1,273.0 L234.0,270.0 M234.0,270.0 L240.9,273.0 M240.9,273.0 L240.9,279.0" stroke="#d8d8d8" stroke-width="0.45" fill="none"/><path d="M212.1,278.2 L214.6,275.0 M210.0,284.1 L212.2,287.8 M203.0,285.0 L201.4,285.2 M199.9,283.8 L197.4,287.0 M202.0,277.9 L199.8,274.2 M209.0,277.0 L210.6,276.8 M269.0,268.5 L271.6,265.6 M266.0,274.5 L268.1,278.3 M258.3,275.0 L256.4,275.1 M255.0,273.5 L252.4,276.4 M258.0,267.5 L255.9,263.7 M265.7,267.0 L267.6,266.9" stroke="#999" stroke-width="0.8" fill="none"/><circle cx="216.1" cy="275.2" r="1.1" fill="#2233cc"/><circle cx="251.0" cy="275.5" r="1.1" fill="#2233cc"/><circle cx="213.6" cy="279.2" r="1.2" fill="#d02020"/><circle cx="253.5" cy="271.5" r="1.2" fill="#d02020"/>
<path d="M293.1,277.2 L291.0,283.1 M291.0,283.1 L284.0,284.0 M284.0,284.0 L280.9,282.8 M280.9,282.8 L283.0,276.9 M283.0,276.9 L290.0,276.0 M290.0,276.0 L293.1,277.2 M350.0,267.5 L347.0,273.5 M347.0,273.5 L339.3,274.0 M339.3,274.0 L336.0,272.5 M336.0,272.5 L339.0,266.5 M339.0,266.5 L346.7,266.0 M346.7,266.0 L350.0,267.5 M293.1,277.2 L297.1,274.2 M297.1,274.2 L303.0,270.0 M321.0,277.0 L332.0,274.5 M332.0,274.5 L336.0,272.5 M318.9,277.0 L312.0,280.0 M312.0,280.0 L305.1,277.0 M305.1,277.0 L305.1,271.0 M305.1,271.0 L312.0,268.0 M312.0,268.0 L318.9,271.0 M318.9,271.0 L318.9,277.0" stroke="#666" stroke-width="1.35" fill="none" stroke-linecap="round"/><path d="M293.1,277.2 L291.0,283.1 M291.0,283.1 L284.0,284.0 M284.0,284.0 L280.9,282.8 M280.9,282.8 L283.0,276.9 M283.0,276.9 L290.0,276.0 M290.0,276.0 L293.1,277.2 M350.0,267.5 L347.0,273.5 M347.0,273.5 L339.3,274.0 M339.3,274.0 L336.0,272.5 M336.0,272.5 L339.0,266.5 M339.0,266.5 L346.7,266.0 M346.7,266.0 L350.0,267.5 M293.1,277.2 L297.1,274.2 M297.1,274.2 L303.0,270.0 M321.0,277.0 L332.0,274.5 M332.0,274.5 L336.0,272.5 M318.9,277.0 L312.0,280.0 M312.0,280.0 L305.1,277.0 M305.1,277.0 L305.1,271.0 M305.1,271.0 L312.0,268.0 M312.0,268.0 L318.9,271.0 M318.9,271.0 L318.9,277.0" stroke="#d8d8d8" stroke-width="0.45" fill="none"/><path d="M293.1,277.2 L295.6,274.0 M291.0,283.1 L293.2,286.8 M284.0,284.0 L282.4,284.2 M280.9,282.8 L278.4,286.0 M283.0,276.9 L280.8,273.2 M290.0,276.0 L291.6,275.8 M350.0,267.5 L352.6,264.6 M347.0,273.5 L349.1,277.3 M339.3,274.0 L337.4,274.1 M336.0,272.5 L333.4,275.4 M339.0,266.5 L336.9,262.7 M346.7,266.0 L348.6,265.9" stroke="#999" stroke-width="0.8" fill="none"/><circle cx="297.1" cy="274.2" r="1.1" fill="#2233cc"/><circle cx="332.0" cy="274.5" r="1.1" fill="#2233cc"/><circle cx="294.6" cy="278.2" r="1.2" fill="#d02020"/><circle cx="334.5" cy="270.5" r="1.2" fill="#d02020"/>
<path d="M372.1,278.2 L370.0,284.1 M370.0,284.1 L363.0,285.0 M363.0,285.0 L359.9,283.8 M359.9,283.8 L362.0,277.9 M362.0,277.9 L369.0,277.0 M369.0,277.0 L372.1,278.2 M438.0,267.5 L435.0,273.5 M435.0,273.5 L427.3,274.0 M427.3,274.0 L424.0,272.5 M424.0,272.5 L427.0,266.5 M427.0,266.5 L434.7,266.0 M434.7,266.0 L438.0,267.5 M372.1,278.2 L376.1,275.2 M376.1,275.2 L389.0,270.0 M407.0,277.0 L420.0,274.5 M420.0,274.5 L424.0,272.5 M404.9,277.0 L398.0,280.0 M398.0,280.0 L391.1,277.0 M391.1,277.0 L391.1,271.0 M391.1,271.0 L398.0,268.0 M398.0,268.0 L404.9,271.0 M404.9,271.0 L404.9,277.0" stroke="#666" stroke-width="1.35" fill="none" stroke-linecap="round"/><path d="M372.1,278.2 L370.0,284.1 M370.0,284.1 L363.0,285.0 M363.0,285.0 L359.9,283.8 M359.9,283.8 L362.0,277.9 M362.0,277.9 L369.0,277.0 M369.0,277.0 L372.1,278.2 M438.0,267.5 L435.0,273.5 M435.0,273.5 L427.3,274.0 M427.3,274.0 L424.0,272.5 M424.0,272.5 L427.0,266.5 M427.0,266.5 L434.7,266.0 M434.7,266.0 L438.0,267.5 M372.1,278.2 L376.1,275.2 M376.1,275.2 L389.0,270.0 M407.0,277.0 L420.0,274.5 M420.0,274.5 L424.0,272.5 M404.9,277.0 L398.0,280.0 M398.0,280.0 L391.1,277.0 M391.1,277.0 L391.1,271.0 M391.1,271.0 L398.0,268.0 M398.0,268.0 L404.9,271.0 M404.9,271.0 L404.9,277.0" stroke="#d8d8d8" stroke-width="0.45" fill="none"/><path d="M372.1,278.2 L374.6,275.0 M370.0,284.1 L372.2,287.8 M363.0,285.0 L361.4,285.2 M359.9,283.8 L357.4,287.0 M362.0,277.9 L359.8,274.2 M369.0,277.0 L370.6,276.8 M438.0,267.5 L440.6,264.6 M435.0,273.5 L437.1,277.3 M427.3,274.0 L425.4,274.1 M424.0,272.5 L421.4,275.4 M427.0,266.5 L424.9,262.7 M434.7,266.0 L436.6,265.9" stroke="#999" stroke-width="0.8" fill="none"/><circle cx="376.1" cy="275.2" r="1.1" fill="#2233cc"/><circle cx="420.0" cy="274.5" r="1.1" fill="#2233cc"/><circle cx="373.6" cy="279.2" r="1.2" fill="#d02020"/><circle cx="422.5" cy="270.5" r="1.2" fill="#d02020"/>
<path d="M456.1,278.2 L454.0,284.1 M454.0,284.1 L447.0,285.0 M447.0,285.0 L443.9,283.8 M443.9,283.8 L446.0,277.9 M446.0,277.9 L453.0,277.0 M453.0,277.0 L456.1,278.2 M515.0,268.5 L512.0,274.5 M512.0,274.5 L504.3,275.0 M504.3,275.0 L501.0,273.5 M501.0,273.5 L504.0,267.5 M504.0,267.5 L511.7,267.0 M511.7,267.0 L515.0,268.5 M456.1,278.2 L460.1,275.2 M460.1,275.2 L466.0,270.0 M484.0,277.0 L497.0,275.5 M497.0,275.5 L501.0,273.5 M481.9,277.0 L475.0,280.0 M475.0,280.0 L468.1,277.0 M468.1,277.0 L468.1,271.0 M468.1,271.0 L475.0,268.0 M475.0,268.0 L481.9,271.0 M481.9,271.0 L481.9,277.0" stroke="#666" stroke-width="1.35" fill="none" stroke-linecap="round"/><path d="M456.1,278.2 L454.0,284.1 M454.0,284.1 L447.0,285.0 M447.0,285.0 L443.9,283.8 M443.9,283.8 L446.0,277.9 M446.0,277.9 L453.0,277.0 M453.0,277.0 L456.1,278.2 M515.0,268.5 L512.0,274.5 M512.0,274.5 L504.3,275.0 M504.3,275.0 L501.0,273.5 M501.0,273.5 L504.0,267.5 M504.0,267.5 L511.7,267.0 M511.7,267.0 L515.0,268.5 M456.1,278.2 L460.1,275.2 M460.1,275.2 L466.0,270.0 M484.0,277.0 L497.0,275.5 M497.0,275.5 L501.0,273.5 M481.9,277.0 L475.0,280.0 M475.0,280.0 L468.1,277.0 M468.1,277.0 L468.1,271.0 M468.1,271.0 L475.0,268.0 M475.0,268.0 L481.9,271.0 M481.9,271.0 L481.9,277.0" stroke="#d8d8d8" stroke-width="0.45" fill="none"/><path d="M456.1,278.2 L458.6,275.0 M454.0,284.1 L456.2,287.8 M447.0,285.0 L445.4,285.2 M443.9,283.8 L441.4,287.0 M446.0,277.9 L443.8,274.2 M453.0,277.0 L454.6,276.8 M515.0,268.5 L517.6,265.6 M512.0,274.5 L514.1,278.3 M504.3,275.0 L502.4,275.1 M501.0,273.5 L498.4,276.4 M504.0,267.5 L501.9,263.7 M511.7,267.0 L513.6,266.9" stroke="#999" stroke-width="0.8" fill="none"/><circle cx="460.1" cy="275.2" r="1.1" fill="#2233cc"/><circle cx="497.0" cy="275.5" r="1.1" fill="#2233cc"/><circle cx="457.6" cy="279.2" r="1.2" fill="#d02020"/><circle cx="499.5" cy="271.5" r="1.2" fill="#d02020"/>
<path d="M540.1,281.2 L538.0,287.1 M538.0,287.1 L531.0,288.0 M531.0,288.0 L527.9,286.8 M527.9,286.8 L530.0,280.9 M530.0,280.9 L537.0,280.0 M537.0,280.0 L540.1,281.2 M601.0,270.5 L598.0,276.5 M598.0,276.5 L590.3,277.0 M590.3,277.0 L587.0,275.5 M587.0,275.5 L590.0,269.5 M590.0,269.5 L597.7,269.0 M597.7,269.0 L601.0,270.5 M540.1,281.2 L544.1,278.2 M544.1,278.2 L554.0,273.0 M572.0,280.0 L583.0,277.5 M583.0,277.5 L587.0,275.5 M569.9,280.0 L563.0,283.0 M563.0,283.0 L556.1,280.0 M556.1,280.0 L556.1,274.0 M556.1,274.0 L563.0,271.0 M563.0,271.0 L569.9,274.0 M569.9,274.0 L569.9,280.0" stroke="#666" stroke-width="1.35" fill="none" stroke-linecap="round"/><path d="M540.1,281.2 L538.0,287.1 M538.0,287.1 L531.0,288.0 M531.0,288.0 L527.9,286.8 M527.9,286.8 L530.0,280.9 M530.0,280.9 L537.0,280.0 M537.0,280.0 L540.1,281.2 M601.0,270.5 L598.0,276.5 M598.0,276.5 L590.3,277.0 M590.3,277.0 L587.0,275.5 M587.0,275.5 L590.0,269.5 M590.0,269.5 L597.7,269.0 M597.7,269.0 L601.0,270.5 M540.1,281.2 L544.1,278.2 M544.1,278.2 L554.0,273.0 M572.0,280.0 L583.0,277.5 M583.0,277.5 L587.0,275.5 M569.9,280.0 L563.0,283.0 M563.0,283.0 L556.1,280.0 M556.1,280.0 L556.1,274.0 M556.1,274.0 L563.0,271.0 M563.0,271.0 L569.9,274.0 M569.9,274.0 L569.9,280.0" stroke="#d8d8d8" stroke-width="0.45" fill="none"/><path d="M540.1,281.2 L542.6,278.0 M538.0,287.1 L540.2,290.8 M531.0,288.0 L529.4,288.2 M527.9,286.8 L525.4,290.0 M530.0,280.9 L527.8,277.2 M537.0,280.0 L538.6,279.8 M601.0,270.5 L603.6,267.6 M598.0,276.5 L600.1,280.3 M590.3,277.0 L588.4,277.1 M587.0,275.5 L584.4,278.4 M590.0,269.5 L587.9,265.7 M597.7,269.0 L599.6,268.9" stroke="#999" stroke-width="0.8" fill="none"/><circle cx="544.1" cy="278.2" r="1.1" fill="#2233cc"/><circle cx="583.0" cy="277.5" r="1.1" fill="#2233cc"/><circle cx="541.6" cy="282.2" r="1.2" fill="#d02020"/><circle cx="585.5" cy="273.5" r="1.2" fill="#d02020"/>
<path d="M619.1,278.2 L617.0,284.1 M617.0,284.1 L610.0,285.0 M610.0,285.0 L606.9,283.8 M606.9,283.8 L609.0,277.9 M609.0,277.9 L616.0,277.0 M616.0,277.0 L619.1,278.2 M679.0,267.5 L676.0,273.5 M676.0,273.5 L668.3,274.0 M668.3,274.0 L665.0,272.5 M665.0,272.5 L668.0,266.5 M668.0,266.5 L675.7,266.0 M675.7,266.0 L679.0,267.5 M619.1,278.2 L623.1,275.2 M623.1,275.2 L631.0,270.0 M649.0,277.0 L661.0,274.5 M661.0,274.5 L665.0,272.5 M646.9,277.0 L640.0,280.0 M640.0,280.0 L633.1,277.0 M633.1,277.0 L633.1,271.0 M633.1,271.0 L640.0,268.0 M640.0,268.0 L646.9,271.0 M646.9,271.0 L646.9,277.0" stroke="#666" stroke-width="1.35" fill="none" stroke-linecap="round"/><path d="M619.1,278.2 L617.0,284.1 M617.0,284.1 L610.0,285.0 M610.0,285.0 L606.9,283.8 M606.9,283.8 L609.0,277.9 M609.0,277.9 L616.0,277.0 M616.0,277.0 L619.1,278.2 M679.0,267.5 L676.0,273.5 M676.0,273.5 L668.3,274.0 M668.3,274.0 L665.0,272.5 M665.0,272.5 L668.0,266.5 M668.0,266.5 L675.7,266.0 M675.7,266.0 L679.0,267.5 M619.1,278.2 L623.1,275.2 M623.1,275.2 L631.0,270.0 M649.0,277.0 L661.0,274.5 M661.0,274.5 L665.0,272.5 M646.9,277.0 L640.0,280.0 M640.0,280.0 L633.1,277.0 M633.1,277.0 L633.1,271.0 M633.1,271.0 L640.0,268.0 M640.0,268.0 L646.9,271.0 M646.9,271.0 L646.9,277.0" stroke="#d8d8d8" stroke-width="0.45" fill="none"/><path d="M619.1,278.2 L621.6,275.0 M617.0,284.1 L619.2,287.8 M610.0,285.0 L608.4,285.2 M606.9,283.8 L604.4,287.0 M609.0,277.9 L606.8,274.2 M616.0,277.0 L617.6,276.8 M679.0,267.5 L681.6,264.6 M676.0,273.5 L678.1,277.3 M668.3,274.0 L666.4,274.1 M665.0,272.5 L662.4,275.4 M668.0,266.5 L665.9,262.7 M675.7,266.0 L677.6,265.9" stroke="#999" stroke-width="0.8" fill="none"/><circle cx="623.1" cy="275.2" r="1.1" fill="#2233cc"/><circle cx="661.0" cy="274.5" r="1.1" fill="#2233cc"/><circle cx="620.6" cy="279.2" r="1.2" fill="#d02020"/><circle cx="663.5" cy="270.5" r="1.2" fill="#d02020"/>
<path d="M209.1,344.2 L207.0,350.1 M207.0,350.1 L200.0,351.0 M200.0,351.0 L196.9,349.8 M196.9,349.8 L199.0,343.9 M199.0,343.9 L206.0,343.0 M206.0,343.0 L209.1,344.2 M272.1,326.1 L268.7,331.8 M268.7,331.8 L261.0,331.7 M261.0,331.7 L257.9,329.9 M257.9,329.9 L261.3,324.2 M261.3,324.2 L269.0,324.3 M269.0,324.3 L272.1,326.1 M209.1,344.2 L213.1,341.2 M213.1,341.2 L228.0,332.0 M246.0,339.0 L253.9,331.9 M253.9,331.9 L257.9,329.9 M243.9,339.0 L237.0,342.0 M237.0,342.0 L230.1,339.0 M230.1,339.0 L230.1,333.0 M230.1,333.0 L237.0,330.0 M237.0,330.0 L243.9,333.0 M243.9,333.0 L243.9,339.0" stroke="#666" stroke-width="1.35" fill="none" stroke-linecap="round"/><path d="M209.1,344.2 L207.0,350.1 M207.0,350.1 L200.0,351.0 M200.0,351.0 L196.9,349.8 M196.9,349.8 L199.0,343.9 M199.0,343.9 L206.0,343.0 M206.0,343.0 L209.1,344.2 M272.1,326.1 L268.7,331.8 M268.7,331.8 L261.0,331.7 M261.0,331.7 L257.9,329.9 M257.9,329.9 L261.3,324.2 M261.3,324.2 L269.0,324.3 M269.0,324.3 L272.1,326.1 M209.1,344.2 L213.1,341.2 M213.1,341.2 L228.0,332.0 M246.0,339.0 L253.9,331.9 M253.9,331.9 L257.9,329.9 M243.9,339.0 L237.0,342.0 M237.0,342.0 L230.1,339.0 M230.1,339.0 L230.1,333.0 M230.1,333.0 L237.0,330.0 M237.0,330.0 L243.9,333.0 M243.9,333.0 L243.9,339.0" stroke="#d8d8d8" stroke-width="0.45" fill="none"/><path d="M209.1,344.2 L211.6,341.0 M207.0,350.1 L209.2,353.8 M200.0,351.0 L198.4,351.2 M196.9,349.8 L194.4,353.0 M199.0,343.9 L196.8,340.2 M206.0,343.0 L207.6,342.8 M272.1,326.1 L274.8,323.4 M268.7,331.8 L270.6,335.8 M261.0,331.7 L258.9,331.6 M257.9,329.9 L255.2,332.6 M261.3,324.2 L259.4,320.2 M269.0,324.3 L271.1,324.4" stroke="#999" stroke-width="0.8" fill="none"/><circle cx="213.1" cy="341.2" r="1.1" fill="#2233cc"/><circle cx="253.9" cy="331.9" r="1.1" fill="#2233cc"/><circle cx="210.6" cy="345.2" r="1.2" fill="#d02020"/><circle cx="256.4" cy="327.9" r="1.2" fill="#d02020"/>
<path d="M294.1,344.2 L292.0,350.1 M292.0,350.1 L285.0,351.0 M285.0,351.0 L281.9,349.8 M281.9,349.8 L284.0,343.9 M284.0,343.9 L291.0,343.0 M291.0,343.0 L294.1,344.2 M357.1,325.1 L353.7,330.8 M353.7,330.8 L346.0,330.7 M346.0,330.7 L342.9,328.9 M342.9,328.9 L346.3,323.2 M346.3,323.2 L354.0,323.3 M354.0,323.3 L357.1,325.1 M294.1,344.2 L298.1,341.2 M298.1,341.2 L309.0,331.0 M327.0,338.0 L338.9,330.9 M338.9,330.9 L342.9,328.9 M324.9,338.0 L318.0,341.0 M318.0,341.0 L311.1,338.0 M311.1,338.0 L311.1,332.0 M311.1,332.0 L318.0,329.0 M318.0,329.0 L324.9,332.0 M324.9,332.0 L324.9,338.0" stroke="#666" stroke-width="1.35" fill="none" stroke-linecap="round"/><path d="M294.1,344.2 L292.0,350.1 M292.0,350.1 L285.0,351.0 M285.0,351.0 L281.9,349.8 M281.9,349.8 L284.0,343.9 M284.0,343.9 L291.0,343.0 M291.0,343.0 L294.1,344.2 M357.1,325.1 L353.7,330.8 M353.7,330.8 L346.0,330.7 M346.0,330.7 L342.9,328.9 M342.9,328.9 L346.3,323.2 M346.3,323.2 L354.0,323.3 M354.0,323.3 L357.1,325.1 M294.1,344.2 L298.1,341.2 M298.1,341.2 L309.0,331.0 M327.0,338.0 L338.9,330.9 M338.9,330.9 L342.9,328.9 M324.9,338.0 L318.0,341.0 M318.0,341.0 L311.1,338.0 M311.1,338.0 L311.1,332.0 M311.1,332.0 L318.0,329.0 M318.0,329.0 L324.9,332.0 M324.9,332.0 L324.9,338.0" stroke="#d8d8d8" stroke-width="0.45" fill="none"/><path d="M294.1,344.2 L296.6,341.0 M292.0,350.1 L294.2,353.8 M285.0,351.0 L283.4,351.2 M281.9,349.8 L279.4,353.0 M284.0,343.9 L281.8,340.2 M291.0,343.0 L292.6,342.8 M357.1,325.1 L359.8,322.4 M353.7,330.8 L355.6,334.8 M346.0,330.7 L343.9,330.6 M342.9,328.9 L340.2,331.6 M346.3,323.2 L344.4,319.2 M354.0,323.3 L356.1,323.4" stroke="#999" stroke-width="0.8" fill="none"/><circle cx="298.1" cy="341.2" r="1.1" fill="#2233cc"/><circle cx="338.9" cy="330.9" r="1.1" fill="#2233cc"/><circle cx="295.6" cy="345.2" r="1.2" fill="#d02020"/><circle cx="341.4" cy="326.9" r="1.2" fill="#d02020"/>
<path d="M373.1,337.2 L371.0,343.1 M371.0,343.1 L364.0,344.0 M364.0,344.0 L360.9,342.8 M360.9,342.8 L363.0,336.9 M363.0,336.9 L370.0,336.0 M370.0,336.0 L373.1,337.2 M439.1,335.1 L435.7,340.8 M435.7,340.8 L428.0,340.7 M428.0,340.7 L424.9,338.9 M424.9,338.9 L428.3,333.2 M428.3,333.2 L436.0,333.3 M436.0,333.3 L439.1,335.1 M373.1,337.2 L377.1,334.2 M377.1,334.2 L391.0,332.0 M409.0,339.0 L420.9,340.9 M420.9,340.9 L424.9,338.9 M406.9,339.0 L400.0,342.0 M400.0,342.0 L393.1,339.0 M393.1,339.0 L393.1,333.0 M393.1,333.0 L400.0,330.0 M400.0,330.0 L406.9,333.0 M406.9,333.0 L406.9,339.0" stroke="#666" stroke-width="1.35" fill="none" stroke-linecap="round"/><path d="M373.1,337.2 L371.0,343.1 M371.0,343.1 L364.0,344.0 M364.0,344.0 L360.9,342.8 M360.9,342.8 L363.0,336.9 M363.0,336.9 L370.0,336.0 M370.0,336.0 L373.1,337.2 M439.1,335.1 L435.7,340.8 M435.7,340.8 L428.0,340.7 M428.0,340.7 L424.9,338.9 M424.9,338.9 L428.3,333.2 M428.3,333.2 L436.0,333.3 M436.0,333.3 L439.1,335.1 M373.1,337.2 L377.1,334.2 M377.1,334.2 L391.0,332.0 M409.0,339.0 L420.9,340.9 M420.9,340.9 L424.9,338.9 M406.9,339.0 L400.0,342.0 M400.0,342.0 L393.1,339.0 M393.1,339.0 L393.1,333.0 M393.1,333.0 L400.0,330.0 M400.0,330.0 L406.9,333.0 M406.9,333.0 L406.9,339.0" stroke="#d8d8d8" stroke-width="0.45" fill="none"/><path d="M373.1,337.2 L375.6,334.0 M371.0,343.1 L373.2,346.8 M364.0,344.0 L362.4,344.2 M360.9,342.8 L358.4,346.0 M363.0,336.9 L360.8,333.2 M370.0,336.0 L371.6,335.8 M439.1,335.1 L441.8,332.4 M435.7,340.8 L437.6,344.8 M428.0,340.7 L425.9,340.6 M424.9,338.9 L422.2,341.6 M428.3,333.2 L426.4,329.2 M436.0,333.3 L438.1,333.4" stroke="#999" stroke-width="0.8" fill="none"/><circle cx="377.1" cy="334.2" r="1.1" fill="#2233cc"/><circle cx="420.9" cy="340.9" r="1.1" fill="#2233cc"/><circle cx="374.6" cy="338.2" r="1.2" fill="#d02020"/><circle cx="423.4" cy="336.9" r="1.2" fill="#d02020"/>
<path d="M456.1,338.2 L454.0,344.1 M454.0,344.1 L447.0,345.0 M447.0,345.0 L443.9,343.8 M443.9,343.8 L446.0,337.9 M446.0,337.9 L453.0,337.0 M453.0,337.0 L456.1,338.2 M515.0,329.5 L512.0,335.5 M512.0,335.5 L504.3,336.0 M504.3,336.0 L501.0,334.5 M501.0,334.5 L504.0,328.5 M504.0,328.5 L511.7,328.0 M511.7,328.0 L515.0,329.5 M456.1,338.2 L460.1,335.2 M460.1,335.2 L466.0,331.0 M484.0,338.0 L497.0,336.5 M497.0,336.5 L501.0,334.5 M481.9,338.0 L475.0,341.0 M475.0,341.0 L468.1,338.0 M468.1,338.0 L468.1,332.0 M468.1,332.0 L475.0,329.0 M475.0,329.0 L481.9,332.0 M481.9,332.0 L481.9,338.0" stroke="#666" stroke-width="1.35" fill="none" stroke-linecap="round"/><path d="M456.1,338.2 L454.0,344.1 M454.0,344.1 L447.0,345.0 M447.0,345.0 L443.9,343.8 M443.9,343.8 L446.0,337.9 M446.0,337.9 L453.0,337.0 M453.0,337.0 L456.1,338.2 M515.0,329.5 L512.0,335.5 M512.0,335.5 L504.3,336.0 M504.3,336.0 L501.0,334.5 M501.0,334.5 L504.0,328.5 M504.0,328.5 L511.7,328.0 M511.7,328.0 L515.0,329.5 M456.1,338.2 L460.1,335.2 M460.1,335.2 L466.0,331.0 M484.0,338.0 L497.0,336.5 M497.0,336.5 L501.0,334.5 M481.9,338.0 L475.0,341.0 M475.0,341.0 L468.1,338.0 M468.1,338.0 L468.1,332.0 M468.1,332.0 L475.0,329.0 M475.0,329.0 L481.9,332.0 M481.9,332.0 L481.9,338.0" stroke="#d8d8d8" stroke-width="0.45" fill="none"/><path d="M456.1,338.2 L458.6,335.0 M454.0,344.1 L456.2,347.8 M447.0,345.0 L445.4,345.2 M443.9,343.8 L441.4,347.0 M446.0,337.9 L443.8,334.2 M453.0,337.0 L454.6,336.8 M515.0,329.5 L517.6,326.6 M512.0,335.5 L514.1,339.3 M504.3,336.0 L502.4,336.1 M501.0,334.5 L498.4,337.4 M504.0,328.5 L501.9,324.7 M511.7,328.0 L513.6,327.9" stroke="#999" stroke-width="0.8" fill="none"/><circle cx="460.1" cy="335.2" r="1.1" fill="#2233cc"/><circle cx="497.0" cy="336.5" r="1.1" fill="#2233cc"/><circle cx="457.6" cy="339.2" r="1.2" fill="#d02020"/><circle cx="499.5" cy="332.5" r="1.2" fill="#d02020"/>
<path d="M541.3,333.7 L538.7,339.4 M538.7,339.4 L531.7,339.7 M531.7,339.7 L528.7,338.3 M528.7,338.3 L531.3,332.6 M531.3,332.6 L538.3,332.3 M538.3,332.3 L541.3,333.7 M596.3,335.7 L592.3,341.1 M592.3,341.1 L584.7,340.3 M584.7,340.3 L581.7,338.3 M581.7,338.3 L585.7,332.9 M585.7,332.9 L593.3,333.7 M593.3,333.7 L596.3,335.7 M541.3,333.7 L545.3,330.7 M545.3,330.7 L555.0,332.0 M573.0,339.0 L577.7,340.3 M577.7,340.3 L581.7,338.3 M570.9,339.0 L564.0,342.0 M564.0,342.0 L557.1,339.0 M557.1,339.0 L557.1,333.0 M557.1,333.0 L564.0,330.0 M564.0,330.0 L570.9,333.0 M570.9,333.0 L570.9,339.0" stroke="#666" stroke-width="1.35" fill="none" stroke-linecap="round"/><path d="M541.3,333.7 L538.7,339.4 M538.7,339.4 L531.7,339.7 M531.7,339.7 L528.7,338.3 M528.7,338.3 L531.3,332.6 M531.3,332.6 L538.3,332.3 M538.3,332.3 L541.3,333.7 M596.3,335.7 L592.3,341.1 M592.3,341.1 L584.7,340.3 M584.7,340.3 L581.7,338.3 M581.7,338.3 L585.7,332.9 M585.7,332.9 L593.3,333.7 M593.3,333.7 L596.3,335.7 M541.3,333.7 L545.3,330.7 M545.3,330.7 L555.0,332.0 M573.0,339.0 L577.7,340.3 M577.7,340.3 L581.7,338.3 M570.9,339.0 L564.0,342.0 M564.0,342.0 L557.1,339.0 M557.1,339.0 L557.1,333.0 M557.1,333.0 L564.0,330.0 M564.0,330.0 L570.9,333.0 M570.9,333.0 L570.9,339.0" stroke="#d8d8d8" stroke-width="0.45" fill="none"/><path d="M541.3,333.7 L543.9,330.7 M538.7,339.4 L540.8,343.3 M531.7,339.7 L529.8,339.8 M528.7,338.3 L526.1,341.3 M531.3,332.6 L529.2,328.7 M538.3,332.3 L540.2,332.2 M596.3,335.7 L599.0,333.3 M592.3,341.1 L594.1,345.3 M584.7,340.3 L582.5,340.0 M581.7,338.3 L579.0,340.7 M585.7,332.9 L583.9,328.7 M593.3,333.7 L595.5,334.0" stroke="#999" stroke-width="0.8" fill="none"/><circle cx="545.3" cy="330.7" r="1.1" fill="#2233cc"/><circle cx="577.7" cy="340.3" r="1.1" fill="#2233cc"/><circle cx="542.8" cy="334.7" r="1.2" fill="#d02020"/><circle cx="580.2" cy="336.3" r="1.2" fill="#d02020"/>
<path d="M619.3,334.7 L616.7,340.4 M616.7,340.4 L609.7,340.7 M609.7,340.7 L606.7,339.3 M606.7,339.3 L609.3,333.6 M609.3,333.6 L616.3,333.3 M616.3,333.3 L619.3,334.7 M679.3,332.7 L675.3,338.1 M675.3,338.1 L667.7,337.3 M667.7,337.3 L664.7,335.3 M664.7,335.3 L668.7,329.9 M668.7,329.9 L676.3,330.7 M676.3,330.7 L679.3,332.7 M619.3,334.7 L623.3,331.7 M623.3,331.7 L636.0,332.0 M654.0,339.0 L660.7,337.3 M660.7,337.3 L664.7,335.3 M651.9,339.0 L645.0,342.0 M645.0,342.0 L638.1,339.0 M638.1,339.0 L638.1,333.0 M638.1,333.0 L645.0,330.0 M645.0,330.0 L651.9,333.0 M651.9,333.0 L651.9,339.0" stroke="#666" stroke-width="1.35" fill="none" stroke-linecap="round"/><path d="M619.3,334.7 L616.7,340.4 M616.7,340.4 L609.7,340.7 M609.7,340.7 L606.7,339.3 M606.7,339.3 L609.3,333.6 M609.3,333.6 L616.3,333.3 M616.3,333.3 L619.3,334.7 M679.3,332.7 L675.3,338.1 M675.3,338.1 L667.7,337.3 M667.7,337.3 L664.7,335.3 M664.7,335.3 L668.7,329.9 M668.7,329.9 L676.3,330.7 M676.3,330.7 L679.3,332.7 M619.3,334.7 L623.3,331.7 M623.3,331.7 L636.0,332.0 M654.0,339.0 L660.7,337.3 M660.7,337.3 L664.7,335.3 M651.9,339.0 L645.0,342.0 M645.0,342.0 L638.1,339.0 M638.1,339.0 L638.1,333.0 M638.1,333.0 L645.0,330.0 M645.0,330.0 L651.9,333.0 M651.9,333.0 L651.9,339.0" stroke="#d8d8d8" stroke-width="0.45" fill="none"/><path d="M619.3,334.7 L621.9,331.7 M616.7,340.4 L618.8,344.3 M609.7,340.7 L607.8,340.8 M606.7,339.3 L604.1,342.3 M609.3,333.6 L607.2,329.7 M616.3,333.3 L618.2,333.2 M679.3,332.7 L682.0,330.3 M675.3,338.1 L677.1,342.3 M667.7,337.3 L665.5,337.0 M664.7,335.3 L662.0,337.7 M668.7,329.9 L666.9,325.7 M676.3,330.7 L678.5,331.0" stroke="#999" stroke-width="0.8" fill="none"/><circle cx="623.3" cy="331.7" r="1.1" fill="#2233cc"/><circle cx="660.7" cy="337.3" r="1.1" fill="#2233cc"/><circle cx="620.8" cy="335.7" r="1.2" fill="#d02020"/><circle cx="663.2" cy="333.3" r="1.2" fill="#d02020"/>
<ellipse cx="231.2" cy="257.3" rx="6.8" ry="6.8" fill="url(#gt)"/>
<ellipse cx="231.5" cy="262.0" rx="4.7" ry="2.4" fill="url(#gr)"/>
<ellipse cx="234.7" cy="270.2" rx="10.1" ry="5.4" fill="url(#gr)" transform="rotate(-8 234.7 270.2)"/>
<ellipse cx="234.7" cy="279.5" rx="11.0" ry="5.4" fill="url(#gt)" transform="rotate(-8 234.7 279.5)"/>
<ellipse cx="235.9" cy="293.0" rx="7.1" ry="6.8" fill="url(#gr)"/>
<ellipse cx="216.0" cy="266.1" rx="3.1" ry="2.8" fill="url(#gt)"/>
<ellipse cx="218.9" cy="263.8" rx="2.2" ry="2.0" fill="url(#gr)"/>
<ellipse cx="224.8" cy="271.4" rx="2.5" ry="2.5" fill="url(#gt)"/>
<ellipse cx="245.2" cy="284.8" rx="2.2" ry="2.0" fill="url(#gr)"/>
<ellipse cx="248.1" cy="282.5" rx="2.2" ry="2.0" fill="url(#gt)"/>
<ellipse cx="252.2" cy="281.9" rx="2.0" ry="1.8" fill="url(#gr)"/>
<ellipse cx="255.1" cy="281.3" rx="2.0" ry="1.6" fill="url(#gt)"/>
<ellipse cx="298.4" cy="261.4" rx="4.7" ry="3.5" fill="url(#gt)"/>
<ellipse cx="298.4" cy="265.0" rx="5.2" ry="4.1" fill="url(#gr)"/>
<ellipse cx="303.6" cy="272.5" rx="9.7" ry="5.0" fill="url(#gt)" transform="rotate(-15 303.6 272.5)"/>
<ellipse cx="318.2" cy="268.4" rx="7.6" ry="4.7" fill="url(#gr)" transform="rotate(20 318.2 268.4)"/>
<ellipse cx="313.5" cy="281.3" rx="6.8" ry="4.7" fill="url(#gr)" transform="rotate(20 313.5 281.3)"/>
<ellipse cx="325.8" cy="279.0" rx="7.6" ry="5.5" fill="url(#gt)" transform="rotate(30 325.8 279.0)"/>
<ellipse cx="329.3" cy="286.0" rx="4.2" ry="3.5" fill="url(#gr)"/>
<ellipse cx="313.5" cy="258.5" rx="1.4" ry="1.4" fill="url(#gr)"/>
<ellipse cx="317.6" cy="291.8" rx="1.4" ry="1.4" fill="url(#gr)"/>
<ellipse cx="377.5" cy="264.4" rx="5.5" ry="6.3" fill="url(#gt)"/>
<ellipse cx="384.5" cy="262.6" rx="5.2" ry="6.3" fill="url(#gr)"/>
<ellipse cx="392.7" cy="257.9" rx="3.1" ry="3.9" fill="url(#gt)"/>
<ellipse cx="398.0" cy="257.9" rx="3.1" ry="3.1" fill="url(#gr)"/>
<ellipse cx="379.3" cy="272.5" rx="4.7" ry="3.1" fill="url(#gr)"/>
<ellipse cx="387.4" cy="272.0" rx="3.5" ry="3.5" fill="url(#gt)"/>
<ellipse cx="377.5" cy="276.6" rx="4.1" ry="2.6" fill="url(#gt)"/>
<ellipse cx="374.0" cy="279.5" rx="3.5" ry="2.6" fill="url(#gr)"/>
<ellipse cx="369.3" cy="280.1" rx="2.2" ry="2.2" fill="url(#gt)"/>
<ellipse cx="393.3" cy="273.1" rx="1.8" ry="1.8" fill="url(#gr)"/>
<ellipse cx="401.5" cy="276.6" rx="1.8" ry="1.8" fill="url(#gt)"/>
<ellipse cx="406.7" cy="277.8" rx="3.5" ry="3.9" fill="url(#gr)"/>
<ellipse cx="407.9" cy="284.2" rx="3.5" ry="4.1" fill="url(#gt)"/>
<ellipse cx="413.7" cy="283.0" rx="3.5" ry="4.7" fill="url(#gr)"/>
<ellipse cx="414.3" cy="278.4" rx="3.1" ry="4.1" fill="url(#gt)"/>
<ellipse cx="420.1" cy="281.3" rx="2.4" ry="2.4" fill="url(#gr)"/>
<ellipse cx="417.2" cy="272.5" rx="3.5" ry="3.5" fill="url(#gr)"/>
<ellipse cx="413.7" cy="271.4" rx="1.5" ry="1.5" fill="url(#gt)"/>
<ellipse cx="423.0" cy="269.6" rx="3.5" ry="2.1" fill="url(#gt)" transform="rotate(-20 423.0 269.6)"/>
<ellipse cx="425.4" cy="274.3" rx="3.9" ry="2.5" fill="url(#gt)" transform="rotate(-20 425.4 274.3)"/>
<ellipse cx="396.8" cy="291.8" rx="3.1" ry="3.1" fill="url(#gt)"/>
<ellipse cx="402.0" cy="290.6" rx="2.4" ry="2.4" fill="url(#gr)"/>
<ellipse cx="461.7" cy="261.9" rx="4.7" ry="3.5" fill="url(#gt)"/>
<ellipse cx="461.7" cy="265.5" rx="5.2" ry="4.1" fill="url(#gr)"/>
<ellipse cx="466.9" cy="273.0" rx="9.7" ry="5.0" fill="url(#gt)" transform="rotate(-15 466.9 273.0)"/>
<ellipse cx="481.5" cy="268.9" rx="7.6" ry="4.7" fill="url(#gr)" transform="rotate(20 481.5 268.9)"/>
<ellipse cx="476.8" cy="281.8" rx="6.8" ry="4.7" fill="url(#gr)" transform="rotate(20 476.8 281.8)"/>
<ellipse cx="489.1" cy="279.5" rx="7.6" ry="5.5" fill="url(#gt)" transform="rotate(30 489.1 279.5)"/>
<ellipse cx="492.6" cy="286.5" rx="4.2" ry="3.5" fill="url(#gr)"/>
<ellipse cx="476.8" cy="259.0" rx="1.4" ry="1.4" fill="url(#gr)"/>
<ellipse cx="480.9" cy="292.3" rx="1.4" ry="1.4" fill="url(#gr)"/>
<ellipse cx="560.9" cy="256.7" rx="6.3" ry="6.3" fill="url(#gt)"/>
<ellipse cx="559.7" cy="261.0" rx="4.2" ry="2.1" fill="url(#gr)" transform="rotate(-15 559.7 261.0)"/>
<ellipse cx="560.3" cy="270.7" rx="10.1" ry="5.7" fill="url(#gr)" transform="rotate(-18 560.3 270.7)"/>
<ellipse cx="565.0" cy="280.0" rx="10.1" ry="5.4" fill="url(#gt)" transform="rotate(-18 565.0 280.0)"/>
<ellipse cx="565.5" cy="292.9" rx="6.3" ry="6.0" fill="url(#gr)"/>
<ellipse cx="563.4" cy="288.6" rx="3.8" ry="1.9" fill="url(#gt)" transform="rotate(-10 563.4 288.6)"/>
<ellipse cx="545.1" cy="263.1" rx="2.1" ry="2.1" fill="url(#gr)"/>
<ellipse cx="546.3" cy="266.0" rx="3.1" ry="2.8" fill="url(#gt)"/>
<ellipse cx="576.6" cy="285.3" rx="2.1" ry="2.1" fill="url(#gr)"/>
<ellipse cx="574.3" cy="282.4" rx="1.8" ry="1.8" fill="url(#gt)"/>
<ellipse cx="626.4" cy="261.2" rx="4.7" ry="3.5" fill="url(#gt)"/>
<ellipse cx="626.4" cy="264.8" rx="5.2" ry="4.1" fill="url(#gr)"/>
<ellipse cx="631.6" cy="272.3" rx="9.7" ry="5.0" fill="url(#gt)" transform="rotate(-15 631.6 272.3)"/>
<ellipse cx="646.2" cy="268.2" rx="7.6" ry="4.7" fill="url(#gr)" transform="rotate(20 646.2 268.2)"/>
<ellipse cx="641.5" cy="281.1" rx="6.8" ry="4.7" fill="url(#gr)" transform="rotate(20 641.5 281.1)"/>
<ellipse cx="653.8" cy="278.8" rx="7.6" ry="5.5" fill="url(#gt)" transform="rotate(30 653.8 278.8)"/>
<ellipse cx="657.3" cy="285.8" rx="4.2" ry="3.5" fill="url(#gr)"/>
<ellipse cx="641.5" cy="258.3" rx="1.4" ry="1.4" fill="url(#gr)"/>
<ellipse cx="645.6" cy="291.6" rx="1.4" ry="1.4" fill="url(#gr)"/>
<ellipse cx="640.3" cy="257.6" rx="1.8" ry="1.6" fill="url(#gr)"/>
<ellipse cx="641.8" cy="256.8" rx="2.0" ry="1.6" fill="url(#gt)"/>
<ellipse cx="644.0" cy="291.5" rx="1.8" ry="1.6" fill="url(#gr)"/>
<ellipse cx="646.5" cy="293.4" rx="2.0" ry="1.8" fill="url(#gt)"/>
<ellipse cx="248.1" cy="323.1" rx="7.6" ry="7.6" fill="url(#gt)"/>
<ellipse cx="247.5" cy="318.5" rx="4.1" ry="2.1" fill="url(#gr)"/>
<ellipse cx="238.2" cy="332.4" rx="9.0" ry="6.3" fill="url(#gr)" transform="rotate(25 238.2 332.4)"/>
<ellipse cx="233.5" cy="341.2" rx="8.3" ry="6.3" fill="url(#gt)" transform="rotate(25 233.5 341.2)"/>
<ellipse cx="226.5" cy="350.5" rx="6.3" ry="6.3" fill="url(#gr)"/>
<ellipse cx="219.5" cy="328.4" rx="1.8" ry="1.8" fill="url(#gt)"/>
<ellipse cx="222.1" cy="326.6" rx="1.8" ry="1.8" fill="url(#gr)"/>
<ellipse cx="216.6" cy="340.0" rx="2.0" ry="1.8" fill="url(#gt)"/>
<ellipse cx="220.1" cy="340.6" rx="1.8" ry="1.8" fill="url(#gr)"/>
<ellipse cx="248.7" cy="334.2" rx="1.8" ry="1.6" fill="url(#gr)"/>
<ellipse cx="255.7" cy="333.6" rx="1.8" ry="1.6" fill="url(#gt)"/>
<ellipse cx="252.2" cy="346.5" rx="1.8" ry="1.8" fill="url(#gr)"/>
<ellipse cx="255.1" cy="345.3" rx="1.6" ry="1.6" fill="url(#gt)"/>
<ellipse cx="301.9" cy="323.7" rx="4.8" ry="4.1" fill="url(#gt)"/>
<ellipse cx="307.1" cy="333.0" rx="8.3" ry="5.5" fill="url(#gr)" transform="rotate(20 307.1 333.0)"/>
<ellipse cx="319.4" cy="329.0" rx="7.6" ry="4.7" fill="url(#gt)"/>
<ellipse cx="317.0" cy="342.4" rx="6.3" ry="4.7" fill="url(#gt)"/>
<ellipse cx="316.5" cy="339.0" rx="5.3" ry="2.9" fill="url(#gr)"/>
<ellipse cx="330.5" cy="336.5" rx="9.0" ry="5.5" fill="url(#gr)" transform="rotate(-10 330.5 336.5)"/>
<ellipse cx="335.1" cy="344.7" rx="5.2" ry="4.4" fill="url(#gt)"/>
<ellipse cx="329.3" cy="321.4" rx="1.4" ry="1.4" fill="url(#gr)"/>
<ellipse cx="309.5" cy="345.9" rx="1.4" ry="1.4" fill="url(#gr)"/>
<ellipse cx="342.7" cy="331.3" rx="1.8" ry="1.5" fill="url(#gt)"/>
<ellipse cx="301.9" cy="338.9" rx="1.8" ry="1.6" fill="url(#gt)"/>
<ellipse cx="386.3" cy="322.5" rx="3.9" ry="4.7" fill="url(#gt)"/>
<ellipse cx="392.7" cy="322.5" rx="4.1" ry="4.7" fill="url(#gr)"/>
<ellipse cx="399.7" cy="330.1" rx="8.3" ry="3.5" fill="url(#gt)" transform="rotate(-15 399.7 330.1)"/>
<ellipse cx="392.7" cy="331.9" rx="3.4" ry="3.4" fill="url(#gt)"/>
<ellipse cx="383.4" cy="329.5" rx="3.4" ry="3.1" fill="url(#gr)"/>
<ellipse cx="385.7" cy="334.2" rx="3.4" ry="3.4" fill="url(#gr)"/>
<ellipse cx="379.9" cy="333.0" rx="3.4" ry="4.7" fill="url(#gt)"/>
<ellipse cx="374.6" cy="333.6" rx="3.4" ry="2.5" fill="url(#gr)"/>
<ellipse cx="374.0" cy="337.7" rx="3.4" ry="3.1" fill="url(#gr)"/>
<ellipse cx="368.8" cy="340.0" rx="1.8" ry="1.8" fill="url(#gt)"/>
<ellipse cx="403.2" cy="340.0" rx="4.1" ry="4.7" fill="url(#gr)" transform="rotate(30 403.2 340.0)"/>
<ellipse cx="399.7" cy="340.0" rx="4.1" ry="2.1" fill="url(#gt)"/>
<ellipse cx="410.2" cy="339.5" rx="3.9" ry="2.7" fill="url(#gt)"/>
<ellipse cx="412.6" cy="336.5" rx="2.1" ry="2.1" fill="url(#gr)"/>
<ellipse cx="417.2" cy="340.0" rx="2.3" ry="2.3" fill="url(#gr)"/>
<ellipse cx="414.9" cy="334.8" rx="2.0" ry="2.0" fill="url(#gt)"/>
<ellipse cx="420.7" cy="337.1" rx="2.3" ry="2.0" fill="url(#gt)"/>
<ellipse cx="421.3" cy="333.6" rx="2.3" ry="2.3" fill="url(#gr)"/>
<ellipse cx="410.2" cy="348.8" rx="4.1" ry="4.4" fill="url(#gr)"/>
<ellipse cx="417.2" cy="348.8" rx="3.9" ry="4.1" fill="url(#gt)"/>
<ellipse cx="430.1" cy="338.9" rx="3.4" ry="3.4" fill="url(#gr)"/>
<ellipse cx="426.0" cy="344.1" rx="3.1" ry="3.1" fill="url(#gr)"/>
<ellipse cx="430.7" cy="343.0" rx="3.1" ry="3.1" fill="url(#gt)"/>
<ellipse cx="414.9" cy="326.0" rx="1.4" ry="1.4" fill="url(#gr)"/>
<ellipse cx="390.4" cy="343.5" rx="1.3" ry="1.3" fill="url(#gr)"/>
<ellipse cx="461.7" cy="322.5" rx="4.7" ry="3.5" fill="url(#gt)"/>
<ellipse cx="461.7" cy="326.1" rx="5.2" ry="4.1" fill="url(#gr)"/>
<ellipse cx="466.9" cy="333.6" rx="9.7" ry="5.0" fill="url(#gt)" transform="rotate(-15 466.9 333.6)"/>
<ellipse cx="481.5" cy="329.5" rx="7.6" ry="4.7" fill="url(#gr)" transform="rotate(20 481.5 329.5)"/>
<ellipse cx="476.8" cy="342.4" rx="6.8" ry="4.7" fill="url(#gr)" transform="rotate(20 476.8 342.4)"/>
<ellipse cx="489.1" cy="340.1" rx="7.6" ry="5.5" fill="url(#gt)" transform="rotate(30 489.1 340.1)"/>
<ellipse cx="492.6" cy="347.1" rx="4.2" ry="3.5" fill="url(#gr)"/>
<ellipse cx="476.8" cy="319.6" rx="1.4" ry="1.4" fill="url(#gr)"/>
<ellipse cx="480.9" cy="352.9" rx="1.4" ry="1.4" fill="url(#gr)"/>
<ellipse cx="552.1" cy="322.5" rx="3.4" ry="3.4" fill="url(#gr)"/>
<ellipse cx="555.0" cy="324.9" rx="2.3" ry="2.3" fill="url(#gt)"/>
<ellipse cx="559.1" cy="336.5" rx="6.3" ry="8.3" fill="url(#gt)"/>
<ellipse cx="571.4" cy="337.1" rx="6.3" ry="9.0" fill="url(#gr)"/>
<ellipse cx="580.1" cy="326.0" rx="6.3" ry="6.3" fill="url(#gt)"/>
<ellipse cx="553.3" cy="345.9" rx="5.2" ry="4.4" fill="url(#gr)"/>
<ellipse cx="578.4" cy="349.4" rx="4.1" ry="4.1" fill="url(#gt)"/>
<ellipse cx="549.2" cy="334.2" rx="2.3" ry="2.3" fill="url(#gr)"/>
<ellipse cx="545.7" cy="335.9" rx="2.3" ry="2.3" fill="url(#gt)"/>
<ellipse cx="593.0" cy="344.1" rx="1.3" ry="1.3" fill="url(#gr)"/>
<ellipse cx="633.5" cy="322.4" rx="4.4" ry="4.4" fill="url(#gt)"/>
<ellipse cx="636.6" cy="331.7" rx="8.0" ry="5.9" fill="url(#gr)" transform="rotate(30 636.6 331.7)"/>
<ellipse cx="649.6" cy="330.4" rx="7.3" ry="5.5" fill="url(#gt)"/>
<ellipse cx="642.2" cy="342.2" rx="6.6" ry="5.1" fill="url(#gt)"/>
<ellipse cx="641.5" cy="339.5" rx="5.3" ry="2.9" fill="url(#gr)"/>
<ellipse cx="656.5" cy="341.0" rx="8.7" ry="5.5" fill="url(#gr)"/>
<ellipse cx="659.6" cy="350.3" rx="4.7" ry="4.0" fill="url(#gt)"/>
<ellipse cx="660.8" cy="326.7" rx="1.8" ry="1.4" fill="url(#gr)"/>
<ellipse cx="634.1" cy="345.3" rx="1.4" ry="1.4" fill="url(#gr)"/>
<text x="13.00" y="406.00" font-size="12.5" font-weight="bold" fill="#111" stroke="#111" stroke-width="0.22">e</text>
<text x="3.00" y="438.70" font-size="10.1" font-weight="bold" fill="#111" stroke="#111" stroke-width="0.22">G-crystal</text>
<path d="M50,434.9 L86,434.9" stroke="#2aa8e8" stroke-width="1.7"/><path d="M84,430.09999999999997 L93,434.9 L84,439.7 L86.5,434.9 Z" fill="#2aa8e8"/>
<path d="M92,434.9 L129,434.9" stroke="#2aa8e8" stroke-width="1.7"/><path d="M127,430.09999999999997 L136,434.9 L127,439.7 L129.5,434.9 Z" fill="#2aa8e8"/>
<text x="138.20" y="438.90" font-size="10.1" font-weight="bold" fill="#111" stroke="#111" stroke-width="0.22">B-crystal</text>
<path d="M186.5,434.6 L222.6,434.6" stroke="#f06464" stroke-width="1.7"/><path d="M220.6,429.8 L229.6,434.6 L220.6,439.40000000000003 L223.1,434.6 Z" fill="#f06464"/>
<text x="234.60" y="438.90" font-size="10.1" font-weight="bold" fill="#111" stroke="#111" stroke-width="0.22">G-crystal</text>
<text x="71.60" y="429.40" font-size="8.2" text-anchor="middle" fill="#8a8a8a" stroke="#8a8a8a" stroke-width="0.22">dissolution</text>
<text x="114.50" y="429.40" font-size="8.2" text-anchor="middle" fill="#8a8a8a" stroke="#8a8a8a" stroke-width="0.22">solvation</text>
<text x="71.6" y="446.6" font-size="8.2" text-anchor="middle" fill="#8a8a8a" stroke="#8a8a8a" stroke-width="0.22">CHCl<tspan font-size="6" dy="2">3</tspan></text>
<text x="114.40" y="446.80" font-size="8.2" text-anchor="middle" fill="#8a8a8a" stroke="#8a8a8a" stroke-width="0.22">nucleation</text>
<text x="208.40" y="418.60" font-size="8.1" text-anchor="middle" fill="#8a8a8a" stroke="#8a8a8a" stroke-width="0.22">H-bond</text>
<text x="208.30" y="428.60" font-size="8.2" text-anchor="middle" fill="#8a8a8a" stroke="#8a8a8a" stroke-width="0.22">dissociation</text>
<text x="206.90" y="447.00" font-size="8.2" text-anchor="middle" fill="#8a8a8a" stroke="#8a8a8a" stroke-width="0.22">Heat</text>
<text x="8.20" y="476.50" font-size="10.35" font-weight="bold" fill="#111" stroke="#111" stroke-width="0.22">Reversible color switching upon solvation and heat</text>
<defs>
</defs>
<linearGradient id="vl0" x1="0" y1="0" x2="1" y2="0.3"><stop offset="0" stop-color="#48d458"/><stop offset="0.5" stop-color="#6ef07a"/><stop offset="1" stop-color="#78f584"/></linearGradient><rect x="3.4" y="496.2" width="29.8" height="73.8" fill="#050805"/><path d="M4.6,528.1 L4.6,520.2 Q4.9,515.7 8.4,515.0 L28.200000000000003,515.0 Q31.700000000000003,515.7 32.0,520.2 L32.0,528.1 Z" fill="#4ec45a" fill-opacity="0.13" stroke="#4ec45a" stroke-width="1.2" stroke-opacity="0.85"/><rect x="8.2" y="510.8" width="20.2" height="4.0" rx="1.2" fill="#4ec45a" fill-opacity="0.55" stroke="#4ec45a" stroke-width="0.9"/><rect x="4.2" y="528.1" width="28.2" height="40.7" fill="url(#vl0)"/>
<linearGradient id="vl1" x1="0" y1="0" x2="1" y2="0.3"><stop offset="0" stop-color="#10c0bc"/><stop offset="0.5" stop-color="#1edcd6"/><stop offset="1" stop-color="#38f4f0"/></linearGradient><rect x="62.6" y="496.2" width="29.7" height="73.8" fill="#050808"/><path d="M63.800000000000004,528.0 L63.800000000000004,520.2 Q64.1,515.7 67.6,515.0 L87.3,515.0 Q90.8,515.7 91.1,520.2 L91.1,528.0 Z" fill="#30b8b4" fill-opacity="0.13" stroke="#30b8b4" stroke-width="1.2" stroke-opacity="0.85"/><rect x="67.4" y="510.8" width="20.1" height="4.0" rx="1.2" fill="#30b8b4" fill-opacity="0.55" stroke="#30b8b4" stroke-width="0.9"/><rect x="63.4" y="528.0" width="28.1" height="40.8" fill="url(#vl1)"/>
<linearGradient id="vl2" x1="0" y1="0" x2="1" y2="0.3"><stop offset="0" stop-color="#10c4e8"/><stop offset="0.5" stop-color="#18d8f4"/><stop offset="1" stop-color="#38eafc"/></linearGradient><rect x="122.2" y="496.2" width="29.5" height="73.8" fill="#08090a"/><path d="M123.4,529.0 L123.4,520.2 Q123.7,515.7 127.2,515.0 L146.7,515.0 Q150.2,515.7 150.5,520.2 L150.5,529.0 Z" fill="#30b4d0" fill-opacity="0.13" stroke="#30b4d0" stroke-width="1.2" stroke-opacity="0.85"/><rect x="127.0" y="510.8" width="19.9" height="4.0" rx="1.2" fill="#30b4d0" fill-opacity="0.55" stroke="#30b4d0" stroke-width="0.9"/><rect x="123.0" y="529.0" width="27.9" height="39.8" fill="url(#vl2)"/>
<linearGradient id="vl3" x1="0" y1="0" x2="1" y2="0.3"><stop offset="0" stop-color="#1890e8"/><stop offset="0.5" stop-color="#1ea8f6"/><stop offset="1" stop-color="#2cb8fa"/></linearGradient><rect x="181.3" y="496.2" width="29.5" height="73.8" fill="#060a1c"/><path d="M182.5,528.3 L182.5,520.2 Q182.8,515.7 186.3,515.0 L205.8,515.0 Q209.3,515.7 209.60000000000002,520.2 L209.60000000000002,528.3 Z" fill="#2f8ed0" fill-opacity="0.13" stroke="#2f8ed0" stroke-width="1.2" stroke-opacity="0.85"/><rect x="186.10000000000002" y="510.8" width="19.9" height="4.0" rx="1.2" fill="#2f8ed0" fill-opacity="0.55" stroke="#2f8ed0" stroke-width="0.9"/><rect x="182.10000000000002" y="528.3" width="27.9" height="40.5" fill="url(#vl3)"/>
<linearGradient id="vl4" x1="0" y1="0" x2="1" y2="0.3"><stop offset="0" stop-color="#48d458"/><stop offset="0.5" stop-color="#6ef07a"/><stop offset="1" stop-color="#78f584"/></linearGradient><rect x="240.7" y="496.2" width="29.3" height="73.8" fill="#050805"/><path d="M241.89999999999998,528.3 L241.89999999999998,520.2 Q242.2,515.7 245.7,515.0 L265.0,515.0 Q268.5,515.7 268.8,520.2 L268.8,528.3 Z" fill="#4ec45a" fill-opacity="0.13" stroke="#4ec45a" stroke-width="1.2" stroke-opacity="0.85"/><rect x="245.5" y="510.8" width="19.7" height="4.0" rx="1.2" fill="#4ec45a" fill-opacity="0.55" stroke="#4ec45a" stroke-width="0.9"/><rect x="241.5" y="528.3" width="27.7" height="40.5" fill="url(#vl4)"/>
<text x="18.40" y="577.90" font-size="9.1" font-style="italic" text-anchor="middle" fill="#333" stroke="#333" stroke-width="0.22">0 min</text>
<text x="77.50" y="577.90" font-size="9.1" font-style="italic" text-anchor="middle" fill="#333" stroke="#333" stroke-width="0.22">40 min</text>
<text x="137.00" y="577.90" font-size="9.1" font-style="italic" text-anchor="middle" fill="#333" stroke="#333" stroke-width="0.22">50 min</text>
<text x="196.00" y="577.90" font-size="9.1" font-style="italic" text-anchor="middle" fill="#333" stroke="#333" stroke-width="0.22">60 min</text>
<text x="48.30" y="533.90" font-size="8.7" font-style="italic" text-anchor="middle" fill="#333" stroke="#333" stroke-width="0.22">stirring</text>
<path d="M37.0,540.3 L52.9,540.3" stroke="#464c6a" stroke-width="2.2"/><path d="M50.9,535.3 L60.4,540.3 L50.9,545.3 L53.4,540.3 Z" fill="#464c6a"/>
<text x="107.80" y="533.90" font-size="8.7" font-style="italic" text-anchor="middle" fill="#333" stroke="#333" stroke-width="0.22">stirring</text>
<path d="M96.5,540.3 L112.4,540.3" stroke="#464c6a" stroke-width="2.2"/><path d="M110.4,535.3 L119.9,540.3 L110.4,545.3 L112.9,540.3 Z" fill="#464c6a"/>
<text x="167.10" y="533.90" font-size="8.7" font-style="italic" text-anchor="middle" fill="#333" stroke="#333" stroke-width="0.22">stirring</text>
<path d="M155.8,540.3 L171.70000000000002,540.3" stroke="#464c6a" stroke-width="2.2"/><path d="M169.70000000000002,535.3 L179.20000000000002,540.3 L169.70000000000002,545.3 L172.20000000000002,540.3 Z" fill="#464c6a"/>
<text x="225.20" y="533.90" font-size="8.5" font-style="italic" text-anchor="middle" fill="#f06464" stroke="#f06464" stroke-width="0.22">heating</text>
<path d="M214,540.3 L229.5,540.3" stroke="#f06464" stroke-width="2.2"/><path d="M227.5,535.3 L237,540.3 L227.5,545.3 L230.0,540.3 Z" fill="#f06464"/>
<text x="225.00" y="552.30" font-size="9.1" text-anchor="middle" fill="#f06464" stroke="#f06464" stroke-width="0.22">60 °C</text>
<text x="276.00" y="406.20" font-size="12.5" font-weight="bold" fill="#111" stroke="#111" stroke-width="0.22">f</text>
<defs><clipPath id="bclip"><path d="M295.30,562.90 L295.87,562.56 L296.63,562.20 L297.54,561.77 L298.54,561.24 L299.60,560.60 L300.65,559.79 L301.66,558.81 L302.57,557.60 L303.42,556.18 L304.25,554.59 L305.07,552.82 L305.87,550.89 L306.66,548.81 L307.42,546.58 L308.16,544.20 L308.87,541.70 L309.55,539.05 L310.19,536.24 L310.80,533.29 L311.39,530.19 L311.97,526.96 L312.55,523.60 L313.15,520.12 L313.76,516.53 L314.38,512.69 L315.02,508.55 L315.65,504.22 L316.29,499.80 L316.94,495.39 L317.58,491.12 L318.22,487.09 L318.86,483.40 L319.50,479.98 L320.14,476.68 L320.78,473.54 L321.42,470.56 L322.06,467.79 L322.69,465.23 L323.33,462.92 L323.96,460.88 L324.58,459.14 L325.19,457.72 L325.79,456.56 L326.38,455.62 L326.99,454.83 L327.62,454.15 L328.27,453.53 L328.96,452.93 L329.67,452.42 L330.41,452.10 L331.17,451.92 L331.94,451.81 L332.74,451.71 L333.56,451.57 L334.40,451.34 L335.25,450.94 L336.15,450.38 L337.09,449.73 L338.07,448.99 L339.05,448.20 L340.04,447.39 L341.01,446.56 L341.96,445.75 L342.85,444.98 L343.70,444.21 L344.52,443.42 L345.31,442.62 L346.08,441.83 L346.85,441.05 L347.61,440.32 L348.37,439.63 L349.15,439.01 L349.94,438.42 L350.72,437.81 L351.51,437.23 L352.30,436.69 L353.09,436.24 L353.87,435.91 L354.66,435.72 L355.45,435.70 L356.23,435.84 L357.02,436.11 L357.81,436.51 L358.60,437.03 L359.38,437.67 L360.17,438.43 L360.96,439.32 L361.74,440.34 L362.52,441.50 L363.29,442.82 L364.05,444.27 L364.81,445.84 L365.59,447.52 L366.38,449.27 L367.19,451.08 L368.04,452.93 L368.93,454.91 L369.85,457.08 L370.80,459.36 L371.76,461.70 L372.73,464.02 L373.71,466.25 L374.68,468.31 L375.64,470.15 L376.56,471.70 L377.44,473.01 L378.31,474.15 L379.18,475.21 L380.08,476.25 L381.04,477.36 L382.09,478.62 L383.24,480.09 L384.50,481.73 L385.83,483.46 L387.23,485.28 L388.69,487.18 L390.21,489.19 L391.79,491.30 L393.41,493.52 L395.08,495.86 L396.84,498.41 L398.74,501.24 L400.72,504.24 L402.73,507.31 L404.73,510.35 L406.67,513.28 L408.50,515.99 L410.17,518.38 L411.67,520.46 L413.05,522.31 L414.32,523.99 L415.53,525.53 L416.71,526.96 L417.86,528.35 L419.04,529.71 L420.26,531.10 L421.50,532.49 L422.71,533.83 L423.90,535.13 L425.10,536.38 L426.32,537.60 L427.57,538.78 L428.88,539.92 L430.25,541.04 L431.70,542.11 L433.22,543.12 L434.78,544.09 L436.39,545.03 L438.01,545.95 L439.64,546.86 L441.25,547.78 L442.85,548.72 L444.40,549.69 L445.93,550.68 L447.45,551.68 L448.98,552.66 L450.53,553.63 L452.11,554.57 L453.74,555.45 L455.44,556.28 L457.22,557.04 L459.07,557.76 L460.97,558.44 L462.91,559.08 L464.87,559.69 L466.82,560.26 L468.75,560.80 L470.64,561.31 L472.60,561.80 L474.69,562.26 L476.82,562.69 L478.92,563.08 L480.90,563.44 L482.68,563.75 L484.17,564.01 L485.30,564.23 L485.30,568.20 L295.30,568.20Z"/></clipPath></defs>
<path d="M295.30,562.90 L295.87,562.56 L296.63,562.20 L297.54,561.77 L298.54,561.24 L299.60,560.60 L300.65,559.79 L301.66,558.81 L302.57,557.60 L303.42,556.18 L304.25,554.59 L305.07,552.82 L305.87,550.89 L306.66,548.81 L307.42,546.58 L308.16,544.20 L308.87,541.70 L309.55,539.05 L310.19,536.24 L310.80,533.29 L311.39,530.19 L311.97,526.96 L312.55,523.60 L313.15,520.12 L313.76,516.53 L314.38,512.69 L315.02,508.55 L315.65,504.22 L316.29,499.80 L316.94,495.39 L317.58,491.12 L318.22,487.09 L318.86,483.40 L319.50,479.98 L320.14,476.68 L320.78,473.54 L321.42,470.56 L322.06,467.79 L322.69,465.23 L323.33,462.92 L323.96,460.88 L324.58,459.14 L325.19,457.72 L325.79,456.56 L326.38,455.62 L326.99,454.83 L327.62,454.15 L328.27,453.53 L328.96,452.93 L329.67,452.42 L330.41,452.10 L331.17,451.92 L331.94,451.81 L332.74,451.71 L333.56,451.57 L334.40,451.34 L335.25,450.94 L336.15,450.38 L337.09,449.73 L338.07,448.99 L339.05,448.20 L340.04,447.39 L341.01,446.56 L341.96,445.75 L342.85,444.98 L343.70,444.21 L344.52,443.42 L345.31,442.62 L346.08,441.83 L346.85,441.05 L347.61,440.32 L348.37,439.63 L349.15,439.01 L349.94,438.42 L350.72,437.81 L351.51,437.23 L352.30,436.69 L353.09,436.24 L353.87,435.91 L354.66,435.72 L355.45,435.70 L356.23,435.84 L357.02,436.11 L357.81,436.51 L358.60,437.03 L359.38,437.67 L360.17,438.43 L360.96,439.32 L361.74,440.34 L362.52,441.50 L363.29,442.82 L364.05,444.27 L364.81,445.84 L365.59,447.52 L366.38,449.27 L367.19,451.08 L368.04,452.93 L368.93,454.91 L369.85,457.08 L370.80,459.36 L371.76,461.70 L372.73,464.02 L373.71,466.25 L374.68,468.31 L375.64,470.15 L376.56,471.70 L377.44,473.01 L378.31,474.15 L379.18,475.21 L380.08,476.25 L381.04,477.36 L382.09,478.62 L383.24,480.09 L384.50,481.73 L385.83,483.46 L387.23,485.28 L388.69,487.18 L390.21,489.19 L391.79,491.30 L393.41,493.52 L395.08,495.86 L396.84,498.41 L398.74,501.24 L400.72,504.24 L402.73,507.31 L404.73,510.35 L406.67,513.28 L408.50,515.99 L410.17,518.38 L411.67,520.46 L413.05,522.31 L414.32,523.99 L415.53,525.53 L416.71,526.96 L417.86,528.35 L419.04,529.71 L420.26,531.10 L421.50,532.49 L422.71,533.83 L423.90,535.13 L425.10,536.38 L426.32,537.60 L427.57,538.78 L428.88,539.92 L430.25,541.04 L431.70,542.11 L433.22,543.12 L434.78,544.09 L436.39,545.03 L438.01,545.95 L439.64,546.86 L441.25,547.78 L442.85,548.72 L444.40,549.69 L445.93,550.68 L447.45,551.68 L448.98,552.66 L450.53,553.63 L452.11,554.57 L453.74,555.45 L455.44,556.28 L457.22,557.04 L459.07,557.76 L460.97,558.44 L462.91,559.08 L464.87,559.69 L466.82,560.26 L468.75,560.80 L470.64,561.31 L472.60,561.80 L474.69,562.26 L476.82,562.69 L478.92,563.08 L480.90,563.44 L482.68,563.75 L484.17,564.01 L485.30,564.23 L485.30,568.20 L295.30,568.20Z" fill="#bcd1f1"/>
<path d="M295.30,564.89 L296.47,564.82 L298.06,564.73 L299.96,564.64 L302.04,564.52 L304.21,564.39 L306.35,564.23 L308.34,564.04 L310.07,563.83 L311.58,563.60 L313.00,563.36 L314.34,563.11 L315.62,562.83 L316.84,562.50 L318.01,562.13 L319.15,561.69 L320.27,561.18 L321.34,560.64 L322.33,560.10 L323.26,559.53 L324.17,558.89 L325.06,558.15 L325.96,557.27 L326.89,556.22 L327.87,554.95 L328.90,553.49 L329.97,551.87 L331.05,550.10 L332.15,548.18 L333.25,546.12 L334.36,543.90 L335.46,541.55 L336.56,539.05 L337.63,536.38 L338.69,533.53 L339.75,530.52 L340.80,527.37 L341.87,524.11 L342.96,520.76 L344.08,517.34 L345.24,513.88 L346.45,510.26 L347.69,506.44 L348.96,502.49 L350.26,498.47 L351.56,494.48 L352.87,490.58 L354.17,486.87 L355.45,483.40 L356.72,480.17 L357.98,477.09 L359.24,474.14 L360.50,471.31 L361.76,468.58 L363.02,465.95 L364.28,463.38 L365.54,460.88 L366.81,458.40 L368.09,455.97 L369.36,453.60 L370.64,451.33 L371.91,449.17 L373.17,447.15 L374.42,445.30 L375.64,443.65 L376.86,442.19 L378.07,440.89 L379.28,439.75 L380.47,438.76 L381.64,437.91 L382.78,437.19 L383.90,436.59 L384.98,436.10 L386.01,435.74 L387.00,435.53 L387.96,435.45 L388.89,435.49 L389.81,435.65 L390.73,435.90 L391.65,436.23 L392.58,436.63 L393.50,437.08 L394.40,437.60 L395.28,438.20 L396.17,438.89 L397.07,439.70 L398.02,440.64 L399.01,441.73 L400.07,442.99 L401.21,444.45 L402.41,446.13 L403.67,447.96 L404.96,449.93 L406.27,451.98 L407.58,454.07 L408.89,456.16 L410.17,458.23 L411.43,460.28 L412.69,462.38 L413.96,464.52 L415.22,466.68 L416.49,468.86 L417.75,471.06 L419.01,473.26 L420.26,475.45 L421.52,477.66 L422.77,479.91 L424.01,482.17 L425.26,484.44 L426.50,486.70 L427.75,488.92 L429.00,491.10 L430.25,493.21 L431.51,495.24 L432.77,497.22 L434.03,499.16 L435.29,501.06 L436.56,502.95 L437.82,504.82 L439.09,506.69 L440.35,508.58 L441.61,510.49 L442.87,512.43 L444.14,514.38 L445.40,516.32 L446.66,518.22 L447.92,520.07 L449.18,521.86 L450.45,523.55 L451.69,525.14 L452.91,526.65 L454.12,528.10 L455.33,529.49 L456.57,530.84 L457.84,532.17 L459.16,533.48 L460.54,534.81 L462.01,536.15 L463.55,537.50 L465.14,538.85 L466.77,540.17 L468.42,541.45 L470.06,542.67 L471.67,543.82 L473.25,544.88 L474.87,545.87 L476.59,546.83 L478.34,547.72 L480.07,548.56 L481.69,549.31 L483.15,549.97 L484.37,550.53 L485.30,550.98 L485.30,568.20 L295.30,568.20Z" fill="#c3e5cf"/>
<path d="M295.30,564.89 L296.47,564.82 L298.06,564.73 L299.96,564.64 L302.04,564.52 L304.21,564.39 L306.35,564.23 L308.34,564.04 L310.07,563.83 L311.58,563.60 L313.00,563.36 L314.34,563.11 L315.62,562.83 L316.84,562.50 L318.01,562.13 L319.15,561.69 L320.27,561.18 L321.34,560.64 L322.33,560.10 L323.26,559.53 L324.17,558.89 L325.06,558.15 L325.96,557.27 L326.89,556.22 L327.87,554.95 L328.90,553.49 L329.97,551.87 L331.05,550.10 L332.15,548.18 L333.25,546.12 L334.36,543.90 L335.46,541.55 L336.56,539.05 L337.63,536.38 L338.69,533.53 L339.75,530.52 L340.80,527.37 L341.87,524.11 L342.96,520.76 L344.08,517.34 L345.24,513.88 L346.45,510.26 L347.69,506.44 L348.96,502.49 L350.26,498.47 L351.56,494.48 L352.87,490.58 L354.17,486.87 L355.45,483.40 L356.72,480.17 L357.98,477.09 L359.24,474.14 L360.50,471.31 L361.76,468.58 L363.02,465.95 L364.28,463.38 L365.54,460.88 L366.81,458.40 L368.09,455.97 L369.36,453.60 L370.64,451.33 L371.91,449.17 L373.17,447.15 L374.42,445.30 L375.64,443.65 L376.86,442.19 L378.07,440.89 L379.28,439.75 L380.47,438.76 L381.64,437.91 L382.78,437.19 L383.90,436.59 L384.98,436.10 L386.01,435.74 L387.00,435.53 L387.96,435.45 L388.89,435.49 L389.81,435.65 L390.73,435.90 L391.65,436.23 L392.58,436.63 L393.50,437.08 L394.40,437.60 L395.28,438.20 L396.17,438.89 L397.07,439.70 L398.02,440.64 L399.01,441.73 L400.07,442.99 L401.21,444.45 L402.41,446.13 L403.67,447.96 L404.96,449.93 L406.27,451.98 L407.58,454.07 L408.89,456.16 L410.17,458.23 L411.43,460.28 L412.69,462.38 L413.96,464.52 L415.22,466.68 L416.49,468.86 L417.75,471.06 L419.01,473.26 L420.26,475.45 L421.52,477.66 L422.77,479.91 L424.01,482.17 L425.26,484.44 L426.50,486.70 L427.75,488.92 L429.00,491.10 L430.25,493.21 L431.51,495.24 L432.77,497.22 L434.03,499.16 L435.29,501.06 L436.56,502.95 L437.82,504.82 L439.09,506.69 L440.35,508.58 L441.61,510.49 L442.87,512.43 L444.14,514.38 L445.40,516.32 L446.66,518.22 L447.92,520.07 L449.18,521.86 L450.45,523.55 L451.69,525.14 L452.91,526.65 L454.12,528.10 L455.33,529.49 L456.57,530.84 L457.84,532.17 L459.16,533.48 L460.54,534.81 L462.01,536.15 L463.55,537.50 L465.14,538.85 L466.77,540.17 L468.42,541.45 L470.06,542.67 L471.67,543.82 L473.25,544.88 L474.87,545.87 L476.59,546.83 L478.34,547.72 L480.07,548.56 L481.69,549.31 L483.15,549.97 L484.37,550.53 L485.30,550.98 L485.30,568.20 L295.30,568.20Z" fill="#8ec2d5" clip-path="url(#bclip)"/>
<path d="M295.30,564.89 L296.47,564.82 L298.06,564.73 L299.96,564.64 L302.04,564.52 L304.21,564.39 L306.35,564.23 L308.34,564.04 L310.07,563.83 L311.58,563.60 L313.00,563.36 L314.34,563.11 L315.62,562.83 L316.84,562.50 L318.01,562.13 L319.15,561.69 L320.27,561.18 L321.34,560.64 L322.33,560.10 L323.26,559.53 L324.17,558.89 L325.06,558.15 L325.96,557.27 L326.89,556.22 L327.87,554.95 L328.90,553.49 L329.97,551.87 L331.05,550.10 L332.15,548.18 L333.25,546.12 L334.36,543.90 L335.46,541.55 L336.56,539.05 L337.63,536.38 L338.69,533.53 L339.75,530.52 L340.80,527.37 L341.87,524.11 L342.96,520.76 L344.08,517.34 L345.24,513.88 L346.45,510.26 L347.69,506.44 L348.96,502.49 L350.26,498.47 L351.56,494.48 L352.87,490.58 L354.17,486.87 L355.45,483.40 L356.72,480.17 L357.98,477.09 L359.24,474.14 L360.50,471.31 L361.76,468.58 L363.02,465.95 L364.28,463.38 L365.54,460.88 L366.81,458.40 L368.09,455.97 L369.36,453.60 L370.64,451.33 L371.91,449.17 L373.17,447.15 L374.42,445.30 L375.64,443.65 L376.86,442.19 L378.07,440.89 L379.28,439.75 L380.47,438.76 L381.64,437.91 L382.78,437.19 L383.90,436.59 L384.98,436.10 L386.01,435.74 L387.00,435.53 L387.96,435.45 L388.89,435.49 L389.81,435.65 L390.73,435.90 L391.65,436.23 L392.58,436.63 L393.50,437.08 L394.40,437.60 L395.28,438.20 L396.17,438.89 L397.07,439.70 L398.02,440.64 L399.01,441.73 L400.07,442.99 L401.21,444.45 L402.41,446.13 L403.67,447.96 L404.96,449.93 L406.27,451.98 L407.58,454.07 L408.89,456.16 L410.17,458.23 L411.43,460.28 L412.69,462.38 L413.96,464.52 L415.22,466.68 L416.49,468.86 L417.75,471.06 L419.01,473.26 L420.26,475.45 L421.52,477.66 L422.77,479.91 L424.01,482.17 L425.26,484.44 L426.50,486.70 L427.75,488.92 L429.00,491.10 L430.25,493.21 L431.51,495.24 L432.77,497.22 L434.03,499.16 L435.29,501.06 L436.56,502.95 L437.82,504.82 L439.09,506.69 L440.35,508.58 L441.61,510.49 L442.87,512.43 L444.14,514.38 L445.40,516.32 L446.66,518.22 L447.92,520.07 L449.18,521.86 L450.45,523.55 L451.69,525.14 L452.91,526.65 L454.12,528.10 L455.33,529.49 L456.57,530.84 L457.84,532.17 L459.16,533.48 L460.54,534.81 L462.01,536.15 L463.55,537.50 L465.14,538.85 L466.77,540.17 L468.42,541.45 L470.06,542.67 L471.67,543.82 L473.25,544.88 L474.87,545.87 L476.59,546.83 L478.34,547.72 L480.07,548.56 L481.69,549.31 L483.15,549.97 L484.37,550.53 L485.30,550.98" fill="none" stroke="#3aa65a" stroke-width="1.6"/>
<path d="M295.30,563.56 L295.87,563.20 L296.64,562.78 L297.56,562.28 L298.58,561.70 L299.64,561.02 L300.69,560.22 L301.69,559.31 L302.57,558.26 L303.38,557.07 L304.15,555.74 L304.91,554.28 L305.63,552.71 L306.34,551.06 L307.02,549.32 L307.69,547.52 L308.33,545.68 L308.94,543.76 L309.51,541.76 L310.06,539.67 L310.59,537.52 L311.10,535.31 L311.62,533.05 L312.14,530.76 L312.67,528.45 L313.21,526.09 L313.73,523.67 L314.24,521.19 L314.76,518.68 L315.29,516.14 L315.84,513.61 L316.41,511.08 L317.01,508.58 L317.63,506.06 L318.23,503.51 L318.84,500.95 L319.48,498.39 L320.16,495.86 L320.90,493.39 L321.73,490.99 L322.66,488.70 L323.71,486.50 L324.87,484.35 L326.12,482.27 L327.43,480.25 L328.77,478.30 L330.13,476.40 L331.46,474.57 L332.76,472.80 L334.03,471.16 L335.31,469.68 L336.60,468.30 L337.88,466.96 L339.15,465.61 L340.41,464.18 L341.65,462.62 L342.85,460.88 L344.03,458.85 L345.20,456.57 L346.34,454.14 L347.47,451.64 L348.57,449.18 L349.66,446.85 L350.72,444.76 L351.76,442.99 L352.76,441.50 L353.73,440.17 L354.66,439.01 L355.58,438.02 L356.49,437.19 L357.40,436.53 L358.32,436.03 L359.25,435.70 L360.20,435.59 L361.17,435.72 L362.15,436.05 L363.12,436.53 L364.09,437.11 L365.04,437.75 L365.96,438.40 L366.85,439.01 L367.66,439.60 L368.38,440.21 L369.06,440.85 L369.73,441.54 L370.43,442.28 L371.21,443.10 L372.10,443.99 L373.14,444.98 L374.37,446.07 L375.75,447.28 L377.25,448.58 L378.82,449.94 L380.42,451.35 L382.01,452.77 L383.54,454.19 L384.98,455.58 L386.32,456.91 L387.63,458.22 L388.89,459.52 L390.14,460.83 L391.37,462.20 L392.59,463.63 L393.83,465.17 L395.08,466.84 L396.34,468.65 L397.60,470.59 L398.87,472.63 L400.13,474.75 L401.39,476.91 L402.66,479.09 L403.92,481.26 L405.17,483.40 L406.41,485.52 L407.62,487.65 L408.81,489.79 L410.01,491.94 L411.23,494.10 L412.48,496.27 L413.79,498.44 L415.16,500.63 L416.61,502.84 L418.13,505.08 L419.69,507.35 L421.30,509.62 L422.92,511.87 L424.55,514.10 L426.16,516.27 L427.76,518.38 L429.31,520.43 L430.85,522.43 L432.37,524.39 L433.90,526.32 L435.44,528.22 L437.03,530.08 L438.66,531.93 L440.35,533.75 L442.12,535.58 L443.94,537.43 L445.82,539.26 L447.73,541.06 L449.66,542.80 L451.60,544.45 L453.53,545.99 L455.44,547.40 L457.34,548.65 L459.25,549.77 L461.16,550.79 L463.07,551.71 L464.98,552.57 L466.88,553.38 L468.77,554.17 L470.64,554.95 L472.60,555.73 L474.69,556.50 L476.82,557.24 L478.92,557.94 L480.90,558.58 L482.68,559.14 L484.17,559.61 L485.30,559.99" fill="none" stroke="#222" stroke-width="0.8"/>
<path d="M295.30,562.50 L296.24,562.08 L297.51,561.58 L299.03,560.99 L300.70,560.30 L302.45,559.50 L304.18,558.56 L305.80,557.50 L307.24,556.28 L308.52,554.90 L309.73,553.37 L310.88,551.71 L312.00,549.92 L313.09,548.02 L314.17,546.01 L315.26,543.90 L316.36,541.70 L317.47,539.34 L318.55,536.77 L319.63,534.06 L320.70,531.27 L321.78,528.45 L322.87,525.68 L324.00,523.01 L325.16,520.50 L326.36,518.16 L327.59,515.91 L328.85,513.75 L330.12,511.64 L331.41,509.56 L332.70,507.49 L333.98,505.40 L335.25,503.28 L336.52,501.14 L337.78,499.05 L339.04,496.96 L340.30,494.87 L341.56,492.75 L342.83,490.59 L344.09,488.36 L345.35,486.05 L346.63,483.62 L347.93,481.09 L349.25,478.47 L350.56,475.82 L351.84,473.17 L353.10,470.54 L354.31,467.98 L355.45,465.51 L356.52,463.09 L357.53,460.64 L358.49,458.20 L359.41,455.82 L360.32,453.54 L361.21,451.38 L362.12,449.40 L363.05,447.63 L363.97,446.07 L364.87,444.70 L365.75,443.48 L366.64,442.41 L367.54,441.45 L368.49,440.58 L369.48,439.77 L370.54,439.01 L371.69,438.30 L372.93,437.67 L374.23,437.12 L375.55,436.65 L376.89,436.27 L378.20,435.98 L379.45,435.79 L380.64,435.70 L381.72,435.70 L382.71,435.77 L383.65,435.94 L384.57,436.20 L385.50,436.56 L386.47,437.04 L387.52,437.63 L388.67,438.35 L389.94,439.20 L391.31,440.18 L392.76,441.28 L394.24,442.49 L395.74,443.80 L397.23,445.21 L398.68,446.71 L400.07,448.29 L401.39,449.98 L402.69,451.81 L403.95,453.76 L405.20,455.78 L406.44,457.87 L407.67,459.98 L408.91,462.10 L410.17,464.19 L411.43,466.28 L412.69,468.40 L413.96,470.55 L415.22,472.72 L416.49,474.89 L417.75,477.08 L419.01,479.25 L420.26,481.41 L421.52,483.58 L422.77,485.77 L424.01,487.96 L425.26,490.15 L426.50,492.32 L427.75,494.47 L429.00,496.58 L430.25,498.64 L431.51,500.65 L432.77,502.62 L434.03,504.56 L435.29,506.46 L436.56,508.35 L437.82,510.21 L439.09,512.05 L440.35,513.88 L441.61,515.70 L442.87,517.52 L444.14,519.33 L445.40,521.12 L446.66,522.87 L447.92,524.57 L449.18,526.22 L450.45,527.79 L451.69,529.28 L452.91,530.70 L454.12,532.06 L455.33,533.38 L456.57,534.66 L457.84,535.91 L459.16,537.15 L460.54,538.39 L462.01,539.63 L463.55,540.88 L465.14,542.11 L466.77,543.31 L468.42,544.49 L470.06,545.61 L471.67,546.67 L473.25,547.66 L474.87,548.61 L476.59,549.53 L478.34,550.40 L480.07,551.22 L481.69,551.97 L483.15,552.63 L484.37,553.19 L485.30,553.62" fill="none" stroke="#111" stroke-width="1.3" stroke-dasharray="2.6,2"/>
<path d="M295.30,564.99 L296.47,564.92 L298.06,564.84 L299.96,564.74 L302.04,564.63 L304.21,564.50 L306.35,564.35 L308.34,564.17 L310.07,563.96 L311.58,563.73 L313.00,563.51 L314.34,563.26 L315.62,562.99 L316.84,562.67 L318.01,562.31 L319.15,561.89 L320.27,561.39 L321.34,560.86 L322.33,560.34 L323.26,559.79 L324.17,559.17 L325.06,558.45 L325.96,557.60 L326.89,556.58 L327.87,555.35 L328.90,553.93 L329.97,552.37 L331.05,550.66 L332.15,548.80 L333.25,546.80 L334.36,544.65 L335.46,542.36 L336.56,539.92 L337.63,537.32 L338.69,534.52 L339.75,531.56 L340.80,528.47 L341.87,525.27 L342.96,521.98 L344.08,518.62 L345.24,515.23 L346.45,511.71 L347.69,507.98 L348.96,504.12 L350.26,500.21 L351.56,496.32 L352.87,492.52 L354.17,488.90 L355.45,485.52 L356.72,482.37 L357.98,479.36 L359.24,476.49 L360.50,473.73 L361.76,471.07 L363.02,468.50 L364.28,466.00 L365.54,463.56 L366.81,461.15 L368.09,458.78 L369.36,456.47 L370.64,454.25 L371.91,452.14 L373.17,450.18 L374.42,448.38 L375.64,446.76 L376.86,445.34 L378.07,444.08 L379.28,442.97 L380.47,442.00 L381.64,441.17 L382.78,440.47 L383.90,439.88 L384.98,439.40 L386.01,439.05 L387.00,438.84 L387.96,438.77 L388.89,438.81 L389.81,438.96 L390.73,439.20 L391.65,439.53 L392.58,439.92 L393.50,440.36 L394.40,440.86 L395.28,441.45 L396.17,442.12 L397.07,442.91 L398.02,443.83 L399.01,444.89 L400.07,446.12 L401.21,447.55 L402.41,449.18 L403.67,450.97 L404.96,452.88 L406.27,454.88 L407.58,456.92 L408.89,458.97 L410.17,460.97 L411.43,462.98 L412.69,465.02 L413.96,467.11 L415.22,469.22 L416.49,471.35 L417.75,473.49 L419.01,475.63 L420.26,477.77 L421.52,479.92 L422.77,482.11 L424.01,484.32 L425.26,486.54 L426.50,488.74 L427.75,490.90 L429.00,493.02 L430.25,495.08 L431.51,497.07 L432.77,499.00 L434.03,500.89 L435.29,502.74 L436.56,504.58 L437.82,506.40 L439.09,508.23 L440.35,510.07 L441.61,511.93 L442.87,513.83 L444.14,515.73 L445.40,517.62 L446.66,519.47 L447.92,521.28 L449.18,523.01 L450.45,524.66 L451.69,526.22 L452.91,527.69 L454.12,529.10 L455.33,530.45 L456.57,531.77 L457.84,533.07 L459.16,534.35 L460.54,535.64 L462.01,536.95 L463.55,538.27 L465.14,539.58 L466.77,540.87 L468.42,542.12 L470.06,543.31 L471.67,544.43 L473.25,545.46 L474.87,546.43 L476.59,547.36 L478.34,548.24 L480.07,549.05 L481.69,549.78 L483.15,550.43 L484.37,550.97 L485.30,551.41" fill="none" stroke="#e04a48" stroke-width="1.9"/>
<path d="M295.30,562.90 L295.87,562.56 L296.63,562.20 L297.54,561.77 L298.54,561.24 L299.60,560.60 L300.65,559.79 L301.66,558.81 L302.57,557.60 L303.42,556.18 L304.25,554.59 L305.07,552.82 L305.87,550.89 L306.66,548.81 L307.42,546.58 L308.16,544.20 L308.87,541.70 L309.55,539.05 L310.19,536.24 L310.80,533.29 L311.39,530.19 L311.97,526.96 L312.55,523.60 L313.15,520.12 L313.76,516.53 L314.38,512.69 L315.02,508.55 L315.65,504.22 L316.29,499.80 L316.94,495.39 L317.58,491.12 L318.22,487.09 L318.86,483.40 L319.50,479.98 L320.14,476.68 L320.78,473.54 L321.42,470.56 L322.06,467.79 L322.69,465.23 L323.33,462.92 L323.96,460.88 L324.58,459.14 L325.19,457.72 L325.79,456.56 L326.38,455.62 L326.99,454.83 L327.62,454.15 L328.27,453.53 L328.96,452.93 L329.67,452.42 L330.41,452.10 L331.17,451.92 L331.94,451.81 L332.74,451.71 L333.56,451.57 L334.40,451.34 L335.25,450.94 L336.15,450.38 L337.09,449.73 L338.07,448.99 L339.05,448.20 L340.04,447.39 L341.01,446.56 L341.96,445.75 L342.85,444.98 L343.70,444.21 L344.52,443.42 L345.31,442.62 L346.08,441.83 L346.85,441.05 L347.61,440.32 L348.37,439.63 L349.15,439.01 L349.94,438.42 L350.72,437.81 L351.51,437.23 L352.30,436.69 L353.09,436.24 L353.87,435.91 L354.66,435.72 L355.45,435.70 L356.23,435.84 L357.02,436.11 L357.81,436.51 L358.60,437.03 L359.38,437.67 L360.17,438.43 L360.96,439.32 L361.74,440.34 L362.52,441.50 L363.29,442.82 L364.05,444.27 L364.81,445.84 L365.59,447.52 L366.38,449.27 L367.19,451.08 L368.04,452.93 L368.93,454.91 L369.85,457.08 L370.80,459.36 L371.76,461.70 L372.73,464.02 L373.71,466.25 L374.68,468.31 L375.64,470.15 L376.56,471.70 L377.44,473.01 L378.31,474.15 L379.18,475.21 L380.08,476.25 L381.04,477.36 L382.09,478.62 L383.24,480.09 L384.50,481.73 L385.83,483.46 L387.23,485.28 L388.69,487.18 L390.21,489.19 L391.79,491.30 L393.41,493.52 L395.08,495.86 L396.84,498.41 L398.74,501.24 L400.72,504.24 L402.73,507.31 L404.73,510.35 L406.67,513.28 L408.50,515.99 L410.17,518.38 L411.67,520.46 L413.05,522.31 L414.32,523.99 L415.53,525.53 L416.71,526.96 L417.86,528.35 L419.04,529.71 L420.26,531.10 L421.50,532.49 L422.71,533.83 L423.90,535.13 L425.10,536.38 L426.32,537.60 L427.57,538.78 L428.88,539.92 L430.25,541.04 L431.70,542.11 L433.22,543.12 L434.78,544.09 L436.39,545.03 L438.01,545.95 L439.64,546.86 L441.25,547.78 L442.85,548.72 L444.40,549.69 L445.93,550.68 L447.45,551.68 L448.98,552.66 L450.53,553.63 L452.11,554.57 L453.74,555.45 L455.44,556.28 L457.22,557.04 L459.07,557.76 L460.97,558.44 L462.91,559.08 L464.87,559.69 L466.82,560.26 L468.75,560.80 L470.64,561.31 L472.60,561.80 L474.69,562.26 L476.82,562.69 L478.92,563.08 L480.90,563.44 L482.68,563.75 L484.17,564.01 L485.30,564.23" fill="none" stroke="#2a6fdc" stroke-width="1.6"/>
<path d="M295.3,410.7 L485.5,410.7 L485.5,567.8 M295.3,410.7 L295.3,570.5" fill="none" stroke="#666" stroke-width="1.1"/>
<path d="M294.8,567.8 L486,567.8" stroke="#444" stroke-width="1.2"/>
<path d="M322.44,567.8 L322.44,570.8 M376.73,567.8 L376.73,570.8 M431.01,567.8 L431.01,570.8 M485.30,567.8 L485.30,570.8 M295.30,567.8 L295.30,569.8 M349.59,567.8 L349.59,569.8 M403.87,567.8 L403.87,569.8 M458.16,567.8 L458.16,569.8 M295.3,568.20 L292.3,568.20 M295.3,554.95 L293.3,554.95 M295.3,541.70 L292.3,541.70 M295.3,528.45 L293.3,528.45 M295.3,515.20 L292.3,515.20 M295.3,501.95 L293.3,501.95 M295.3,488.70 L292.3,488.70 M295.3,475.45 L293.3,475.45 M295.3,462.20 L292.3,462.20 M295.3,448.95 L293.3,448.95 M295.3,435.70 L292.3,435.70 M295.3,422.45 L293.3,422.45" stroke="#555" stroke-width="0.9"/>
<text x="322.44" y="580.30" font-size="9.6" text-anchor="middle" stroke="#222" stroke-width="0.22">450</text>
<text x="376.73" y="580.30" font-size="9.6" text-anchor="middle" stroke="#222" stroke-width="0.22">500</text>
<text x="431.01" y="580.30" font-size="9.6" text-anchor="middle" stroke="#222" stroke-width="0.22">550</text>
<text x="485.30" y="580.30" font-size="9.6" text-anchor="middle" stroke="#222" stroke-width="0.22">600</text>
<text x="390.30" y="587.80" font-size="9.3" text-anchor="middle" stroke="#222" stroke-width="0.22">Wavelength (nm)</text>
<text transform="translate(287.9,489.6) rotate(-90)" font-size="9.2" text-anchor="middle" fill="#222" stroke="#222" stroke-width="0.22">Norm. Intensity (arb. units)</text>
<path d="M350.5,424.0 L390.7,424.0" stroke="#f06464" stroke-width="1.8"/><path d="M388.7,420.4 L397.7,424.0 L388.7,427.6 L391.2,424.0 Z" fill="#f06464"/>
<path d="M357.5,429.3 L397.7,429.3" stroke="#1ea0ea" stroke-width="1.8"/><path d="M359.5,425.7 L350.5,429.3 L359.5,432.90000000000003 L357.0,429.3 Z" fill="#1ea0ea"/>
<rect x="430.8" y="412.5" width="19.2" height="9.2" fill="#c3e5cf" stroke="#9fd6b0" stroke-width="1"/>
<text x="479.20" y="420.30" font-size="9.1" text-anchor="end" stroke="#222" stroke-width="0.22">0 min</text>
<path d="M430.8,428 L450.2,428" stroke="#111" stroke-width="1.4" stroke-dasharray="2.6,2.2"/>
<text x="454.40" y="430.70" font-size="9.1" stroke="#222" stroke-width="0.22">40 min</text>
<path d="M430.8,438.4 L450.2,438.4" stroke="#bbb" stroke-width="0.8" stroke-dasharray="1,1.2"/>
<text x="454.40" y="441.10" font-size="9.1" stroke="#222" stroke-width="0.22">50 min</text>
<rect x="430.8" y="443.8" width="19.2" height="9.4" fill="#bcd1f1" stroke="#8eb4ee" stroke-width="1"/>
<text x="454.40" y="451.60" font-size="9.1" stroke="#222" stroke-width="0.22">60 min</text>
<path d="M430.8,458.8 L450.2,458.8" stroke="#e04a48" stroke-width="1.9"/>
<text x="454.40" y="461.90" font-size="8.7" stroke="#222" stroke-width="0.22">heating</text>
<text x="495.50" y="406.20" font-size="12.5" font-weight="bold" fill="#111" stroke="#111" stroke-width="0.22">g</text>
<defs><clipPath id="cie"><path d="M551.54,570.61 L551.51,570.61 L551.47,570.62 L551.42,570.64 L551.38,570.64 L551.34,570.65 L551.31,570.65 L551.28,570.65 L551.24,570.64 L551.18,570.63 L551.12,570.62 L551.06,570.61 L550.99,570.59 L550.94,570.56 L550.89,570.54 L550.83,570.50 L550.77,570.46 L550.71,570.42 L550.64,570.38 L550.57,570.33 L550.49,570.27 L550.40,570.20 L550.30,570.13 L550.20,570.05 L550.09,569.96 L549.97,569.87 L549.85,569.77 L549.72,569.67 L549.59,569.55 L549.44,569.44 L549.28,569.31 L549.11,569.18 L548.92,569.04 L548.72,568.88 L548.50,568.71 L548.26,568.53 L548.02,568.34 L547.76,568.14 L547.48,567.93 L547.20,567.70 L546.89,567.45 L546.56,567.17 L546.22,566.88 L545.86,566.56 L545.48,566.20 L545.09,565.81 L544.68,565.41 L544.25,564.94 L543.77,564.37 L543.25,563.72 L542.70,562.99 L542.11,562.15 L541.48,561.18 L540.81,560.09 L540.10,558.90 L539.35,557.55 L538.56,556.00 L537.71,554.25 L536.82,552.33 L535.87,550.20 L534.87,547.80 L533.80,545.15 L532.66,542.27 L531.49,539.11 L530.33,535.65 L529.16,531.87 L527.97,527.79 L526.79,523.43 L525.64,518.81 L524.48,513.89 L523.33,508.65 L522.23,503.25 L521.23,497.79 L520.31,492.24 L519.47,486.55 L518.73,480.87 L518.15,475.34 L517.71,469.94 L517.40,464.61 L517.25,459.45 L517.28,454.55 L517.51,449.89 L517.92,445.42 L518.51,441.26 L519.30,437.51 L520.29,434.17 L521.49,431.17 L522.85,428.59 L524.33,426.48 L525.94,424.88 L527.70,423.76 L529.56,423.02 L531.45,422.58 L533.39,422.50 L535.40,422.79 L537.45,423.32 L539.48,423.94 L541.52,424.67 L543.58,425.57 L545.63,426.56 L547.63,427.57 L549.59,428.59 L551.53,429.66 L553.43,430.77 L555.32,431.91 L557.19,433.08 L559.04,434.28 L560.87,435.52 L562.71,436.78 L564.54,438.08 L566.36,439.41 L568.18,440.76 L569.99,442.14 L571.80,443.54 L573.60,444.96 L575.40,446.40 L577.20,447.86 L578.99,449.32 L580.79,450.81 L582.58,452.31 L584.38,453.82 L586.18,455.34 L587.99,456.88 L589.79,458.42 L591.59,459.96 L593.38,461.52 L595.17,463.08 L596.96,464.64 L598.75,466.20 L600.54,467.76 L602.32,469.32 L604.10,470.88 L605.88,472.43 L607.64,473.98 L609.39,475.53 L611.13,477.06 L612.86,478.59 L614.57,480.11 L616.28,481.62 L617.97,483.11 L619.64,484.59 L621.29,486.06 L622.93,487.51 L624.55,488.94 L626.14,490.34 L627.71,491.73 L629.26,493.09 L630.78,494.43 L632.26,495.74 L633.71,497.02 L635.13,498.28 L636.50,499.51 L637.83,500.69 L639.11,501.82 L640.34,502.90 L641.53,503.95 L642.68,504.97 L643.81,505.97 L644.90,506.93 L645.95,507.86 L646.95,508.74 L647.90,509.58 L648.81,510.37 L649.67,511.13 L650.49,511.85 L651.27,512.54 L652.01,513.19 L652.71,513.81 L653.37,514.40 L654.00,514.96 L654.58,515.48 L655.14,515.97 L655.66,516.44 L656.16,516.88 L656.63,517.29 L657.07,517.67 L657.50,518.05 L657.87,518.38 L658.21,518.67 L658.55,518.98 L658.96,519.35 L659.49,519.81 L660.09,520.34 L660.68,520.87 L661.20,521.33 L661.62,521.70 L661.99,522.03 L662.32,522.31 L662.61,522.56 L662.85,522.78 L663.06,522.96 L663.23,523.12 L663.41,523.28 L663.60,523.45 L663.79,523.61 L663.96,523.76 L664.10,523.89 L664.20,523.98 L664.27,524.04 L664.32,524.08 L664.36,524.12Z"/></clipPath><filter id="bl" x="-0.1" y="-0.1" width="1.2" height="1.2"><feGaussianBlur stdDeviation="1.6"/></filter></defs>
<g clip-path="url(#cie)"><g filter="url(#bl)"><rect x="520" y="420" width="3" height="3" fill="#00ff9e"/><rect x="523" y="420" width="3" height="3" fill="#00ff9b"/><rect x="526" y="420" width="3" height="3" fill="#00ff97"/><rect x="529" y="420" width="3" height="3" fill="#00ff94"/><rect x="532" y="420" width="3" height="3" fill="#00ff90"/><rect x="535" y="420" width="3" height="3" fill="#00ff8c"/><rect x="538" y="420" width="3" height="3" fill="#00ff88"/><rect x="541" y="420" width="3" height="3" fill="#00ff83"/><rect x="544" y="420" width="3" height="3" fill="#00ff7e"/><rect x="520" y="423" width="3" height="3" fill="#00ff9f"/><rect x="523" y="423" width="3" height="3" fill="#00ff9c"/><rect x="526" y="423" width="3" height="3" fill="#00ff99"/><rect x="529" y="423" width="3" height="3" fill="#00ff96"/><rect x="532" y="423" width="3" height="3" fill="#00ff92"/><rect x="535" y="423" width="3" height="3" fill="#00ff8e"/><rect x="538" y="423" width="3" height="3" fill="#00ff8a"/><rect x="541" y="423" width="3" height="3" fill="#00ff85"/><rect x="544" y="423" width="3" height="3" fill="#00ff80"/><rect x="547" y="423" width="3" height="3" fill="#00ff7b"/><rect x="550" y="423" width="3" height="3" fill="#00ff74"/><rect x="517" y="426" width="3" height="3" fill="#00ffa4"/><rect x="520" y="426" width="3" height="3" fill="#00ffa1"/><rect x="523" y="426" width="3" height="3" fill="#00ff9e"/><rect x="526" y="426" width="3" height="3" fill="#00ff9b"/><rect x="529" y="426" width="3" height="3" fill="#00ff98"/><rect x="532" y="426" width="3" height="3" fill="#00ff94"/><rect x="535" y="426" width="3" height="3" fill="#00ff90"/><rect x="538" y="426" width="3" height="3" fill="#00ff8c"/><rect x="541" y="426" width="3" height="3" fill="#00ff87"/><rect x="544" y="426" width="3" height="3" fill="#00ff82"/><rect x="547" y="426" width="3" height="3" fill="#00ff7d"/><rect x="550" y="426" width="3" height="3" fill="#00ff77"/><rect x="553" y="426" width="3" height="3" fill="#00ff70"/><rect x="556" y="426" width="3" height="3" fill="#00ff68"/><rect x="517" y="429" width="3" height="3" fill="#00ffa6"/><rect x="520" y="429" width="3" height="3" fill="#00ffa3"/><rect x="523" y="429" width="3" height="3" fill="#00ffa0"/><rect x="526" y="429" width="3" height="3" fill="#00ff9d"/><rect x="529" y="429" width="3" height="3" fill="#00ff9a"/><rect x="532" y="429" width="3" height="3" fill="#00ff96"/><rect x="535" y="429" width="3" height="3" fill="#00ff92"/><rect x="538" y="429" width="3" height="3" fill="#00ff8e"/><rect x="541" y="429" width="3" height="3" fill="#00ff89"/><rect x="544" y="429" width="3" height="3" fill="#00ff84"/><rect x="547" y="429" width="3" height="3" fill="#00ff7f"/><rect x="550" y="429" width="3" height="3" fill="#00ff79"/><rect x="553" y="429" width="3" height="3" fill="#00ff72"/><rect x="556" y="429" width="3" height="3" fill="#00ff6a"/><rect x="559" y="429" width="3" height="3" fill="#00ff61"/><rect x="514" y="432" width="3" height="3" fill="#00ffab"/><rect x="517" y="432" width="3" height="3" fill="#00ffa8"/><rect x="520" y="432" width="3" height="3" fill="#00ffa5"/><rect x="523" y="432" width="3" height="3" fill="#00ffa3"/><rect x="526" y="432" width="3" height="3" fill="#00ff9f"/><rect x="529" y="432" width="3" height="3" fill="#00ff9c"/><rect x="532" y="432" width="3" height="3" fill="#00ff98"/><rect x="535" y="432" width="3" height="3" fill="#00ff95"/><rect x="538" y="432" width="3" height="3" fill="#00ff90"/><rect x="541" y="432" width="3" height="3" fill="#00ff8c"/><rect x="544" y="432" width="3" height="3" fill="#00ff87"/><rect x="547" y="432" width="3" height="3" fill="#00ff81"/><rect x="550" y="432" width="3" height="3" fill="#00ff7b"/><rect x="553" y="432" width="3" height="3" fill="#00ff74"/><rect x="556" y="432" width="3" height="3" fill="#00ff6c"/><rect x="559" y="432" width="3" height="3" fill="#00ff63"/><rect x="562" y="432" width="3" height="3" fill="#00ff59"/><rect x="565" y="432" width="3" height="3" fill="#00ff4d"/><rect x="514" y="435" width="3" height="3" fill="#00ffad"/><rect x="517" y="435" width="3" height="3" fill="#00ffaa"/><rect x="520" y="435" width="3" height="3" fill="#00ffa8"/><rect x="523" y="435" width="3" height="3" fill="#00ffa5"/><rect x="526" y="435" width="3" height="3" fill="#00ffa2"/><rect x="529" y="435" width="3" height="3" fill="#00ff9e"/><rect x="532" y="435" width="3" height="3" fill="#00ff9b"/><rect x="535" y="435" width="3" height="3" fill="#00ff97"/><rect x="538" y="435" width="3" height="3" fill="#00ff93"/><rect x="541" y="435" width="3" height="3" fill="#00ff8e"/><rect x="544" y="435" width="3" height="3" fill="#00ff89"/><rect x="547" y="435" width="3" height="3" fill="#00ff83"/><rect x="550" y="435" width="3" height="3" fill="#00ff7d"/><rect x="553" y="435" width="3" height="3" fill="#00ff76"/><rect x="556" y="435" width="3" height="3" fill="#00ff6f"/><rect x="559" y="435" width="3" height="3" fill="#00ff66"/><rect x="562" y="435" width="3" height="3" fill="#00ff5b"/><rect x="565" y="435" width="3" height="3" fill="#00ff4f"/><rect x="568" y="435" width="3" height="3" fill="#00ff40"/><rect x="514" y="438" width="3" height="3" fill="#00ffaf"/><rect x="517" y="438" width="3" height="3" fill="#00ffac"/><rect x="520" y="438" width="3" height="3" fill="#00ffaa"/><rect x="523" y="438" width="3" height="3" fill="#00ffa7"/><rect x="526" y="438" width="3" height="3" fill="#00ffa4"/><rect x="529" y="438" width="3" height="3" fill="#00ffa0"/><rect x="532" y="438" width="3" height="3" fill="#00ff9d"/><rect x="535" y="438" width="3" height="3" fill="#00ff99"/><rect x="538" y="438" width="3" height="3" fill="#00ff95"/><rect x="541" y="438" width="3" height="3" fill="#00ff90"/><rect x="544" y="438" width="3" height="3" fill="#00ff8b"/><rect x="547" y="438" width="3" height="3" fill="#00ff86"/><rect x="550" y="438" width="3" height="3" fill="#00ff80"/><rect x="553" y="438" width="3" height="3" fill="#00ff79"/><rect x="556" y="438" width="3" height="3" fill="#00ff71"/><rect x="559" y="438" width="3" height="3" fill="#00ff68"/><rect x="562" y="438" width="3" height="3" fill="#00ff5e"/><rect x="565" y="438" width="3" height="3" fill="#00ff52"/><rect x="568" y="438" width="3" height="3" fill="#00ff42"/><rect x="571" y="438" width="3" height="3" fill="#00ff2e"/><rect x="574" y="438" width="3" height="3" fill="#00ff05"/><rect x="514" y="441" width="3" height="3" fill="#00ffb1"/><rect x="517" y="441" width="3" height="3" fill="#00ffaf"/><rect x="520" y="441" width="3" height="3" fill="#00ffac"/><rect x="523" y="441" width="3" height="3" fill="#00ffa9"/><rect x="526" y="441" width="3" height="3" fill="#00ffa6"/><rect x="529" y="441" width="3" height="3" fill="#00ffa3"/><rect x="532" y="441" width="3" height="3" fill="#00ff9f"/><rect x="535" y="441" width="3" height="3" fill="#00ff9b"/><rect x="538" y="441" width="3" height="3" fill="#00ff97"/><rect x="541" y="441" width="3" height="3" fill="#00ff93"/><rect x="544" y="441" width="3" height="3" fill="#00ff8e"/><rect x="547" y="441" width="3" height="3" fill="#00ff88"/><rect x="550" y="441" width="3" height="3" fill="#00ff82"/><rect x="553" y="441" width="3" height="3" fill="#00ff7b"/><rect x="556" y="441" width="3" height="3" fill="#00ff74"/><rect x="559" y="441" width="3" height="3" fill="#00ff6b"/><rect x="562" y="441" width="3" height="3" fill="#00ff60"/><rect x="565" y="441" width="3" height="3" fill="#00ff54"/><rect x="568" y="441" width="3" height="3" fill="#00ff45"/><rect x="571" y="441" width="3" height="3" fill="#00ff30"/><rect x="574" y="441" width="3" height="3" fill="#00ff0a"/><rect x="577" y="441" width="3" height="3" fill="#2eff00"/><rect x="514" y="444" width="3" height="3" fill="#00ffb3"/><rect x="517" y="444" width="3" height="3" fill="#00ffb1"/><rect x="520" y="444" width="3" height="3" fill="#00ffae"/><rect x="523" y="444" width="3" height="3" fill="#00ffab"/><rect x="526" y="444" width="3" height="3" fill="#00ffa8"/><rect x="529" y="444" width="3" height="3" fill="#00ffa5"/><rect x="532" y="444" width="3" height="3" fill="#00ffa2"/><rect x="535" y="444" width="3" height="3" fill="#00ff9e"/><rect x="538" y="444" width="3" height="3" fill="#00ff9a"/><rect x="541" y="444" width="3" height="3" fill="#00ff95"/><rect x="544" y="444" width="3" height="3" fill="#00ff90"/><rect x="547" y="444" width="3" height="3" fill="#00ff8b"/><rect x="550" y="444" width="3" height="3" fill="#00ff85"/><rect x="553" y="444" width="3" height="3" fill="#00ff7e"/><rect x="556" y="444" width="3" height="3" fill="#00ff76"/><rect x="559" y="444" width="3" height="3" fill="#00ff6d"/><rect x="562" y="444" width="3" height="3" fill="#00ff63"/><rect x="565" y="444" width="3" height="3" fill="#00ff57"/><rect x="568" y="444" width="3" height="3" fill="#00ff47"/><rect x="571" y="444" width="3" height="3" fill="#00ff33"/><rect x="574" y="444" width="3" height="3" fill="#00ff0e"/><rect x="577" y="444" width="3" height="3" fill="#2dff00"/><rect x="580" y="444" width="3" height="3" fill="#47ff00"/><rect x="514" y="447" width="3" height="3" fill="#00ffb5"/><rect x="517" y="447" width="3" height="3" fill="#00ffb3"/><rect x="520" y="447" width="3" height="3" fill="#00ffb1"/><rect x="523" y="447" width="3" height="3" fill="#00ffae"/><rect x="526" y="447" width="3" height="3" fill="#00ffab"/><rect x="529" y="447" width="3" height="3" fill="#00ffa8"/><rect x="532" y="447" width="3" height="3" fill="#00ffa4"/><rect x="535" y="447" width="3" height="3" fill="#00ffa0"/><rect x="538" y="447" width="3" height="3" fill="#00ff9c"/><rect x="541" y="447" width="3" height="3" fill="#00ff98"/><rect x="544" y="447" width="3" height="3" fill="#00ff93"/><rect x="547" y="447" width="3" height="3" fill="#00ff8e"/><rect x="550" y="447" width="3" height="3" fill="#00ff88"/><rect x="553" y="447" width="3" height="3" fill="#00ff81"/><rect x="556" y="447" width="3" height="3" fill="#00ff79"/><rect x="559" y="447" width="3" height="3" fill="#00ff70"/><rect x="562" y="447" width="3" height="3" fill="#00ff66"/><rect x="565" y="447" width="3" height="3" fill="#00ff59"/><rect x="568" y="447" width="3" height="3" fill="#00ff4a"/><rect x="571" y="447" width="3" height="3" fill="#00ff35"/><rect x="574" y="447" width="3" height="3" fill="#00ff12"/><rect x="577" y="447" width="3" height="3" fill="#2dff00"/><rect x="580" y="447" width="3" height="3" fill="#48ff00"/><rect x="583" y="447" width="3" height="3" fill="#5dff00"/><rect x="514" y="450" width="3" height="3" fill="#00ffb8"/><rect x="517" y="450" width="3" height="3" fill="#00ffb5"/><rect x="520" y="450" width="3" height="3" fill="#00ffb3"/><rect x="523" y="450" width="3" height="3" fill="#00ffb0"/><rect x="526" y="450" width="3" height="3" fill="#00ffad"/><rect x="529" y="450" width="3" height="3" fill="#00ffaa"/><rect x="532" y="450" width="3" height="3" fill="#00ffa7"/><rect x="535" y="450" width="3" height="3" fill="#00ffa3"/><rect x="538" y="450" width="3" height="3" fill="#00ff9f"/><rect x="541" y="450" width="3" height="3" fill="#00ff9b"/><rect x="544" y="450" width="3" height="3" fill="#00ff96"/><rect x="547" y="450" width="3" height="3" fill="#00ff90"/><rect x="550" y="450" width="3" height="3" fill="#00ff8a"/><rect x="553" y="450" width="3" height="3" fill="#00ff84"/><rect x="556" y="450" width="3" height="3" fill="#00ff7c"/><rect x="559" y="450" width="3" height="3" fill="#00ff73"/><rect x="562" y="450" width="3" height="3" fill="#00ff69"/><rect x="565" y="450" width="3" height="3" fill="#00ff5c"/><rect x="568" y="450" width="3" height="3" fill="#00ff4d"/><rect x="571" y="450" width="3" height="3" fill="#00ff38"/><rect x="574" y="450" width="3" height="3" fill="#00ff16"/><rect x="577" y="450" width="3" height="3" fill="#2cff00"/><rect x="580" y="450" width="3" height="3" fill="#48ff00"/><rect x="583" y="450" width="3" height="3" fill="#5eff00"/><rect x="586" y="450" width="3" height="3" fill="#71ff00"/><rect x="514" y="453" width="3" height="3" fill="#00ffba"/><rect x="517" y="453" width="3" height="3" fill="#00ffb8"/><rect x="520" y="453" width="3" height="3" fill="#00ffb5"/><rect x="523" y="453" width="3" height="3" fill="#00ffb3"/><rect x="526" y="453" width="3" height="3" fill="#00ffb0"/><rect x="529" y="453" width="3" height="3" fill="#00ffad"/><rect x="532" y="453" width="3" height="3" fill="#00ffaa"/><rect x="535" y="453" width="3" height="3" fill="#00ffa6"/><rect x="538" y="453" width="3" height="3" fill="#00ffa2"/><rect x="541" y="453" width="3" height="3" fill="#00ff9e"/><rect x="544" y="453" width="3" height="3" fill="#00ff99"/><rect x="547" y="453" width="3" height="3" fill="#00ff93"/><rect x="550" y="453" width="3" height="3" fill="#00ff8d"/><rect x="553" y="453" width="3" height="3" fill="#00ff87"/><rect x="556" y="453" width="3" height="3" fill="#00ff7f"/><rect x="559" y="453" width="3" height="3" fill="#00ff76"/><rect x="562" y="453" width="3" height="3" fill="#00ff6c"/><rect x="565" y="453" width="3" height="3" fill="#00ff5f"/><rect x="568" y="453" width="3" height="3" fill="#00ff4f"/><rect x="571" y="453" width="3" height="3" fill="#00ff3b"/><rect x="574" y="453" width="3" height="3" fill="#00ff19"/><rect x="577" y="453" width="3" height="3" fill="#2cff00"/><rect x="580" y="453" width="3" height="3" fill="#49ff00"/><rect x="583" y="453" width="3" height="3" fill="#60ff00"/><rect x="586" y="453" width="3" height="3" fill="#73ff00"/><rect x="589" y="453" width="3" height="3" fill="#85ff00"/><rect x="592" y="453" width="3" height="3" fill="#95ff00"/><rect x="514" y="456" width="3" height="3" fill="#00ffbd"/><rect x="517" y="456" width="3" height="3" fill="#00ffba"/><rect x="520" y="456" width="3" height="3" fill="#00ffb8"/><rect x="523" y="456" width="3" height="3" fill="#00ffb5"/><rect x="526" y="456" width="3" height="3" fill="#00ffb3"/><rect x="529" y="456" width="3" height="3" fill="#00ffb0"/><rect x="532" y="456" width="3" height="3" fill="#00ffac"/><rect x="535" y="456" width="3" height="3" fill="#00ffa9"/><rect x="538" y="456" width="3" height="3" fill="#00ffa5"/><rect x="541" y="456" width="3" height="3" fill="#00ffa0"/><rect x="544" y="456" width="3" height="3" fill="#00ff9c"/><rect x="547" y="456" width="3" height="3" fill="#00ff96"/><rect x="550" y="456" width="3" height="3" fill="#00ff90"/><rect x="553" y="456" width="3" height="3" fill="#00ff8a"/><rect x="556" y="456" width="3" height="3" fill="#00ff82"/><rect x="559" y="456" width="3" height="3" fill="#00ff79"/><rect x="562" y="456" width="3" height="3" fill="#00ff6f"/><rect x="565" y="456" width="3" height="3" fill="#00ff62"/><rect x="568" y="456" width="3" height="3" fill="#00ff53"/><rect x="571" y="456" width="3" height="3" fill="#00ff3e"/><rect x="574" y="456" width="3" height="3" fill="#00ff1d"/><rect x="577" y="456" width="3" height="3" fill="#2bff00"/><rect x="580" y="456" width="3" height="3" fill="#4aff00"/><rect x="583" y="456" width="3" height="3" fill="#62ff00"/><rect x="586" y="456" width="3" height="3" fill="#76ff00"/><rect x="589" y="456" width="3" height="3" fill="#88ff00"/><rect x="592" y="456" width="3" height="3" fill="#99ff00"/><rect x="595" y="456" width="3" height="3" fill="#a8ff00"/><rect x="514" y="459" width="3" height="3" fill="#00ffbf"/><rect x="517" y="459" width="3" height="3" fill="#00ffbd"/><rect x="520" y="459" width="3" height="3" fill="#00ffbb"/><rect x="523" y="459" width="3" height="3" fill="#00ffb8"/><rect x="526" y="459" width="3" height="3" fill="#00ffb5"/><rect x="529" y="459" width="3" height="3" fill="#00ffb2"/><rect x="532" y="459" width="3" height="3" fill="#00ffaf"/><rect x="535" y="459" width="3" height="3" fill="#00ffac"/><rect x="538" y="459" width="3" height="3" fill="#00ffa8"/><rect x="541" y="459" width="3" height="3" fill="#00ffa4"/><rect x="544" y="459" width="3" height="3" fill="#00ff9f"/><rect x="547" y="459" width="3" height="3" fill="#00ff9a"/><rect x="550" y="459" width="3" height="3" fill="#00ff94"/><rect x="553" y="459" width="3" height="3" fill="#00ff8d"/><rect x="556" y="459" width="3" height="3" fill="#00ff85"/><rect x="559" y="459" width="3" height="3" fill="#00ff7d"/><rect x="562" y="459" width="3" height="3" fill="#00ff72"/><rect x="565" y="459" width="3" height="3" fill="#00ff66"/><rect x="568" y="459" width="3" height="3" fill="#00ff56"/><rect x="571" y="459" width="3" height="3" fill="#00ff41"/><rect x="574" y="459" width="3" height="3" fill="#00ff20"/><rect x="577" y="459" width="3" height="3" fill="#2aff00"/><rect x="580" y="459" width="3" height="3" fill="#4bff00"/><rect x="583" y="459" width="3" height="3" fill="#64ff00"/><rect x="586" y="459" width="3" height="3" fill="#79ff00"/><rect x="589" y="459" width="3" height="3" fill="#8cff00"/><rect x="592" y="459" width="3" height="3" fill="#9dff00"/><rect x="595" y="459" width="3" height="3" fill="#adff00"/><rect x="598" y="459" width="3" height="3" fill="#bcff00"/><rect x="514" y="462" width="3" height="3" fill="#00ffc2"/><rect x="517" y="462" width="3" height="3" fill="#00ffc0"/><rect x="520" y="462" width="3" height="3" fill="#00ffbd"/><rect x="523" y="462" width="3" height="3" fill="#00ffbb"/><rect x="526" y="462" width="3" height="3" fill="#00ffb8"/><rect x="529" y="462" width="3" height="3" fill="#00ffb5"/><rect x="532" y="462" width="3" height="3" fill="#00ffb2"/><rect x="535" y="462" width="3" height="3" fill="#00ffaf"/><rect x="538" y="462" width="3" height="3" fill="#00ffab"/><rect x="541" y="462" width="3" height="3" fill="#00ffa7"/><rect x="544" y="462" width="3" height="3" fill="#00ffa2"/><rect x="547" y="462" width="3" height="3" fill="#00ff9d"/><rect x="550" y="462" width="3" height="3" fill="#00ff97"/><rect x="553" y="462" width="3" height="3" fill="#00ff91"/><rect x="556" y="462" width="3" height="3" fill="#00ff89"/><rect x="559" y="462" width="3" height="3" fill="#00ff80"/><rect x="562" y="462" width="3" height="3" fill="#00ff76"/><rect x="565" y="462" width="3" height="3" fill="#00ff69"/><rect x="568" y="462" width="3" height="3" fill="#00ff59"/><rect x="571" y="462" width="3" height="3" fill="#00ff44"/><rect x="574" y="462" width="3" height="3" fill="#00ff24"/><rect x="577" y="462" width="3" height="3" fill="#2aff00"/><rect x="580" y="462" width="3" height="3" fill="#4cff00"/><rect x="583" y="462" width="3" height="3" fill="#66ff00"/><rect x="586" y="462" width="3" height="3" fill="#7cff00"/><rect x="589" y="462" width="3" height="3" fill="#90ff00"/><rect x="592" y="462" width="3" height="3" fill="#a2ff00"/><rect x="595" y="462" width="3" height="3" fill="#b2ff00"/><rect x="598" y="462" width="3" height="3" fill="#c2ff00"/><rect x="601" y="462" width="3" height="3" fill="#d0ff00"/><rect x="514" y="465" width="3" height="3" fill="#00ffc5"/><rect x="517" y="465" width="3" height="3" fill="#00ffc3"/><rect x="520" y="465" width="3" height="3" fill="#00ffc0"/><rect x="523" y="465" width="3" height="3" fill="#00ffbe"/><rect x="526" y="465" width="3" height="3" fill="#00ffbb"/><rect x="529" y="465" width="3" height="3" fill="#00ffb8"/><rect x="532" y="465" width="3" height="3" fill="#00ffb5"/><rect x="535" y="465" width="3" height="3" fill="#00ffb2"/><rect x="538" y="465" width="3" height="3" fill="#00ffae"/><rect x="541" y="465" width="3" height="3" fill="#00ffaa"/><rect x="544" y="465" width="3" height="3" fill="#00ffa6"/><rect x="547" y="465" width="3" height="3" fill="#00ffa1"/><rect x="550" y="465" width="3" height="3" fill="#00ff9b"/><rect x="553" y="465" width="3" height="3" fill="#00ff94"/><rect x="556" y="465" width="3" height="3" fill="#00ff8d"/><rect x="559" y="465" width="3" height="3" fill="#00ff84"/><rect x="562" y="465" width="3" height="3" fill="#00ff7a"/><rect x="565" y="465" width="3" height="3" fill="#00ff6d"/><rect x="568" y="465" width="3" height="3" fill="#00ff5d"/><rect x="571" y="465" width="3" height="3" fill="#00ff48"/><rect x="574" y="465" width="3" height="3" fill="#00ff27"/><rect x="577" y="465" width="3" height="3" fill="#2dff10"/><rect x="580" y="465" width="3" height="3" fill="#4eff00"/><rect x="583" y="465" width="3" height="3" fill="#69ff00"/><rect x="586" y="465" width="3" height="3" fill="#80ff00"/><rect x="589" y="465" width="3" height="3" fill="#94ff00"/><rect x="592" y="465" width="3" height="3" fill="#a7ff00"/><rect x="595" y="465" width="3" height="3" fill="#b8ff00"/><rect x="598" y="465" width="3" height="3" fill="#c8ff00"/><rect x="601" y="465" width="3" height="3" fill="#d7ff00"/><rect x="604" y="465" width="3" height="3" fill="#e6ff00"/><rect x="514" y="468" width="3" height="3" fill="#00ffc7"/><rect x="517" y="468" width="3" height="3" fill="#00ffc5"/><rect x="520" y="468" width="3" height="3" fill="#00ffc3"/><rect x="523" y="468" width="3" height="3" fill="#00ffc1"/><rect x="526" y="468" width="3" height="3" fill="#00ffbe"/><rect x="529" y="468" width="3" height="3" fill="#00ffbc"/><rect x="532" y="468" width="3" height="3" fill="#00ffb9"/><rect x="535" y="468" width="3" height="3" fill="#00ffb5"/><rect x="538" y="468" width="3" height="3" fill="#00ffb2"/><rect x="541" y="468" width="3" height="3" fill="#00ffae"/><rect x="544" y="468" width="3" height="3" fill="#00ffa9"/><rect x="547" y="468" width="3" height="3" fill="#00ffa4"/><rect x="550" y="468" width="3" height="3" fill="#00ff9f"/><rect x="553" y="468" width="3" height="3" fill="#00ff98"/><rect x="556" y="468" width="3" height="3" fill="#00ff91"/><rect x="559" y="468" width="3" height="3" fill="#00ff88"/><rect x="562" y="468" width="3" height="3" fill="#00ff7e"/><rect x="565" y="468" width="3" height="3" fill="#00ff71"/><rect x="568" y="468" width="3" height="3" fill="#00ff61"/><rect x="571" y="468" width="3" height="3" fill="#00ff4c"/><rect x="574" y="468" width="3" height="3" fill="#0cff2e"/><rect x="577" y="468" width="3" height="3" fill="#39ff24"/><rect x="580" y="468" width="3" height="3" fill="#54ff18"/><rect x="583" y="468" width="3" height="3" fill="#6cff00"/><rect x="586" y="468" width="3" height="3" fill="#84ff00"/><rect x="589" y="468" width="3" height="3" fill="#99ff00"/><rect x="592" y="468" width="3" height="3" fill="#acff00"/><rect x="595" y="468" width="3" height="3" fill="#beff00"/><rect x="598" y="468" width="3" height="3" fill="#cfff00"/><rect x="601" y="468" width="3" height="3" fill="#dfff00"/><rect x="604" y="468" width="3" height="3" fill="#efff00"/><rect x="607" y="468" width="3" height="3" fill="#fdff00"/><rect x="514" y="471" width="3" height="3" fill="#00ffca"/><rect x="517" y="471" width="3" height="3" fill="#00ffc8"/><rect x="520" y="471" width="3" height="3" fill="#00ffc6"/><rect x="523" y="471" width="3" height="3" fill="#00ffc4"/><rect x="526" y="471" width="3" height="3" fill="#00ffc2"/><rect x="529" y="471" width="3" height="3" fill="#00ffbf"/><rect x="532" y="471" width="3" height="3" fill="#00ffbc"/><rect x="535" y="471" width="3" height="3" fill="#00ffb9"/><rect x="538" y="471" width="3" height="3" fill="#00ffb5"/><rect x="541" y="471" width="3" height="3" fill="#00ffb1"/><rect x="544" y="471" width="3" height="3" fill="#00ffad"/><rect x="547" y="471" width="3" height="3" fill="#00ffa8"/><rect x="550" y="471" width="3" height="3" fill="#00ffa3"/><rect x="553" y="471" width="3" height="3" fill="#00ff9c"/><rect x="556" y="471" width="3" height="3" fill="#00ff95"/><rect x="559" y="471" width="3" height="3" fill="#00ff8c"/><rect x="562" y="471" width="3" height="3" fill="#00ff82"/><rect x="565" y="471" width="3" height="3" fill="#00ff75"/><rect x="568" y="471" width="3" height="3" fill="#00ff65"/><rect x="571" y="471" width="3" height="3" fill="#00ff50"/><rect x="574" y="471" width="3" height="3" fill="#20ff3c"/><rect x="577" y="471" width="3" height="3" fill="#43ff34"/><rect x="580" y="471" width="3" height="3" fill="#5eff2a"/><rect x="583" y="471" width="3" height="3" fill="#74ff1f"/><rect x="586" y="471" width="3" height="3" fill="#89ff0e"/><rect x="589" y="471" width="3" height="3" fill="#9fff00"/><rect x="592" y="471" width="3" height="3" fill="#b3ff00"/><rect x="595" y="471" width="3" height="3" fill="#c6ff00"/><rect x="598" y="471" width="3" height="3" fill="#d7ff00"/><rect x="601" y="471" width="3" height="3" fill="#e8ff00"/><rect x="604" y="471" width="3" height="3" fill="#f8ff00"/><rect x="607" y="471" width="3" height="3" fill="#fff700"/><rect x="610" y="471" width="3" height="3" fill="#ffea00"/><rect x="514" y="474" width="3" height="3" fill="#00ffcd"/><rect x="517" y="474" width="3" height="3" fill="#00ffcc"/><rect x="520" y="474" width="3" height="3" fill="#00ffca"/><rect x="523" y="474" width="3" height="3" fill="#00ffc7"/><rect x="526" y="474" width="3" height="3" fill="#00ffc5"/><rect x="529" y="474" width="3" height="3" fill="#00ffc2"/><rect x="532" y="474" width="3" height="3" fill="#00ffc0"/><rect x="535" y="474" width="3" height="3" fill="#00ffbd"/><rect x="538" y="474" width="3" height="3" fill="#00ffb9"/><rect x="541" y="474" width="3" height="3" fill="#00ffb5"/><rect x="544" y="474" width="3" height="3" fill="#00ffb1"/><rect x="547" y="474" width="3" height="3" fill="#00ffac"/><rect x="550" y="474" width="3" height="3" fill="#00ffa7"/><rect x="553" y="474" width="3" height="3" fill="#00ffa1"/><rect x="556" y="474" width="3" height="3" fill="#00ff99"/><rect x="559" y="474" width="3" height="3" fill="#00ff91"/><rect x="562" y="474" width="3" height="3" fill="#00ff87"/><rect x="565" y="474" width="3" height="3" fill="#00ff7a"/><rect x="568" y="474" width="3" height="3" fill="#00ff6a"/><rect x="571" y="474" width="3" height="3" fill="#00ff55"/><rect x="574" y="474" width="3" height="3" fill="#2eff48"/><rect x="577" y="474" width="3" height="3" fill="#4eff41"/><rect x="580" y="474" width="3" height="3" fill="#67ff3a"/><rect x="583" y="474" width="3" height="3" fill="#7eff31"/><rect x="586" y="474" width="3" height="3" fill="#93ff26"/><rect x="589" y="474" width="3" height="3" fill="#a7ff17"/><rect x="592" y="474" width="3" height="3" fill="#baff00"/><rect x="595" y="474" width="3" height="3" fill="#ceff00"/><rect x="598" y="474" width="3" height="3" fill="#e1ff00"/><rect x="601" y="474" width="3" height="3" fill="#f2ff00"/><rect x="604" y="474" width="3" height="3" fill="#fffb00"/><rect x="607" y="474" width="3" height="3" fill="#ffed00"/><rect x="610" y="474" width="3" height="3" fill="#ffe000"/><rect x="613" y="474" width="3" height="3" fill="#ffd500"/><rect x="616" y="474" width="3" height="3" fill="#ffcc00"/><rect x="514" y="477" width="3" height="3" fill="#00ffd1"/><rect x="517" y="477" width="3" height="3" fill="#00ffcf"/><rect x="520" y="477" width="3" height="3" fill="#00ffcd"/><rect x="523" y="477" width="3" height="3" fill="#00ffcb"/><rect x="526" y="477" width="3" height="3" fill="#00ffc9"/><rect x="529" y="477" width="3" height="3" fill="#00ffc6"/><rect x="532" y="477" width="3" height="3" fill="#00ffc3"/><rect x="535" y="477" width="3" height="3" fill="#00ffc0"/><rect x="538" y="477" width="3" height="3" fill="#00ffbd"/><rect x="541" y="477" width="3" height="3" fill="#00ffb9"/><rect x="544" y="477" width="3" height="3" fill="#00ffb5"/><rect x="547" y="477" width="3" height="3" fill="#00ffb1"/><rect x="550" y="477" width="3" height="3" fill="#00ffab"/><rect x="553" y="477" width="3" height="3" fill="#00ffa5"/><rect x="556" y="477" width="3" height="3" fill="#00ff9e"/><rect x="559" y="477" width="3" height="3" fill="#00ff96"/><rect x="562" y="477" width="3" height="3" fill="#00ff8c"/><rect x="565" y="477" width="3" height="3" fill="#00ff7f"/><rect x="568" y="477" width="3" height="3" fill="#00ff6f"/><rect x="571" y="477" width="3" height="3" fill="#06ff5a"/><rect x="574" y="477" width="3" height="3" fill="#3aff54"/><rect x="577" y="477" width="3" height="3" fill="#58ff4e"/><rect x="580" y="477" width="3" height="3" fill="#71ff47"/><rect x="583" y="477" width="3" height="3" fill="#88ff40"/><rect x="586" y="477" width="3" height="3" fill="#9dff37"/><rect x="589" y="477" width="3" height="3" fill="#b1ff2d"/><rect x="592" y="477" width="3" height="3" fill="#c4ff1f"/><rect x="595" y="477" width="3" height="3" fill="#d8ff0a"/><rect x="598" y="477" width="3" height="3" fill="#ebff00"/><rect x="601" y="477" width="3" height="3" fill="#fdff00"/><rect x="604" y="477" width="3" height="3" fill="#fff000"/><rect x="607" y="477" width="3" height="3" fill="#ffe200"/><rect x="610" y="477" width="3" height="3" fill="#ffd600"/><rect x="613" y="477" width="3" height="3" fill="#ffcb00"/><rect x="616" y="477" width="3" height="3" fill="#ffc200"/><rect x="619" y="477" width="3" height="3" fill="#ffba00"/><rect x="514" y="480" width="3" height="3" fill="#00ffd4"/><rect x="517" y="480" width="3" height="3" fill="#00ffd2"/><rect x="520" y="480" width="3" height="3" fill="#00ffd0"/><rect x="523" y="480" width="3" height="3" fill="#00ffce"/><rect x="526" y="480" width="3" height="3" fill="#00ffcc"/><rect x="529" y="480" width="3" height="3" fill="#00ffca"/><rect x="532" y="480" width="3" height="3" fill="#00ffc7"/><rect x="535" y="480" width="3" height="3" fill="#00ffc4"/><rect x="538" y="480" width="3" height="3" fill="#00ffc1"/><rect x="541" y="480" width="3" height="3" fill="#00ffbe"/><rect x="544" y="480" width="3" height="3" fill="#00ffba"/><rect x="547" y="480" width="3" height="3" fill="#00ffb5"/><rect x="550" y="480" width="3" height="3" fill="#00ffb0"/><rect x="553" y="480" width="3" height="3" fill="#00ffaa"/><rect x="556" y="480" width="3" height="3" fill="#00ffa3"/><rect x="559" y="480" width="3" height="3" fill="#00ff9b"/><rect x="562" y="480" width="3" height="3" fill="#00ff91"/><rect x="565" y="480" width="3" height="3" fill="#00ff85"/><rect x="568" y="480" width="3" height="3" fill="#00ff75"/><rect x="571" y="480" width="3" height="3" fill="#1eff65"/><rect x="574" y="480" width="3" height="3" fill="#46ff60"/><rect x="577" y="480" width="3" height="3" fill="#63ff5b"/><rect x="580" y="480" width="3" height="3" fill="#7bff55"/><rect x="583" y="480" width="3" height="3" fill="#92ff4e"/><rect x="586" y="480" width="3" height="3" fill="#a7ff46"/><rect x="589" y="480" width="3" height="3" fill="#bcff3e"/><rect x="592" y="480" width="3" height="3" fill="#d0ff34"/><rect x="595" y="480" width="3" height="3" fill="#e3ff27"/><rect x="598" y="480" width="3" height="3" fill="#f7ff16"/><rect x="601" y="480" width="3" height="3" fill="#fff400"/><rect x="604" y="480" width="3" height="3" fill="#ffe400"/><rect x="607" y="480" width="3" height="3" fill="#ffd700"/><rect x="610" y="480" width="3" height="3" fill="#ffcb00"/><rect x="613" y="480" width="3" height="3" fill="#ffc100"/><rect x="616" y="480" width="3" height="3" fill="#ffb900"/><rect x="619" y="480" width="3" height="3" fill="#ffb100"/><rect x="622" y="480" width="3" height="3" fill="#ffaa00"/><rect x="514" y="483" width="3" height="3" fill="#00ffd7"/><rect x="517" y="483" width="3" height="3" fill="#00ffd6"/><rect x="520" y="483" width="3" height="3" fill="#00ffd4"/><rect x="523" y="483" width="3" height="3" fill="#00ffd2"/><rect x="526" y="483" width="3" height="3" fill="#00ffd0"/><rect x="529" y="483" width="3" height="3" fill="#00ffce"/><rect x="532" y="483" width="3" height="3" fill="#00ffcb"/><rect x="535" y="483" width="3" height="3" fill="#00ffc9"/><rect x="538" y="483" width="3" height="3" fill="#00ffc6"/><rect x="541" y="483" width="3" height="3" fill="#00ffc2"/><rect x="544" y="483" width="3" height="3" fill="#00ffbe"/><rect x="547" y="483" width="3" height="3" fill="#00ffba"/><rect x="550" y="483" width="3" height="3" fill="#00ffb5"/><rect x="553" y="483" width="3" height="3" fill="#00ffaf"/><rect x="556" y="483" width="3" height="3" fill="#00ffa9"/><rect x="559" y="483" width="3" height="3" fill="#00ffa1"/><rect x="562" y="483" width="3" height="3" fill="#00ff97"/><rect x="565" y="483" width="3" height="3" fill="#00ff8b"/><rect x="568" y="483" width="3" height="3" fill="#00ff7b"/><rect x="571" y="483" width="3" height="3" fill="#2eff71"/><rect x="574" y="483" width="3" height="3" fill="#51ff6c"/><rect x="577" y="483" width="3" height="3" fill="#6dff67"/><rect x="580" y="483" width="3" height="3" fill="#86ff62"/><rect x="583" y="483" width="3" height="3" fill="#9dff5c"/><rect x="586" y="483" width="3" height="3" fill="#b2ff55"/><rect x="589" y="483" width="3" height="3" fill="#c7ff4e"/><rect x="592" y="483" width="3" height="3" fill="#dcff45"/><rect x="595" y="483" width="3" height="3" fill="#f0ff3b"/><rect x="598" y="483" width="3" height="3" fill="#fffa2e"/><rect x="601" y="483" width="3" height="3" fill="#ffe71d"/><rect x="604" y="483" width="3" height="3" fill="#ffd800"/><rect x="607" y="483" width="3" height="3" fill="#ffcb00"/><rect x="610" y="483" width="3" height="3" fill="#ffc000"/><rect x="613" y="483" width="3" height="3" fill="#ffb700"/><rect x="616" y="483" width="3" height="3" fill="#ffae00"/><rect x="619" y="483" width="3" height="3" fill="#ffa700"/><rect x="622" y="483" width="3" height="3" fill="#ffa000"/><rect x="625" y="483" width="3" height="3" fill="#ff9a00"/><rect x="514" y="486" width="3" height="3" fill="#00ffdb"/><rect x="517" y="486" width="3" height="3" fill="#00ffd9"/><rect x="520" y="486" width="3" height="3" fill="#00ffd8"/><rect x="523" y="486" width="3" height="3" fill="#00ffd6"/><rect x="526" y="486" width="3" height="3" fill="#00ffd4"/><rect x="529" y="486" width="3" height="3" fill="#00ffd2"/><rect x="532" y="486" width="3" height="3" fill="#00ffd0"/><rect x="535" y="486" width="3" height="3" fill="#00ffcd"/><rect x="538" y="486" width="3" height="3" fill="#00ffca"/><rect x="541" y="486" width="3" height="3" fill="#00ffc7"/><rect x="544" y="486" width="3" height="3" fill="#00ffc3"/><rect x="547" y="486" width="3" height="3" fill="#00ffbf"/><rect x="550" y="486" width="3" height="3" fill="#00ffbb"/><rect x="553" y="486" width="3" height="3" fill="#00ffb5"/><rect x="556" y="486" width="3" height="3" fill="#00ffaf"/><rect x="559" y="486" width="3" height="3" fill="#00ffa7"/><rect x="562" y="486" width="3" height="3" fill="#00ff9d"/><rect x="565" y="486" width="3" height="3" fill="#00ff91"/><rect x="568" y="486" width="3" height="3" fill="#00ff82"/><rect x="571" y="486" width="3" height="3" fill="#3cff7d"/><rect x="574" y="486" width="3" height="3" fill="#5dff79"/><rect x="577" y="486" width="3" height="3" fill="#78ff74"/><rect x="580" y="486" width="3" height="3" fill="#91ff6f"/><rect x="583" y="486" width="3" height="3" fill="#a8ff6a"/><rect x="586" y="486" width="3" height="3" fill="#beff64"/><rect x="589" y="486" width="3" height="3" fill="#d4ff5d"/><rect x="592" y="486" width="3" height="3" fill="#e9ff56"/><rect x="595" y="486" width="3" height="3" fill="#feff4d"/><rect x="598" y="486" width="3" height="3" fill="#ffec3f"/><rect x="601" y="486" width="3" height="3" fill="#ffdb30"/><rect x="604" y="486" width="3" height="3" fill="#ffcc21"/><rect x="607" y="486" width="3" height="3" fill="#ffbf10"/><rect x="610" y="486" width="3" height="3" fill="#ffb400"/><rect x="613" y="486" width="3" height="3" fill="#ffab00"/><rect x="616" y="486" width="3" height="3" fill="#ffa300"/><rect x="619" y="486" width="3" height="3" fill="#ff9d00"/><rect x="622" y="486" width="3" height="3" fill="#ff9600"/><rect x="625" y="486" width="3" height="3" fill="#ff9100"/><rect x="628" y="486" width="3" height="3" fill="#ff8c00"/><rect x="514" y="489" width="3" height="3" fill="#00ffde"/><rect x="517" y="489" width="3" height="3" fill="#00ffdd"/><rect x="520" y="489" width="3" height="3" fill="#00ffdb"/><rect x="523" y="489" width="3" height="3" fill="#00ffda"/><rect x="526" y="489" width="3" height="3" fill="#00ffd8"/><rect x="529" y="489" width="3" height="3" fill="#00ffd6"/><rect x="532" y="489" width="3" height="3" fill="#00ffd4"/><rect x="535" y="489" width="3" height="3" fill="#00ffd2"/><rect x="538" y="489" width="3" height="3" fill="#00ffcf"/><rect x="541" y="489" width="3" height="3" fill="#00ffcc"/><rect x="544" y="489" width="3" height="3" fill="#00ffc9"/><rect x="547" y="489" width="3" height="3" fill="#00ffc5"/><rect x="550" y="489" width="3" height="3" fill="#00ffc0"/><rect x="553" y="489" width="3" height="3" fill="#00ffbb"/><rect x="556" y="489" width="3" height="3" fill="#00ffb5"/><rect x="559" y="489" width="3" height="3" fill="#00ffae"/><rect x="562" y="489" width="3" height="3" fill="#00ffa4"/><rect x="565" y="489" width="3" height="3" fill="#00ff99"/><rect x="568" y="489" width="3" height="3" fill="#1dff8d"/><rect x="571" y="489" width="3" height="3" fill="#49ff89"/><rect x="574" y="489" width="3" height="3" fill="#68ff85"/><rect x="577" y="489" width="3" height="3" fill="#83ff81"/><rect x="580" y="489" width="3" height="3" fill="#9cff7d"/><rect x="583" y="489" width="3" height="3" fill="#b4ff78"/><rect x="586" y="489" width="3" height="3" fill="#cbff72"/><rect x="589" y="489" width="3" height="3" fill="#e1ff6c"/><rect x="592" y="489" width="3" height="3" fill="#f7ff66"/><rect x="595" y="489" width="3" height="3" fill="#fff259"/><rect x="598" y="489" width="3" height="3" fill="#ffdf4b"/><rect x="601" y="489" width="3" height="3" fill="#ffcf3e"/><rect x="604" y="489" width="3" height="3" fill="#ffc132"/><rect x="607" y="489" width="3" height="3" fill="#ffb525"/><rect x="610" y="489" width="3" height="3" fill="#ffa916"/><rect x="613" y="489" width="3" height="3" fill="#ff9f00"/><rect x="616" y="489" width="3" height="3" fill="#ff9800"/><rect x="619" y="489" width="3" height="3" fill="#ff9200"/><rect x="622" y="489" width="3" height="3" fill="#ff8c00"/><rect x="625" y="489" width="3" height="3" fill="#ff8700"/><rect x="628" y="489" width="3" height="3" fill="#ff8200"/><rect x="631" y="489" width="3" height="3" fill="#ff7e00"/><rect x="517" y="492" width="3" height="3" fill="#00ffe1"/><rect x="520" y="492" width="3" height="3" fill="#00ffe0"/><rect x="523" y="492" width="3" height="3" fill="#00ffde"/><rect x="526" y="492" width="3" height="3" fill="#00ffdd"/><rect x="529" y="492" width="3" height="3" fill="#00ffdb"/><rect x="532" y="492" width="3" height="3" fill="#00ffd9"/><rect x="535" y="492" width="3" height="3" fill="#00ffd7"/><rect x="538" y="492" width="3" height="3" fill="#00ffd4"/><rect x="541" y="492" width="3" height="3" fill="#00ffd2"/><rect x="544" y="492" width="3" height="3" fill="#00ffce"/><rect x="547" y="492" width="3" height="3" fill="#00ffcb"/><rect x="550" y="492" width="3" height="3" fill="#00ffc7"/><rect x="553" y="492" width="3" height="3" fill="#00ffc2"/><rect x="556" y="492" width="3" height="3" fill="#00ffbc"/><rect x="559" y="492" width="3" height="3" fill="#00ffb5"/><rect x="562" y="492" width="3" height="3" fill="#00ffac"/><rect x="565" y="492" width="3" height="3" fill="#00ffa1"/><rect x="568" y="492" width="3" height="3" fill="#2fff99"/><rect x="571" y="492" width="3" height="3" fill="#56ff96"/><rect x="574" y="492" width="3" height="3" fill="#74ff92"/><rect x="577" y="492" width="3" height="3" fill="#8fff8f"/><rect x="580" y="492" width="3" height="3" fill="#a9ff8a"/><rect x="583" y="492" width="3" height="3" fill="#c1ff86"/><rect x="586" y="492" width="3" height="3" fill="#d8ff81"/><rect x="589" y="492" width="3" height="3" fill="#efff7c"/><rect x="592" y="492" width="3" height="3" fill="#fff873"/><rect x="595" y="492" width="3" height="3" fill="#ffe464"/><rect x="598" y="492" width="3" height="3" fill="#ffd356"/><rect x="601" y="492" width="3" height="3" fill="#ffc34a"/><rect x="604" y="492" width="3" height="3" fill="#ffb63e"/><rect x="607" y="492" width="3" height="3" fill="#ffaa33"/><rect x="610" y="492" width="3" height="3" fill="#ff9f27"/><rect x="613" y="492" width="3" height="3" fill="#ff961b"/><rect x="616" y="492" width="3" height="3" fill="#ff8c0a"/><rect x="619" y="492" width="3" height="3" fill="#ff8600"/><rect x="622" y="492" width="3" height="3" fill="#ff8100"/><rect x="625" y="492" width="3" height="3" fill="#ff7c00"/><rect x="628" y="492" width="3" height="3" fill="#ff7700"/><rect x="631" y="492" width="3" height="3" fill="#ff7300"/><rect x="634" y="492" width="3" height="3" fill="#ff7000"/><rect x="517" y="495" width="3" height="3" fill="#00ffe5"/><rect x="520" y="495" width="3" height="3" fill="#00ffe4"/><rect x="523" y="495" width="3" height="3" fill="#00ffe3"/><rect x="526" y="495" width="3" height="3" fill="#00ffe1"/><rect x="529" y="495" width="3" height="3" fill="#00ffe0"/><rect x="532" y="495" width="3" height="3" fill="#00ffde"/><rect x="535" y="495" width="3" height="3" fill="#00ffdc"/><rect x="538" y="495" width="3" height="3" fill="#00ffda"/><rect x="541" y="495" width="3" height="3" fill="#00ffd7"/><rect x="544" y="495" width="3" height="3" fill="#00ffd5"/><rect x="547" y="495" width="3" height="3" fill="#00ffd1"/><rect x="550" y="495" width="3" height="3" fill="#00ffcd"/><rect x="553" y="495" width="3" height="3" fill="#00ffc9"/><rect x="556" y="495" width="3" height="3" fill="#00ffc4"/><rect x="559" y="495" width="3" height="3" fill="#00ffbd"/><rect x="562" y="495" width="3" height="3" fill="#00ffb5"/><rect x="565" y="495" width="3" height="3" fill="#00ffaa"/><rect x="568" y="495" width="3" height="3" fill="#3fffa6"/><rect x="571" y="495" width="3" height="3" fill="#63ffa3"/><rect x="574" y="495" width="3" height="3" fill="#81ffa0"/><rect x="577" y="495" width="3" height="3" fill="#9cff9d"/><rect x="580" y="495" width="3" height="3" fill="#b6ff99"/><rect x="583" y="495" width="3" height="3" fill="#cfff95"/><rect x="586" y="495" width="3" height="3" fill="#e7ff91"/><rect x="589" y="495" width="3" height="3" fill="#ffff8c"/><rect x="592" y="495" width="3" height="3" fill="#ffe97b"/><rect x="595" y="495" width="3" height="3" fill="#ffd66d"/><rect x="598" y="495" width="3" height="3" fill="#ffc660"/><rect x="601" y="495" width="3" height="3" fill="#ffb854"/><rect x="604" y="495" width="3" height="3" fill="#ffab48"/><rect x="607" y="495" width="3" height="3" fill="#ffa03e"/><rect x="610" y="495" width="3" height="3" fill="#ff9534"/><rect x="613" y="495" width="3" height="3" fill="#ff8c29"/><rect x="616" y="495" width="3" height="3" fill="#ff831e"/><rect x="619" y="495" width="3" height="3" fill="#ff7b11"/><rect x="622" y="495" width="3" height="3" fill="#ff7500"/><rect x="625" y="495" width="3" height="3" fill="#ff7000"/><rect x="628" y="495" width="3" height="3" fill="#ff6c00"/><rect x="631" y="495" width="3" height="3" fill="#ff6900"/><rect x="634" y="495" width="3" height="3" fill="#ff6500"/><rect x="637" y="495" width="3" height="3" fill="#ff6200"/><rect x="640" y="495" width="3" height="3" fill="#ff5f00"/><rect x="517" y="498" width="3" height="3" fill="#00ffe9"/><rect x="520" y="498" width="3" height="3" fill="#00ffe8"/><rect x="523" y="498" width="3" height="3" fill="#00ffe7"/><rect x="526" y="498" width="3" height="3" fill="#00ffe6"/><rect x="529" y="498" width="3" height="3" fill="#00ffe5"/><rect x="532" y="498" width="3" height="3" fill="#00ffe3"/><rect x="535" y="498" width="3" height="3" fill="#00ffe1"/><rect x="538" y="498" width="3" height="3" fill="#00ffe0"/><rect x="541" y="498" width="3" height="3" fill="#00ffdd"/><rect x="544" y="498" width="3" height="3" fill="#00ffdb"/><rect x="547" y="498" width="3" height="3" fill="#00ffd8"/><rect x="550" y="498" width="3" height="3" fill="#00ffd5"/><rect x="553" y="498" width="3" height="3" fill="#00ffd1"/><rect x="556" y="498" width="3" height="3" fill="#00ffcc"/><rect x="559" y="498" width="3" height="3" fill="#00ffc6"/><rect x="562" y="498" width="3" height="3" fill="#00ffbf"/><rect x="565" y="498" width="3" height="3" fill="#1bffb6"/><rect x="568" y="498" width="3" height="3" fill="#4dffb4"/><rect x="571" y="498" width="3" height="3" fill="#70ffb2"/><rect x="574" y="498" width="3" height="3" fill="#8effaf"/><rect x="577" y="498" width="3" height="3" fill="#aaffac"/><rect x="580" y="498" width="3" height="3" fill="#c4ffa9"/><rect x="583" y="498" width="3" height="3" fill="#deffa5"/><rect x="586" y="498" width="3" height="3" fill="#f7ffa2"/><rect x="589" y="498" width="3" height="3" fill="#ffef94"/><rect x="592" y="498" width="3" height="3" fill="#ffda83"/><rect x="595" y="498" width="3" height="3" fill="#ffc975"/><rect x="598" y="498" width="3" height="3" fill="#ffba68"/><rect x="601" y="498" width="3" height="3" fill="#ffac5c"/><rect x="604" y="498" width="3" height="3" fill="#ffa051"/><rect x="607" y="498" width="3" height="3" fill="#ff9547"/><rect x="610" y="498" width="3" height="3" fill="#ff8b3e"/><rect x="613" y="498" width="3" height="3" fill="#ff8234"/><rect x="616" y="498" width="3" height="3" fill="#ff7a2b"/><rect x="619" y="498" width="3" height="3" fill="#ff7221"/><rect x="622" y="498" width="3" height="3" fill="#ff6b16"/><rect x="625" y="498" width="3" height="3" fill="#ff6405"/><rect x="628" y="498" width="3" height="3" fill="#ff6000"/><rect x="631" y="498" width="3" height="3" fill="#ff5d00"/><rect x="634" y="498" width="3" height="3" fill="#ff5a00"/><rect x="637" y="498" width="3" height="3" fill="#ff5700"/><rect x="640" y="498" width="3" height="3" fill="#ff5500"/><rect x="643" y="498" width="3" height="3" fill="#ff5200"/><rect x="517" y="501" width="3" height="3" fill="#00ffee"/><rect x="520" y="501" width="3" height="3" fill="#00ffed"/><rect x="523" y="501" width="3" height="3" fill="#00ffec"/><rect x="526" y="501" width="3" height="3" fill="#00ffeb"/><rect x="529" y="501" width="3" height="3" fill="#00ffea"/><rect x="532" y="501" width="3" height="3" fill="#00ffe9"/><rect x="535" y="501" width="3" height="3" fill="#00ffe7"/><rect x="538" y="501" width="3" height="3" fill="#00ffe6"/><rect x="541" y="501" width="3" height="3" fill="#00ffe4"/><rect x="544" y="501" width="3" height="3" fill="#00ffe2"/><rect x="547" y="501" width="3" height="3" fill="#00ffe0"/><rect x="550" y="501" width="3" height="3" fill="#00ffdd"/><rect x="553" y="501" width="3" height="3" fill="#00ffd9"/><rect x="556" y="501" width="3" height="3" fill="#00ffd5"/><rect x="559" y="501" width="3" height="3" fill="#00ffd0"/><rect x="562" y="501" width="3" height="3" fill="#00ffca"/><rect x="565" y="501" width="3" height="3" fill="#30ffc5"/><rect x="568" y="501" width="3" height="3" fill="#5cffc3"/><rect x="571" y="501" width="3" height="3" fill="#7effc1"/><rect x="574" y="501" width="3" height="3" fill="#9cffbe"/><rect x="577" y="501" width="3" height="3" fill="#b8ffbc"/><rect x="580" y="501" width="3" height="3" fill="#d3ffb9"/><rect x="583" y="501" width="3" height="3" fill="#eeffb7"/><rect x="586" y="501" width="3" height="3" fill="#fff6ad"/><rect x="589" y="501" width="3" height="3" fill="#ffdf9a"/><rect x="592" y="501" width="3" height="3" fill="#ffcc8a"/><rect x="595" y="501" width="3" height="3" fill="#ffbc7c"/><rect x="598" y="501" width="3" height="3" fill="#ffad6f"/><rect x="601" y="501" width="3" height="3" fill="#ffa164"/><rect x="604" y="501" width="3" height="3" fill="#ff9559"/><rect x="607" y="501" width="3" height="3" fill="#ff8b50"/><rect x="610" y="501" width="3" height="3" fill="#ff8146"/><rect x="613" y="501" width="3" height="3" fill="#ff793e"/><rect x="616" y="501" width="3" height="3" fill="#ff7135"/><rect x="619" y="501" width="3" height="3" fill="#ff692c"/><rect x="622" y="501" width="3" height="3" fill="#ff6223"/><rect x="625" y="501" width="3" height="3" fill="#ff5b19"/><rect x="628" y="501" width="3" height="3" fill="#ff540d"/><rect x="631" y="501" width="3" height="3" fill="#ff5000"/><rect x="634" y="501" width="3" height="3" fill="#ff4d00"/><rect x="637" y="501" width="3" height="3" fill="#ff4b00"/><rect x="640" y="501" width="3" height="3" fill="#ff4900"/><rect x="643" y="501" width="3" height="3" fill="#ff4700"/><rect x="646" y="501" width="3" height="3" fill="#ff4500"/><rect x="517" y="504" width="3" height="3" fill="#00fff2"/><rect x="520" y="504" width="3" height="3" fill="#00fff2"/><rect x="523" y="504" width="3" height="3" fill="#00fff1"/><rect x="526" y="504" width="3" height="3" fill="#00fff0"/><rect x="529" y="504" width="3" height="3" fill="#00fff0"/><rect x="532" y="504" width="3" height="3" fill="#00ffef"/><rect x="535" y="504" width="3" height="3" fill="#00ffee"/><rect x="538" y="504" width="3" height="3" fill="#00ffec"/><rect x="541" y="504" width="3" height="3" fill="#00ffeb"/><rect x="544" y="504" width="3" height="3" fill="#00ffea"/><rect x="547" y="504" width="3" height="3" fill="#00ffe8"/><rect x="550" y="504" width="3" height="3" fill="#00ffe6"/><rect x="553" y="504" width="3" height="3" fill="#00ffe3"/><rect x="556" y="504" width="3" height="3" fill="#00ffe0"/><rect x="559" y="504" width="3" height="3" fill="#00ffdc"/><rect x="562" y="504" width="3" height="3" fill="#00ffd6"/><rect x="565" y="504" width="3" height="3" fill="#42ffd4"/><rect x="568" y="504" width="3" height="3" fill="#6affd3"/><rect x="571" y="504" width="3" height="3" fill="#8cffd1"/><rect x="574" y="504" width="3" height="3" fill="#abffcf"/><rect x="577" y="504" width="3" height="3" fill="#c8ffcd"/><rect x="580" y="504" width="3" height="3" fill="#e4ffcb"/><rect x="583" y="504" width="3" height="3" fill="#fffec8"/><rect x="586" y="504" width="3" height="3" fill="#ffe5b2"/><rect x="589" y="504" width="3" height="3" fill="#ffd0a0"/><rect x="592" y="504" width="3" height="3" fill="#ffbe90"/><rect x="595" y="504" width="3" height="3" fill="#ffaf82"/><rect x="598" y="504" width="3" height="3" fill="#ffa176"/><rect x="601" y="504" width="3" height="3" fill="#ff956b"/><rect x="604" y="504" width="3" height="3" fill="#ff8a61"/><rect x="607" y="504" width="3" height="3" fill="#ff8057"/><rect x="610" y="504" width="3" height="3" fill="#ff774e"/><rect x="613" y="504" width="3" height="3" fill="#ff6f46"/><rect x="616" y="504" width="3" height="3" fill="#ff673d"/><rect x="619" y="504" width="3" height="3" fill="#ff5f35"/><rect x="622" y="504" width="3" height="3" fill="#ff582d"/><rect x="625" y="504" width="3" height="3" fill="#ff5225"/><rect x="628" y="504" width="3" height="3" fill="#ff4b1c"/><rect x="631" y="504" width="3" height="3" fill="#ff4512"/><rect x="634" y="504" width="3" height="3" fill="#ff3f00"/><rect x="637" y="504" width="3" height="3" fill="#ff3d00"/><rect x="640" y="504" width="3" height="3" fill="#ff3b00"/><rect x="643" y="504" width="3" height="3" fill="#ff3a00"/><rect x="646" y="504" width="3" height="3" fill="#ff3800"/><rect x="649" y="504" width="3" height="3" fill="#ff3700"/><rect x="517" y="507" width="3" height="3" fill="#00fff7"/><rect x="520" y="507" width="3" height="3" fill="#00fff7"/><rect x="523" y="507" width="3" height="3" fill="#00fff7"/><rect x="526" y="507" width="3" height="3" fill="#00fff6"/><rect x="529" y="507" width="3" height="3" fill="#00fff6"/><rect x="532" y="507" width="3" height="3" fill="#00fff5"/><rect x="535" y="507" width="3" height="3" fill="#00fff4"/><rect x="538" y="507" width="3" height="3" fill="#00fff4"/><rect x="541" y="507" width="3" height="3" fill="#00fff3"/><rect x="544" y="507" width="3" height="3" fill="#00fff2"/><rect x="547" y="507" width="3" height="3" fill="#00fff1"/><rect x="550" y="507" width="3" height="3" fill="#00ffef"/><rect x="553" y="507" width="3" height="3" fill="#00ffee"/><rect x="556" y="507" width="3" height="3" fill="#00ffeb"/><rect x="559" y="507" width="3" height="3" fill="#00ffe9"/><rect x="562" y="507" width="3" height="3" fill="#18ffe5"/><rect x="565" y="507" width="3" height="3" fill="#52ffe5"/><rect x="568" y="507" width="3" height="3" fill="#79ffe4"/><rect x="571" y="507" width="3" height="3" fill="#9bffe3"/><rect x="574" y="507" width="3" height="3" fill="#bbffe2"/><rect x="577" y="507" width="3" height="3" fill="#d9ffe0"/><rect x="580" y="507" width="3" height="3" fill="#f7ffdf"/><rect x="583" y="507" width="3" height="3" fill="#ffebcd"/><rect x="586" y="507" width="3" height="3" fill="#ffd4b7"/><rect x="589" y="507" width="3" height="3" fill="#ffc1a5"/><rect x="592" y="507" width="3" height="3" fill="#ffb096"/><rect x="595" y="507" width="3" height="3" fill="#ffa288"/><rect x="598" y="507" width="3" height="3" fill="#ff957c"/><rect x="601" y="507" width="3" height="3" fill="#ff8a71"/><rect x="604" y="507" width="3" height="3" fill="#ff7f67"/><rect x="607" y="507" width="3" height="3" fill="#ff765e"/><rect x="610" y="507" width="3" height="3" fill="#ff6d55"/><rect x="613" y="507" width="3" height="3" fill="#ff654d"/><rect x="616" y="507" width="3" height="3" fill="#ff5d45"/><rect x="619" y="507" width="3" height="3" fill="#ff553d"/><rect x="622" y="507" width="3" height="3" fill="#ff4e36"/><rect x="625" y="507" width="3" height="3" fill="#ff482e"/><rect x="628" y="507" width="3" height="3" fill="#ff4127"/><rect x="631" y="507" width="3" height="3" fill="#ff3b1f"/><rect x="634" y="507" width="3" height="3" fill="#ff3416"/><rect x="637" y="507" width="3" height="3" fill="#ff2e09"/><rect x="640" y="507" width="3" height="3" fill="#ff2b00"/><rect x="643" y="507" width="3" height="3" fill="#ff2a00"/><rect x="646" y="507" width="3" height="3" fill="#ff2800"/><rect x="649" y="507" width="3" height="3" fill="#ff2700"/><rect x="652" y="507" width="3" height="3" fill="#ff2600"/><rect x="520" y="510" width="3" height="3" fill="#00fffc"/><rect x="523" y="510" width="3" height="3" fill="#00fffc"/><rect x="526" y="510" width="3" height="3" fill="#00fffc"/><rect x="529" y="510" width="3" height="3" fill="#00fffc"/><rect x="532" y="510" width="3" height="3" fill="#00fffc"/><rect x="535" y="510" width="3" height="3" fill="#00fffc"/><rect x="538" y="510" width="3" height="3" fill="#00fffb"/><rect x="541" y="510" width="3" height="3" fill="#00fffb"/><rect x="544" y="510" width="3" height="3" fill="#00fffb"/><rect x="547" y="510" width="3" height="3" fill="#00fffa"/><rect x="550" y="510" width="3" height="3" fill="#00fffa"/><rect x="553" y="510" width="3" height="3" fill="#00fff9"/><rect x="556" y="510" width="3" height="3" fill="#00fff9"/><rect x="559" y="510" width="3" height="3" fill="#00fff8"/><rect x="562" y="510" width="3" height="3" fill="#31fff7"/><rect x="565" y="510" width="3" height="3" fill="#63fff7"/><rect x="568" y="510" width="3" height="3" fill="#8afff6"/><rect x="571" y="510" width="3" height="3" fill="#acfff6"/><rect x="574" y="510" width="3" height="3" fill="#cdfff6"/><rect x="577" y="510" width="3" height="3" fill="#ecfff6"/><rect x="580" y="510" width="3" height="3" fill="#fff3e9"/><rect x="583" y="510" width="3" height="3" fill="#ffd9d0"/><rect x="586" y="510" width="3" height="3" fill="#ffc4bc"/><rect x="589" y="510" width="3" height="3" fill="#ffb2aa"/><rect x="592" y="510" width="3" height="3" fill="#ffa39b"/><rect x="595" y="510" width="3" height="3" fill="#ff958e"/><rect x="598" y="510" width="3" height="3" fill="#ff8982"/><rect x="601" y="510" width="3" height="3" fill="#ff7e77"/><rect x="604" y="510" width="3" height="3" fill="#ff746d"/><rect x="607" y="510" width="3" height="3" fill="#ff6b64"/><rect x="610" y="510" width="3" height="3" fill="#ff625c"/><rect x="613" y="510" width="3" height="3" fill="#ff5a53"/><rect x="616" y="510" width="3" height="3" fill="#ff524c"/><rect x="619" y="510" width="3" height="3" fill="#ff4b44"/><rect x="622" y="510" width="3" height="3" fill="#ff443d"/><rect x="625" y="510" width="3" height="3" fill="#ff3d36"/><rect x="628" y="510" width="3" height="3" fill="#ff362f"/><rect x="631" y="510" width="3" height="3" fill="#ff3028"/><rect x="634" y="510" width="3" height="3" fill="#ff2921"/><rect x="637" y="510" width="3" height="3" fill="#ff2218"/><rect x="640" y="510" width="3" height="3" fill="#ff1a0f"/><rect x="643" y="510" width="3" height="3" fill="#ff1300"/><rect x="646" y="510" width="3" height="3" fill="#ff1200"/><rect x="649" y="510" width="3" height="3" fill="#ff1200"/><rect x="652" y="510" width="3" height="3" fill="#ff1100"/><rect x="655" y="510" width="3" height="3" fill="#ff1100"/><rect x="520" y="513" width="3" height="3" fill="#00fcff"/><rect x="523" y="513" width="3" height="3" fill="#00fcff"/><rect x="526" y="513" width="3" height="3" fill="#00fcff"/><rect x="529" y="513" width="3" height="3" fill="#00fbff"/><rect x="532" y="513" width="3" height="3" fill="#00fbff"/><rect x="535" y="513" width="3" height="3" fill="#00fbff"/><rect x="538" y="513" width="3" height="3" fill="#00faff"/><rect x="541" y="513" width="3" height="3" fill="#00faff"/><rect x="544" y="513" width="3" height="3" fill="#00faff"/><rect x="547" y="513" width="3" height="3" fill="#00f9ff"/><rect x="550" y="513" width="3" height="3" fill="#00f8ff"/><rect x="553" y="513" width="3" height="3" fill="#00f7ff"/><rect x="556" y="513" width="3" height="3" fill="#00f6ff"/><rect x="559" y="513" width="3" height="3" fill="#00f5ff"/><rect x="562" y="513" width="3" height="3" fill="#43f4ff"/><rect x="565" y="513" width="3" height="3" fill="#6ff4ff"/><rect x="568" y="513" width="3" height="3" fill="#94f3ff"/><rect x="571" y="513" width="3" height="3" fill="#b5f3ff"/><rect x="574" y="513" width="3" height="3" fill="#d5f2ff"/><rect x="577" y="513" width="3" height="3" fill="#f4f2ff"/><rect x="580" y="513" width="3" height="3" fill="#ffdfec"/><rect x="583" y="513" width="3" height="3" fill="#ffc7d4"/><rect x="586" y="513" width="3" height="3" fill="#ffb4c0"/><rect x="589" y="513" width="3" height="3" fill="#ffa3af"/><rect x="592" y="513" width="3" height="3" fill="#ff95a0"/><rect x="595" y="513" width="3" height="3" fill="#ff8893"/><rect x="598" y="513" width="3" height="3" fill="#ff7c87"/><rect x="601" y="513" width="3" height="3" fill="#ff727c"/><rect x="604" y="513" width="3" height="3" fill="#ff6873"/><rect x="607" y="513" width="3" height="3" fill="#ff5f6a"/><rect x="610" y="513" width="3" height="3" fill="#ff5761"/><rect x="613" y="513" width="3" height="3" fill="#ff4f59"/><rect x="616" y="513" width="3" height="3" fill="#ff4752"/><rect x="619" y="513" width="3" height="3" fill="#ff404b"/><rect x="622" y="513" width="3" height="3" fill="#ff3944"/><rect x="625" y="513" width="3" height="3" fill="#ff313d"/><rect x="628" y="513" width="3" height="3" fill="#ff2a37"/><rect x="631" y="513" width="3" height="3" fill="#ff2330"/><rect x="634" y="513" width="3" height="3" fill="#ff1b29"/><rect x="637" y="513" width="3" height="3" fill="#ff1122"/><rect x="640" y="513" width="3" height="3" fill="#ff001b"/><rect x="643" y="513" width="3" height="3" fill="#ff001b"/><rect x="646" y="513" width="3" height="3" fill="#ff001a"/><rect x="649" y="513" width="3" height="3" fill="#ff0019"/><rect x="652" y="513" width="3" height="3" fill="#ff0019"/><rect x="655" y="513" width="3" height="3" fill="#ff0018"/><rect x="658" y="513" width="3" height="3" fill="#ff0018"/><rect x="520" y="516" width="3" height="3" fill="#00f6ff"/><rect x="523" y="516" width="3" height="3" fill="#00f6ff"/><rect x="526" y="516" width="3" height="3" fill="#00f5ff"/><rect x="529" y="516" width="3" height="3" fill="#00f4ff"/><rect x="532" y="516" width="3" height="3" fill="#00f4ff"/><rect x="535" y="516" width="3" height="3" fill="#00f3ff"/><rect x="538" y="516" width="3" height="3" fill="#00f2ff"/><rect x="541" y="516" width="3" height="3" fill="#00f1ff"/><rect x="544" y="516" width="3" height="3" fill="#00f0ff"/><rect x="547" y="516" width="3" height="3" fill="#00eeff"/><rect x="550" y="516" width="3" height="3" fill="#00ecff"/><rect x="553" y="516" width="3" height="3" fill="#00eaff"/><rect x="556" y="516" width="3" height="3" fill="#00e7ff"/><rect x="559" y="516" width="3" height="3" fill="#12e3ff"/><rect x="562" y="516" width="3" height="3" fill="#4fe2ff"/><rect x="565" y="516" width="3" height="3" fill="#77e1ff"/><rect x="568" y="516" width="3" height="3" fill="#99e0ff"/><rect x="571" y="516" width="3" height="3" fill="#b8deff"/><rect x="574" y="516" width="3" height="3" fill="#d6ddff"/><rect x="577" y="516" width="3" height="3" fill="#f3dcff"/><rect x="580" y="516" width="3" height="3" fill="#ffccee"/><rect x="583" y="516" width="3" height="3" fill="#ffb6d7"/><rect x="586" y="516" width="3" height="3" fill="#ffa4c4"/><rect x="589" y="516" width="3" height="3" fill="#ff95b3"/><rect x="592" y="516" width="3" height="3" fill="#ff87a4"/><rect x="595" y="516" width="3" height="3" fill="#ff7b97"/><rect x="598" y="516" width="3" height="3" fill="#ff708c"/><rect x="601" y="516" width="3" height="3" fill="#ff6681"/><rect x="604" y="516" width="3" height="3" fill="#ff5c78"/><rect x="607" y="516" width="3" height="3" fill="#ff536f"/><rect x="610" y="516" width="3" height="3" fill="#ff4b67"/><rect x="613" y="516" width="3" height="3" fill="#ff435f"/><rect x="616" y="516" width="3" height="3" fill="#ff3b58"/><rect x="619" y="516" width="3" height="3" fill="#ff3451"/><rect x="622" y="516" width="3" height="3" fill="#ff2c4a"/><rect x="625" y="516" width="3" height="3" fill="#ff2443"/><rect x="628" y="516" width="3" height="3" fill="#ff1b3d"/><rect x="631" y="516" width="3" height="3" fill="#ff1137"/><rect x="634" y="516" width="3" height="3" fill="#ff0031"/><rect x="637" y="516" width="3" height="3" fill="#ff0030"/><rect x="640" y="516" width="3" height="3" fill="#ff002e"/><rect x="643" y="516" width="3" height="3" fill="#ff002d"/><rect x="646" y="516" width="3" height="3" fill="#ff002c"/><rect x="649" y="516" width="3" height="3" fill="#ff002b"/><rect x="652" y="516" width="3" height="3" fill="#ff002a"/><rect x="655" y="516" width="3" height="3" fill="#ff0029"/><rect x="658" y="516" width="3" height="3" fill="#ff0028"/><rect x="661" y="516" width="3" height="3" fill="#ff0028"/><rect x="520" y="519" width="3" height="3" fill="#00f0ff"/><rect x="523" y="519" width="3" height="3" fill="#00efff"/><rect x="526" y="519" width="3" height="3" fill="#00efff"/><rect x="529" y="519" width="3" height="3" fill="#00eeff"/><rect x="532" y="519" width="3" height="3" fill="#00ecff"/><rect x="535" y="519" width="3" height="3" fill="#00ebff"/><rect x="538" y="519" width="3" height="3" fill="#00e9ff"/><rect x="541" y="519" width="3" height="3" fill="#00e8ff"/><rect x="544" y="519" width="3" height="3" fill="#00e5ff"/><rect x="547" y="519" width="3" height="3" fill="#00e3ff"/><rect x="550" y="519" width="3" height="3" fill="#00e0ff"/><rect x="553" y="519" width="3" height="3" fill="#00dcff"/><rect x="556" y="519" width="3" height="3" fill="#00d7ff"/><rect x="559" y="519" width="3" height="3" fill="#2ad2ff"/><rect x="562" y="519" width="3" height="3" fill="#59d1ff"/><rect x="565" y="519" width="3" height="3" fill="#7dcfff"/><rect x="568" y="519" width="3" height="3" fill="#9dcdff"/><rect x="571" y="519" width="3" height="3" fill="#bacbff"/><rect x="574" y="519" width="3" height="3" fill="#d7c9ff"/><rect x="577" y="519" width="3" height="3" fill="#f3c7ff"/><rect x="580" y="519" width="3" height="3" fill="#ffb9f1"/><rect x="583" y="519" width="3" height="3" fill="#ffa5da"/><rect x="586" y="519" width="3" height="3" fill="#ff94c7"/><rect x="589" y="519" width="3" height="3" fill="#ff86b7"/><rect x="592" y="519" width="3" height="3" fill="#ff79a8"/><rect x="595" y="519" width="3" height="3" fill="#ff6d9c"/><rect x="598" y="519" width="3" height="3" fill="#ff6390"/><rect x="601" y="519" width="3" height="3" fill="#ff5986"/><rect x="604" y="519" width="3" height="3" fill="#ff507d"/><rect x="607" y="519" width="3" height="3" fill="#ff4774"/><rect x="610" y="519" width="3" height="3" fill="#ff3e6c"/><rect x="613" y="519" width="3" height="3" fill="#ff3664"/><rect x="616" y="519" width="3" height="3" fill="#ff2e5d"/><rect x="619" y="519" width="3" height="3" fill="#ff2556"/><rect x="622" y="519" width="3" height="3" fill="#ff1c50"/><rect x="625" y="519" width="3" height="3" fill="#ff1149"/><rect x="628" y="519" width="3" height="3" fill="#ff0044"/><rect x="631" y="519" width="3" height="3" fill="#ff0042"/><rect x="634" y="519" width="3" height="3" fill="#ff0040"/><rect x="637" y="519" width="3" height="3" fill="#ff003e"/><rect x="640" y="519" width="3" height="3" fill="#ff003c"/><rect x="643" y="519" width="3" height="3" fill="#ff003b"/><rect x="646" y="519" width="3" height="3" fill="#ff0039"/><rect x="649" y="519" width="3" height="3" fill="#ff0038"/><rect x="652" y="519" width="3" height="3" fill="#ff0037"/><rect x="655" y="519" width="3" height="3" fill="#ff0036"/><rect x="658" y="519" width="3" height="3" fill="#ff0035"/><rect x="661" y="519" width="3" height="3" fill="#ff0034"/><rect x="664" y="519" width="3" height="3" fill="#ff0033"/><rect x="523" y="522" width="3" height="3" fill="#00e9ff"/><rect x="526" y="522" width="3" height="3" fill="#00e8ff"/><rect x="529" y="522" width="3" height="3" fill="#00e6ff"/><rect x="532" y="522" width="3" height="3" fill="#00e5ff"/><rect x="535" y="522" width="3" height="3" fill="#00e3ff"/><rect x="538" y="522" width="3" height="3" fill="#00e1ff"/><rect x="541" y="522" width="3" height="3" fill="#00deff"/><rect x="544" y="522" width="3" height="3" fill="#00dbff"/><rect x="547" y="522" width="3" height="3" fill="#00d7ff"/><rect x="550" y="522" width="3" height="3" fill="#00d3ff"/><rect x="553" y="522" width="3" height="3" fill="#00cdff"/><rect x="556" y="522" width="3" height="3" fill="#00c6ff"/><rect x="559" y="522" width="3" height="3" fill="#3ac2ff"/><rect x="562" y="522" width="3" height="3" fill="#62c0ff"/><rect x="565" y="522" width="3" height="3" fill="#83beff"/><rect x="568" y="522" width="3" height="3" fill="#a1bbff"/><rect x="571" y="522" width="3" height="3" fill="#bcb8ff"/><rect x="574" y="522" width="3" height="3" fill="#d7b6ff"/><rect x="577" y="522" width="3" height="3" fill="#f2b2ff"/><rect x="580" y="522" width="3" height="3" fill="#ffa6f2"/><rect x="583" y="522" width="3" height="3" fill="#ff94dd"/><rect x="586" y="522" width="3" height="3" fill="#ff85ca"/><rect x="589" y="522" width="3" height="3" fill="#ff77ba"/><rect x="592" y="522" width="3" height="3" fill="#ff6aac"/><rect x="595" y="522" width="3" height="3" fill="#ff5fa0"/><rect x="598" y="522" width="3" height="3" fill="#ff5595"/><rect x="601" y="522" width="3" height="3" fill="#ff4b8a"/><rect x="604" y="522" width="3" height="3" fill="#ff4281"/><rect x="607" y="522" width="3" height="3" fill="#ff3978"/><rect x="610" y="522" width="3" height="3" fill="#ff3070"/><rect x="613" y="522" width="3" height="3" fill="#ff2769"/><rect x="616" y="522" width="3" height="3" fill="#ff1d62"/><rect x="619" y="522" width="3" height="3" fill="#ff125b"/><rect x="622" y="522" width="3" height="3" fill="#ff0055"/><rect x="625" y="522" width="3" height="3" fill="#ff0053"/><rect x="628" y="522" width="3" height="3" fill="#ff0050"/><rect x="631" y="522" width="3" height="3" fill="#ff004e"/><rect x="634" y="522" width="3" height="3" fill="#ff004c"/><rect x="637" y="522" width="3" height="3" fill="#ff004a"/><rect x="640" y="522" width="3" height="3" fill="#ff0048"/><rect x="643" y="522" width="3" height="3" fill="#ff0046"/><rect x="646" y="522" width="3" height="3" fill="#ff0044"/><rect x="649" y="522" width="3" height="3" fill="#ff0043"/><rect x="652" y="522" width="3" height="3" fill="#ff0041"/><rect x="655" y="522" width="3" height="3" fill="#ff0040"/><rect x="658" y="522" width="3" height="3" fill="#ff003f"/><rect x="661" y="522" width="3" height="3" fill="#ff003e"/><rect x="523" y="525" width="3" height="3" fill="#00e3ff"/><rect x="526" y="525" width="3" height="3" fill="#00e1ff"/><rect x="529" y="525" width="3" height="3" fill="#00dfff"/><rect x="532" y="525" width="3" height="3" fill="#00ddff"/><rect x="535" y="525" width="3" height="3" fill="#00dbff"/><rect x="538" y="525" width="3" height="3" fill="#00d8ff"/><rect x="541" y="525" width="3" height="3" fill="#00d4ff"/><rect x="544" y="525" width="3" height="3" fill="#00d0ff"/><rect x="547" y="525" width="3" height="3" fill="#00ccff"/><rect x="550" y="525" width="3" height="3" fill="#00c6ff"/><rect x="553" y="525" width="3" height="3" fill="#00beff"/><rect x="556" y="525" width="3" height="3" fill="#08b5ff"/><rect x="559" y="525" width="3" height="3" fill="#46b2ff"/><rect x="562" y="525" width="3" height="3" fill="#6aafff"/><rect x="565" y="525" width="3" height="3" fill="#88adff"/><rect x="568" y="525" width="3" height="3" fill="#a4aaff"/><rect x="571" y="525" width="3" height="3" fill="#bea6ff"/><rect x="574" y="525" width="3" height="3" fill="#d8a3ff"/><rect x="577" y="525" width="3" height="3" fill="#f19fff"/><rect x="580" y="525" width="3" height="3" fill="#ff94f4"/><rect x="583" y="525" width="3" height="3" fill="#ff83df"/><rect x="586" y="525" width="3" height="3" fill="#ff74cd"/><rect x="589" y="525" width="3" height="3" fill="#ff67be"/><rect x="592" y="525" width="3" height="3" fill="#ff5bb0"/><rect x="595" y="525" width="3" height="3" fill="#ff50a4"/><rect x="598" y="525" width="3" height="3" fill="#ff4699"/><rect x="601" y="525" width="3" height="3" fill="#ff3c8e"/><rect x="604" y="525" width="3" height="3" fill="#ff3285"/><rect x="607" y="525" width="3" height="3" fill="#ff297d"/><rect x="610" y="525" width="3" height="3" fill="#ff1e75"/><rect x="613" y="525" width="3" height="3" fill="#ff126d"/><rect x="616" y="525" width="3" height="3" fill="#ff0067"/><rect x="619" y="525" width="3" height="3" fill="#ff0063"/><rect x="622" y="525" width="3" height="3" fill="#ff0060"/><rect x="625" y="525" width="3" height="3" fill="#ff005d"/><rect x="628" y="525" width="3" height="3" fill="#ff005a"/><rect x="631" y="525" width="3" height="3" fill="#ff0058"/><rect x="634" y="525" width="3" height="3" fill="#ff0055"/><rect x="637" y="525" width="3" height="3" fill="#ff0053"/><rect x="640" y="525" width="3" height="3" fill="#ff0051"/><rect x="643" y="525" width="3" height="3" fill="#ff004f"/><rect x="646" y="525" width="3" height="3" fill="#ff004e"/><rect x="649" y="525" width="3" height="3" fill="#ff004c"/><rect x="652" y="525" width="3" height="3" fill="#ff004a"/><rect x="655" y="525" width="3" height="3" fill="#ff0049"/><rect x="658" y="525" width="3" height="3" fill="#ff0047"/><rect x="661" y="525" width="3" height="3" fill="#ff0046"/><rect x="664" y="525" width="3" height="3" fill="#ff0045"/><rect x="523" y="528" width="3" height="3" fill="#00dcff"/><rect x="526" y="528" width="3" height="3" fill="#00daff"/><rect x="529" y="528" width="3" height="3" fill="#00d8ff"/><rect x="532" y="528" width="3" height="3" fill="#00d5ff"/><rect x="535" y="528" width="3" height="3" fill="#00d2ff"/><rect x="538" y="528" width="3" height="3" fill="#00cfff"/><rect x="541" y="528" width="3" height="3" fill="#00cbff"/><rect x="544" y="528" width="3" height="3" fill="#00c6ff"/><rect x="547" y="528" width="3" height="3" fill="#00bfff"/><rect x="550" y="528" width="3" height="3" fill="#00b8ff"/><rect x="553" y="528" width="3" height="3" fill="#00aeff"/><rect x="556" y="528" width="3" height="3" fill="#23a6ff"/><rect x="559" y="528" width="3" height="3" fill="#50a3ff"/><rect x="562" y="528" width="3" height="3" fill="#709fff"/><rect x="565" y="528" width="3" height="3" fill="#8d9cff"/><rect x="568" y="528" width="3" height="3" fill="#a798ff"/><rect x="571" y="528" width="3" height="3" fill="#c094ff"/><rect x="574" y="528" width="3" height="3" fill="#d890ff"/><rect x="577" y="528" width="3" height="3" fill="#f08bff"/><rect x="580" y="528" width="3" height="3" fill="#ff81f6"/><rect x="583" y="528" width="3" height="3" fill="#ff71e1"/><rect x="586" y="528" width="3" height="3" fill="#ff64d0"/><rect x="589" y="528" width="3" height="3" fill="#ff57c1"/><rect x="592" y="528" width="3" height="3" fill="#ff4bb3"/><rect x="595" y="528" width="3" height="3" fill="#ff40a7"/><rect x="598" y="528" width="3" height="3" fill="#ff359c"/><rect x="601" y="528" width="3" height="3" fill="#ff2b92"/><rect x="604" y="528" width="3" height="3" fill="#ff1f89"/><rect x="607" y="528" width="3" height="3" fill="#ff1281"/><rect x="610" y="528" width="3" height="3" fill="#ff007a"/><rect x="613" y="528" width="3" height="3" fill="#ff0075"/><rect x="616" y="528" width="3" height="3" fill="#ff0071"/><rect x="619" y="528" width="3" height="3" fill="#ff006d"/><rect x="622" y="528" width="3" height="3" fill="#ff006a"/><rect x="625" y="528" width="3" height="3" fill="#ff0066"/><rect x="628" y="528" width="3" height="3" fill="#ff0063"/><rect x="631" y="528" width="3" height="3" fill="#ff0061"/><rect x="634" y="528" width="3" height="3" fill="#ff005e"/><rect x="637" y="528" width="3" height="3" fill="#ff005c"/><rect x="640" y="528" width="3" height="3" fill="#ff005a"/><rect x="643" y="528" width="3" height="3" fill="#ff0058"/><rect x="646" y="528" width="3" height="3" fill="#ff0056"/><rect x="649" y="528" width="3" height="3" fill="#ff0054"/><rect x="652" y="528" width="3" height="3" fill="#ff0052"/><rect x="655" y="528" width="3" height="3" fill="#ff0050"/><rect x="658" y="528" width="3" height="3" fill="#ff004f"/><rect x="661" y="528" width="3" height="3" fill="#ff004d"/><rect x="523" y="531" width="3" height="3" fill="#00d6ff"/><rect x="526" y="531" width="3" height="3" fill="#00d3ff"/><rect x="529" y="531" width="3" height="3" fill="#00d1ff"/><rect x="532" y="531" width="3" height="3" fill="#00cdff"/><rect x="535" y="531" width="3" height="3" fill="#00caff"/><rect x="538" y="531" width="3" height="3" fill="#00c5ff"/><rect x="541" y="531" width="3" height="3" fill="#00c0ff"/><rect x="544" y="531" width="3" height="3" fill="#00baff"/><rect x="547" y="531" width="3" height="3" fill="#00b3ff"/><rect x="550" y="531" width="3" height="3" fill="#00aaff"/><rect x="553" y="531" width="3" height="3" fill="#009eff"/><rect x="556" y="531" width="3" height="3" fill="#3297ff"/><rect x="559" y="531" width="3" height="3" fill="#5893ff"/><rect x="562" y="531" width="3" height="3" fill="#768fff"/><rect x="565" y="531" width="3" height="3" fill="#918bff"/><rect x="568" y="531" width="3" height="3" fill="#aa87ff"/><rect x="571" y="531" width="3" height="3" fill="#c282ff"/><rect x="574" y="531" width="3" height="3" fill="#d97dff"/><rect x="577" y="531" width="3" height="3" fill="#f078ff"/><rect x="580" y="531" width="3" height="3" fill="#ff6ef7"/><rect x="583" y="531" width="3" height="3" fill="#ff5fe4"/><rect x="586" y="531" width="3" height="3" fill="#ff52d2"/><rect x="589" y="531" width="3" height="3" fill="#ff45c4"/><rect x="592" y="531" width="3" height="3" fill="#ff39b6"/><rect x="595" y="531" width="3" height="3" fill="#ff2daa"/><rect x="598" y="531" width="3" height="3" fill="#ff21a0"/><rect x="601" y="531" width="3" height="3" fill="#ff1396"/><rect x="604" y="531" width="3" height="3" fill="#ff008e"/><rect x="607" y="531" width="3" height="3" fill="#ff0088"/><rect x="610" y="531" width="3" height="3" fill="#ff0082"/><rect x="613" y="531" width="3" height="3" fill="#ff007e"/><rect x="616" y="531" width="3" height="3" fill="#ff0079"/><rect x="619" y="531" width="3" height="3" fill="#ff0075"/><rect x="622" y="531" width="3" height="3" fill="#ff0072"/><rect x="625" y="531" width="3" height="3" fill="#ff006e"/><rect x="628" y="531" width="3" height="3" fill="#ff006b"/><rect x="631" y="531" width="3" height="3" fill="#ff0069"/><rect x="634" y="531" width="3" height="3" fill="#ff0066"/><rect x="637" y="531" width="3" height="3" fill="#ff0063"/><rect x="640" y="531" width="3" height="3" fill="#ff0061"/><rect x="643" y="531" width="3" height="3" fill="#ff005f"/><rect x="646" y="531" width="3" height="3" fill="#ff005d"/><rect x="649" y="531" width="3" height="3" fill="#ff005b"/><rect x="652" y="531" width="3" height="3" fill="#ff0059"/><rect x="655" y="531" width="3" height="3" fill="#ff0057"/><rect x="526" y="534" width="3" height="3" fill="#00ccff"/><rect x="529" y="534" width="3" height="3" fill="#00c9ff"/><rect x="532" y="534" width="3" height="3" fill="#00c5ff"/><rect x="535" y="534" width="3" height="3" fill="#00c1ff"/><rect x="538" y="534" width="3" height="3" fill="#00bcff"/><rect x="541" y="534" width="3" height="3" fill="#00b6ff"/><rect x="544" y="534" width="3" height="3" fill="#00afff"/><rect x="547" y="534" width="3" height="3" fill="#00a6ff"/><rect x="550" y="534" width="3" height="3" fill="#009bff"/><rect x="553" y="534" width="3" height="3" fill="#008cff"/><rect x="556" y="534" width="3" height="3" fill="#3e88ff"/><rect x="559" y="534" width="3" height="3" fill="#5f84ff"/><rect x="562" y="534" width="3" height="3" fill="#7b80ff"/><rect x="565" y="534" width="3" height="3" fill="#957bff"/><rect x="568" y="534" width="3" height="3" fill="#ac76ff"/><rect x="571" y="534" width="3" height="3" fill="#c370ff"/><rect x="574" y="534" width="3" height="3" fill="#d96aff"/><rect x="577" y="534" width="3" height="3" fill="#ef64ff"/><rect x="580" y="534" width="3" height="3" fill="#ff5af9"/><rect x="583" y="534" width="3" height="3" fill="#ff4be6"/><rect x="586" y="534" width="3" height="3" fill="#ff3ed5"/><rect x="589" y="534" width="3" height="3" fill="#ff31c6"/><rect x="592" y="534" width="3" height="3" fill="#ff23b9"/><rect x="595" y="534" width="3" height="3" fill="#ff13ae"/><rect x="598" y="534" width="3" height="3" fill="#ff00a4"/><rect x="601" y="534" width="3" height="3" fill="#ff009c"/><rect x="604" y="534" width="3" height="3" fill="#ff0095"/><rect x="607" y="534" width="3" height="3" fill="#ff008f"/><rect x="610" y="534" width="3" height="3" fill="#ff008a"/><rect x="613" y="534" width="3" height="3" fill="#ff0085"/><rect x="616" y="534" width="3" height="3" fill="#ff0081"/><rect x="619" y="534" width="3" height="3" fill="#ff007d"/><rect x="622" y="534" width="3" height="3" fill="#ff0079"/><rect x="625" y="534" width="3" height="3" fill="#ff0076"/><rect x="628" y="534" width="3" height="3" fill="#ff0072"/><rect x="631" y="534" width="3" height="3" fill="#ff0070"/><rect x="634" y="534" width="3" height="3" fill="#ff006d"/><rect x="637" y="534" width="3" height="3" fill="#ff006a"/><rect x="640" y="534" width="3" height="3" fill="#ff0068"/><rect x="643" y="534" width="3" height="3" fill="#ff0066"/><rect x="646" y="534" width="3" height="3" fill="#ff0063"/><rect x="526" y="537" width="3" height="3" fill="#00c5ff"/><rect x="529" y="537" width="3" height="3" fill="#00c1ff"/><rect x="532" y="537" width="3" height="3" fill="#00bdff"/><rect x="535" y="537" width="3" height="3" fill="#00b8ff"/><rect x="538" y="537" width="3" height="3" fill="#00b2ff"/><rect x="541" y="537" width="3" height="3" fill="#00abff"/><rect x="544" y="537" width="3" height="3" fill="#00a3ff"/><rect x="547" y="537" width="3" height="3" fill="#0098ff"/><rect x="550" y="537" width="3" height="3" fill="#008bff"/><rect x="553" y="537" width="3" height="3" fill="#1d7dff"/><rect x="556" y="537" width="3" height="3" fill="#4779ff"/><rect x="559" y="537" width="3" height="3" fill="#6674ff"/><rect x="562" y="537" width="3" height="3" fill="#806fff"/><rect x="565" y="537" width="3" height="3" fill="#986aff"/><rect x="568" y="537" width="3" height="3" fill="#af64ff"/><rect x="571" y="537" width="3" height="3" fill="#c45eff"/><rect x="574" y="537" width="3" height="3" fill="#da56ff"/><rect x="577" y="537" width="3" height="3" fill="#ef4eff"/><rect x="580" y="537" width="3" height="3" fill="#ff44fa"/><rect x="583" y="537" width="3" height="3" fill="#ff35e7"/><rect x="586" y="537" width="3" height="3" fill="#ff25d7"/><rect x="589" y="537" width="3" height="3" fill="#ff14c9"/><rect x="592" y="537" width="3" height="3" fill="#ff00bd"/><rect x="595" y="537" width="3" height="3" fill="#ff00b3"/><rect x="598" y="537" width="3" height="3" fill="#ff00aa"/><rect x="601" y="537" width="3" height="3" fill="#ff00a3"/><rect x="604" y="537" width="3" height="3" fill="#ff009c"/><rect x="607" y="537" width="3" height="3" fill="#ff0096"/><rect x="610" y="537" width="3" height="3" fill="#ff0091"/><rect x="613" y="537" width="3" height="3" fill="#ff008c"/><rect x="616" y="537" width="3" height="3" fill="#ff0088"/><rect x="619" y="537" width="3" height="3" fill="#ff0083"/><rect x="622" y="537" width="3" height="3" fill="#ff0080"/><rect x="625" y="537" width="3" height="3" fill="#ff007c"/><rect x="628" y="537" width="3" height="3" fill="#ff0079"/><rect x="631" y="537" width="3" height="3" fill="#ff0076"/><rect x="634" y="537" width="3" height="3" fill="#ff0073"/><rect x="637" y="537" width="3" height="3" fill="#ff0070"/><rect x="640" y="537" width="3" height="3" fill="#ff006e"/><rect x="526" y="540" width="3" height="3" fill="#00beff"/><rect x="529" y="540" width="3" height="3" fill="#00baff"/><rect x="532" y="540" width="3" height="3" fill="#00b5ff"/><rect x="535" y="540" width="3" height="3" fill="#00afff"/><rect x="538" y="540" width="3" height="3" fill="#00a8ff"/><rect x="541" y="540" width="3" height="3" fill="#00a0ff"/><rect x="544" y="540" width="3" height="3" fill="#0096ff"/><rect x="547" y="540" width="3" height="3" fill="#0089ff"/><rect x="550" y="540" width="3" height="3" fill="#0079ff"/><rect x="553" y="540" width="3" height="3" fill="#2c6fff"/><rect x="556" y="540" width="3" height="3" fill="#506aff"/><rect x="559" y="540" width="3" height="3" fill="#6c65ff"/><rect x="562" y="540" width="3" height="3" fill="#845fff"/><rect x="565" y="540" width="3" height="3" fill="#9b58ff"/><rect x="568" y="540" width="3" height="3" fill="#b151ff"/><rect x="571" y="540" width="3" height="3" fill="#c64aff"/><rect x="574" y="540" width="3" height="3" fill="#da41ff"/><rect x="577" y="540" width="3" height="3" fill="#ee36ff"/><rect x="580" y="540" width="3" height="3" fill="#ff28fb"/><rect x="583" y="540" width="3" height="3" fill="#ff15e9"/><rect x="586" y="540" width="3" height="3" fill="#ff00da"/><rect x="589" y="540" width="3" height="3" fill="#ff00cd"/><rect x="592" y="540" width="3" height="3" fill="#ff00c2"/><rect x="595" y="540" width="3" height="3" fill="#ff00b8"/><rect x="598" y="540" width="3" height="3" fill="#ff00b0"/><rect x="601" y="540" width="3" height="3" fill="#ff00a9"/><rect x="604" y="540" width="3" height="3" fill="#ff00a2"/><rect x="607" y="540" width="3" height="3" fill="#ff009c"/><rect x="610" y="540" width="3" height="3" fill="#ff0097"/><rect x="613" y="540" width="3" height="3" fill="#ff0092"/><rect x="616" y="540" width="3" height="3" fill="#ff008e"/><rect x="619" y="540" width="3" height="3" fill="#ff0089"/><rect x="622" y="540" width="3" height="3" fill="#ff0086"/><rect x="625" y="540" width="3" height="3" fill="#ff0082"/><rect x="628" y="540" width="3" height="3" fill="#ff007f"/><rect x="631" y="540" width="3" height="3" fill="#ff007c"/><rect x="634" y="540" width="3" height="3" fill="#ff0079"/><rect x="529" y="543" width="3" height="3" fill="#00b2ff"/><rect x="532" y="543" width="3" height="3" fill="#00acff"/><rect x="535" y="543" width="3" height="3" fill="#00a5ff"/><rect x="538" y="543" width="3" height="3" fill="#009dff"/><rect x="541" y="543" width="3" height="3" fill="#0094ff"/><rect x="544" y="543" width="3" height="3" fill="#0089ff"/><rect x="547" y="543" width="3" height="3" fill="#007aff"/><rect x="550" y="543" width="3" height="3" fill="#0067ff"/><rect x="553" y="543" width="3" height="3" fill="#3760ff"/><rect x="556" y="543" width="3" height="3" fill="#575aff"/><rect x="559" y="543" width="3" height="3" fill="#7154ff"/><rect x="562" y="543" width="3" height="3" fill="#884dff"/><rect x="565" y="543" width="3" height="3" fill="#9e46ff"/><rect x="568" y="543" width="3" height="3" fill="#b33dff"/><rect x="571" y="543" width="3" height="3" fill="#c733ff"/><rect x="574" y="543" width="3" height="3" fill="#db26ff"/><rect x="577" y="543" width="3" height="3" fill="#ee14ff"/><rect x="580" y="543" width="3" height="3" fill="#ff00fd"/><rect x="583" y="543" width="3" height="3" fill="#ff00eb"/><rect x="586" y="543" width="3" height="3" fill="#ff00dd"/><rect x="589" y="543" width="3" height="3" fill="#ff00d1"/><rect x="592" y="543" width="3" height="3" fill="#ff00c7"/><rect x="595" y="543" width="3" height="3" fill="#ff00bd"/><rect x="598" y="543" width="3" height="3" fill="#ff00b5"/><rect x="601" y="543" width="3" height="3" fill="#ff00ae"/><rect x="604" y="543" width="3" height="3" fill="#ff00a8"/><rect x="607" y="543" width="3" height="3" fill="#ff00a2"/><rect x="610" y="543" width="3" height="3" fill="#ff009c"/><rect x="613" y="543" width="3" height="3" fill="#ff0097"/><rect x="616" y="543" width="3" height="3" fill="#ff0093"/><rect x="619" y="543" width="3" height="3" fill="#ff008f"/><rect x="622" y="543" width="3" height="3" fill="#ff008b"/><rect x="625" y="543" width="3" height="3" fill="#ff0087"/><rect x="529" y="546" width="3" height="3" fill="#00a9ff"/><rect x="532" y="546" width="3" height="3" fill="#00a3ff"/><rect x="535" y="546" width="3" height="3" fill="#009bff"/><rect x="538" y="546" width="3" height="3" fill="#0092ff"/><rect x="541" y="546" width="3" height="3" fill="#0088ff"/><rect x="544" y="546" width="3" height="3" fill="#007aff"/><rect x="547" y="546" width="3" height="3" fill="#0069ff"/><rect x="550" y="546" width="3" height="3" fill="#1756ff"/><rect x="553" y="546" width="3" height="3" fill="#4150ff"/><rect x="556" y="546" width="3" height="3" fill="#5d49ff"/><rect x="559" y="546" width="3" height="3" fill="#7642ff"/><rect x="562" y="546" width="3" height="3" fill="#8c3aff"/><rect x="565" y="546" width="3" height="3" fill="#a130ff"/><rect x="568" y="546" width="3" height="3" fill="#b424ff"/><rect x="571" y="546" width="3" height="3" fill="#c812ff"/><rect x="574" y="546" width="3" height="3" fill="#db00ff"/><rect x="577" y="546" width="3" height="3" fill="#ee00ff"/><rect x="580" y="546" width="3" height="3" fill="#ff00fe"/><rect x="583" y="546" width="3" height="3" fill="#ff00ee"/><rect x="586" y="546" width="3" height="3" fill="#ff00e0"/><rect x="589" y="546" width="3" height="3" fill="#ff00d5"/><rect x="592" y="546" width="3" height="3" fill="#ff00cb"/><rect x="595" y="546" width="3" height="3" fill="#ff00c2"/><rect x="598" y="546" width="3" height="3" fill="#ff00ba"/><rect x="601" y="546" width="3" height="3" fill="#ff00b3"/><rect x="604" y="546" width="3" height="3" fill="#ff00ac"/><rect x="607" y="546" width="3" height="3" fill="#ff00a7"/><rect x="610" y="546" width="3" height="3" fill="#ff00a1"/><rect x="613" y="546" width="3" height="3" fill="#ff009c"/><rect x="616" y="546" width="3" height="3" fill="#ff0098"/><rect x="619" y="546" width="3" height="3" fill="#ff0094"/><rect x="529" y="549" width="3" height="3" fill="#00a1ff"/><rect x="532" y="549" width="3" height="3" fill="#009aff"/><rect x="535" y="549" width="3" height="3" fill="#0091ff"/><rect x="538" y="549" width="3" height="3" fill="#0087ff"/><rect x="541" y="549" width="3" height="3" fill="#007bff"/><rect x="544" y="549" width="3" height="3" fill="#006bff"/><rect x="547" y="549" width="3" height="3" fill="#0056ff"/><rect x="550" y="549" width="3" height="3" fill="#2746ff"/><rect x="553" y="549" width="3" height="3" fill="#493fff"/><rect x="556" y="549" width="3" height="3" fill="#6337ff"/><rect x="559" y="549" width="3" height="3" fill="#7a2dff"/><rect x="562" y="549" width="3" height="3" fill="#8f21ff"/><rect x="565" y="549" width="3" height="3" fill="#a310ff"/><rect x="568" y="549" width="3" height="3" fill="#b700ff"/><rect x="571" y="549" width="3" height="3" fill="#cb00ff"/><rect x="574" y="549" width="3" height="3" fill="#dd00ff"/><rect x="577" y="549" width="3" height="3" fill="#ef00ff"/><rect x="580" y="549" width="3" height="3" fill="#ff00ff"/><rect x="583" y="549" width="3" height="3" fill="#ff00f0"/><rect x="586" y="549" width="3" height="3" fill="#ff00e3"/><rect x="589" y="549" width="3" height="3" fill="#ff00d8"/><rect x="592" y="549" width="3" height="3" fill="#ff00ce"/><rect x="595" y="549" width="3" height="3" fill="#ff00c6"/><rect x="598" y="549" width="3" height="3" fill="#ff00be"/><rect x="601" y="549" width="3" height="3" fill="#ff00b7"/><rect x="604" y="549" width="3" height="3" fill="#ff00b1"/><rect x="607" y="549" width="3" height="3" fill="#ff00ab"/><rect x="610" y="549" width="3" height="3" fill="#ff00a6"/><rect x="532" y="552" width="3" height="3" fill="#0090ff"/><rect x="535" y="552" width="3" height="3" fill="#0086ff"/><rect x="538" y="552" width="3" height="3" fill="#007bff"/><rect x="541" y="552" width="3" height="3" fill="#006dff"/><rect x="544" y="552" width="3" height="3" fill="#005aff"/><rect x="547" y="552" width="3" height="3" fill="#0040ff"/><rect x="550" y="552" width="3" height="3" fill="#3234ff"/><rect x="553" y="552" width="3" height="3" fill="#502bff"/><rect x="556" y="552" width="3" height="3" fill="#681fff"/><rect x="559" y="552" width="3" height="3" fill="#7e0fff"/><rect x="562" y="552" width="3" height="3" fill="#9400ff"/><rect x="565" y="552" width="3" height="3" fill="#a900ff"/><rect x="568" y="552" width="3" height="3" fill="#bc00ff"/><rect x="571" y="552" width="3" height="3" fill="#ce00ff"/><rect x="574" y="552" width="3" height="3" fill="#df00ff"/><rect x="577" y="552" width="3" height="3" fill="#ef00ff"/><rect x="580" y="552" width="3" height="3" fill="#ff00ff"/><rect x="583" y="552" width="3" height="3" fill="#ff00f1"/><rect x="586" y="552" width="3" height="3" fill="#ff00e5"/><rect x="589" y="552" width="3" height="3" fill="#ff00db"/><rect x="592" y="552" width="3" height="3" fill="#ff00d1"/><rect x="595" y="552" width="3" height="3" fill="#ff00c9"/><rect x="598" y="552" width="3" height="3" fill="#ff00c2"/><rect x="601" y="552" width="3" height="3" fill="#ff00bb"/><rect x="604" y="552" width="3" height="3" fill="#ff00b5"/><rect x="532" y="555" width="3" height="3" fill="#0086ff"/><rect x="535" y="555" width="3" height="3" fill="#007bff"/><rect x="538" y="555" width="3" height="3" fill="#006eff"/><rect x="541" y="555" width="3" height="3" fill="#005dff"/><rect x="544" y="555" width="3" height="3" fill="#0047ff"/><rect x="547" y="555" width="3" height="3" fill="#1229ff"/><rect x="550" y="555" width="3" height="3" fill="#3b1dff"/><rect x="553" y="555" width="3" height="3" fill="#560dff"/><rect x="556" y="555" width="3" height="3" fill="#7000ff"/><rect x="559" y="555" width="3" height="3" fill="#8700ff"/><rect x="562" y="555" width="3" height="3" fill="#9c00ff"/><rect x="565" y="555" width="3" height="3" fill="#af00ff"/><rect x="568" y="555" width="3" height="3" fill="#c000ff"/><rect x="571" y="555" width="3" height="3" fill="#d100ff"/><rect x="574" y="555" width="3" height="3" fill="#e100ff"/><rect x="577" y="555" width="3" height="3" fill="#f000ff"/><rect x="580" y="555" width="3" height="3" fill="#fe00ff"/><rect x="583" y="555" width="3" height="3" fill="#ff00f3"/><rect x="586" y="555" width="3" height="3" fill="#ff00e8"/><rect x="589" y="555" width="3" height="3" fill="#ff00dd"/><rect x="592" y="555" width="3" height="3" fill="#ff00d4"/><rect x="595" y="555" width="3" height="3" fill="#ff00cc"/><rect x="535" y="558" width="3" height="3" fill="#006fff"/><rect x="538" y="558" width="3" height="3" fill="#0060ff"/><rect x="541" y="558" width="3" height="3" fill="#004cff"/><rect x="544" y="558" width="3" height="3" fill="#002fff"/><rect x="547" y="558" width="3" height="3" fill="#220bff"/><rect x="550" y="558" width="3" height="3" fill="#4700ff"/><rect x="553" y="558" width="3" height="3" fill="#6400ff"/><rect x="556" y="558" width="3" height="3" fill="#7b00ff"/><rect x="559" y="558" width="3" height="3" fill="#9000ff"/><rect x="562" y="558" width="3" height="3" fill="#a200ff"/><rect x="565" y="558" width="3" height="3" fill="#b400ff"/><rect x="568" y="558" width="3" height="3" fill="#c400ff"/><rect x="571" y="558" width="3" height="3" fill="#d300ff"/><rect x="574" y="558" width="3" height="3" fill="#e200ff"/><rect x="577" y="558" width="3" height="3" fill="#f000ff"/><rect x="580" y="558" width="3" height="3" fill="#fd00ff"/><rect x="583" y="558" width="3" height="3" fill="#ff00f4"/><rect x="586" y="558" width="3" height="3" fill="#ff00e9"/><rect x="589" y="558" width="3" height="3" fill="#ff00e0"/><rect x="535" y="561" width="3" height="3" fill="#0062ff"/><rect x="538" y="561" width="3" height="3" fill="#0051ff"/><rect x="541" y="561" width="3" height="3" fill="#0038ff"/><rect x="544" y="561" width="3" height="3" fill="#0003ff"/><rect x="547" y="561" width="3" height="3" fill="#3a00ff"/><rect x="550" y="561" width="3" height="3" fill="#5800ff"/><rect x="553" y="561" width="3" height="3" fill="#7000ff"/><rect x="556" y="561" width="3" height="3" fill="#8400ff"/><rect x="559" y="561" width="3" height="3" fill="#9700ff"/><rect x="562" y="561" width="3" height="3" fill="#a800ff"/><rect x="565" y="561" width="3" height="3" fill="#b800ff"/><rect x="568" y="561" width="3" height="3" fill="#c700ff"/><rect x="571" y="561" width="3" height="3" fill="#d500ff"/><rect x="574" y="561" width="3" height="3" fill="#e300ff"/><rect x="577" y="561" width="3" height="3" fill="#f000ff"/><rect x="580" y="561" width="3" height="3" fill="#fd00ff"/><rect x="583" y="561" width="3" height="3" fill="#ff00f6"/><rect x="538" y="564" width="3" height="3" fill="#003fff"/><rect x="541" y="564" width="3" height="3" fill="#001dff"/><rect x="544" y="564" width="3" height="3" fill="#2d00ff"/><rect x="547" y="564" width="3" height="3" fill="#4d00ff"/><rect x="550" y="564" width="3" height="3" fill="#6500ff"/><rect x="553" y="564" width="3" height="3" fill="#7a00ff"/><rect x="556" y="564" width="3" height="3" fill="#8c00ff"/><rect x="559" y="564" width="3" height="3" fill="#9d00ff"/><rect x="562" y="564" width="3" height="3" fill="#ad00ff"/><rect x="565" y="564" width="3" height="3" fill="#bc00ff"/><rect x="568" y="564" width="3" height="3" fill="#ca00ff"/><rect x="571" y="564" width="3" height="3" fill="#d700ff"/><rect x="574" y="564" width="3" height="3" fill="#e400ff"/><rect x="541" y="567" width="3" height="3" fill="#1e00ff"/><rect x="544" y="567" width="3" height="3" fill="#4200ff"/><rect x="547" y="567" width="3" height="3" fill="#5b00ff"/><rect x="550" y="567" width="3" height="3" fill="#7000ff"/><rect x="553" y="567" width="3" height="3" fill="#8200ff"/><rect x="556" y="567" width="3" height="3" fill="#9300ff"/><rect x="559" y="567" width="3" height="3" fill="#a300ff"/><rect x="562" y="567" width="3" height="3" fill="#b100ff"/><rect x="565" y="567" width="3" height="3" fill="#bf00ff"/><rect x="568" y="567" width="3" height="3" fill="#cc00ff"/><rect x="544" y="570" width="3" height="3" fill="#4e00ff"/><rect x="547" y="570" width="3" height="3" fill="#6400ff"/><rect x="550" y="570" width="3" height="3" fill="#7700ff"/><rect x="553" y="570" width="3" height="3" fill="#8800ff"/><rect x="556" y="570" width="3" height="3" fill="#9800ff"/><rect x="559" y="570" width="3" height="3" fill="#a700ff"/></g></g>
<path d="M551.54,570.61 L551.51,570.61 L551.47,570.62 L551.42,570.64 L551.38,570.64 L551.34,570.65 L551.31,570.65 L551.28,570.65 L551.24,570.64 L551.18,570.63 L551.12,570.62 L551.06,570.61 L550.99,570.59 L550.94,570.56 L550.89,570.54 L550.83,570.50 L550.77,570.46 L550.71,570.42 L550.64,570.38 L550.57,570.33 L550.49,570.27 L550.40,570.20 L550.30,570.13 L550.20,570.05 L550.09,569.96 L549.97,569.87 L549.85,569.77 L549.72,569.67 L549.59,569.55 L549.44,569.44 L549.28,569.31 L549.11,569.18 L548.92,569.04 L548.72,568.88 L548.50,568.71 L548.26,568.53 L548.02,568.34 L547.76,568.14 L547.48,567.93 L547.20,567.70 L546.89,567.45 L546.56,567.17 L546.22,566.88 L545.86,566.56 L545.48,566.20 L545.09,565.81 L544.68,565.41 L544.25,564.94 L543.77,564.37 L543.25,563.72 L542.70,562.99 L542.11,562.15 L541.48,561.18 L540.81,560.09 L540.10,558.90 L539.35,557.55 L538.56,556.00 L537.71,554.25 L536.82,552.33 L535.87,550.20 L534.87,547.80 L533.80,545.15 L532.66,542.27 L531.49,539.11 L530.33,535.65 L529.16,531.87 L527.97,527.79 L526.79,523.43 L525.64,518.81 L524.48,513.89 L523.33,508.65 L522.23,503.25 L521.23,497.79 L520.31,492.24 L519.47,486.55 L518.73,480.87 L518.15,475.34 L517.71,469.94 L517.40,464.61 L517.25,459.45 L517.28,454.55 L517.51,449.89 L517.92,445.42 L518.51,441.26 L519.30,437.51 L520.29,434.17 L521.49,431.17 L522.85,428.59 L524.33,426.48 L525.94,424.88 L527.70,423.76 L529.56,423.02 L531.45,422.58 L533.39,422.50 L535.40,422.79 L537.45,423.32 L539.48,423.94 L541.52,424.67 L543.58,425.57 L545.63,426.56 L547.63,427.57 L549.59,428.59 L551.53,429.66 L553.43,430.77 L555.32,431.91 L557.19,433.08 L559.04,434.28 L560.87,435.52 L562.71,436.78 L564.54,438.08 L566.36,439.41 L568.18,440.76 L569.99,442.14 L571.80,443.54 L573.60,444.96 L575.40,446.40 L577.20,447.86 L578.99,449.32 L580.79,450.81 L582.58,452.31 L584.38,453.82 L586.18,455.34 L587.99,456.88 L589.79,458.42 L591.59,459.96 L593.38,461.52 L595.17,463.08 L596.96,464.64 L598.75,466.20 L600.54,467.76 L602.32,469.32 L604.10,470.88 L605.88,472.43 L607.64,473.98 L609.39,475.53 L611.13,477.06 L612.86,478.59 L614.57,480.11 L616.28,481.62 L617.97,483.11 L619.64,484.59 L621.29,486.06 L622.93,487.51 L624.55,488.94 L626.14,490.34 L627.71,491.73 L629.26,493.09 L630.78,494.43 L632.26,495.74 L633.71,497.02 L635.13,498.28 L636.50,499.51 L637.83,500.69 L639.11,501.82 L640.34,502.90 L641.53,503.95 L642.68,504.97 L643.81,505.97 L644.90,506.93 L645.95,507.86 L646.95,508.74 L647.90,509.58 L648.81,510.37 L649.67,511.13 L650.49,511.85 L651.27,512.54 L652.01,513.19 L652.71,513.81 L653.37,514.40 L654.00,514.96 L654.58,515.48 L655.14,515.97 L655.66,516.44 L656.16,516.88 L656.63,517.29 L657.07,517.67 L657.50,518.05 L657.87,518.38 L658.21,518.67 L658.55,518.98 L658.96,519.35 L659.49,519.81 L660.09,520.34 L660.68,520.87 L661.20,521.33 L661.62,521.70 L661.99,522.03 L662.32,522.31 L662.61,522.56 L662.85,522.78 L663.06,522.96 L663.23,523.12 L663.41,523.28 L663.60,523.45 L663.79,523.61 L663.96,523.76 L664.10,523.89 L664.20,523.98 L664.27,524.04 L664.32,524.08 L664.36,524.12Z" fill="none" stroke="#333" stroke-width="0.6"/>
<path d="M516.4,411.3 L677.5,411.3 L677.5,571.3 M516.4,411.3 L516.4,574" fill="none" stroke="#555" stroke-width="1.1"/>
<path d="M516,571.3 L678,571.3" stroke="#444" stroke-width="1.2"/>
<path d="M516.50,571.3 L516.50,574.3 M536.62,571.3 L536.62,573.3 M556.75,571.3 L556.75,574.3 M576.88,571.3 L576.88,573.3 M597.00,571.3 L597.00,574.3 M617.12,571.3 L617.12,573.3 M637.25,571.3 L637.25,574.3 M657.38,571.3 L657.38,573.3 M677.50,571.3 L677.50,574.3 M516.4,571.50 L513.4,571.50 M516.4,553.64 L514.4,553.64 M516.4,535.78 L513.4,535.78 M516.4,517.92 L514.4,517.92 M516.4,500.06 L513.4,500.06 M516.4,482.20 L514.4,482.20 M516.4,464.34 L513.4,464.34 M516.4,446.48 L514.4,446.48 M516.4,428.62 L513.4,428.62" stroke="#555" stroke-width="0.9"/>
<text x="516.50" y="583.20" font-size="9.2" text-anchor="middle" stroke="#222" stroke-width="0.22">0.0</text>
<text x="511.60" y="574.80" font-size="9.2" text-anchor="end" stroke="#222" stroke-width="0.22">0.0</text>
<text x="556.75" y="583.20" font-size="9.2" text-anchor="middle" stroke="#222" stroke-width="0.22">0.2</text>
<text x="511.60" y="539.08" font-size="9.2" text-anchor="end" stroke="#222" stroke-width="0.22">0.2</text>
<text x="597.00" y="583.20" font-size="9.2" text-anchor="middle" stroke="#222" stroke-width="0.22">0.4</text>
<text x="511.60" y="503.36" font-size="9.2" text-anchor="end" stroke="#222" stroke-width="0.22">0.4</text>
<text x="637.25" y="583.20" font-size="9.2" text-anchor="middle" stroke="#222" stroke-width="0.22">0.6</text>
<text x="511.60" y="467.64" font-size="9.2" text-anchor="end" stroke="#222" stroke-width="0.22">0.6</text>
<text x="677.50" y="583.20" font-size="9.2" text-anchor="middle" stroke="#222" stroke-width="0.22">0.8</text>
<text x="511.60" y="431.92" font-size="9.2" text-anchor="end" stroke="#222" stroke-width="0.22">0.8</text>
<text x="596.00" y="591.50" font-size="9.2" text-anchor="middle" stroke="#222" stroke-width="0.22">x</text>
<text transform="translate(496.6,489.8) rotate(-90)" font-size="9.2" text-anchor="middle" fill="#222" stroke="#222" stroke-width="0.22">y</text>
<text x="674.00" y="421.80" font-size="7.9" font-weight="bold" font-style="italic" text-anchor="end" fill="#111" stroke="#111" stroke-width="0.22">CIE 1931</text>
<polygon points="559.97,477.58 560.56,479.07 562.16,479.17 560.92,480.19 561.32,481.74 559.97,480.88 558.62,481.74 559.02,480.19 557.78,479.17 559.38,479.07" fill="#e82020"/>
<polygon points="546.28,523.30 546.87,524.79 548.47,524.89 547.24,525.91 547.64,527.46 546.28,526.60 544.93,527.46 545.33,525.91 544.10,524.89 545.70,524.79" fill="#e82020"/>
<text x="563.60" y="482.00" font-size="7.5" font-weight="bold" font-style="italic" fill="#111" stroke="#111" stroke-width="0.22">G-crystal</text>
<text x="558.60" y="491.30" font-size="6.85" fill="#111" stroke="#111" stroke-width="0.22">(0.216, 0.513)</text>
<text x="550.10" y="527.30" font-size="7.5" font-weight="bold" font-style="italic" fill="#111" stroke="#111" stroke-width="0.22">B-crystal</text>
<text x="545.10" y="536.60" font-size="6.85" fill="#111" stroke="#111" stroke-width="0.22">(0.148, 0.257)</text>
<text x="521.20" y="499.60" font-size="8.3" fill="#111" stroke="#111" stroke-width="0.22">heating</text>
<text x="557.60" y="508.80" font-size="8.3" fill="#111" stroke="#111" stroke-width="0.22">solvation</text>
<path d="M545.8,514.4 L553.4,489.0" stroke="#111" stroke-width="1.2"/><path d="M554.5,485.2 L555.4,491.2 L553.3,489.3 L550.4,489.7 Z" fill="#111"/>
<path d="M559.5,491.3 L552.5,516.1" stroke="#111" stroke-width="1.2"/><path d="M551.4,519.9 L550.4,513.9 L552.6,515.8 L555.4,515.3 Z" fill="#111"/>
</svg>
</body></html>
